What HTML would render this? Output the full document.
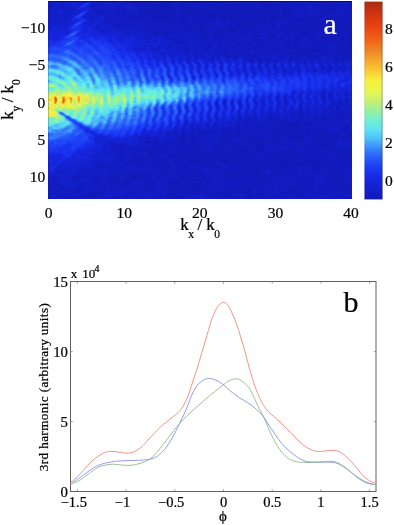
<!DOCTYPE html>
<html><head><meta charset="utf-8"><title>figure</title>
<style>
html,body{margin:0;padding:0;background:#fff}
body{width:394px;height:525px;position:relative;overflow:hidden;font-family:"Liberation Serif",serif}
#h{position:absolute;left:48px;top:1px;width:304px;height:198px;background:#1018c4}
#h i{display:block;height:1px;width:100%}
#hb{position:absolute;left:48px;top:1px;width:304px;height:198px;box-sizing:border-box;border-top:1px solid #0a0e50;border-left:1px solid rgba(8,10,90,.22)}
svg{position:absolute;left:0;top:0;will-change:transform}
text{font-family:"Liberation Serif",serif;stroke:#000;stroke-width:.22px}
text.w{stroke:#fff}
</style></head><body>
<div id="h">
<i style="background:linear-gradient(90deg,#111abc,#121ec8,#121cc0,#1320cf,#121dc6,#1322d3,#121dc5,#111bbf,#121ec7,#121fca,#121fcb,#121dc5,#121dc4,#1320cf,#1323d5,#121fcc,#121dc5,#121ec8,#1321d0,#111bc0,#121ec7,#1323d5,#1220cc,#121ec9,#121ec7,#121fca,#121dc3,#121cc0,#121fcb,#111bc0,#1119b9,#121fca,#121cc2,#121dc5,#121dc4,#121dc5,#1320cf,#121dc5,#121ec7,#1119b8,#121cc0,#1119b9,#1119b9,#1119b9,#1119b8,#121cc0,#1119b8,#111abd,#111bbf,#1119b8,#1119b8,#1119b8,#111aba,#121cc2,#111abc,#1119b8,#121cc3,#121ec8,#1119b8,#111aba,#111abc,#1119b8,#111aba,#111abd,#111bbf,#121dc6,#111bbd,#1119b9,#1119b8,#111bbd,#1119b8,#111bbf,#1119b9,#121cc1,#111aba,#111aba,#121cc2,#111aba,#1119b8,#1119b8,#111bbe,#111abc,#111abb,#1119b9,#111bbf,#111abc,#1119b8,#1119b8,#1119b9,#1119b8,#1119b8,#1119b8,#111bbe,#1119b8,#121dc4,#111abb,#111bbd,#1119b9,#111bbe,#111bbe,#121cc1,#111bbe,#111abb,#111bbe,#121cc2,#121ec7,#1119b8,#1119b8,#111bbd,#1119b8,#111aba,#111abb,#1119b8,#1119b8,#1119b8,#121cc3,#1119b8,#1119b9,#111abc,#1119b9,#121cc3,#121cc3,#121cc1,#111abd,#111aba,#111bbe,#111abb,#111bbf,#121cc1,#121dc5,#121dc5,#121dc4,#111bbf,#111bc0,#111bbf,#1119b8,#111abb,#111abc,#111abd,#1119b9,#111bbe,#111bbf,#111bc0,#111abd,#111bbe,#1119b8,#121cc1,#111bbf,#121cc1,#111bbf,#121ec9,#1119b8,#111abc)"></i>
<i style="background:linear-gradient(90deg,#111abc,#121ec8,#121cc0,#1321cf,#121ec6,#1322d4,#121dc5,#111bc0,#121ec7,#121fca,#121fcb,#121dc5,#121dc4,#1320cf,#1323d6,#121fcb,#121cc3,#121fca,#1322d2,#121cc2,#1527df,#1527df,#121ec7,#121ec8,#121ec7,#121ec9,#121dc3,#121cc0,#121fcb,#121cc0,#1119b9,#121fca,#121cc2,#121dc5,#121dc4,#121dc5,#1320cf,#121dc5,#121ec7,#1119b8,#121cc0,#1119b9,#1119b9,#1119b9,#1119b8,#121cc0,#1119b8,#111abd,#111bbf,#1119b8,#1119b8,#1119b8,#111aba,#121cc2,#111abc,#1119b8,#121cc3,#121ec8,#1119b8,#111aba,#111abc,#1119b8,#111aba,#111abd,#111bbf,#121dc6,#111bbd,#1119b9,#1119b8,#111bbd,#1119b8,#111bbf,#1119b9,#121cc1,#111aba,#111aba,#121cc2,#111aba,#1119b8,#1119b8,#111bbe,#111abc,#111abb,#1119b9,#111bbf,#111abc,#1119b8,#1119b8,#1119b9,#1119b8,#1119b8,#1119b8,#111bbe,#1119b8,#121dc4,#111abb,#111bbd,#1119b9,#111bbe,#111bbe,#121cc1,#111bbe,#111abb,#111bbe,#121cc2,#121ec7,#1119b8,#1119b8,#111bbd,#1119b8,#111aba,#111abb,#1119b8,#1119b8,#1119b8,#121cc3,#1119b8,#1119b9,#111abc,#1119b9,#121cc3,#121cc3,#121cc1,#111abd,#111aba,#111bbe,#111abb,#111bbf,#121cc1,#121dc5,#121dc5,#121dc4,#111bbf,#111bc0,#111bbf,#1119b8,#111abb,#111abc,#111abd,#1119b9,#111bbe,#111bbf,#111bc0,#111abd,#111bbe,#1119b8,#121cc1,#111bbf,#121cc1,#111bbf,#121ec9,#1119b8,#111abc)"></i>
<i style="background:linear-gradient(90deg,#121ec7,#111bbf,#111bc0,#121fcb,#121fcb,#1321d1,#121cc3,#121cc1,#121cc0,#1220cd,#121fca,#1320cd,#1220cd,#1220cd,#1323d5,#121fca,#121fcc,#121cc2,#1423d7,#182feb,#1b38f2,#1424d9,#111bbf,#111bbd,#121dc4,#121cc2,#111bbf,#121dc6,#121ec9,#1320cd,#1320ce,#121fcc,#121dc5,#121dc4,#1321d2,#121dc6,#111bbe,#1119b9,#121dc4,#121ec6,#121cc0,#121ec8,#121cc2,#111bbe,#1119b8,#1119b8,#111bc0,#111bc0,#121cc1,#1119b8,#1119b8,#1119b8,#1119b8,#111abd,#111abc,#121cc3,#111aba,#111bbd,#1119b8,#1119b8,#1119b8,#1119b8,#111bbd,#121ec9,#121cc1,#1119b8,#1119b8,#1119b8,#1119b8,#1119b8,#111bbf,#111bbf,#121dc3,#111bbf,#121cc0,#121dc4,#1119b8,#121dc6,#111abc,#1119b8,#121cc3,#1119b8,#111abb,#111bbd,#111abc,#111abc,#1119b8,#111bc0,#1119b8,#1119b8,#1119b8,#121cc3,#121dc3,#1119b8,#121cc2,#111bbd,#111abb,#1119b8,#1119b8,#1119b8,#121cc0,#1119ba,#1119b8,#1119b8,#121ec7,#111bc0,#1119b8,#1119b8,#1119b8,#111abb,#1119b8,#1119b8,#1119b8,#1119b8,#1119b8,#1119b8,#1119b8,#1119b8,#111bc0,#111abb,#1119b8,#111abb,#1119b8,#111abd,#111abc,#1119b9,#121cc1,#121cc2,#121cc0,#121cc3,#111bbe,#121cc1,#121ec6,#1119b8,#121cc0,#111bbd,#111bbd,#1119b8,#1119b8,#111bbe,#111abb,#111abb,#111bbf,#1119b8,#111bbe,#111aba,#121dc5,#121ec8,#121dc3,#111bbe,#1119b8,#1119b8,#1119b8)"></i>
<i style="background:linear-gradient(90deg,#121ec7,#111bbf,#111bc0,#121fcb,#121fcb,#1321d1,#121dc3,#121cc1,#121cc0,#1320cd,#121fca,#1320cd,#1320cd,#1320cd,#1323d5,#121fca,#1320cd,#121dc3,#1933f0,#1e41f5,#172ce7,#1220cd,#111bc0,#111bbd,#121dc4,#121cc3,#111bbf,#121dc5,#121ec9,#1320ce,#1320cf,#121fcc,#121dc5,#121dc4,#1321d2,#121ec6,#111bbe,#1119b9,#121dc4,#121ec6,#111bc0,#121ec8,#121cc2,#111bbe,#1119b8,#1119b8,#111bc0,#111bc0,#121cc1,#1119b8,#1119b8,#1119b8,#1119b8,#111abd,#111abc,#121cc3,#111aba,#111bbd,#1119b8,#1119b8,#1119b8,#1119b8,#111bbd,#121ec9,#121cc1,#1119b8,#1119b8,#1119b8,#1119b8,#1119b8,#111bbf,#111bbf,#121dc3,#111bbf,#121cc0,#121dc4,#1119b8,#121dc6,#111abc,#1119b8,#121cc3,#1119b8,#111abb,#111bbd,#111abc,#111abc,#1119b8,#111bc0,#1119b8,#1119b8,#1119b8,#121cc3,#121dc3,#1119b8,#121cc2,#111bbd,#111abb,#1119b8,#1119b8,#1119b8,#121cc0,#1119ba,#1119b8,#1119b8,#121ec7,#111bc0,#1119b8,#1119b8,#1119b8,#111abb,#1119b8,#1119b8,#1119b8,#1119b8,#1119b8,#1119b8,#1119b8,#1119b8,#111bc0,#111abb,#1119b8,#111abb,#1119b8,#111abd,#111abc,#1119b9,#121cc1,#121cc2,#121cc0,#121cc3,#111bbe,#121cc1,#121ec6,#1119b8,#121cc0,#111bbd,#111bbd,#1119b8,#1119b8,#111bbe,#111abb,#111abb,#111bbf,#1119b8,#111bbe,#111aba,#121dc5,#121ec8,#121dc3,#111bbe,#1119b8,#1119b8,#1119b8)"></i>
<i style="background:linear-gradient(90deg,#121ec9,#1119b8,#1119ba,#121cc1,#121fca,#1321d1,#121fcc,#111abb,#121ec7,#1321d0,#121ec8,#121fcb,#1320cf,#1321d0,#1321d1,#121cc3,#121dc4,#1424d8,#1e41f5,#172de8,#1321d1,#121dc5,#111bbf,#111bbe,#111aba,#121dc3,#111bbe,#121dc4,#121ec8,#1322d3,#1320ce,#121ec7,#121fcb,#121ec8,#121fca,#121cc0,#111bbd,#121cc3,#121ec8,#121ec7,#121fca,#121ec8,#121cc0,#121cc0,#111bbe,#111bbe,#111bc0,#121dc6,#121dc6,#111abb,#111bbd,#1119b8,#121cc0,#111bbe,#111bbf,#111bbe,#1119b8,#1119b8,#1119b8,#1119b8,#1119b9,#1119ba,#111bbd,#121dc4,#121dc3,#121dc4,#1119b8,#1119b8,#111abd,#121cc0,#1119b9,#111bbd,#121cc1,#121dc4,#121dc6,#121ec7,#1119b8,#111bbd,#121fca,#121dc4,#111aba,#1119b8,#1119b9,#111abd,#111abd,#111bbf,#111bc0,#111bbe,#1119b8,#111bbd,#1119b8,#111abb,#111abc,#1119b8,#111abb,#121dc3,#111bc0,#1119b8,#111abb,#111aba,#1119b8,#111abb,#1119b8,#121ec9,#111bbd,#1119b8,#111bbe,#1119b8,#111abc,#111abb,#121cc1,#111abb,#1119b8,#111bbd,#111bc0,#1119b8,#1119b8,#1119b8,#111abc,#111bbd,#121cc3,#1119b8,#111abb,#111bbe,#121dc4,#121cc0,#1119b9,#121cc1,#1119b8,#111bbf,#121ec7,#121ec7,#121dc5,#1119b8,#121ec7,#1119b8,#1119b9,#111bbe,#111bbd,#111bbf,#1119b8,#111bbf,#111bbf,#121cc1,#111abc,#111bbf,#111bc0,#121cc1,#111bbe,#111abc,#1119b9,#1119b8,#1119b8)"></i>
<i style="background:linear-gradient(90deg,#121ec9,#1119b8,#1119ba,#121cc0,#121fca,#1321d1,#121fcc,#111abb,#121ec7,#1321d0,#121ec8,#121fcb,#1320cf,#1321d1,#1321d1,#121dc4,#1321d0,#1a35f1,#1b37f2,#121ec9,#1321d0,#121dc4,#111bbf,#111bbe,#111aba,#121dc4,#111bbf,#121dc4,#121ec8,#1322d3,#1320ce,#121ec7,#121fcb,#121ec8,#121fca,#121cc0,#111bbd,#121cc3,#121ec9,#121ec7,#121fca,#121ec8,#121cc0,#121cc0,#111bbe,#111bbe,#111bc0,#121dc6,#121dc6,#111abb,#111bbd,#1119b8,#121cc0,#111bbe,#111bbf,#111bbe,#1119b8,#1119b8,#1119b8,#1119b8,#1119b9,#1119ba,#111bbd,#121dc4,#121dc3,#121dc4,#1119b8,#1119b8,#111abd,#121cc0,#1119b9,#111bbd,#121cc1,#121dc4,#121dc6,#121ec7,#1119b8,#111bbd,#121fca,#121dc4,#111aba,#1119b8,#1119b9,#111abd,#111abd,#111bbf,#111bc0,#111bbe,#1119b8,#111bbd,#1119b8,#111abb,#111abc,#1119b8,#111abb,#121dc3,#111bc0,#1119b8,#111abb,#111aba,#1119b8,#111abb,#1119b8,#121ec9,#111bbd,#1119b8,#111bbe,#1119b8,#111abc,#111abb,#121cc1,#111abb,#1119b8,#111bbd,#111bc0,#1119b8,#1119b8,#1119b8,#111abc,#111bbd,#121cc3,#1119b8,#111abb,#111bbe,#121dc4,#121cc0,#1119b9,#121cc1,#1119b8,#111bbf,#121ec7,#121ec7,#121dc5,#1119b8,#121ec7,#1119b8,#1119b9,#111bbe,#111bbd,#111bbf,#1119b8,#111bbf,#111bbf,#121cc1,#111abc,#111bbf,#111bc0,#121cc1,#111bbe,#111abc,#1119b9,#1119b8,#1119b8)"></i>
<i style="background:linear-gradient(90deg,#121ec7,#121cc0,#121fcc,#1321d0,#121ec9,#1320cd,#1320ce,#121cc2,#111bbf,#121ec8,#121cc2,#111bbf,#111bbf,#121dc5,#121fcb,#1424d9,#182eea,#1830ed,#1321d1,#1322d4,#1323d6,#121ec8,#111bbd,#121cc1,#121fca,#121fcb,#121fcb,#121cc3,#111bbe,#121fca,#121ec7,#121ec9,#121fcc,#1220cd,#121ec7,#1119b8,#111aba,#121dc5,#1119b9,#111bc0,#121ec6,#121fcc,#121fca,#1220cd,#121dc4,#121cc3,#111bbf,#111abc,#111bbf,#121dc5,#111bbf,#111aba,#111abc,#1119b8,#1119b8,#111bbd,#121cc0,#111abc,#111abb,#111aba,#1119b8,#1119b8,#111bbd,#111bc0,#121cc0,#121ec7,#111bbe,#1119b8,#111abb,#111bbe,#1119b9,#111aba,#111abb,#111bc0,#111bc0,#1119b8,#1119b8,#1119b8,#121dc5,#121dc4,#121fcc,#111bbd,#111abd,#1119b8,#1119b8,#111abc,#111abd,#1119b8,#1119b8,#121cc0,#111bbd,#111aba,#111abc,#1119b8,#1119b8,#121ec8,#121dc5,#111bbf,#111abc,#111bbd,#111bbe,#111abd,#1119b8,#111bbf,#1119b8,#111bbe,#1220cd,#111bbe,#111bbf,#111bc0,#111abb,#111bbf,#111abb,#1119b8,#121cc2,#111bbd,#111abb,#111aba,#1119b8,#1119b8,#111aba,#1119b8,#1119b8,#1119b8,#111bbe,#121dc6,#121dc3,#111abd,#111abc,#1119b8,#121dc5,#121cc1,#121cc2,#121dc4,#111abc,#111bc0,#1119b9,#111bbe,#1119b8,#111bc0,#121cc1,#111bbe,#1119b8,#1119b8,#1119b8,#121dc4,#121cc2,#111abb,#1119b8,#1119b8,#1119b8,#121cc0,#111bbf)"></i>
<i style="background:linear-gradient(90deg,#121ec7,#121cc0,#1220cc,#1321d1,#121ec9,#1320ce,#1320ce,#121cc2,#111bbf,#121ec8,#121cc2,#111bbf,#111bbf,#121dc5,#1320ce,#162be5,#172de8,#1320ce,#1322d2,#1322d4,#1323d5,#121fcb,#121cc0,#111bc0,#121fca,#121fcb,#121fcc,#121dc4,#111bbf,#121fca,#121ec7,#121ec9,#1220cc,#1220cd,#121ec7,#1119b8,#111aba,#121dc5,#1119b9,#111bc0,#121ec7,#121fcc,#121fca,#1220cd,#121dc4,#121cc3,#111bbf,#111abc,#111bbf,#121dc5,#111bbf,#111aba,#111abc,#1119b8,#1119b8,#111bbd,#121cc0,#111abc,#111abb,#111aba,#1119b8,#1119b8,#111bbd,#111bc0,#121cc0,#121ec7,#111bbe,#1119b8,#111abb,#111bbe,#1119b9,#111aba,#111abb,#111bc0,#111bc0,#1119b8,#1119b8,#1119b8,#121dc5,#121dc4,#121fcc,#111bbd,#111abd,#1119b8,#1119b8,#111abc,#111abd,#1119b8,#1119b8,#121cc0,#111bbd,#111aba,#111abc,#1119b8,#1119b8,#121ec8,#121dc5,#111bbf,#111abc,#111bbd,#111bbe,#111abd,#1119b8,#111bbf,#1119b8,#111bbe,#1220cd,#111bbe,#111bbf,#111bc0,#111abb,#111bbf,#111abb,#1119b8,#121cc2,#111bbd,#111abb,#111aba,#1119b8,#1119b8,#111aba,#1119b8,#1119b8,#1119b8,#111bbe,#121dc6,#121dc3,#111abd,#111abc,#1119b8,#121dc5,#121cc1,#121cc2,#121dc4,#111abc,#111bc0,#1119b9,#111bbe,#1119b8,#111bc0,#121cc1,#111bbe,#1119b8,#1119b8,#1119b8,#121dc4,#121cc2,#111abb,#1119b8,#1119b8,#1119b8,#121cc0,#111bbf)"></i>
<i style="background:linear-gradient(90deg,#121ec6,#121dc4,#121fcb,#121cc2,#121dc6,#1320cd,#1322d2,#121fca,#1320ce,#121cc3,#121dc5,#121fca,#121ec7,#121cc3,#1320ce,#1423d7,#1220cd,#1323d6,#1424da,#1423d8,#1321d2,#1424da,#121ec8,#121ec8,#111bbe,#1119b9,#111abb,#121cc1,#121dc3,#1321d1,#121ec8,#121dc6,#121ec7,#121cc2,#1119b8,#111bc0,#121cc1,#121ec8,#111aba,#111aba,#121dc6,#121dc4,#121dc6,#121ec9,#121dc4,#111abc,#1119b8,#111aba,#111abb,#1119b8,#1119b8,#1119b9,#111abb,#1119b8,#1119b9,#111abc,#121cc0,#111aba,#111bbd,#1119b9,#1119b8,#111bc0,#1119b8,#1119b8,#121cc0,#121dc3,#111abc,#111bbd,#111aba,#111bbe,#1119b8,#111bbf,#1119b8,#1119b9,#121cc3,#111bc0,#1119b9,#1119b8,#1119b8,#111bbf,#111aba,#121cc3,#121dc5,#111bbe,#121cc2,#121fcb,#111bbf,#1119b8,#111aba,#111bbe,#1119b8,#1119b8,#111bbe,#111abb,#1119b8,#1119b9,#121cc1,#111abb,#1119b8,#111abb,#111abb,#1119b8,#111aba,#111bbf,#1119b8,#111abb,#121cc1,#1119b8,#111abc,#111abc,#1119b8,#111bbe,#111aba,#111bc0,#111bbf,#121cc2,#111bbf,#111bbf,#111abb,#1119b8,#111bbf,#1119b8,#1119b8,#1119b8,#111aba,#111bbe,#111bbd,#111bbf,#111bbe,#111abc,#121cc0,#121cc0,#121fca,#1119b9,#1119b9,#121cc3,#1119b8,#111bbe,#1119b8,#1119b8,#1119b8,#1119b8,#1119b8,#1119b8,#111aba,#111abb,#111bbd,#121cc3,#111aba,#111bbf,#1119b8,#111abb,#1119b8)"></i>
<i style="background:linear-gradient(90deg,#121ec7,#121dc5,#121fcb,#121cc2,#121dc6,#1320ce,#1322d3,#121fca,#1320ce,#121dc4,#121dc5,#121fcb,#121ec8,#121dc5,#1320cf,#121fcb,#1320cd,#1423d7,#1424da,#1527e0,#162ae3,#1323d6,#121dc4,#121ec8,#111bbd,#1119b8,#111abb,#121cc1,#121dc4,#1322d2,#121ec9,#121dc6,#121ec7,#121cc2,#1119b8,#111bc0,#121cc1,#121ec8,#111aba,#111aba,#121ec6,#121dc4,#121dc6,#121ec9,#121dc4,#111abc,#1119b8,#111aba,#111abb,#1119b8,#1119b8,#1119b9,#111abb,#1119b8,#1119b9,#111abc,#121cc0,#111aba,#111bbd,#1119b9,#1119b8,#111bc0,#1119b8,#1119b8,#121cc0,#121dc3,#111abc,#111bbd,#111aba,#111bbe,#1119b8,#111bbf,#1119b8,#1119b9,#121cc3,#111bc0,#1119b9,#1119b8,#1119b8,#111bbf,#111aba,#121cc3,#121dc5,#111bbe,#121cc2,#121fcb,#111bbf,#1119b8,#111aba,#111bbe,#1119b8,#1119b8,#111bbe,#111abb,#1119b8,#1119b9,#121cc1,#111abb,#1119b8,#111abb,#111abb,#1119b8,#111aba,#111bbf,#1119b8,#111abb,#121cc1,#1119b8,#111abc,#111abc,#1119b8,#111bbe,#111aba,#111bc0,#111bbf,#121cc2,#111bbf,#111bbf,#111abb,#1119b8,#111bbf,#1119b8,#1119b8,#1119b8,#111aba,#111bbe,#111bbd,#111bbf,#111bbe,#111abc,#121cc0,#121cc0,#121fca,#1119b9,#1119b9,#121cc3,#1119b8,#111bbe,#1119b8,#1119b8,#1119b8,#1119b8,#1119b8,#1119b8,#111aba,#111abb,#111bbd,#121cc3,#111aba,#111bbf,#1119b8,#111abb,#1119b8)"></i>
<i style="background:linear-gradient(90deg,#121fca,#121dc6,#121ec8,#121fcb,#121ec7,#1321d1,#1425db,#121fca,#1321d1,#121fcc,#111bc0,#121dc5,#121ec6,#121ec9,#1320ce,#121ec7,#1322d3,#1424da,#1424d9,#1b37f2,#1321d2,#121ec6,#121cc0,#121dc4,#121dc4,#121cc3,#111abc,#111bbd,#121dc5,#121fca,#121dc4,#121ec7,#121ec9,#121fca,#121dc3,#111aba,#121cc1,#121ec9,#121cc2,#121dc5,#121dc5,#121fc9,#121ec7,#121dc5,#121dc5,#121fca,#111abc,#1119b9,#121cc1,#1119b8,#1119b8,#1119b8,#1119b8,#1119b8,#111abc,#121cc1,#121cc2,#111abb,#111bbd,#111abc,#111bbd,#111aba,#121ec7,#111abc,#121ec7,#121ec9,#111bbd,#111bbe,#111abc,#111abb,#111aba,#1119b8,#1119b8,#1119b8,#1119b8,#1119b8,#1119b9,#121cc1,#1119b8,#121cc2,#1119b8,#1119b9,#1119b8,#111abb,#121cc0,#111abb,#121dc4,#121cc2,#121cc1,#1119b8,#1119b8,#1119b8,#1119b8,#111abb,#111abc,#111bbd,#111bbf,#121cc0,#1119b8,#1119b8,#111bbd,#111abc,#111bbf,#111aba,#1119b8,#111abc,#1119b8,#111abb,#111abc,#1119b8,#1119b8,#1119b8,#1119b8,#1119b8,#111abc,#111abb,#121cc2,#111bbf,#1119b8,#1119b8,#1119b8,#1119b8,#1119b8,#111abc,#121cc2,#111bbf,#121dc4,#121cc0,#111abc,#111aba,#111bbe,#121cc2,#121dc5,#111bbd,#111abb,#121fca,#1119b9,#111bbd,#1119b8,#111bbf,#1119b8,#111aba,#121cc2,#1119b8,#111bc0,#111bbe,#121cc1,#111bc0,#111bc0,#111aba,#1119b8,#1119b8,#1119b8)"></i>
<i style="background:linear-gradient(90deg,#121fca,#121dc6,#121ec8,#121fcb,#121ec7,#1321d1,#1425db,#121fca,#1321d1,#1220cc,#121cc0,#121dc6,#121ec7,#121ec8,#1320cf,#121ec9,#1322d5,#1528e1,#1d3ef4,#1a34f1,#111bc0,#121dc5,#121cc1,#121dc5,#121dc5,#121dc3,#111abc,#111abd,#121dc5,#121fca,#121dc5,#121ec8,#121ec9,#121fca,#121dc4,#111abb,#121cc1,#121ec9,#121cc2,#121dc5,#121dc5,#121fca,#121ec7,#121dc5,#121dc5,#121fca,#111abc,#1119b9,#121cc1,#1119b8,#1119b8,#1119b8,#1119b8,#1119b8,#111abc,#121cc1,#121cc2,#111abb,#111bbd,#111abc,#111bbd,#111aba,#121ec7,#111abc,#121ec7,#121ec9,#111bbd,#111bbe,#111abc,#111abb,#111aba,#1119b8,#1119b8,#1119b8,#1119b8,#1119b8,#1119b9,#121cc1,#1119b8,#121cc2,#1119b8,#1119b9,#1119b8,#111abb,#121cc0,#111abb,#121dc4,#121cc2,#121cc1,#1119b8,#1119b8,#1119b8,#1119b8,#111abb,#111abc,#111bbd,#111bbf,#121cc0,#1119b8,#1119b8,#111bbd,#111abc,#111bbf,#111aba,#1119b8,#111abc,#1119b8,#111abb,#111abc,#1119b8,#1119b8,#1119b8,#1119b8,#1119b8,#111abc,#111abb,#121cc2,#111bbf,#1119b8,#1119b8,#1119b8,#1119b8,#1119b8,#111abc,#121cc2,#111bbf,#121dc4,#121cc0,#111abc,#111aba,#111bbe,#121cc2,#121dc5,#111bbd,#111abb,#121fca,#1119b9,#111bbd,#1119b8,#111bbf,#1119b8,#111aba,#121cc2,#1119b8,#111bc0,#111bbe,#121cc1,#111bc0,#111bc0,#111aba,#1119b8,#1119b8,#1119b8)"></i>
<i style="background:linear-gradient(90deg,#121cc2,#121fca,#121ec8,#1322d3,#121dc5,#1320ce,#1220cc,#121fca,#121dc6,#121ec9,#121dc6,#121fca,#121fcb,#121fcc,#121dc6,#1323d5,#1425db,#2047f7,#1f44f6,#1323d5,#121ec7,#121fcb,#121ec9,#121dc6,#121dc5,#111abc,#121cc3,#121ec8,#121cc1,#121fca,#121fca,#121cc2,#121dc4,#121ec8,#121cc1,#121cc3,#121fca,#121ec7,#1119b8,#121cc2,#121dc6,#111abc,#1119b8,#121cc2,#1321d2,#121cc3,#121cc0,#1119b9,#121cc1,#111bbf,#111bbe,#111abc,#121cc1,#121cc2,#111bbf,#111bbf,#111abb,#111abb,#111bc0,#111abc,#111abd,#111aba,#111abb,#121dc5,#111bbf,#111bbf,#1119b8,#111abd,#1119b8,#121cc0,#1119b8,#1119b8,#1119b9,#111aba,#1119b8,#1119b8,#1119b8,#1119b8,#1119b8,#121cc0,#1119b8,#111abd,#1119b8,#1119b8,#1119b8,#111aba,#1119b8,#1119b8,#1119b8,#1119b8,#111abc,#1119b8,#1119b8,#1119b8,#111abb,#111bbf,#121cc2,#111bbd,#111abb,#1119b8,#1119b8,#1119b8,#111aba,#1119b8,#111bbf,#1119b8,#111bbf,#111aba,#111abb,#111abb,#111bbe,#1119b8,#111bc0,#1119b9,#111aba,#111abb,#111abb,#111aba,#1119b8,#1119b8,#121cc2,#1119b8,#1119b8,#1119b8,#121dc4,#111abc,#121dc6,#121cc0,#1119ba,#1119b9,#111abc,#111bbf,#121dc4,#1119b9,#111abb,#111bc0,#111aba,#1119b8,#111bbf,#111bbf,#121cc1,#111bbf,#111bbe,#121cc3,#111bbd,#121cc2,#121dc5,#111bbf,#111abb,#1119b8,#1119b9,#1119b8,#1119b8)"></i>
<i style="background:linear-gradient(90deg,#121cc2,#121fca,#121ec8,#1322d3,#121dc5,#1320ce,#121fcc,#121fca,#121dc6,#121ec9,#121dc6,#121fca,#121fcb,#1320cd,#121ec8,#1424d9,#1e42f5,#224cf9,#1629e3,#121fcc,#121dc6,#121fcb,#121ec9,#121dc6,#121dc6,#111bbd,#121dc4,#121ec8,#121cc0,#121fca,#121fcb,#121cc2,#121dc4,#121ec8,#121cc2,#121cc3,#121fca,#121ec7,#1119b8,#121cc2,#121dc6,#111abc,#1119b8,#121cc2,#1321d2,#121cc3,#121cc0,#1119b9,#121cc1,#111bbf,#111bbe,#111abc,#121cc1,#121cc2,#111bc0,#111bbf,#111abb,#111abb,#111bc0,#111abc,#111abd,#111aba,#111abb,#121dc5,#111bbf,#111bbf,#1119b8,#111abd,#1119b8,#121cc0,#1119b8,#1119b8,#1119b9,#111aba,#1119b8,#1119b8,#1119b8,#1119b8,#1119b8,#121cc0,#1119b8,#111abd,#1119b8,#1119b8,#1119b8,#111aba,#1119b8,#1119b8,#1119b8,#1119b8,#111abc,#1119b8,#1119b8,#1119b8,#111abb,#111bbf,#121cc2,#111bbd,#111abb,#1119b8,#1119b8,#1119b8,#111aba,#1119b8,#111bbf,#1119b8,#111bbf,#111aba,#111abb,#111abb,#111bbe,#1119b8,#111bc0,#1119b9,#111aba,#111abb,#111abb,#111aba,#1119b8,#1119b8,#121cc2,#1119b8,#1119b8,#1119b8,#121dc4,#111abc,#121dc6,#121cc0,#1119ba,#1119b9,#111abc,#111bbf,#121dc4,#1119b9,#111abb,#111bc0,#111aba,#1119b8,#111bbf,#111bbf,#121cc1,#111bbf,#111bbe,#121cc3,#111bbd,#121cc2,#121dc5,#111bbf,#111abb,#1119b8,#1119b9,#1119b8,#1119b8)"></i>
<i style="background:linear-gradient(90deg,#121ec9,#121dc4,#111abb,#121fcb,#121dc6,#1321d2,#121cc3,#111bbf,#121fcb,#121fcc,#121dc5,#121cc3,#121ec7,#1322d4,#1424d8,#1c3cf3,#2350fa,#172de8,#1322d3,#121fcc,#121dc5,#121dc6,#121cc3,#121cc2,#121fcb,#1320cd,#1320ce,#1321cf,#111bbf,#121dc5,#121ec8,#1119b8,#111bc0,#121dc4,#121cc1,#121dc3,#121cc2,#121cc2,#121dc3,#121cc2,#111abb,#1119b8,#111abc,#121cc2,#121ec9,#111bbe,#121dc6,#1119b9,#111bc0,#111bbd,#111bc0,#121cc1,#111bbe,#1119b8,#1119b8,#1119b8,#111abc,#1119b8,#1119b8,#1119b8,#1119b8,#1119b9,#1119b8,#1119b8,#121ec9,#121ec7,#111abb,#1119b9,#1119b8,#121ec7,#111abb,#111bc0,#111abb,#1119b8,#121cc1,#111abd,#111bbe,#1119b8,#111abc,#1119b8,#1119b9,#1119b8,#1119b8,#1119b9,#1119b8,#111abc,#121cc1,#1119b8,#1119b8,#1119b8,#111abc,#1119b8,#1119b8,#1119b8,#121ec7,#111bbd,#111bbf,#1119b8,#121ec8,#121cc0,#111abb,#121dc5,#1119b8,#111abb,#1119b8,#1119b8,#121cc3,#1119b8,#111abc,#111abb,#1119b9,#1119b8,#1119b8,#1119b8,#1119b8,#1119b8,#121dc3,#111aba,#111abb,#1119b8,#1119b8,#1119b8,#111aba,#121cc3,#121cc1,#121dc4,#111abc,#111bbf,#111abd,#1119ba,#121dc4,#111aba,#121ec7,#1119b8,#1119b8,#111aba,#1119b8,#111bbf,#111abc,#121cc1,#111bbd,#121cc1,#111bc0,#111bbe,#1119b8,#1119ba,#111bbd,#1119b8,#121dc4,#121cc2,#111bbd,#111bbf,#111abc)"></i>
<i style="background:linear-gradient(90deg,#121fca,#121dc5,#111abc,#121fcb,#121dc6,#1322d2,#121dc3,#111bc0,#121fcc,#1220cc,#121dc5,#121cc2,#121ec7,#1322d4,#1830ee,#2047f7,#1b38f2,#1323d6,#1322d2,#121fcb,#121dc5,#121ec8,#121dc3,#121cc2,#121fcb,#1320ce,#1320cf,#1321d1,#111bc0,#121dc5,#121ec8,#1119b8,#121cc0,#121dc5,#121cc1,#121dc4,#121cc2,#121cc2,#121dc4,#121cc2,#111abb,#1119b8,#111abc,#121cc2,#121ec9,#111bbe,#121dc6,#1119b9,#111bc0,#111bbd,#111bc0,#121cc1,#111bbe,#1119b8,#1119b8,#1119b8,#111abc,#1119b8,#1119b9,#1119b8,#1119b8,#1119b9,#1119b8,#1119b8,#121ec9,#121ec7,#111abb,#1119b9,#1119b8,#121ec7,#111abc,#111bc0,#111abb,#1119b8,#121cc1,#111abd,#111bbe,#1119b8,#111abc,#1119b8,#1119b9,#1119b8,#1119b8,#1119b9,#1119b8,#111abc,#121cc1,#1119b8,#1119b8,#1119b8,#111abc,#1119b8,#1119b8,#1119b8,#121ec7,#111bbd,#111bbf,#1119b8,#121ec8,#121cc0,#111abb,#121dc5,#1119b8,#111abb,#1119b8,#1119b8,#121cc3,#1119b8,#111abc,#111abb,#1119b9,#1119b8,#1119b8,#1119b8,#1119b8,#1119b8,#121dc3,#111aba,#111abb,#1119b8,#1119b8,#1119b8,#111aba,#121cc3,#121cc1,#121dc4,#111abc,#111bbf,#111abd,#1119ba,#121dc4,#111aba,#121ec7,#1119b8,#1119b8,#111aba,#1119b8,#111bbf,#111abc,#121cc1,#111bbd,#121cc1,#111bc0,#111bbe,#1119b8,#1119ba,#111bbd,#1119b8,#121dc4,#121cc2,#111bbd,#111bbf,#111abc)"></i>
<i style="background:linear-gradient(90deg,#1220cc,#121ec7,#121cc3,#121fcb,#121ec8,#1220cd,#121fcb,#121dc4,#1320cf,#111bc0,#121ec6,#121cc1,#121dc5,#172ce6,#1c3bf3,#1b38f2,#162be6,#172ce6,#1321d0,#121ec7,#1321d0,#121fca,#111bbe,#1320ce,#1321d1,#121fcc,#1321d2,#1424d9,#121dc6,#121cc1,#111bbd,#111bbf,#121dc4,#111bbf,#111abb,#111bbf,#121cc1,#121ec8,#111bbe,#111bbf,#1119b9,#111abc,#111bbd,#1119b8,#111abc,#1119b8,#111bbf,#111abd,#111bbf,#121cc1,#121cc1,#121ec9,#111aba,#1119b8,#1119b8,#111abd,#1119b8,#111abb,#121cc1,#1119b8,#111bbd,#121ec7,#111bbd,#111abb,#121cc1,#111bbd,#1119b8,#1119b8,#111bbf,#1119b9,#111bbe,#111bbd,#121cc1,#1119b8,#111bbd,#111aba,#1119ba,#111bbe,#1119b8,#1119b8,#111bbf,#1119b8,#1119b8,#1119b8,#111bbf,#121dc5,#121cc2,#111bbf,#1119b8,#1119b8,#111bbf,#1119b8,#1119b8,#1119b8,#111aba,#1119b8,#111abb,#111bbe,#111abd,#111bbe,#111aba,#111abd,#1119b8,#1119b9,#111abb,#111abd,#111abb,#1119b8,#1119b8,#1119b8,#111bc0,#111aba,#1119b8,#1119b8,#1119b8,#1119b9,#111abc,#111bbd,#111abb,#1119b8,#111abb,#1119b8,#1119b8,#111abb,#111bbd,#111bbf,#121cc0,#111abc,#111abb,#1119b8,#1119b9,#111bbe,#121cc1,#1119b8,#1119b8,#111bbd,#111bbf,#111abb,#111bbe,#111bbd,#1119b9,#1119b8,#111abb,#111aba,#1119b8,#111abb,#111bbd,#121cc0,#111bc0,#121dc5,#111abc,#1119b8,#111bbf)"></i>
<i style="background:linear-gradient(90deg,#1220cd,#121ec8,#121dc4,#121fcb,#121ec9,#1320cd,#121fcc,#121dc5,#1321cf,#121cc1,#121ec7,#121cc2,#121fca,#1932f0,#1831ee,#162be5,#162be6,#162be5,#1320cf,#1321d0,#1321d2,#121ec9,#111bbe,#1320ce,#1321d1,#121fcc,#1322d2,#1424da,#121ec7,#121cc2,#111bbd,#111bbe,#121dc4,#111bbf,#111abc,#111bbf,#121cc1,#121ec8,#111bbe,#111bbf,#1119ba,#111abd,#111bbd,#1119b8,#111abc,#1119b8,#111bbf,#111abd,#111bbf,#121cc1,#121cc1,#121ec9,#111aba,#1119b9,#1119b8,#111abd,#1119b9,#111abb,#121cc1,#1119b8,#111bbe,#121ec7,#111bbe,#111abb,#121cc1,#111bbd,#1119b8,#1119b8,#111bbf,#1119b9,#111bbe,#111bbd,#121cc1,#1119b8,#111bbd,#111aba,#111aba,#111bbe,#1119b8,#1119b8,#111bbf,#1119b8,#1119b8,#1119b8,#111bbf,#121dc5,#121cc2,#111bbf,#1119b8,#1119b8,#111bc0,#1119b8,#1119b8,#1119b8,#111aba,#1119b8,#111abb,#111bbe,#111bbd,#111bbe,#111aba,#111abd,#1119b8,#1119b9,#111abb,#111abd,#111abb,#1119b8,#1119b8,#1119b8,#111bc0,#111aba,#1119b8,#1119b8,#1119b8,#1119b9,#111abc,#111bbd,#111abb,#1119b8,#111abb,#1119b8,#1119b8,#111abb,#111bbd,#111bbf,#121cc0,#111abc,#111abb,#1119b8,#1119b9,#111bbe,#121cc1,#1119b8,#1119b8,#111bbd,#111bbf,#111abb,#111bbe,#111bbd,#1119b9,#1119b8,#111abb,#111aba,#1119b8,#111abb,#111bbd,#121cc0,#111bc0,#121dc5,#111abc,#1119b8,#111bbf)"></i>
<i style="background:linear-gradient(90deg,#1321d2,#121dc5,#121fca,#121dc6,#1220cc,#1320cd,#111bbe,#121fca,#121dc6,#121cc1,#1321cf,#121fca,#1526de,#162ae4,#1323d5,#1425dd,#172de8,#162be5,#1830ed,#172ce7,#1320cd,#121ec7,#111bbf,#1320cf,#1322d4,#121fcc,#121dc5,#1321d0,#121ec8,#121cc3,#111bbf,#121cc3,#121ec7,#1321cf,#121fca,#121dc4,#111bbf,#121cc0,#121ec7,#111bbe,#111bc0,#121dc3,#111bbe,#121dc4,#121cc1,#121cc2,#121dc4,#111bbd,#121cc2,#121cc3,#1119b8,#1321d0,#121ec7,#111aba,#111bbd,#111aba,#111bbf,#121cc2,#1119b8,#111bbe,#121cc0,#111aba,#111abc,#111aba,#1119b8,#121cc2,#121dc4,#1119b8,#1119b8,#121cc0,#121dc4,#121ec8,#1220cc,#1119b8,#1119b8,#1119b9,#1119b8,#111abc,#1119b8,#1119b8,#111abc,#1119b8,#1119b8,#1119b9,#111bc0,#121ec7,#121cc3,#121dc3,#111aba,#121cc3,#121cc1,#111bbf,#111abc,#111aba,#121cc0,#111bc0,#111bbe,#1119b8,#121dc5,#1119b8,#111bbe,#111abc,#1119b8,#111abb,#121cc2,#111bbf,#111aba,#121ec7,#1119ba,#1119b8,#121dc6,#111bbe,#111aba,#1119b9,#1119b8,#1119b8,#111bbe,#111bbf,#121cc2,#121dc4,#121cc3,#1119b8,#111abb,#1119b8,#1119b9,#111aba,#111abc,#1119b8,#111abc,#1119b8,#111abd,#111bbf,#1119b8,#111abb,#111abb,#1119b8,#121cc0,#111bbd,#121cc1,#111bbf,#121dc6,#111bbe,#111abc,#111aba,#111bbd,#121cc1,#111abc,#121cc1,#111bc0,#121dc3,#111bc0,#111abd,#111aba)"></i>
<i style="background:linear-gradient(90deg,#1321d1,#121dc5,#121fca,#121dc6,#121fcc,#1320cd,#111bbf,#121fcb,#121dc6,#121cc2,#1321d1,#1320cd,#1426dd,#1425dc,#1424d8,#1526de,#172de8,#1b39f2,#1b37f2,#1527df,#121fcb,#121ec8,#111bc0,#1321d0,#1323d5,#1220cd,#121dc5,#1321d0,#121ec9,#121dc4,#121cc0,#121dc3,#121ec7,#1321cf,#121fcb,#121dc5,#111bbf,#121cc1,#121ec8,#111bbe,#121cc0,#121dc4,#111bbe,#121dc4,#121cc1,#121cc2,#121dc4,#111bbd,#121cc2,#121cc3,#1119b8,#1321d0,#121ec7,#111aba,#111bbd,#111aba,#111bbf,#121cc2,#1119b8,#111bbe,#121cc1,#111aba,#111abc,#111aba,#1119b8,#121cc2,#121dc4,#1119b8,#1119b8,#121cc1,#121dc5,#121ec8,#1220cd,#1119b8,#1119b8,#1119b9,#1119b8,#111abc,#1119b8,#1119b8,#111abc,#1119b8,#1119b8,#1119b9,#111bc0,#121ec7,#121cc3,#121dc3,#111aba,#121cc3,#121cc1,#111bbf,#111abc,#111aba,#121cc0,#111bc0,#111bbe,#1119b8,#121dc5,#1119b8,#111bbe,#111abc,#1119b8,#111abb,#121cc2,#111bbf,#111aba,#121ec7,#1119ba,#1119b8,#121dc6,#111bbe,#111aba,#1119b9,#1119b8,#1119b8,#111bbe,#111bbf,#121cc2,#121dc4,#121cc3,#1119b8,#111abb,#1119b8,#1119b9,#111aba,#111abc,#1119b8,#111abc,#1119b8,#111abd,#111bbf,#1119b8,#111abb,#111abb,#1119b8,#121cc0,#111bbd,#121cc1,#111bbf,#121dc6,#111bbe,#111abc,#111aba,#111bbd,#121cc1,#111abc,#121cc1,#111bc0,#121dc3,#111bc0,#111abd,#111aba)"></i>
<i style="background:linear-gradient(90deg,#121cc2,#121dc5,#1321d1,#121fcb,#121dc4,#121fcc,#121dc5,#1321d0,#1320cf,#121fca,#1423d7,#1321d0,#1424d9,#1322d5,#1527de,#1528e1,#1a34f1,#1c3bf3,#162be5,#1322d4,#1321d1,#121fcc,#121fcb,#1322d4,#1321d1,#1424d8,#1220cd,#121fca,#121ec9,#121cc2,#121dc5,#111bbf,#121cc3,#121cc2,#121fcb,#121ec8,#1321cf,#111bbf,#1220cd,#121dc4,#121fcb,#111bbd,#111aba,#121cc2,#121cc0,#111bbe,#121ec7,#121cc1,#121ec8,#111abc,#1119b8,#121dc6,#121ec7,#111bbf,#121cc1,#121cc0,#121dc4,#121ec7,#111bbd,#1119b8,#1119b8,#111aba,#1119b8,#1119b8,#111bbf,#121cc2,#1119b8,#111abc,#111bbf,#1119b9,#111aba,#121dc5,#121cc3,#111bc0,#1119b8,#111bbe,#1119b8,#1119b8,#111bbe,#1119b9,#111bbe,#121cc1,#1119b8,#111bbf,#121dc6,#1322d3,#121cc1,#121dc6,#111aba,#111abc,#121ec8,#111bbe,#111abd,#121cc0,#111bbf,#111bc0,#111bbe,#1119b9,#1119b9,#1119b8,#1119b8,#111aba,#1119b9,#1119b8,#111bbd,#121cc3,#111aba,#1119b8,#1119b8,#111abb,#111bc0,#111abb,#1119b8,#1119b8,#111bbf,#111bbf,#121dc5,#111bc0,#121cc3,#121cc2,#111bbd,#1119b8,#121cc3,#111bbf,#1119b8,#1119b8,#1119b8,#111bbd,#111bbd,#111bbd,#1119b9,#121cc1,#111bbd,#1119b8,#111aba,#1119b8,#1119b8,#1119b8,#111abc,#1119b8,#111abb,#111abb,#1119b8,#1119b8,#111bbf,#1119b9,#111bbf,#111bbe,#111bbe,#111abb,#111bbf,#1119b8,#111abc)"></i>
<i style="background:linear-gradient(90deg,#121cc2,#121dc5,#1321d2,#121fcb,#121dc4,#121fcc,#121dc5,#1321cf,#1320cf,#121fca,#1423d7,#1320ce,#1424da,#1423d7,#1528e1,#1c3af3,#2149f8,#1830ed,#1323d6,#1322d3,#1321d1,#121fcc,#121fcc,#1323d5,#1322d2,#1424d9,#1320cd,#121fcb,#121ec9,#121cc2,#121dc6,#121cc0,#121dc3,#121cc2,#121fcb,#121ec9,#1321d0,#111bbf,#1320cd,#121dc4,#121fcb,#111bbe,#111abb,#121cc2,#121cc0,#111bbe,#121ec8,#121cc1,#121ec8,#111abc,#1119b8,#121dc6,#121ec7,#111bbf,#121cc1,#121cc0,#121dc4,#121ec7,#111bbe,#1119b8,#1119b9,#111aba,#1119b8,#1119b8,#111bbf,#121cc2,#1119b8,#111abc,#111bbf,#1119b9,#111aba,#121dc5,#121cc3,#111bc0,#1119b8,#111bbe,#1119b8,#1119b8,#111bbe,#1119b9,#111bbf,#121cc1,#1119b8,#111bbf,#121dc6,#1322d3,#121cc1,#121dc6,#111aba,#111abc,#121ec8,#111bbe,#111abd,#121cc0,#111bbf,#111bc0,#111bbe,#1119b9,#1119ba,#1119b8,#1119b8,#111aba,#1119b9,#1119b8,#111bbd,#121cc3,#111aba,#1119b8,#1119b8,#111abb,#111bc0,#111abb,#1119b8,#1119b8,#111bc0,#111bbf,#121dc5,#111bc0,#121cc3,#121cc2,#111bbd,#1119b8,#121cc3,#111bbf,#1119b8,#1119b8,#1119b8,#111bbd,#111bbd,#111bbd,#1119b9,#121cc1,#111bbd,#1119b8,#111aba,#1119b8,#1119b8,#1119b8,#111abc,#1119b8,#111abb,#111abb,#1119b8,#1119b8,#111bbf,#1119b9,#111bbf,#111bbe,#111bbe,#111abb,#111bbf,#1119b8,#111abc)"></i>
<i style="background:linear-gradient(90deg,#1423d7,#1321d0,#1320cd,#121fcb,#121fc9,#1321d1,#121fcb,#121fcb,#121fca,#1320cd,#1220cd,#1322d3,#1424d8,#1425dc,#1c3af3,#2556fa,#214bf8,#1529e2,#1321d1,#1321d0,#1321d0,#1320cf,#1321d2,#1321d1,#1424d8,#121fcb,#1425db,#121ec7,#121ec7,#121dc6,#1320ce,#121fca,#121cc2,#121cc1,#121fca,#111bbf,#121cc0,#121dc4,#121cc1,#111bc0,#121ec7,#111bc0,#121ec8,#121ec7,#111abd,#121dc3,#121fca,#121ec7,#111abc,#1119b8,#111abb,#111bbe,#111abc,#1119b9,#111bbe,#111abc,#121dc3,#111bbf,#111bc0,#121dc5,#121dc4,#1119b8,#121cc2,#121cc2,#121cc0,#121dc4,#121cc1,#111bbe,#1119b8,#121cc0,#1119b9,#121dc5,#111bbf,#1119b8,#111bbe,#121cc2,#111aba,#121dc4,#111bc0,#121ec7,#111bbd,#121cc1,#121cc1,#121ec8,#1220cd,#121fca,#121cc1,#121dc6,#121dc5,#121cc1,#121cc3,#111bbe,#1119b8,#121dc3,#111abd,#111bbe,#111abb,#1119b9,#111abb,#1119b8,#1119b8,#1119b8,#1119b8,#111abc,#121cc2,#111abc,#1119b8,#1119b8,#111bbd,#111abb,#121dc4,#1119b8,#1119b8,#111aba,#121ec7,#1321d1,#121fca,#111bc0,#111aba,#121cc3,#111abb,#1119b8,#111abb,#1119b8,#111abc,#121dc6,#1119b8,#111aba,#111aba,#1119b9,#1119b8,#111bbd,#111abc,#111aba,#1119b8,#1119b8,#1119b8,#1119ba,#121cc1,#111bbf,#111abc,#1119b8,#1119b8,#121cc1,#121cc1,#1119b8,#1119b8,#1119b8,#111aba,#111bbe,#1119b8,#111bbf,#1119b8)"></i>
<i style="background:linear-gradient(90deg,#1424d9,#1322d2,#1320cf,#1220cc,#121fcb,#1322d3,#1220cd,#121fcc,#121fcb,#1320ce,#1320ce,#1322d4,#1424d9,#172ee9,#2657fa,#214af8,#1932f0,#1629e2,#1322d2,#1321d1,#1321d1,#1320cf,#1321d2,#1322d2,#1424d9,#1220cd,#1426dd,#121ec8,#121ec7,#121dc6,#1320ce,#121fcb,#121dc4,#121cc2,#121fca,#111bbf,#121cc1,#121dc5,#121cc2,#111bc0,#121ec7,#121cc0,#121ec8,#121ec8,#111bbd,#121dc4,#121fca,#121ec8,#111abc,#1119b8,#111abb,#111bbe,#111abc,#1119b9,#111bbe,#111abc,#121dc4,#111bc0,#111bc0,#121dc5,#121dc4,#1119b8,#121cc3,#121cc2,#121cc0,#121dc4,#121cc2,#111bbe,#1119b8,#121cc1,#1119b9,#121dc5,#111bbf,#1119b8,#111bbe,#121cc3,#111aba,#121dc4,#111bc0,#121ec7,#111bbd,#121cc1,#121cc1,#121ec8,#1320cd,#121fca,#121cc1,#121dc6,#121dc5,#121cc1,#121cc3,#111bbf,#1119b8,#121dc3,#111bbd,#111bbe,#111abb,#1119b9,#111abb,#1119b8,#1119b8,#1119b8,#1119b8,#111abc,#121cc2,#111abc,#1119b8,#1119b8,#111bbd,#111abb,#121dc4,#1119b8,#1119b9,#111aba,#121ec7,#1321d1,#121fca,#111bc0,#111aba,#121cc3,#111abb,#1119b8,#111abb,#1119b8,#111abc,#121dc6,#1119b8,#111aba,#111aba,#1119b9,#1119b8,#111bbd,#111abc,#111aba,#1119b8,#1119b8,#1119b8,#1119ba,#121cc1,#111bbf,#111abc,#1119b8,#1119b8,#121cc1,#121cc1,#1119b8,#1119b8,#1119b8,#111aba,#111bbe,#1119b8,#111bbf,#1119b8)"></i>
<i style="background:linear-gradient(90deg,#1323d6,#1220cd,#1320ce,#1323d6,#1321d2,#1320cd,#1320cd,#1321d2,#1321d0,#1321d0,#1322d3,#1323d6,#1425db,#2047f7,#224df9,#1933f0,#162be5,#1528e0,#1323d5,#1424d8,#1322d4,#1322d5,#1322d4,#1323d6,#1220cd,#121cc0,#121ec7,#1321d0,#1321d0,#121fcb,#1322d4,#1220cc,#121dc6,#121dc5,#111bbe,#111abb,#111abc,#121dc4,#111bbf,#111abc,#111bbd,#121cc2,#111bbd,#121dc6,#121cc0,#121ec7,#121fcc,#1220cc,#121ec9,#121dc4,#121dc5,#1119b9,#111bc0,#111bbd,#111bbd,#111bbe,#121cc2,#111bbe,#111abb,#121dc6,#111bc0,#111bbf,#121ec9,#111abb,#121dc6,#111bbe,#111abc,#121dc4,#1119b8,#1119b8,#1119ba,#111abb,#1119b8,#121dc4,#121cc2,#111bbe,#121cc1,#111bbf,#111bbf,#111bbd,#121cc1,#121cc3,#121cc3,#121dc6,#121cc0,#121cc2,#111bbf,#111abb,#121cc3,#111abc,#121cc3,#111aba,#111abc,#121cc1,#111aba,#111abb,#1119b9,#1119b8,#1119b8,#111abd,#111aba,#111bc0,#121cc2,#111abc,#1119b8,#1119b8,#111aba,#111bbf,#111bbf,#121dc6,#121cc1,#111abd,#111abd,#1119b8,#111abc,#121dc5,#121fca,#1119b8,#111abb,#111abb,#1119b8,#121cc2,#121dc3,#1119b8,#111bbf,#121dc6,#111abc,#111bbd,#121cc0,#1119b8,#1119b8,#111abb,#111aba,#1119b8,#121cc2,#111bbf,#1119b8,#111bbd,#111bbd,#111abd,#111abb,#1119b8,#111abb,#121cc1,#111bbf,#111abb,#111abc,#111abb,#111abb,#1119b8,#111bbe,#1119ba,#1119b9)"></i>
<i style="background:linear-gradient(90deg,#1323d6,#1320cd,#1320ce,#1323d7,#1322d3,#1320cf,#1320cf,#1322d4,#1321d2,#1321d2,#1323d5,#1425db,#1a36f1,#2047f7,#182feb,#1830ec,#162ae3,#1527df,#1323d7,#1425dc,#1323d6,#1323d7,#1323d5,#1323d6,#1320ce,#121cc1,#121ec8,#1321d2,#1321d2,#121fcc,#1322d4,#1220cc,#121ec8,#121ec7,#111bbf,#111abc,#111abd,#121dc5,#111bc0,#111abd,#111bbe,#121cc2,#111bbe,#121ec7,#121cc1,#121ec7,#121fcc,#1220cd,#121fca,#121dc4,#121dc5,#1119ba,#121cc0,#111bbd,#111bbd,#111bbf,#121cc3,#111bbe,#111abb,#121dc6,#111bc0,#111bbf,#121ec9,#111abb,#121dc6,#111bbe,#111abd,#121dc4,#1119b8,#1119b8,#111aba,#111abb,#1119b8,#121dc4,#121cc2,#111bbe,#121cc1,#111bbf,#111bbf,#111bbd,#121cc1,#121dc3,#121cc3,#121dc6,#121cc0,#121cc2,#111bc0,#111abb,#121dc3,#111abd,#121dc3,#111aba,#111abc,#121cc1,#111aba,#111abb,#1119b9,#1119b8,#1119b8,#111bbd,#111aba,#111bc0,#121cc2,#111abc,#1119b8,#1119b8,#111aba,#111bbf,#111bbf,#121dc6,#121cc1,#111abd,#111abd,#1119b8,#111abc,#121dc5,#121fca,#1119b8,#111abb,#111abb,#1119b8,#121cc2,#121dc3,#1119b8,#111bbf,#121dc6,#111abc,#111bbd,#121cc0,#1119b8,#1119b8,#111abb,#111aba,#1119b8,#121cc2,#111bbf,#1119b8,#111bbd,#111bbd,#111abd,#111abb,#1119b8,#111abb,#121cc1,#111bbf,#111abb,#111abc,#111abb,#111abb,#1119b8,#111bbe,#1119ba,#1119b9)"></i>
<i style="background:linear-gradient(90deg,#1321d1,#1320ce,#1320ce,#1425db,#1526de,#1423d7,#1322d3,#1423d8,#1321cf,#1321d1,#1323d6,#162be6,#1d3ef4,#1b39f2,#162be6,#1a34f1,#172de9,#1323d6,#1425dc,#1323d6,#1426de,#1323d6,#1321d1,#1320cd,#121ec7,#121ec8,#1321d0,#1321d1,#121fcc,#1320cf,#1321d0,#1220cc,#121fca,#121dc6,#121dc4,#111bbe,#121cc3,#121ec7,#1320cf,#121ec9,#121dc5,#121ec9,#121ec9,#111bbe,#121cc0,#121dc5,#1320ce,#121cc0,#121ec8,#121fca,#111bbd,#111bbf,#121dc6,#121dc5,#111bbe,#111aba,#1119b8,#1119b8,#111bbf,#121ec7,#1119b9,#1119b8,#111abb,#121cc0,#111abd,#121dc6,#1119b8,#111bbd,#121dc4,#121cc1,#111abb,#111abc,#111abb,#121dc5,#1119b8,#1119b9,#111aba,#1119b8,#1119b8,#111bc0,#121dc5,#121cc2,#121dc6,#121dc4,#121dc4,#1119b8,#111bbf,#111bbe,#121cc1,#121dc6,#1119b8,#111abb,#1119b8,#111abc,#1119b8,#1119b8,#111aba,#1119b8,#111abc,#111aba,#1119b8,#1119b8,#1119b8,#121cc2,#111bbf,#111bc0,#121ec8,#121dc6,#121cc2,#111bbf,#121cc0,#111bbe,#111aba,#121cc3,#121dc5,#121cc2,#111abb,#1119b8,#1119b8,#111abb,#1119b8,#1119b8,#1119b8,#1119b8,#121ec8,#121cc2,#111bbe,#111aba,#1119b8,#1119b8,#111abc,#111bbe,#1119b8,#1119b8,#111abb,#121cc0,#1119b8,#1119b8,#1119b8,#111bbf,#1119b8,#1119b8,#1119b8,#111bbe,#121cc1,#111aba,#121cc1,#1119b9,#1119b9,#1119b8,#1119b9,#121cc2,#1119b8)"></i>
<i style="background:linear-gradient(90deg,#1321d0,#1320cd,#1220cd,#1424da,#1426dd,#1323d6,#1322d3,#1423d7,#1321d0,#1322d2,#1526de,#182fec,#182feb,#1b37f2,#172de8,#1a34f1,#182eea,#1527df,#1424da,#1323d5,#1527df,#1424d9,#1322d4,#1321cf,#121ec8,#121ec9,#1321d1,#1322d2,#1320ce,#1321d1,#1321d2,#121fcc,#121fca,#121ec7,#121dc6,#111bbf,#121dc4,#121ec7,#1321cf,#121fca,#121dc6,#121fca,#121fc9,#111bbe,#121cc1,#121dc5,#1320ce,#121cc0,#121ec8,#121fca,#111bbe,#111bc0,#121ec7,#121dc5,#111bbf,#111aba,#1119b8,#1119b8,#111bc0,#121ec8,#1119b9,#1119b8,#111abc,#121cc1,#111abd,#121dc6,#1119b8,#111bbd,#121dc4,#121cc1,#111abc,#111abd,#111abb,#121dc5,#1119b8,#1119b9,#111aba,#1119b8,#1119b8,#111bc0,#121dc5,#121cc2,#121ec6,#121dc4,#121dc4,#1119b8,#111bbf,#111bbe,#121cc1,#121ec6,#1119b8,#111abb,#1119b8,#111abc,#1119b8,#1119b8,#111aba,#1119b8,#111abc,#111abb,#1119b8,#1119b8,#1119b8,#121cc3,#111bbf,#111bc0,#121ec8,#121dc6,#121cc2,#111bbf,#121cc1,#111bbe,#111aba,#121cc3,#121dc5,#121cc2,#111abb,#1119b8,#1119b8,#111abb,#1119b8,#1119b8,#1119b8,#1119b8,#121ec8,#121cc2,#111bbe,#111aba,#1119b8,#1119b8,#111abc,#111bbe,#1119b8,#1119b8,#111abb,#121cc0,#1119b8,#1119b8,#1119b8,#111bbf,#1119b8,#1119b8,#1119b8,#111bbe,#121cc1,#111aba,#121cc1,#1119b9,#1119b9,#1119b8,#1119b9,#121cc2,#1119b8)"></i>
<i style="background:linear-gradient(90deg,#1424d8,#1320ce,#1321d1,#1323d6,#1321d2,#1424da,#1424da,#1220cc,#1320ce,#1321d1,#1424da,#1527de,#162be5,#172de8,#1932f0,#1527de,#1a36f1,#162be5,#1424d9,#1322d4,#162ae4,#162ae3,#1424d9,#1424d8,#1321cf,#1220cd,#121dc6,#111bbf,#121cc2,#121fcc,#121cc0,#121fcc,#1220cd,#1321d2,#1320cd,#121ec7,#121ec8,#121dc6,#121dc6,#1220cc,#121dc4,#121ec9,#121dc5,#121dc4,#121fca,#121fcb,#121cc3,#111abb,#121ec8,#121dc4,#111bbf,#121ec8,#121ec9,#121dc6,#121ec7,#111bc0,#1119b8,#111bbf,#111bbf,#111bbe,#111bbf,#111bc0,#121dc5,#111bbf,#121dc6,#121dc4,#121dc5,#111bbd,#1119b8,#121ec7,#111aba,#1119b8,#1119b8,#1119b9,#121cc2,#121dc6,#1119b8,#1119b9,#1119b8,#111abc,#111abb,#121fca,#121dc4,#111bbf,#121cc2,#1119b8,#1119b8,#111bbe,#111abd,#1119b8,#1119b8,#1119b8,#1119b8,#1119b8,#111bbe,#121cc0,#111bbf,#1119b8,#1119b8,#111abc,#111abb,#121cc1,#111bbe,#121ec7,#1119b8,#1119b8,#121dc5,#121dc6,#111abc,#111bbd,#1119b8,#121dc5,#121dc4,#111abb,#111bbe,#111abc,#111bbe,#1119b8,#1119b8,#1119b8,#1119b8,#111bbd,#121cc1,#111bbe,#111abd,#1119b9,#111aba,#111bbe,#1119b8,#111aba,#1119b8,#1119b8,#111abc,#111bbe,#1119b8,#121cc0,#111bbd,#111abb,#1119b8,#1119b8,#1119b8,#1119b8,#111aba,#111abc,#111bc0,#121dc5,#111bbd,#111abb,#1119b8,#1119ba,#111aba,#1119b8,#111bbe)"></i>
<i style="background:linear-gradient(90deg,#1424da,#1321d0,#1322d3,#1423d8,#1322d3,#1425db,#1424da,#1220cc,#1320ce,#1322d3,#1322d5,#1425db,#172ce7,#182eea,#1a35f1,#1c3cf3,#1b38f2,#1527df,#1424d8,#1322d4,#162ae3,#162ae4,#1425db,#1425dc,#1321d2,#1320ce,#121ec7,#111bc0,#121dc4,#1320ce,#121cc3,#1320ce,#1220cd,#1321d2,#1320ce,#121ec8,#121fca,#121ec7,#121dc6,#1320cd,#121dc5,#121fca,#121dc6,#121dc4,#121fcb,#121fcc,#121dc3,#111abc,#121ec9,#121dc5,#111bbf,#121ec8,#121fca,#121dc6,#121ec8,#121cc0,#1119b8,#111bbf,#111bc0,#111bbf,#111bc0,#111bc0,#121dc5,#111bbf,#121ec7,#121dc5,#121dc5,#111bbe,#1119b8,#121ec7,#111aba,#1119b8,#1119b8,#111aba,#121cc3,#121dc6,#1119b8,#1119b9,#1119b8,#111abc,#111abb,#121fca,#121dc4,#111bbf,#121cc2,#1119b8,#1119b8,#111bbe,#111bbd,#1119b8,#1119b8,#1119b8,#1119b8,#1119b8,#111bbe,#121cc0,#111bc0,#1119b8,#1119b8,#111abc,#111abb,#121cc1,#111bbe,#121ec7,#1119b8,#1119b8,#121dc5,#121dc6,#111abc,#111bbd,#1119b8,#121dc5,#121dc4,#111abb,#111bbe,#111abc,#111bbe,#1119b8,#1119b8,#1119b8,#1119b8,#111bbd,#121cc1,#111bbe,#111abd,#1119ba,#111aba,#111bbe,#1119b8,#111aba,#1119b8,#1119b8,#111abc,#111bbe,#1119b8,#121cc1,#111bbd,#111abb,#1119b8,#1119b8,#1119b8,#1119b8,#111aba,#111abc,#111bc0,#121dc5,#111bbd,#111abb,#1119b8,#111aba,#111aba,#1119b8,#111bbe)"></i>
<i style="background:linear-gradient(90deg,#1424d8,#1426de,#1424d8,#1424d8,#1424d8,#1527df,#1423d7,#1323d6,#1322d3,#1424d9,#1220cd,#1629e3,#172de8,#1b38f2,#214af8,#2047f7,#1526de,#1425db,#1426de,#1424da,#1528e1,#1424d9,#1424d8,#1425dc,#1424d9,#1320ce,#1320ce,#121dc5,#121dc4,#1321d0,#121fcc,#121fca,#1323d6,#1323d6,#1323d6,#121fca,#1321d0,#1321d1,#121cc2,#121cc3,#121cc1,#121fca,#121fc9,#1321d0,#1320ce,#121dc6,#111bc0,#121ec9,#121ec9,#121dc4,#1119ba,#121dc4,#111bbf,#121dc4,#121dc5,#111aba,#111bbf,#121fcc,#1119b8,#1119b9,#1119b8,#111bbd,#121dc6,#111abc,#121dc5,#121dc4,#121dc3,#121dc6,#121cc1,#121cc2,#121ec9,#121cc1,#111bbf,#1119b8,#121ec8,#121ec8,#111bbe,#111aba,#111bbd,#121cc2,#1119b8,#121dc3,#111bbf,#111bbe,#1119b8,#111abb,#1119b8,#121cc1,#121cc1,#121ec7,#1119b9,#1119b8,#111bbd,#1119b8,#111abb,#1320cd,#121ec7,#1119b8,#111bbe,#121cc3,#111aba,#121cc3,#1119b9,#111bbf,#1119b8,#111aba,#121cc2,#111bbe,#121cc1,#121ec8,#1119b9,#111aba,#121dc4,#121dc4,#121ec8,#111bbe,#121cc2,#111bbe,#1119b8,#1119b8,#1119b8,#111bc0,#121fcb,#111aba,#1119b8,#121cc1,#1119b9,#111bbd,#1119b8,#1119b8,#121cc3,#111abc,#1119b9,#111bbe,#1119b8,#121fcb,#111bbf,#111aba,#1119b9,#1119b8,#111abc,#1119b8,#111abc,#111bc0,#111bbe,#1119b8,#1119b8,#1119b8,#121cc3,#121cc3,#111bbe,#111bbf,#1119b9)"></i>
<i style="background:linear-gradient(90deg,#1425dc,#1528e1,#1425dc,#1425dc,#1426dd,#162ae4,#1425db,#1424da,#1322d5,#1424d9,#1320cf,#162be5,#172eea,#2556fa,#2453fa,#1a36f1,#1424d9,#1527de,#1529e2,#1426dd,#1528e1,#1424d8,#1424d8,#1426de,#1425dc,#1321d1,#1321d0,#121ec7,#121dc5,#1321d1,#1320ce,#1320cd,#1424d8,#1323d6,#1323d6,#121fcc,#1322d2,#1322d2,#121cc3,#121dc3,#121cc2,#121fcb,#121fca,#1321d1,#1320cf,#121ec7,#121cc1,#121ec9,#121fca,#121dc4,#111aba,#121dc4,#111bc0,#121dc5,#121dc6,#111aba,#111bc0,#1220cc,#1119b8,#1119b9,#1119b8,#111bbe,#121dc6,#111abc,#121dc6,#121dc5,#121dc4,#121dc6,#121cc1,#121cc3,#121ec9,#121cc2,#111bbf,#1119b8,#121ec8,#121ec8,#111bbf,#111abb,#111bbd,#121cc2,#1119b8,#121dc4,#111bbf,#111bbe,#1119b8,#111abb,#1119b8,#121cc2,#121cc1,#121ec7,#1119b9,#1119b8,#111bbd,#1119b8,#111abb,#1320cd,#121ec7,#1119b8,#111bbe,#121dc3,#111aba,#121cc3,#111aba,#111bc0,#1119b8,#111aba,#121cc2,#111bbf,#121cc1,#121ec8,#1119b9,#111abb,#121dc4,#121dc4,#121ec8,#111bbe,#121cc2,#111bbe,#1119b8,#1119b8,#1119b8,#111bc0,#121fcb,#111aba,#1119b8,#121cc1,#1119b9,#111bbd,#1119b8,#1119b8,#121cc3,#111abc,#1119b9,#111bbe,#1119b8,#121fcb,#111bbf,#111aba,#1119b9,#1119b8,#111abc,#1119b8,#111abc,#111bc0,#111bbe,#1119b8,#1119b8,#1119b8,#121cc3,#121cc3,#111bbe,#111bbf,#1119b9)"></i>
<i style="background:linear-gradient(90deg,#1424d9,#1528e1,#1426de,#1424da,#1320ce,#1323d7,#1424da,#1323d7,#1424da,#1321cf,#1321d1,#1830ec,#234ffa,#3175fa,#1d3ef4,#162be6,#1527de,#172de9,#1424da,#1528e0,#1425dc,#1323d6,#1426dd,#1424d9,#1424d8,#1426dd,#1424da,#1322d3,#1220cc,#1322d3,#1320cd,#1321d2,#1322d3,#1220cc,#1323d6,#1424da,#1323d5,#121ec7,#121fcc,#121fcb,#121ec8,#121ec7,#121fca,#1320ce,#121ec8,#121ec7,#121dc5,#1423d7,#1220cc,#111abd,#1119b8,#111bbf,#121ec7,#111abb,#1119b8,#111abc,#111bbd,#111abc,#111abb,#111abc,#111bbe,#111bc0,#121ec8,#111bbe,#111bbd,#1320ce,#111abd,#121dc5,#121dc4,#111abd,#121dc6,#121ec7,#121ec9,#121fca,#121dc5,#111abc,#111abd,#1119b8,#1119b8,#1119b8,#121ec7,#121dc6,#111bbf,#1119b8,#1119b9,#111abc,#111bbf,#111abc,#1119b8,#121cc2,#121cc3,#121dc6,#111bbd,#111abc,#121cc2,#121fca,#121cc2,#111abb,#111bbd,#121cc2,#111bbf,#121ec7,#121cc1,#111bbe,#111bbf,#1119b8,#121cc0,#121cc1,#121ec6,#121cc1,#121ec6,#111abb,#1119b9,#111bbe,#111abb,#121dc5,#111bc0,#121fcb,#121cc2,#111bbe,#1119b8,#121dc6,#121cc2,#111bbe,#111bbf,#121dc6,#111bbe,#1119b8,#1119b8,#1119b9,#1119b9,#1119b8,#1119b8,#1119b8,#121cc0,#121dc5,#1119b8,#1119b8,#121dc6,#111bbe,#111bbe,#111aba,#1119b8,#1119b8,#1119b8,#1119b8,#111aba,#1119b8,#111abc,#121cc2,#1119b8,#1119b8,#111abb)"></i>
<i style="background:linear-gradient(90deg,#1424d9,#1528e1,#1426de,#1424da,#1320cf,#1424d8,#1425dc,#1424da,#1527de,#1322d5,#1323d6,#1f45f6,#2c69fa,#2658fa,#182feb,#162be5,#1426de,#172eea,#1426de,#162be5,#1529e2,#1424d9,#1426dd,#1424d9,#1424d9,#1527df,#1425dc,#1323d5,#1320ce,#1322d4,#1320ce,#1322d4,#1323d7,#1320ce,#1323d6,#1424da,#1323d7,#121ec9,#1320cd,#121fcc,#121ec9,#121ec8,#121fcb,#1320ce,#121ec8,#121ec8,#121ec7,#1424d8,#1220cd,#111bbd,#1119b9,#121cc0,#121ec7,#111abc,#1119b8,#111abd,#111bbe,#111abd,#111abb,#111bbd,#111bbe,#121cc0,#121ec9,#111bbe,#111bbd,#1320cf,#111bbd,#121dc6,#121dc5,#111bbd,#121ec7,#121ec7,#121ec9,#121fca,#121dc6,#111bbd,#111bbd,#1119b8,#1119b8,#1119b8,#121ec8,#121ec6,#111bbf,#1119b8,#1119ba,#111abc,#111bbf,#111abd,#1119b8,#121cc2,#121cc3,#121ec7,#111bbe,#111abc,#121cc2,#121fca,#121cc2,#111abb,#111bbd,#121cc2,#111bc0,#121ec7,#121cc1,#111bbe,#111bbf,#1119b8,#121cc0,#121cc1,#121ec7,#121cc1,#121ec7,#111abb,#1119b9,#111bbe,#111abb,#121dc5,#121cc0,#121fcb,#121cc2,#111bbe,#1119b8,#121ec6,#121cc2,#111bbe,#111bbf,#121dc6,#111bbe,#1119b8,#1119b8,#1119ba,#1119b9,#1119b8,#1119b8,#1119b8,#121cc0,#121dc5,#1119b8,#1119b8,#121dc6,#111bbe,#111bbe,#111aba,#1119b8,#1119b8,#1119b8,#1119b8,#111aba,#1119b8,#111abd,#121cc2,#1119b8,#1119b8,#111abb)"></i>
<i style="background:linear-gradient(90deg,#1425db,#1323d7,#1426dd,#1323d7,#1424da,#1423d7,#1426dd,#1425dd,#162ae4,#172ce6,#1b38f2,#2658fa,#2451fa,#1b37f2,#1831ee,#1830ed,#162be5,#1426de,#1426dd,#1629e3,#1424d9,#1527df,#1425dc,#1322d3,#1425dd,#162be6,#1424d8,#172de9,#1424d9,#1527df,#1425dc,#1321d0,#1323d6,#1320ce,#1423d7,#1322d5,#121fcc,#1320cd,#121fcb,#1322d3,#121ec7,#1321d0,#1320cf,#1321d1,#121ec8,#1322d3,#121dc5,#121ec9,#111bbd,#111bbe,#1320ce,#121ec8,#121fcb,#121cc3,#111bbe,#121ec7,#121fcb,#111bbf,#121fc9,#111abc,#111bbd,#121cc1,#121ec9,#121cc2,#121cc1,#111bbd,#121cc3,#121dc6,#121dc6,#121dc5,#121dc4,#1320cd,#121cc1,#121cc1,#121cc3,#1119b8,#1119b8,#111abb,#1119b9,#111abc,#121cc0,#121dc4,#121ec7,#1119b9,#111abb,#121cc1,#1119b9,#111abc,#121cc0,#1119b8,#111bbf,#121cc0,#111bbf,#121cc2,#111aba,#121cc2,#111bbf,#111bc0,#121cc2,#111bbf,#111bbf,#121ec7,#121dc6,#111bc0,#111bbf,#1119b9,#111abb,#121cc0,#121fcb,#121ec8,#121dc4,#111abc,#1119b8,#1119b8,#111bbd,#121ec8,#121ec9,#121dc4,#121dc5,#121dc4,#1119b8,#121ec7,#121cc1,#111abb,#111abb,#111abc,#111aba,#111abb,#111aba,#111aba,#1119b8,#111abc,#111bbf,#121cc3,#121dc4,#121cc3,#121cc1,#111abc,#1119b8,#111bbd,#111aba,#111bc0,#111abb,#1119b8,#1119b8,#121cc1,#111bbe,#121cc1,#111bbd,#1320ce,#111bbf,#1119b8,#1119b8)"></i>
<i style="background:linear-gradient(90deg,#1425db,#1323d7,#1426dd,#1323d6,#1424d9,#1323d6,#1425dc,#1425db,#162ae4,#1932f0,#2047f7,#224cf9,#1d3ef4,#1c3af3,#1932f0,#1931ef,#172de8,#1526de,#1425dd,#162ae4,#1426de,#162be5,#1528e1,#1323d5,#1425dc,#172ce6,#1424da,#182feb,#1425dc,#1528e1,#1425dd,#1321d1,#1424d8,#1322d2,#1424da,#1322d5,#121fcc,#1321cf,#1320cd,#1322d4,#121ec8,#1321d1,#1321d1,#1322d3,#121ec8,#1322d3,#121dc5,#121fca,#111bbe,#111bbe,#1320ce,#121ec8,#121fcc,#121dc4,#111bbf,#121ec8,#121fcc,#111bc0,#121fca,#111abc,#111bbe,#121cc1,#121fc9,#121cc2,#121cc1,#111bbe,#121dc3,#121dc6,#121ec6,#121dc5,#121dc4,#1320ce,#121cc2,#121cc2,#121cc3,#1119b8,#1119b8,#111abb,#111aba,#111abd,#121cc1,#121dc4,#121ec7,#1119b9,#111abb,#121cc1,#1119b9,#111abc,#121cc1,#1119b8,#111bc0,#121cc0,#111bbf,#121cc3,#111aba,#121cc2,#111bbf,#121cc0,#121cc2,#111bc0,#111bbf,#121ec7,#121dc6,#111bc0,#111bbf,#1119b9,#111abb,#121cc0,#121fcb,#121ec8,#121dc4,#111abd,#1119b8,#1119b8,#111bbd,#121ec8,#121ec9,#121dc4,#121dc5,#121dc4,#1119b8,#121ec7,#121cc1,#111abb,#111abb,#111abc,#111aba,#111abb,#111aba,#111aba,#1119b8,#111abc,#111bbf,#121cc3,#121dc4,#121cc3,#121cc1,#111abc,#1119b8,#111bbd,#111aba,#111bc0,#111abc,#1119b8,#1119b8,#121cc1,#111bbe,#121cc1,#111bbd,#1320ce,#111bbf,#1119b8,#1119b8)"></i>
<i style="background:linear-gradient(90deg,#1424d9,#1323d5,#1425dc,#1424d9,#1424d8,#1321d0,#1423d7,#1426de,#1528e1,#1e41f5,#1f45f6,#1b37f2,#1e40f5,#1d3df4,#1b37f2,#1c3af3,#172de9,#1527e0,#1425dc,#1424d9,#172de8,#1931ef,#1830ed,#162ae4,#1527df,#182feb,#1527e0,#1a34f1,#182fec,#1426de,#1426de,#1423d7,#172de8,#162ae3,#1424d9,#1323d6,#1322d3,#1320ce,#1320cf,#1424da,#1423d7,#1423d7,#1425db,#1320cf,#121fcb,#121fc9,#1220cc,#121ec9,#121dc5,#1119b9,#121dc4,#121dc4,#1320ce,#1321d0,#121fca,#1321d2,#1321d0,#121dc4,#121ec8,#121cc0,#121cc3,#121cc2,#121cc3,#1119b9,#121cc0,#121cc3,#121dc6,#1119b8,#111aba,#121cc0,#121dc6,#121dc6,#121cc1,#121dc4,#121dc4,#121cc1,#1119b9,#111bbd,#121ec7,#111abb,#111aba,#121cc2,#121fca,#121fcc,#111abb,#111aba,#111aba,#121fcb,#121dc6,#111bbf,#1119b8,#1119b8,#121cc2,#121dc5,#111bbe,#121cc1,#111abb,#121cc2,#121ec7,#121dc6,#121dc5,#111bbf,#121cc1,#111abc,#111abc,#111bbf,#111bbf,#121dc5,#121dc4,#121ec7,#121dc3,#121cc3,#111aba,#1119b8,#111abc,#121cc1,#121cc0,#1119b8,#121cc2,#121dc3,#121cc1,#121dc4,#121cc1,#121cc1,#111bc0,#111aba,#1119b8,#121dc3,#121cc3,#1320ce,#121cc0,#111abc,#1119b8,#1119b9,#121cc2,#111bc0,#111abb,#1119b8,#1119b8,#121cc1,#1119b8,#111bbf,#1119b9,#1119b8,#1119b8,#1119b9,#121cc0,#1119b8,#111abc,#121cc1,#1119b8,#111aba,#1119b8)"></i>
<i style="background:linear-gradient(90deg,#1426dd,#1424da,#1528e0,#1426dd,#1425dc,#1322d3,#1424da,#1527e0,#172ce7,#1d3ef4,#1a34f1,#1b37f2,#1e40f5,#1d3ef4,#1d3ef4,#1e40f5,#182eea,#1629e2,#1426dd,#1424d8,#172ce7,#1a34f1,#1a35f1,#182eea,#1529e2,#182fec,#1528e0,#1a35f1,#1931ef,#1528e1,#1527e0,#1423d8,#172de8,#162be6,#1426de,#1424d9,#1322d3,#1320ce,#1321d1,#1425dc,#1424d8,#1424d8,#1425dc,#1321d1,#1220cd,#121fca,#1220cd,#121fca,#121ec6,#111aba,#121dc4,#121dc5,#1320cf,#1321d0,#121fcb,#1322d2,#1321d1,#121dc5,#121ec8,#121cc1,#121dc3,#121cc2,#121cc3,#1119b9,#121cc1,#121dc3,#121ec7,#1119b8,#111aba,#121cc1,#121ec7,#121ec7,#121cc1,#121dc5,#121dc4,#121cc1,#111aba,#111bbe,#121ec7,#111abc,#111aba,#121cc2,#121fca,#121fcc,#111abb,#111aba,#111aba,#121fcb,#121dc6,#111bc0,#1119b8,#1119b8,#121cc2,#121dc6,#111bbe,#121cc1,#111abb,#121cc2,#121ec8,#121dc6,#121dc5,#111bc0,#121cc1,#111abc,#111abd,#111bbf,#111bbf,#121dc5,#121dc5,#121ec7,#121dc3,#121cc3,#111aba,#1119b9,#111abc,#121cc1,#121cc0,#1119b8,#121cc2,#121dc3,#121cc2,#121dc4,#121cc1,#121cc1,#111bc0,#111aba,#1119b8,#121dc3,#121cc3,#1320ce,#121cc0,#111abc,#1119b8,#1119b9,#121cc2,#111bc0,#111abb,#1119b8,#1119b8,#121cc1,#1119b8,#111bbf,#1119b9,#1119b8,#1119b8,#1119b9,#121cc0,#1119b8,#111abc,#121cc1,#1119b8,#111aba,#1119b8)"></i>
<i style="background:linear-gradient(90deg,#162ae4,#162be5,#1423d7,#1323d6,#1425dd,#1527df,#162be5,#162be5,#1931ef,#1a34f1,#1a34f1,#1b38f2,#1d3ef4,#1f45f6,#2046f7,#1a35f1,#1830ee,#1933f0,#172de8,#1426dd,#1931ef,#1931ef,#1c3af3,#182eea,#1528e1,#1425dc,#182eea,#1831ee,#162be5,#162ae4,#1426de,#1321d2,#1424d9,#162be4,#1526de,#1321d1,#1320ce,#1321d1,#1322d4,#1323d6,#1424d8,#1322d4,#1526de,#1323d7,#1322d5,#121ec7,#121ec9,#121fcb,#121fcb,#121dc6,#121ec7,#1320cd,#121fcb,#121dc4,#1320ce,#1322d2,#1323d6,#1322d2,#1220cc,#121ec7,#121cc2,#121dc5,#111bbf,#111aba,#121ec8,#111bbf,#121cc3,#121fcb,#111abd,#121cc2,#1321d0,#121fcc,#121dc3,#111abb,#121dc6,#121cc1,#1119b9,#1119b8,#111abd,#121cc1,#121cc1,#121fcb,#121dc5,#111bbe,#121dc4,#1119b9,#121cc3,#111bbd,#111bbe,#121dc4,#121cc1,#111bbe,#111abc,#121cc1,#121ec6,#121fcb,#121cc3,#121ec7,#121ec8,#121ec8,#121dc5,#121ec8,#121dc3,#1119b8,#111bbd,#111bbd,#111abb,#1119b8,#121dc4,#121ec8,#121cc0,#1119b8,#121cc2,#121ec8,#1321d1,#121dc5,#111bbf,#111bbd,#121cc0,#111bbe,#121cc2,#121dc4,#111bbe,#121cc2,#1119b8,#1119b8,#121cc0,#121fcb,#121dc6,#121dc4,#111abc,#111abd,#1119b9,#1119b8,#111bbd,#121cc0,#121cc2,#121cc2,#121cc0,#1119b8,#1119b8,#1119b8,#1119b8,#1119b8,#121cc1,#121dc6,#111bbf,#111bc0,#1119b8,#121cc2,#111aba,#1119b8,#1119b8)"></i>
<i style="background:linear-gradient(90deg,#172ce7,#172ee9,#1425dc,#1424da,#1529e2,#162be6,#1831ee,#1830ed,#1932f0,#1b38f2,#1b37f2,#1b39f2,#1f45f6,#2555fa,#1e41f5,#1931ef,#1a34f1,#1b37f2,#1830ed,#1528e0,#1931ee,#1830ec,#1c3af3,#1932ef,#172de8,#1527df,#182fec,#1931ef,#172ce7,#172ce6,#1528e1,#1322d4,#1424d9,#162be4,#1528e1,#1323d5,#1321d0,#1321d1,#1322d5,#1424d8,#1424da,#1323d5,#1527df,#1424d8,#1323d6,#121ec8,#121fca,#121fcc,#121fcc,#121ec7,#121ec7,#1320ce,#121fcc,#121dc4,#1320ce,#1322d3,#1423d7,#1322d3,#1220cd,#121ec7,#121cc2,#121dc5,#111bbf,#111abb,#121ec9,#111bbf,#121dc3,#121fcc,#111bbd,#121cc2,#1321d0,#121fcc,#121dc4,#111abc,#121dc6,#121cc1,#1119b9,#1119b8,#111bbd,#121cc2,#121cc2,#121fcb,#121dc6,#111bbf,#121dc4,#1119b9,#121dc3,#111bbe,#111bbe,#121dc5,#121cc1,#111bbe,#111abc,#121cc1,#121ec7,#121fcb,#121dc3,#121ec7,#121ec8,#121ec8,#121dc5,#121ec8,#121dc3,#1119b8,#111bbd,#111bbd,#111abb,#1119b9,#121dc5,#121ec8,#121cc0,#1119b8,#121cc2,#121ec8,#1321d2,#121dc5,#111bbf,#111bbe,#121cc0,#111bbe,#121cc2,#121dc4,#111bbf,#121cc2,#1119b8,#1119b8,#121cc0,#121fcb,#121ec6,#121dc4,#111abc,#111abd,#1119b9,#1119b8,#111bbd,#121cc0,#121cc2,#121cc2,#121cc0,#1119b8,#1119b8,#1119b8,#1119b8,#1119b8,#121cc1,#121dc6,#111bbf,#111bc0,#1119b8,#121cc2,#111aba,#1119b8,#1119b8)"></i>
<i style="background:linear-gradient(90deg,#1a36f1,#1932ef,#1932f0,#162be6,#172eea,#1933f0,#182eea,#1b38f2,#1c3cf3,#1b39f2,#1d3ff4,#1f45f6,#2a62fa,#214bf8,#1a36f1,#1933f0,#1a36f1,#1c3cf3,#1b38f2,#1933f0,#182fec,#162ae4,#1a35f1,#1d3df4,#1c3af3,#1a35f1,#1a34f1,#162be5,#172eea,#1a35f1,#1629e2,#1323d6,#1425dd,#1527df,#162be6,#1424da,#1425db,#1322d5,#1527df,#1424d9,#1424da,#162be5,#1424da,#1323d6,#1322d3,#1321d1,#1424d8,#1322d2,#121dc4,#1220cd,#121dc5,#1320cf,#121ec9,#121ec7,#1322d4,#1322d3,#1424da,#121fcc,#121ec8,#1320cd,#1321d2,#1322d3,#121fca,#121dc5,#111bbf,#1119b8,#111bc0,#121cc3,#111bbd,#111bbe,#121ec7,#111abc,#121fcc,#121cc0,#121dc3,#1119b9,#121ec7,#111abb,#121cc0,#111bc0,#121cc3,#121dc5,#121ec7,#121ec8,#121ec8,#121cc2,#111abc,#121cc2,#121dc5,#111bbd,#121cc1,#1119b8,#1119b8,#121cc1,#121dc3,#121cc1,#121dc5,#111bbe,#121dc4,#111bbf,#121cc2,#111bbd,#121cc1,#121dc3,#121cc2,#111bbf,#1119b8,#111aba,#121ec6,#121cc2,#1119b8,#111bbe,#121cc2,#111bc0,#121ec7,#111abc,#121cc0,#1119b9,#111bbf,#1119b8,#1119b8,#121cc0,#121cc0,#111bbe,#1119b8,#1119b9,#121dc4,#121cc2,#121cc3,#111abd,#121cc1,#121dc3,#111bbf,#111bc0,#1119b8,#1119b8,#111bbd,#111abb,#111abb,#1119b9,#111bbe,#111bbe,#111aba,#111aba,#111abb,#121dc5,#111bbe,#111bbd,#121ec8,#111abb,#111bbd,#1119b8,#1119b8)"></i>
<i style="background:linear-gradient(90deg,#1a35f1,#1931ef,#1932ef,#162be5,#172eea,#1a34f1,#182feb,#1c3bf3,#1e41f5,#1d3ff4,#224cf9,#2e6efa,#295ffa,#1c3bf3,#1a34f1,#1933f0,#1b37f2,#1d3ef4,#1c3bf3,#1b38f2,#1933f0,#162ae4,#1932f0,#1c3cf3,#1d3df4,#1b39f2,#1b37f2,#172ce7,#182feb,#1a36f1,#162be5,#1424d9,#1527df,#1527de,#172ce6,#1426de,#1526de,#1323d6,#1527df,#1424da,#1425db,#172ce7,#1425db,#1323d7,#1323d5,#1322d2,#1424d9,#1322d3,#121dc5,#1320ce,#121dc5,#1320cf,#121fca,#121ec8,#1322d4,#1322d3,#1424da,#1220cd,#121ec9,#1320cd,#1321d2,#1322d4,#121fcb,#121dc5,#111bc0,#1119b8,#121cc0,#121dc3,#111bbd,#111bbf,#121ec7,#111abc,#121fcc,#121cc1,#121dc4,#111aba,#121ec7,#111abb,#121cc1,#121cc0,#121cc3,#121dc5,#121ec7,#121ec8,#121ec8,#121cc2,#111abc,#121cc2,#121dc5,#111bbd,#121cc2,#1119b8,#1119b8,#121cc2,#121dc3,#121cc2,#121dc6,#111bbe,#121dc5,#111bbf,#121cc2,#111bbd,#121cc1,#121dc4,#121cc3,#111bbf,#1119b8,#111aba,#121ec7,#121cc2,#1119b8,#111bbe,#121cc2,#111bc0,#121ec7,#111abc,#121cc0,#1119b9,#111bbf,#1119b8,#1119b8,#121cc1,#121cc0,#111bbe,#1119b8,#1119b9,#121dc4,#121cc2,#121cc3,#111bbd,#121cc1,#121dc3,#111bbf,#111bc0,#1119b8,#1119b8,#111bbd,#111abb,#111abb,#1119b9,#111bbe,#111bbe,#111aba,#111aba,#111abb,#121dc5,#111bbe,#111bbd,#121ec8,#111abb,#111bbd,#1119b8,#1119b8)"></i>
<i style="background:linear-gradient(90deg,#1629e3,#1931ee,#1830ec,#1830ed,#182fec,#1b37f2,#1933f0,#1d3df4,#1c3af3,#1f44f6,#2f70fa,#2e6cfa,#2046f7,#1d3ef4,#1a36f1,#172eea,#182eea,#1a36f1,#1c3bf3,#1e41f5,#1c3af3,#182eea,#172eea,#1b39f2,#1b38f2,#1a36f1,#1c3bf3,#1932f0,#1a36f1,#1c3af3,#1a34f1,#172ee9,#1527e0,#1424d8,#162be5,#172eea,#172ce7,#1323d6,#172eea,#1426de,#1323d6,#1424d8,#1320cf,#1426dd,#1321d0,#1322d3,#1322d3,#1322d2,#1322d2,#1323d6,#1424d8,#1322d3,#1322d3,#1322d2,#1322d3,#1323d5,#1323d6,#121fca,#121dc5,#121ec9,#121fca,#121fcc,#121cc1,#121fcb,#121dc6,#121fcc,#121cc2,#121cc0,#1119b8,#121ec8,#121cc1,#121dc4,#121ec8,#121dc6,#121ec7,#121dc5,#121fcb,#1119b8,#121cc1,#1320ce,#111abc,#1119b8,#111bc0,#121cc1,#121ec8,#1119b8,#111abc,#111bbf,#121dc6,#111abc,#121cc1,#111bbe,#121cc1,#1321d2,#111aba,#111bbd,#121cc3,#121cc1,#1119b8,#1119b8,#111abc,#1119b8,#111abb,#121fcb,#121dc4,#111abc,#111bbe,#1119b8,#121cc3,#121fca,#111abb,#111bbd,#121cc2,#111bc0,#111abd,#121cc1,#121ec8,#121dc3,#1119ba,#1119b8,#1119b8,#111bbd,#121cc0,#1119b8,#1119b8,#111bbf,#121dc4,#121cc1,#111bbe,#1119b8,#121dc4,#121cc2,#121ec7,#1119b8,#1119b8,#111bbe,#121cc1,#1119ba,#121dc4,#1119b9,#121dc4,#121fca,#111bbe,#111bbd,#111abb,#1119b8,#111bbe,#111aba,#121dc5,#121cc1,#121cc3,#1119b8,#1119b8)"></i>
<i style="background:linear-gradient(90deg,#162ae3,#1931ef,#1830ed,#1831ee,#182feb,#1a36f1,#1931ef,#1c3bf3,#1c3af3,#2659fa,#3175fa,#234ffa,#2047f7,#1f44f6,#1c3af3,#1830ed,#182feb,#1b37f2,#1c3cf3,#1f44f6,#1d3ff4,#1a34f1,#1830ec,#1b37f2,#1a36f1,#1b38f2,#1d3ff4,#1a35f1,#1b37f2,#1c3bf3,#1a35f1,#1830ec,#162ae4,#1424da,#162ae4,#182feb,#182fec,#1424d9,#182eea,#1527de,#1424d8,#1424da,#1321d0,#1426de,#1321d2,#1323d5,#1322d4,#1322d2,#1322d3,#1423d7,#1424d9,#1322d4,#1322d4,#1322d3,#1322d4,#1323d6,#1323d6,#121fcb,#121ec6,#121fca,#121fc9,#1220cd,#121cc3,#121fcc,#121dc6,#121fcc,#121cc3,#121cc1,#1119b8,#121ec8,#121cc1,#121dc5,#121ec8,#121dc6,#121ec7,#121dc6,#121fcb,#1119b8,#121cc1,#1320cf,#111abd,#1119b8,#121cc0,#121cc1,#121ec8,#1119b8,#111abc,#111bbf,#121dc6,#111abc,#121cc1,#111bbe,#121cc1,#1322d2,#111aba,#111bbd,#121cc3,#121cc2,#1119b8,#1119b8,#111abc,#1119b8,#111abb,#121fcb,#121dc4,#111abc,#111bbe,#1119b8,#121cc3,#121fca,#111abb,#111bbd,#121cc2,#111bc0,#111abd,#121cc1,#121ec8,#121dc4,#111aba,#1119b8,#1119b8,#111bbd,#121cc1,#1119b8,#1119b8,#111bbf,#121dc4,#121cc1,#111bbe,#1119b8,#121dc4,#121cc2,#121ec7,#1119b8,#1119b8,#111bbe,#121cc1,#111aba,#121dc4,#1119b9,#121dc4,#121fca,#111bbe,#111bbd,#111abb,#1119b8,#111bbe,#111aba,#121dc5,#121cc1,#121cc3,#1119b8,#1119b8)"></i>
<i style="background:linear-gradient(90deg,#172ce7,#1830ed,#1933f0,#1a34f1,#1b38f2,#1b37f2,#1a36f1,#1a34f1,#1e42f5,#2657fa,#224cf9,#224cf9,#2047f7,#1d3df4,#1d3df4,#1b37f2,#1a34f1,#1d3ef4,#1e40f5,#2046f7,#224df9,#1f45f6,#1b37f2,#1b37f2,#1a34f1,#1b37f2,#1e41f5,#1d3df4,#1b38f2,#1932f0,#1c3af3,#1c3af3,#1831ee,#172ce6,#1831ee,#172de8,#182eea,#162ae4,#1528e0,#182eea,#1629e3,#1425dc,#1424d9,#1323d6,#1423d8,#1321d2,#1322d4,#1320cd,#1321d2,#121dc5,#1322d2,#121fcb,#1320ce,#1323d7,#1323d6,#1320cf,#121dc6,#1320ce,#121ec6,#121ec8,#121ec7,#121cc3,#111bbf,#121dc6,#121ec9,#1320cf,#121dc6,#121dc5,#121cc2,#121fca,#121dc5,#121ec9,#121cc3,#121fca,#121cc1,#121dc6,#121cc0,#121dc4,#111bbf,#121cc0,#111abb,#1119b8,#111aba,#121fcc,#121fcc,#111bc0,#1119b9,#121cc2,#121ec7,#121cc2,#121dc4,#111aba,#111abd,#121cc2,#121cc0,#121fcb,#121dc4,#121ec7,#111bbf,#111aba,#111aba,#1119b8,#121cc3,#121cc1,#111bbe,#121ec7,#111bbd,#1119b8,#111abb,#111bbe,#121cc2,#121dc4,#121cc0,#111bbd,#111bc0,#121fca,#121ec7,#121ec8,#111aba,#111bbd,#111aba,#111abb,#111abb,#1119b8,#1119b8,#1119b8,#111bbd,#121dc4,#111abc,#111bbd,#121ec8,#1119b9,#1119b9,#1119b8,#1119b8,#111abd,#111abb,#1119b8,#111bbe,#111bc0,#111abb,#121dc6,#121fcb,#121dc3,#1119b8,#121cc0,#111aba,#111abb,#111aba,#121cc1,#1119b8,#1119b8,#1119b8)"></i>
<i style="background:linear-gradient(90deg,#1a34f1,#1b38f2,#1c3af3,#1c3af3,#1d3df4,#1c3cf3,#1c3af3,#1c3bf3,#1f45f6,#1e42f5,#1e41f5,#2149f8,#2047f7,#1e40f5,#1f45f6,#1c3cf3,#1b37f2,#1e40f5,#1e40f5,#1f45f6,#224ef9,#214bf8,#1d3df4,#1c3af3,#1932f0,#1a36f1,#1e42f5,#1e40f5,#1c3af3,#1a34f1,#1c3bf3,#1c3bf3,#1a34f1,#182feb,#1931ee,#172ce7,#1830ed,#172de9,#1629e3,#182eea,#162ae4,#1526de,#1425dc,#1323d7,#1423d7,#1322d4,#1323d7,#1320ce,#1321d1,#121dc6,#1322d4,#121fcc,#1320ce,#1423d7,#1323d7,#1321d0,#121dc6,#1320cd,#121ec7,#121fca,#121ec8,#121cc3,#121cc0,#121ec7,#121ec9,#1320cf,#121dc6,#121dc6,#121cc3,#121fca,#121dc5,#121fca,#121cc3,#121fca,#121cc1,#121dc6,#121cc0,#121dc4,#111bbf,#121cc0,#111abb,#1119b8,#111aba,#1220cc,#121fcc,#121cc0,#111aba,#121cc3,#121ec7,#121cc2,#121dc5,#111aba,#111abd,#121cc2,#121cc1,#121fcb,#121dc4,#121ec7,#111bbf,#111abb,#111aba,#1119b8,#121cc3,#121cc1,#111bbe,#121ec7,#111bbe,#1119b8,#111abb,#111bbe,#121cc2,#121dc4,#121cc0,#111bbd,#111bc0,#121fca,#121ec7,#121ec8,#111abb,#111bbd,#111aba,#111abb,#111abb,#1119b8,#1119b8,#1119b8,#111bbd,#121dc4,#111abc,#111bbd,#121ec9,#1119b9,#1119b9,#1119b8,#1119b8,#111abd,#111abb,#1119b8,#111bbe,#111bc0,#111abb,#121dc6,#121fcb,#121dc3,#1119b8,#121cc0,#111aba,#111abb,#111aba,#121cc1,#1119b8,#1119b8,#1119b8)"></i>
<i style="background:linear-gradient(90deg,#1c3af3,#1c3af3,#1d3ff4,#2046f7,#1d3ef4,#1e42f5,#1e42f5,#1f44f6,#1e42f5,#1c3cf3,#1e40f5,#1e40f5,#1e40f5,#1f43f6,#214af8,#1d3ff4,#1e41f5,#1f44f6,#1e41f5,#1e40f5,#1f45f6,#224cf9,#2047f7,#1d3df4,#1b38f2,#1b39f2,#1e42f5,#2047f7,#1e41f5,#1c3bf3,#1a35f1,#1932f0,#1a34f1,#182fec,#1426dd,#162be5,#1931ef,#1629e3,#1830ed,#1527e0,#1423d7,#1527de,#1322d3,#1424d8,#121fca,#121fcb,#1323d6,#121fca,#121ec8,#1321d2,#1528e0,#1321d1,#111bbd,#121cc1,#1220cd,#121ec8,#111bbd,#1320cd,#1322d2,#1321d2,#121cc2,#121dc5,#121dc6,#1321d1,#121dc4,#121ec8,#121ec7,#121cc3,#121ec9,#111aba,#111bbf,#121ec9,#121ec9,#121fcb,#121ec8,#121dc6,#111bbe,#121cc2,#111aba,#1119b8,#1119b8,#111bbf,#121fcc,#121dc3,#121ec7,#121dc4,#121fca,#111bbf,#111bbf,#111bbe,#121dc5,#121fca,#111abb,#121cc2,#111bbf,#121dc3,#111bc0,#121dc4,#111bc0,#111bbe,#111bbe,#1119b8,#1119b8,#1119b8,#111bbd,#121dc5,#111bbd,#1119b9,#1119b8,#111aba,#121dc5,#121cc1,#111abc,#121cc0,#1119b8,#121cc1,#111abd,#121cc2,#121fca,#111abc,#1119b8,#1119b9,#121cc2,#111bbe,#111abc,#1119b8,#121cc1,#111abd,#111bbe,#121dc4,#111abb,#111abb,#111bc0,#1119b8,#111bbe,#111bbd,#111aba,#111abb,#1119b8,#111abc,#121cc3,#121cc2,#111bbe,#111abc,#111bbd,#1119b8,#1119b8,#111bbd,#1119ba,#1119b8,#1119b9,#111abd,#1119b8)"></i>
<i style="background:linear-gradient(90deg,#1d3ef4,#1d3ef4,#1f44f6,#224cf9,#1f43f6,#2048f7,#2149f8,#2046f7,#1f43f6,#1e40f5,#1e42f5,#1d3ef4,#1f43f6,#1e40f5,#2149f8,#1e42f5,#2046f7,#2149f8,#1f45f6,#1e41f5,#1f43f6,#214bf8,#224cf9,#1f43f6,#1c3bf3,#1b38f2,#1e41f5,#2048f7,#1f43f6,#1d3df4,#1b37f2,#1932f0,#1a35f1,#1a34f1,#1529e2,#162be4,#1830ed,#162be6,#1933f0,#1528e1,#1423d7,#1527df,#1323d6,#1424da,#121fca,#121fca,#1424d8,#1320cd,#121ec8,#1321d1,#1528e1,#1322d3,#111bbe,#121cc1,#1320ce,#121fca,#111bbe,#1320cd,#1322d3,#1322d3,#121cc2,#121dc5,#121ec7,#1321d2,#121dc5,#121ec8,#121ec8,#121dc4,#121fc9,#111aba,#111bbf,#121ec9,#121ec9,#121fcc,#121ec9,#121dc6,#111bbe,#121cc2,#111abb,#1119b9,#1119b8,#111bc0,#1220cc,#121dc4,#121ec7,#121dc4,#121fca,#111bc0,#111bbf,#111bbe,#121dc5,#121fcb,#111abb,#121cc2,#111bbf,#121dc4,#111bc0,#121dc4,#121cc0,#111bbf,#111bbe,#1119b8,#1119b8,#1119b8,#111bbd,#121dc5,#111bbd,#1119ba,#1119b8,#1119ba,#121dc6,#121cc1,#111abc,#111bc0,#1119b8,#121cc2,#111bbd,#121cc2,#121fca,#111abd,#1119b8,#1119b9,#121cc2,#111bbe,#111abc,#1119b8,#121cc1,#111abd,#111bbe,#121dc4,#111abb,#111abb,#111bc0,#1119b8,#111bbe,#111bbd,#111aba,#111abb,#1119b8,#111abc,#121cc3,#121cc2,#111bbf,#111abc,#111bbd,#1119b8,#1119b8,#111bbd,#111aba,#1119b8,#1119b9,#111abd,#1119b8)"></i>
<i style="background:linear-gradient(90deg,#1e41f5,#1d3df4,#2149f8,#2048f7,#2149f8,#1f45f6,#224df9,#2048f7,#2149f8,#234ffa,#2451fa,#2351fa,#1e41f5,#1e41f5,#1f45f6,#2149f8,#224df9,#234ffa,#1d3df4,#1d3ff4,#1c3af3,#1c3cf3,#2048f7,#2046f7,#1c3bf3,#1a35f1,#1b38f2,#1f44f6,#2046f7,#1f45f6,#1d3ef4,#1c3bf3,#1b39f2,#1c3af3,#1a36f1,#1423d7,#162ae4,#162ae4,#182fec,#1528e1,#1425dc,#1527df,#1423d8,#1321cf,#121fca,#1320cf,#121ec8,#1220cd,#121fcc,#121fcb,#1322d3,#1320cd,#111bbe,#121dc6,#121fcc,#121fcb,#1320cf,#1424d8,#1321d2,#121dc6,#121dc3,#121dc5,#1322d3,#121ec7,#121fcc,#121ec9,#121dc5,#121cc1,#121dc6,#111bc0,#121dc3,#121dc6,#121fca,#121fca,#111bc0,#121cc1,#121ec7,#121ec8,#121cc2,#111bc0,#1119b8,#111abd,#121fc9,#121cc2,#121dc6,#121ec8,#121ec9,#111bbd,#1119b8,#111aba,#121cc2,#111bbe,#121ec7,#121ec8,#111bbe,#1320cd,#121cc2,#121dc3,#121dc6,#111bc0,#111bbe,#111abb,#121dc4,#121ec7,#111bbe,#1119b8,#1119b9,#121cc3,#1119b8,#1119b8,#1119b9,#111bbf,#111bbf,#111bbd,#111bbe,#111bbd,#111bbd,#111bbd,#111bbe,#1119b8,#1119b8,#111bbe,#121cc2,#111bc0,#1119b8,#1119b8,#111bbf,#1119b8,#111bbf,#121dc3,#121cc2,#1119b8,#1119b9,#1119b8,#111bbe,#1119b8,#1119b8,#111abc,#1119b8,#1119b8,#111bc0,#121dc4,#111bbe,#121dc6,#1119b9,#111bc0,#1119b8,#111abb,#111aba,#1119b8,#1119b8,#1119b8,#111aba)"></i>
<i style="background:linear-gradient(90deg,#1c3cf3,#1b38f2,#1f45f6,#1f45f6,#2047f7,#1f44f6,#224df9,#214af8,#224ef9,#2658fa,#2c69fa,#2960fa,#1e40f5,#1d3ff4,#1e42f5,#2047f7,#224ef9,#2454fa,#1e42f5,#1f43f6,#1c3cf3,#1c3af3,#2046f7,#2149f8,#1f43f6,#1b39f2,#1b38f2,#1f43f6,#2048f7,#2047f7,#1e41f5,#1c3cf3,#1b38f2,#1c3cf3,#1c3af3,#1425db,#1529e2,#162ae4,#1932ef,#162ae4,#1426dd,#1527e0,#1424d9,#1321d2,#121fcb,#1320cf,#121ec9,#1321cf,#1320cd,#121fcb,#1322d4,#1320cf,#111bbf,#121dc6,#1220cd,#121fcc,#1321d0,#1424d8,#1322d3,#121ec7,#121dc4,#121dc6,#1322d4,#121ec8,#121fcc,#121ec9,#121dc6,#121cc2,#121dc6,#111bc0,#121dc4,#121ec7,#121fca,#121fca,#121cc0,#121cc2,#121ec7,#121ec8,#121cc2,#121cc1,#1119b8,#111abd,#121fca,#121cc3,#121dc6,#121ec7,#121ec9,#111bbe,#1119b8,#111aba,#121cc2,#111bbf,#121ec7,#121ec8,#111bbe,#1320ce,#121cc2,#121dc3,#121dc6,#121cc0,#111bbe,#111abb,#121dc4,#121ec8,#111bbe,#1119b8,#111aba,#121dc3,#1119b8,#1119b8,#111aba,#111bc0,#111bbf,#111bbd,#111bbe,#111bbd,#111bbd,#111bbd,#111bbe,#1119b8,#1119b8,#111bbe,#121cc2,#121cc0,#1119b8,#1119b8,#111bbf,#1119b8,#111bbf,#121dc4,#121cc2,#1119b8,#1119ba,#1119b8,#111bbe,#1119b8,#1119b8,#111abc,#1119b8,#1119b8,#121cc0,#121dc4,#111bbe,#121dc6,#1119ba,#111bc0,#1119b8,#111abb,#111aba,#1119b8,#1119b8,#1119b8,#111aba)"></i>
<i style="background:linear-gradient(90deg,#1f43f6,#1f45f6,#1f45f6,#1d3ff4,#2046f7,#1f43f6,#214af8,#224cf9,#295ffa,#2d6bfa,#3277fa,#2b66fa,#2658fa,#1f45f6,#1c3cf3,#2048f7,#234ffa,#2555fa,#1e40f5,#2048f7,#1f43f6,#1d3df4,#1f43f6,#2658fa,#2555fa,#1f43f6,#1b37f2,#1d3ff4,#1e40f5,#2048f7,#2046f7,#1c3cf3,#1a35f1,#1a35f1,#1b37f2,#1932f0,#162be5,#162be5,#172ce7,#1528e1,#162be6,#1527e0,#172ce6,#1629e2,#1321d1,#1322d5,#1425dd,#1426dd,#1424d9,#1321d1,#1425db,#1424d8,#1323d6,#121ec9,#1322d5,#121fcb,#1321d0,#121dc6,#1323d6,#1322d4,#1321d1,#121fca,#121fca,#1320cf,#121cc2,#121cc2,#121dc4,#1321cf,#121dc4,#121dc5,#121ec7,#121ec7,#1321d0,#121ec7,#121ec7,#1321d0,#121fcc,#121cc3,#121fcb,#121cc1,#1119b8,#121cc3,#121ec8,#121dc4,#111aba,#121dc4,#121ec7,#111abd,#1119b8,#1119b8,#121ec8,#121fca,#111bbe,#121cc2,#121dc3,#121cc2,#121ec8,#111abc,#121cc0,#111bbe,#1119b8,#121cc1,#121fca,#121ec8,#111bbf,#111aba,#121cc0,#1119b8,#121ec9,#111bbd,#1119b8,#111bbe,#111abc,#121fcb,#111bbe,#111abc,#1119b8,#111bc0,#111bbf,#121cc1,#111bbd,#121ec8,#111bbe,#111abb,#111abb,#111aba,#1119b8,#1119b8,#111aba,#111abb,#111aba,#1119b8,#1119b8,#121cc1,#111bbd,#111abc,#121ec9,#111bc0,#1119ba,#1119b8,#111bbd,#121dc4,#121fcb,#1119b8,#111bbe,#1119b8,#111bbf,#1119b8,#121cc3,#1119b9,#1119b8,#1119b8,#1119b8)"></i>
<i style="background:linear-gradient(90deg,#2048f7,#2149f8,#2048f7,#1e41f5,#2047f7,#1e42f5,#2048f7,#2149f8,#295ffa,#2e6dfa,#2f70fa,#2c69fa,#2c67fa,#234ffa,#1e41f5,#2048f7,#224df9,#2555fa,#1f43f6,#224df9,#2149f8,#1e40f5,#1e40f5,#2453fa,#275afa,#214af8,#1c3bf3,#1d3ff4,#1e41f5,#2149f8,#2149f8,#1d3ff4,#1a35f1,#1a34f1,#1b39f2,#1b37f2,#172ce6,#162ae3,#172de8,#162ae4,#172de8,#1528e0,#172ce7,#162be5,#1322d3,#1323d5,#1426de,#1527e0,#1424da,#1321d1,#1425dc,#1424da,#1423d7,#121ec9,#1323d6,#1220cd,#1321d2,#121dc6,#1323d7,#1323d6,#1322d3,#121fca,#121fca,#1321d1,#121dc4,#121cc2,#121dc4,#1321d1,#121dc6,#121dc5,#121dc6,#121ec8,#1322d3,#121ec7,#121dc5,#1321d1,#1320ce,#121dc4,#121fca,#121cc1,#1119b8,#121dc4,#121ec7,#121dc4,#111abc,#121dc5,#121ec6,#111bbd,#1119b8,#1119b9,#121ec7,#121fca,#111bbf,#121cc2,#121dc3,#121cc2,#121ec9,#111abc,#121cc1,#111bbf,#1119b8,#121cc1,#121fca,#121ec8,#111bbf,#111aba,#121cc1,#1119b8,#121ec9,#111bbd,#1119b8,#111bbe,#111abc,#121fcb,#111bbe,#111abc,#1119b8,#121cc0,#111bbf,#121cc1,#111bbd,#121ec8,#111bbe,#111abb,#111abb,#111aba,#1119b8,#1119b8,#111abb,#111abb,#111aba,#1119b8,#1119b8,#121cc1,#111bbd,#111abc,#121ec9,#121cc0,#111aba,#1119b8,#111bbd,#121dc4,#121fcb,#1119b8,#111bbe,#1119b8,#111bbf,#1119b8,#121dc3,#1119b9,#1119b8,#1119b8,#1119b8)"></i>
<i style="background:linear-gradient(90deg,#2453fa,#214af8,#2453fa,#224df9,#2047f7,#224df9,#2149f8,#224ef9,#2657fa,#2960fa,#2c67fa,#2e6dfa,#2b66fa,#295ffa,#2350fa,#2047f7,#224df9,#2452fa,#214af8,#2048f7,#214af8,#1f43f6,#1f43f6,#224ef9,#275afa,#2556fa,#2048f7,#1e40f5,#1e42f5,#1f43f6,#1e41f5,#1f44f6,#1c3af3,#1b38f2,#1d3ef4,#1830ed,#162ae4,#182eea,#1932f0,#1932f0,#1830ed,#162ae4,#1a36f1,#1932ef,#1527df,#1425dc,#162ae3,#172ce7,#162be5,#1320ce,#1426de,#1424d9,#1527df,#1320cf,#1220cd,#1322d3,#1321d0,#121dc6,#121fcb,#1320ce,#121fcc,#1321d2,#121fcc,#1321d2,#121ec8,#1321d0,#121dc4,#1320ce,#1321cf,#111bbe,#121dc6,#1220cc,#1320ce,#121dc4,#111abc,#1220cd,#121ec8,#121ec8,#121ec7,#121ec7,#121cc1,#121dc4,#121cc1,#121fcb,#121dc5,#121cc3,#111bbd,#121ec8,#121cc3,#121cc3,#111abc,#121ec7,#121cc3,#111bbe,#111bbf,#121dc5,#121fca,#111abc,#121cc1,#121cc1,#1119b8,#121dc6,#121cc3,#111aba,#1119b9,#111abb,#121cc1,#121cc2,#121cc3,#111bbe,#121cc1,#111bbf,#121dc5,#121dc4,#121ec7,#121cc3,#121cc1,#121dc4,#121fca,#121cc0,#121cc1,#1119b8,#111abb,#121dc4,#111bbf,#111aba,#121cc1,#111abd,#1119b8,#1119b8,#1119b8,#111bbd,#111bbe,#121dc3,#111abb,#121cc3,#121cc1,#111abd,#1119b8,#1119b8,#111bbe,#111abb,#1119b8,#1119b8,#111bbd,#111abd,#111abb,#1119b9,#111bc0,#1119b8,#121cc2,#111bbd,#1119b8)"></i>
<i style="background:linear-gradient(90deg,#2b66fa,#275afa,#2c67fa,#295ffa,#2555fa,#275cfa,#2452fa,#2555fa,#2555fa,#2556fa,#2960fa,#2c67fa,#2c67fa,#2d6afa,#295ffa,#2350fa,#2350fa,#2351fa,#214af8,#214af8,#234ffa,#214bf8,#2046f7,#2149f8,#2554fa,#275bfa,#224ef9,#1f43f6,#1e42f5,#1f44f6,#1f43f6,#2048f7,#1c3cf3,#1b37f2,#1d3ef4,#1a34f1,#172de8,#172eea,#1932f0,#1a35f1,#1932f0,#162be5,#1a36f1,#1a34f1,#1629e3,#1425dc,#1629e3,#182eea,#172de9,#1320ce,#1426dd,#1425db,#1529e2,#1320cf,#1220cd,#1323d5,#1322d4,#121ec7,#121ec9,#1321cf,#1321d1,#1322d4,#121fca,#1321d2,#1220cc,#1322d3,#121cc2,#1320ce,#1322d3,#121cc1,#121dc5,#121fcc,#1321d1,#121ec7,#111abb,#121fcc,#121fca,#121ec9,#121ec7,#121ec7,#121cc3,#121dc6,#121cc1,#121fcb,#121ec7,#121dc4,#111bbd,#121ec9,#121dc4,#121dc3,#111abc,#121ec9,#121dc4,#111bbe,#121cc0,#121dc6,#121fca,#111abc,#121cc1,#121cc2,#1119b8,#121dc6,#121dc4,#111abb,#1119b9,#111abb,#121cc2,#121cc3,#121dc3,#111bbf,#121cc2,#111bbf,#121dc5,#121dc5,#121ec8,#121dc4,#121cc1,#121dc4,#121fcb,#121cc1,#121cc1,#1119b8,#111abc,#121dc5,#111bbf,#111aba,#121cc2,#111bbd,#1119b8,#1119b8,#1119b8,#111bbe,#111bbe,#121dc3,#111abb,#121dc4,#121cc1,#111bbd,#1119b8,#1119b8,#111bbe,#111abb,#1119b9,#1119b8,#111bbd,#111bbd,#111abc,#1119b9,#111bc0,#1119b8,#121cc3,#111bbe,#1119b8)"></i>
<i style="background:linear-gradient(90deg,#2b66fa,#2d6cfa,#3072fa,#2a62fa,#2a63fa,#285dfa,#275cfa,#285efa,#285cfa,#275bfa,#2b64fa,#2350fa,#2555fa,#2e6dfa,#2c68fa,#285cfa,#214af8,#224cf9,#2048f7,#2149f8,#2555fa,#2556fa,#224cf9,#1d3ef4,#1e41f5,#2657fa,#214bf8,#2046f7,#1f43f6,#1e41f5,#2048f7,#1c3cf3,#1a36f1,#1933f0,#1e41f5,#1e41f5,#1a34f1,#1529e2,#162ae4,#1c3af3,#1933f0,#162ae3,#172ce7,#1a34f1,#172de8,#1527df,#1426de,#182feb,#162be6,#1426dd,#1528e1,#1629e2,#1527df,#1321d0,#1320cd,#1424d8,#1322d4,#1320ce,#121dc5,#1425db,#1526de,#121fca,#111bbe,#1321d1,#1323d6,#1322d4,#121ec9,#1323d7,#1424d9,#121dc6,#111bbf,#1320ce,#1321cf,#121fcb,#1119ba,#121ec7,#121cc1,#1119b9,#111abc,#121fcb,#1323d7,#121fcc,#121fcc,#121fca,#121dc6,#121dc4,#121cc1,#1322d2,#121cc0,#111abb,#1119b8,#111abc,#1119b8,#121cc1,#111aba,#121ec8,#111bbd,#121dc4,#121dc6,#121dc3,#111bbf,#111aba,#1119b8,#1119b8,#111abb,#111bbd,#121cc3,#121fcc,#121ec6,#111bbd,#121dc5,#1119b8,#1119b9,#1220cc,#121fcb,#121cc3,#1119b8,#111bbf,#111aba,#121cc1,#111bbf,#121ec8,#121cc3,#121fca,#121dc5,#121cc1,#121dc4,#111bbf,#111bc0,#121ec9,#121dc5,#1119b9,#1119b8,#1119b8,#111aba,#1119b8,#111bbd,#121dc5,#121cc0,#121cc1,#121dc4,#111abb,#121dc5,#111abc,#111abc,#121dc5,#121ec9,#121cc3,#121cc0,#121dc6,#1119b9,#111abc,#1119b8)"></i>
<i style="background:linear-gradient(90deg,#2b66fa,#2e6cfa,#3174fa,#2c67fa,#2d6cfa,#2d69fa,#2c69fa,#2d6afa,#2d6bfa,#2b66fa,#2d6afa,#234ffa,#224ef9,#2b66fa,#2d6bfa,#2c68fa,#2453fa,#2351fa,#2149f8,#2149f8,#2556fa,#285dfa,#2658fa,#1e42f5,#1d3df4,#2452fa,#234ffa,#214bf8,#2046f7,#1e42f5,#2048f7,#1d3ff4,#1c3af3,#1a34f1,#1d3ff4,#1f43f6,#1b39f2,#162ae4,#1529e2,#1c3bf3,#1a36f1,#162be6,#172ce6,#1a35f1,#1831ee,#1629e2,#1425dc,#182eea,#1830ed,#1529e2,#1527df,#1529e1,#162ae3,#1322d4,#1220cc,#1423d7,#1424d8,#1322d4,#121dc4,#1423d7,#1529e2,#1321d1,#111bbe,#1320ce,#1424d8,#1424d9,#121fca,#1323d6,#1425db,#121fc9,#121cc0,#1320ce,#1321d1,#1320cd,#111aba,#121ec8,#121dc4,#111aba,#111abc,#121fcc,#1424d8,#1220cc,#1220cc,#121fcc,#121ec7,#121dc4,#121cc1,#1323d5,#121cc2,#111abb,#1119b8,#111bbd,#1119b9,#121cc1,#111abb,#121fca,#111bbe,#121dc5,#121ec7,#121dc5,#111bbf,#111aba,#1119b8,#1119b8,#111abc,#111bbd,#121dc4,#1320cd,#121ec7,#111bbd,#121dc5,#1119b8,#111aba,#121fcc,#121fcb,#121dc5,#1119b8,#111bbf,#111abb,#121cc3,#111bc0,#121ec8,#121dc3,#121fcc,#121dc6,#121cc0,#121dc5,#121cc1,#121cc0,#121ec8,#121dc5,#111abb,#1119b8,#1119b8,#111aba,#1119b9,#111bbe,#121dc5,#121cc1,#121cc2,#121dc4,#111abb,#121dc6,#111abd,#111abc,#121dc5,#121fca,#121dc3,#121cc0,#121dc6,#1119b9,#111abc,#1119b8)"></i>
<i style="background:linear-gradient(90deg,#2a64fa,#2a62fa,#2b65fa,#2960fa,#2d6cfa,#2d69fa,#2c68fa,#3278fa,#357ffa,#337afa,#3072fa,#2555fa,#2657fa,#2453fa,#2a62fa,#3176fa,#2f71fa,#275bfa,#224df9,#214af8,#2659fa,#275bfa,#285ffa,#214bf8,#1f44f6,#214af8,#2351fa,#224cf9,#2046f7,#2149f8,#224df9,#1f44f6,#1d3ff4,#172de8,#1b37f2,#1f45f6,#1c3af3,#172ce8,#1831ee,#1d3ef4,#1d3ff4,#1931ee,#172de8,#1931ee,#1933f0,#172de9,#1424da,#1527df,#162be5,#1527df,#1322d4,#1424da,#1424d8,#1424db,#1322d3,#1322d4,#1424da,#1321d1,#121fcc,#1323d6,#172ee9,#1425dc,#121fca,#1321d0,#1322d2,#1424d9,#121fcb,#121fcc,#1323d6,#1320cf,#121dc3,#121cc1,#1424d8,#1321d0,#121cc0,#121dc6,#121fcb,#121ec7,#121dc6,#1320ce,#121ec9,#121fca,#111bbf,#121cc2,#1321d2,#111bc0,#121ec7,#1323d5,#1321cf,#121dc5,#121ec7,#121fcb,#121ec9,#111bbd,#121dc6,#121fcb,#121fca,#1320cf,#121ec8,#121dc5,#111bbd,#111abc,#121cc1,#121cc1,#121dc3,#121dc5,#111abb,#121ec8,#121dc6,#1119b8,#121dc6,#111bc0,#121dc6,#1320cd,#121ec8,#121ec7,#121cc2,#111aba,#111abc,#121dc4,#121ec9,#111aba,#111abb,#121cc1,#1119b9,#121cc1,#121dc5,#121fca,#121dc4,#121dc4,#121dc6,#121cc2,#1119b8,#1119b8,#111abd,#111bc0,#121ec8,#121fcb,#121ec7,#121dc6,#111bc0,#121cc1,#121dc4,#111bbe,#1119b8,#1119b8,#111bbe,#111bc0,#111abb,#121cc2,#111abc,#111bbe,#111bbe)"></i>
<i style="background:linear-gradient(90deg,#275cfa,#275afa,#275afa,#2555fa,#2a62fa,#2a62fa,#2b65fa,#347cfa,#3a8bfa,#3b8efa,#3887fa,#2a64fa,#285efa,#234ffa,#2658fa,#3073fa,#3279fa,#2b66fa,#2453fa,#214bf8,#2657fa,#275afa,#2c67fa,#2556fa,#2047f7,#1f45f6,#224ef9,#2350fa,#214bf8,#214bf8,#224ef9,#1f45f6,#1f43f6,#1831ee,#1a35f1,#1f43f6,#1d3ef4,#1931ef,#1831ee,#1d3df4,#1e42f5,#1a35f1,#172eea,#1830ed,#1a35f1,#1a34f1,#1426dd,#1424da,#172ce7,#172de8,#1424d8,#1423d8,#1424d9,#1528e1,#1323d6,#1322d3,#1425db,#1323d6,#1321cf,#1322d5,#182feb,#1529e2,#1220cd,#1321d0,#1323d5,#1425dd,#121fcc,#1320cd,#1424da,#1321d1,#121dc4,#121dc3,#1425dc,#1321d1,#121cc0,#121ec8,#1320ce,#121ec8,#121ec7,#1321d0,#121fcb,#121fcb,#111bc0,#121dc5,#1322d4,#121cc1,#121ec7,#1423d7,#1322d2,#121dc6,#121ec7,#1220cc,#121fcc,#111bbe,#121dc6,#121fcc,#1220cd,#1321d0,#121ec7,#121ec7,#121cc0,#111abc,#111bc0,#121cc3,#121ec6,#121dc5,#111aba,#121fca,#121ec9,#1119b9,#121dc5,#121cc1,#121ec9,#1320cd,#121ec7,#121ec9,#121dc5,#111aba,#111abb,#121dc5,#121fcb,#111aba,#111abb,#121cc3,#111abb,#121cc1,#121dc5,#121fcb,#121dc5,#121dc4,#121dc6,#121dc3,#1119b8,#1119b8,#111bbe,#121cc1,#121ec8,#121fcc,#121ec8,#121ec7,#111bc0,#121cc2,#121dc5,#111bbf,#1119b8,#1119b8,#111bbf,#121cc0,#111abb,#121cc3,#111abc,#111bbf,#111bbf)"></i>
<i style="background:linear-gradient(90deg,#2960fa,#2a63fa,#285dfa,#275afa,#2658fa,#295ffa,#2a64fa,#3072fa,#3176fa,#3c90fa,#3e95fa,#357efa,#2e6efa,#2554fa,#275bfa,#295ffa,#3176fa,#2f71fa,#2a62fa,#234ffa,#2659fa,#275afa,#2e6cfa,#285efa,#2047f7,#1f45f6,#2047f7,#2453fa,#2453fa,#2048f7,#224ef9,#1f43f6,#1f44f6,#1d3ff4,#1b39f2,#1f45f6,#2149f8,#1e40f5,#1a35f1,#1a36f1,#1d3df4,#1b38f2,#1932ef,#182fec,#182fec,#1c3bf3,#1629e2,#1424d8,#1932f0,#1a35f1,#1425dc,#1320cd,#1830ed,#172de8,#1424db,#1322d2,#1323d7,#1527df,#1321d0,#1321d2,#172de8,#162ae4,#1220cc,#121cc3,#172ce6,#1423d7,#121ec8,#1321d0,#1424d8,#1320cd,#121cc2,#121ec7,#1424d9,#1322d3,#121fcb,#1321d1,#1629e2,#121ec9,#121ec9,#121ec9,#121dc4,#121fca,#111bbd,#121fca,#1424d9,#121ec8,#121dc4,#1425db,#1528e0,#111bbd,#121dc4,#1424da,#1323d6,#1321d0,#121ec6,#1320cf,#1425dc,#1424d9,#111abd,#121dc6,#121dc3,#111aba,#121cc1,#1320cf,#121dc3,#121dc3,#1119b8,#111bbe,#121fcb,#1119b8,#111bbe,#1119b8,#121ec7,#121dc5,#1119b9,#121cc3,#121cc3,#121ec8,#111bc0,#121dc6,#121cc2,#111abb,#111abc,#121ec7,#121cc1,#111bbe,#1119b8,#121ec6,#121cc1,#111bbf,#121dc5,#121fca,#111bbf,#121cc1,#121dc4,#121cc2,#121dc5,#121cc3,#1323d5,#121fcb,#111abb,#111bbf,#121ec7,#111bbf,#1119b8,#111bbf,#111abc,#1119b9,#111abd,#121cc0,#121dc6,#121dc4,#121dc6)"></i>
<i style="background:linear-gradient(90deg,#2f6ffa,#3072fa,#2d6afa,#2b64fa,#285dfa,#285efa,#285ffa,#2d6bfa,#2f71fa,#3b8dfa,#419cfa,#3d93fa,#3886fa,#2b65fa,#285efa,#2657fa,#2f71fa,#3176fa,#2d6bfa,#2556fa,#275cfa,#2556fa,#2d6afa,#2c67fa,#2452fa,#2048f7,#1f44f6,#2453fa,#2658fa,#214bf8,#2350fa,#1f43f6,#2046f7,#1f45f6,#1d3df4,#1e42f5,#2048f7,#2046f7,#1b39f2,#1a35f1,#1d3df4,#1c3bf3,#1a36f1,#182fec,#182feb,#1d3ff4,#172eea,#1423d8,#1931ef,#1b39f2,#1528e1,#1320ce,#1931ef,#1830ed,#1426de,#1322d4,#1424da,#162ae3,#1321d1,#1322d4,#1830ed,#172de8,#1220cd,#121dc5,#182feb,#1424da,#121ec9,#1322d3,#1426dd,#1321d0,#121cc3,#121ec9,#1426de,#1323d6,#121fcb,#1321d2,#172de8,#1320ce,#121fc9,#121ec9,#121ec8,#1320ce,#111bbd,#121fca,#1526de,#1320cd,#121dc3,#1424d9,#162be5,#121cc2,#121cc3,#1424d9,#1424da,#1322d4,#121dc6,#1320ce,#1528e1,#1426de,#111abc,#121dc5,#121ec7,#111bbe,#121cc0,#1320ce,#121ec7,#121dc6,#1119b8,#111bbe,#1320cf,#1119b8,#111bbd,#1119b9,#121fca,#121ec7,#1119b9,#121dc4,#121dc6,#121ec9,#111bc0,#121ec8,#121dc4,#111abb,#111bbd,#121ec9,#121cc2,#111bbe,#111aba,#121ec9,#121cc2,#111bc0,#121ec7,#121fcc,#111bbf,#121cc2,#121ec7,#121cc3,#121dc6,#121dc5,#1423d8,#121fcb,#111abb,#121cc1,#121ec9,#111bbf,#1119b8,#121cc1,#111bbd,#1119ba,#111bbe,#121cc2,#121ec6,#121dc4,#121ec7)"></i>
<i style="background:linear-gradient(90deg,#429dfa,#3e96fa,#3887fa,#2d69fa,#2d6bfa,#3074fa,#275cfa,#2b66fa,#2a64fa,#2a61fa,#3c90fa,#4cb7fa,#44a3fa,#3e95fa,#3175fa,#2657fa,#275afa,#3989fa,#347cfa,#2961fa,#2555fa,#2658fa,#275afa,#3074fa,#2d6cfa,#2048f7,#2048f7,#234ffa,#285cfa,#214af8,#224cf9,#2149f8,#2555fa,#2350fa,#1e42f5,#1b39f2,#1d3ff4,#224cf9,#1d3ff4,#1932f0,#1f43f6,#1f43f6,#1b39f2,#172de9,#1b37f2,#1d3ff4,#1c3af3,#1528e1,#1931ef,#1b37f2,#172de8,#1528e1,#172de8,#1a34f1,#162be5,#1322d5,#1830ec,#1830ed,#1424d8,#1323d6,#182feb,#182fec,#121fcb,#1322d4,#182eea,#1528e0,#121dc6,#1527de,#172ee9,#1424da,#111bbe,#121fca,#1629e2,#1423d7,#121cc1,#1322d5,#1931ee,#1527df,#121fcb,#121fcc,#1527df,#1424da,#121fca,#1321cf,#172ee9,#1322d4,#121ec8,#121ec8,#162ae4,#1423d7,#121dc4,#121fcb,#1424d9,#1323d6,#121fca,#1322d4,#1527e0,#1321d0,#121cc0,#121ec7,#1424d9,#121dc6,#111abb,#121dc3,#1424da,#111bbe,#1119b8,#121cc1,#121ec8,#111bbe,#111aba,#1320ce,#1321d0,#121cc3,#1119b8,#121fca,#121fcb,#121dc6,#1322d4,#1322d3,#1321d1,#111bbf,#121ec9,#1322d3,#1119ba,#121cc3,#121ec8,#1321d1,#111bc0,#111abc,#1320ce,#121ec8,#111aba,#121dc6,#1321d1,#121ec8,#111bbe,#121dc5,#1220cd,#121fcb,#121dc4,#121cc0,#121dc6,#1119b8,#1119b8,#121fcc,#1220cd,#121dc4,#121dc5,#1321d2,#111abb,#111abc,#121dc4)"></i>
<i style="background:linear-gradient(90deg,#4cb6fa,#4ab2fa,#45a6fa,#3785fa,#3a8afa,#3e96fa,#2e6efa,#2f70fa,#2b65fa,#285efa,#3885fa,#4ab0fa,#48adfa,#4ab1fa,#3e95fa,#285ffa,#2556fa,#3783fa,#3681fa,#2c69fa,#285ffa,#275afa,#2453fa,#2f71fa,#3279fa,#2453fa,#2048f7,#224cf9,#285efa,#224df9,#2350fa,#2149f8,#2555fa,#2657fa,#2149f8,#1b39f2,#1d3df4,#234ffa,#1f44f6,#1a34f1,#1f43f6,#1f45f6,#1c3cf3,#182feb,#1b37f2,#1e42f5,#1d3ef4,#1629e3,#1933f0,#1c3bf3,#182fec,#162ae3,#1830ed,#1b38f2,#172ce7,#1323d7,#1a34f1,#1a35f1,#1424da,#1423d7,#1a34f1,#1a35f1,#1320ce,#1322d4,#1933f0,#172eea,#121ec9,#1426de,#1933f0,#172ce7,#121cc3,#121dc6,#172de8,#162be5,#121dc6,#1321cf,#1a35f1,#1932f0,#1321d1,#121ec9,#162ae4,#172ce7,#1321d0,#121fcb,#1831ee,#1629e3,#1320ce,#121cc3,#172de9,#172ce6,#121fc9,#121ec8,#1527df,#1629e2,#1320cd,#1322d3,#172ce6,#1424da,#121cc3,#121dc6,#1629e3,#1321cf,#111abc,#121dc5,#162ae4,#121cc3,#1119b8,#121dc6,#1321d2,#121cc1,#111aba,#1322d5,#1424d8,#121dc4,#111aba,#1322d3,#1321d1,#121dc6,#1424d8,#1425dc,#1323d5,#111bbf,#1321d0,#1425dc,#111abb,#121dc3,#1321d1,#1424d8,#111bc0,#111bbe,#1423d7,#1320ce,#1119b9,#121ec9,#1424da,#121fcc,#111bbe,#121ec9,#1323d5,#1320cf,#121dc4,#121dc6,#1320ce,#111aba,#1119b8,#1321d1,#1322d5,#121dc6,#121dc5,#1424d8,#121cc2,#111bbe,#121dc5)"></i>
<i style="background:linear-gradient(90deg,#50c2f8,#4fbff9,#4bb5fa,#47aafa,#429efa,#46a8fa,#44a4fa,#3176fa,#2d6afa,#2e6efa,#3175fa,#3886fa,#47aafa,#4ebdf9,#4db9f9,#3175fa,#285dfa,#3073fa,#337afa,#3176fa,#2e6cfa,#285efa,#2658fa,#2e6efa,#3278fa,#295ffa,#1f43f6,#234ffa,#2c68fa,#2658fa,#2452fa,#224df9,#234ffa,#275bfa,#2554fa,#1c3af3,#1d3df4,#2555fa,#214af8,#1b38f2,#1f45f6,#214bf8,#1e42f5,#1d3ff4,#1c3af3,#1e40f5,#1b38f2,#1424da,#1932f0,#1c3cf3,#172ce7,#1425dc,#172ee9,#1b38f2,#182eea,#1426dd,#1a34f1,#1c3cf3,#1323d6,#121fca,#1931ef,#1b39f2,#1425dc,#1320ce,#1a34f1,#1a34f1,#1424d9,#1321d1,#1a36f1,#1b37f2,#1425db,#121ec8,#1931ef,#1c3af3,#1323d7,#111aba,#1426dd,#1a34f1,#162ae4,#121dc5,#1426dd,#182feb,#1424da,#121ec8,#162be6,#1a34f1,#1323d7,#111abb,#162be5,#1c3cf3,#1424d9,#1320ce,#172de8,#1932f0,#1424d8,#121fcc,#1528e0,#172de8,#121fcc,#121fcb,#1a34f1,#1528e0,#121dc4,#1323d6,#1931ef,#121fcc,#111abc,#1322d3,#1527e0,#121fcb,#111bbe,#1425db,#1423d7,#121dc4,#121dc5,#172ce7,#1528e0,#111bc0,#1322d3,#172ce7,#1323d5,#111bbd,#182fec,#1932ef,#121dc4,#1119b8,#1323d5,#1425db,#121ec7,#1119b9,#1526de,#1321d2,#121ec8,#1220cd,#182eea,#1424d9,#111bbf,#121dc6,#1322d3,#1321d0,#111abc,#1323d7,#1424da,#121ec7,#111bbd,#1322d5,#1323d5,#121dc5,#121cc3,#1527df,#1425db,#1321d0,#111bbe)"></i>
<i style="background:linear-gradient(90deg,#4dbbf9,#4cb7fa,#48adfa,#44a4fa,#43a1fa,#4cb7fa,#4ebdf9,#3d92fa,#357ffa,#347cfa,#337afa,#347dfa,#4099fa,#4dbaf9,#53ccf7,#3d92fa,#2c68fa,#3072fa,#3277fa,#3379fa,#3175fa,#2c68fa,#2659fa,#2a63fa,#3278fa,#2e6cfa,#214af8,#234ffa,#2c67fa,#275cfa,#2657fa,#234ffa,#224ef9,#285dfa,#285efa,#1d3df4,#1c3cf3,#2657fa,#224ef9,#1c3bf3,#2046f7,#224df9,#1f45f6,#1e41f5,#1c3bf3,#1e42f5,#1c3cf3,#1425dc,#1933f0,#1d3ff4,#1830ed,#1526de,#182feb,#1c3cf3,#1933f0,#1426de,#1a34f1,#1e42f5,#1528e1,#121ec8,#172ee9,#1e41f5,#1830ed,#121fcb,#182eeb,#1c3bf3,#1830ec,#1321d0,#182feb,#1d3ef4,#1a34f1,#121ec8,#1629e2,#1e40f5,#1830ed,#111abc,#1322d3,#1b39f2,#1a36f1,#121ec7,#1323d7,#1a35f1,#172de8,#121ec9,#1629e2,#1c3bf3,#162ae3,#111aba,#162be5,#1f43f6,#1527e0,#1320ce,#1830ed,#1b39f2,#1425db,#1220cd,#172ce7,#1831ee,#121fcc,#1321d0,#1c3bf3,#162ae4,#121cc3,#1527df,#1b39f2,#121fcc,#111abd,#1425dc,#172ce6,#121fca,#121cc1,#162be5,#1425db,#121cc2,#121fcb,#1933f0,#1629e3,#111bbf,#1424d8,#1931ef,#1423d7,#111bbe,#1a34f1,#1b38f2,#121ec7,#1119b8,#1424da,#162ae3,#121fca,#1119b8,#1629e3,#1424da,#121fca,#121fcb,#1932ef,#162ae3,#121cc1,#121dc4,#1424d9,#1425db,#111bbd,#1322d3,#1528e1,#1322d2,#111abd,#1321d1,#1426dd,#1321d0,#121cc2,#1425dc,#1629e3,#1424d9,#111abc)"></i>
<i style="background:linear-gradient(90deg,#4cb6fa,#419cfa,#337afa,#347dfa,#3a8bfa,#45a5fa,#52c8f8,#4cb6fa,#46a9fa,#48acfa,#3e95fa,#347cfa,#3d92fa,#4ab1fa,#4dbbf9,#45a6fa,#3b8ffa,#2f70fa,#2e6efa,#3278fa,#3277fa,#2d6afa,#295ffa,#275bfa,#3174fa,#3278fa,#2960fa,#2658fa,#2e6dfa,#275bfa,#2960fa,#2351fa,#2048f7,#275bfa,#2452fa,#1f44f6,#1b39f2,#214bf8,#2351fa,#1b38f2,#1b38f2,#2149f8,#224cf9,#1f45f6,#1b39f2,#2046f7,#1d3df4,#182eea,#1a36f1,#2046f7,#1b37f2,#1528e1,#162be5,#1b39f2,#182eeb,#1323d6,#1c3af3,#234ffa,#1c3af3,#1321d0,#1528e0,#2149f8,#1d3ef4,#1423d7,#1528e0,#1d3ef4,#1c3bf3,#1322d4,#1321d1,#1c3af3,#1a36f1,#1321d2,#121dc4,#1b39f2,#1b39f2,#121ec9,#111bbe,#1b38f2,#172ee9,#1220cc,#1322d4,#1b37f2,#1a34f1,#121ec9,#1423d7,#1d3df4,#1527de,#111abb,#1b39f2,#214bf8,#1424d8,#121fcc,#1932f0,#182fec,#1322d3,#1323d6,#1c3af3,#1629e2,#121ec8,#1323d5,#1c3bf3,#1528e0,#111bbd,#1426dd,#172ce7,#1220cd,#111abb,#1529e2,#172de8,#111abd,#121ec7,#172de9,#172de8,#111abb,#121ec7,#1a34f1,#1529e2,#111bbd,#1321d2,#1931ef,#1323d6,#121dc4,#1425dc,#182eeb,#121ec7,#121cc1,#1323d5,#162be6,#1323d5,#121cc2,#1424d9,#1426de,#1321d0,#121cc2,#1830ed,#172eea,#121ec7,#111bbd,#1321d1,#1528e1,#121cc1,#121cc0,#1629e3,#1425dc,#111abb,#121dc6,#1425dd,#1322d4,#121dc6,#121fcb,#162ae3,#1322d2,#121ec8)"></i>
<i style="background:linear-gradient(90deg,#49affa,#3e96fa,#3073fa,#2f70fa,#3175fa,#3a8cfa,#4db9f9,#4bb5fa,#4cb6fa,#50c2f8,#4ab2fa,#3c90fa,#3c90fa,#419bfa,#49affa,#4bb4fa,#47a9fa,#347cfa,#2f6ffa,#3277fa,#337bfa,#3175fa,#2d6bfa,#2657fa,#2d6bfa,#347dfa,#2e6efa,#285efa,#2e6dfa,#285dfa,#2b65fa,#2657fa,#2048f7,#2659fa,#275afa,#214bf8,#1b38f2,#214af8,#2657fa,#1d3df4,#1b39f2,#2149f8,#2350fa,#2149f8,#1b39f2,#2046f7,#1f44f6,#1a35f1,#1933f0,#2046f7,#1d3ff4,#172de8,#1527df,#1b39f2,#1a36f1,#1426de,#1932f0,#214af8,#1f44f6,#1425dd,#1322d3,#1e41f5,#2046f7,#172ce7,#1323d7,#1a35f1,#1d3ff4,#1528e0,#121fcc,#1931ee,#1b38f2,#1425db,#111bbf,#1931ef,#1b39f2,#1220cd,#111abb,#1a34f1,#172ce7,#1320ce,#1322d4,#1933f0,#1830ee,#121fca,#1424d8,#1b39f2,#1424d8,#111abd,#1c3af3,#1f45f6,#1322d3,#1321cf,#1931ef,#162ae4,#1321d1,#1424da,#1b38f2,#1424da,#121ec7,#1424d8,#1b37f2,#1424d9,#111bbf,#1425dc,#1527e0,#121fca,#111bbd,#1426dd,#1528e0,#111bbd,#121ec7,#1529e1,#162ae4,#111bbd,#121cc3,#172ee9,#1528e1,#111bc0,#121fcb,#162be6,#1423d7,#121ec7,#1322d3,#1629e2,#121fca,#121cc2,#121fcb,#1527df,#1424da,#121cc2,#1320cd,#1424d8,#1323d6,#121cc1,#1629e2,#162be5,#121fcb,#111abb,#121dc6,#1426dd,#121dc6,#111abd,#1323d7,#1424d9,#111bc0,#121cc2,#1322d2,#1321d1,#121fca,#121ec7,#1424d9,#1321d0,#121fcb)"></i>
<i style="background:linear-gradient(90deg,#45a5fa,#3d94fa,#3b8efa,#347cfa,#3580fa,#3886fa,#4dbbf9,#51c5f8,#52c9f8,#52c8f8,#54cef7,#4dbaf9,#48adfa,#3785fa,#3f98fa,#49b0fa,#44a4fa,#3785fa,#2c68fa,#2c68fa,#337afa,#3a8cfa,#398afa,#275cfa,#2a62fa,#3988fa,#3681fa,#2f71fa,#2a63fa,#2657fa,#2d6afa,#234ffa,#224cf9,#2960fa,#2c69fa,#275afa,#1e41f5,#2350fa,#2453fa,#1e42f5,#1b39f2,#2452fa,#2453fa,#1e40f5,#1a36f1,#2047f7,#224df9,#1c3bf3,#172ce6,#1e40f5,#1f45f6,#1e40f5,#1528e1,#1a36f1,#1e41f5,#1b37f2,#182eeb,#1e42f5,#224df9,#1b38f2,#1424d9,#1c3cf3,#214bf8,#1933f0,#1322d3,#1931ef,#1e42f5,#1a35f1,#1323d5,#1931ee,#1d3ef4,#1424d9,#121ec9,#172ce6,#1931ef,#1320cd,#1321d1,#1931ee,#172ee9,#121cc3,#1528e1,#1c3bf3,#162be5,#1321d1,#1629e2,#1c3bf3,#1323d7,#111abc,#172de9,#1b39f2,#1423d8,#1423d8,#182feb,#1529e2,#1320cf,#1323d5,#172ce7,#1426de,#121cc0,#1424da,#182feb,#1424d9,#121dc4,#1424d9,#1426de,#1320ce,#111abc,#1321d0,#172ee9,#1322d3,#111bbe,#1423d7,#1527de,#111bbe,#111bbe,#1426dd,#162ae3,#121ec9,#121dc6,#1527df,#1423d8,#1321cf,#121fca,#1322d4,#1424d9,#121cc2,#121dc6,#1426de,#1425db,#121fcb,#121ec9,#1322d4,#1320cf,#121cc1,#1528e1,#162be5,#1323d6,#111bbf,#111bbe,#1321d0,#1320cd,#1119b8,#121dc4,#1323d6,#1321cf,#111aba,#121ec9,#121cc3,#121ec9,#121fc9,#121dc4,#121dc4,#111bbd)"></i>
<i style="background:linear-gradient(90deg,#50c2f8,#49b0fa,#46a8fa,#3e96fa,#3e94fa,#3a8bfa,#48adfa,#4ab1fa,#4ebcf9,#51c6f8,#58daf6,#55d3f7,#52caf8,#3b8dfa,#3784fa,#43a0fa,#48adfa,#4099fa,#2f71fa,#2c69fa,#3277fa,#3d91fa,#43a1fa,#2c68fa,#275afa,#357ffa,#3b8cfa,#347dfa,#2b66fa,#2658fa,#2e6dfa,#2555fa,#234ffa,#275cfa,#2d6bfa,#2c67fa,#1f45f6,#224df9,#2555fa,#2048f7,#1c3cf3,#2351fa,#2657fa,#2048f7,#1b38f2,#1e41f5,#2350fa,#2149f8,#172de9,#1b39f2,#2149f8,#224df9,#162ae4,#1830ed,#1f44f6,#1e41f5,#1931ee,#1c3af3,#234ffa,#1f43f6,#1425dd,#1a36f1,#224df9,#1c3af3,#1322d5,#1830ed,#1f44f6,#1b38f2,#1323d7,#1932f0,#1d3ff4,#1424d9,#121fcb,#182feb,#1931ef,#121fcb,#1323d6,#1a34f1,#172ce7,#121cc2,#162be6,#1d3df4,#1629e3,#1321d2,#172de8,#1c3bf3,#1322d4,#111bbf,#1830ee,#1b39f2,#1323d7,#1424da,#182fec,#1629e2,#1321d0,#1323d5,#172ce7,#1527e0,#121cc1,#1424d8,#182feb,#1526de,#121dc4,#1322d5,#1527df,#1322d3,#111abc,#121fcc,#182feb,#1424d8,#111abd,#1322d2,#1529e2,#121dc6,#111abc,#1423d7,#172ce7,#1321cf,#121dc3,#1424d9,#1424da,#1322d4,#121ec8,#1321d1,#1425dc,#121ec7,#121cc3,#1425db,#1527df,#1320ce,#121dc6,#1321d1,#1322d2,#121dc3,#1527df,#162ae4,#1424d8,#121cc0,#111abd,#1321cf,#1321d0,#1119b8,#121dc4,#1323d6,#1321d0,#111abb,#121fca,#121cc3,#121fca,#121fcc,#121dc5,#121dc4,#111bbf)"></i>
<i style="background:linear-gradient(90deg,#59dff5,#54d0f7,#56d4f6,#52c9f8,#4bb3fa,#4bb5fa,#47a9fa,#47abfa,#4bb3fa,#4fc1f9,#5de3f0,#58dcf6,#55d1f7,#45a6fa,#2e6dfa,#2f71fa,#44a3fa,#49aefa,#3c8ffa,#3784fa,#3a8cfa,#3f98fa,#4db9f9,#3277fa,#2555fa,#2f71fa,#3d93fa,#357efa,#2b64fa,#2a63fa,#2c67fa,#285efa,#2453fa,#2452fa,#2f70fa,#337afa,#2658fa,#224ef9,#2b66fa,#2658fa,#1c3cf3,#2149f8,#285dfa,#2555fa,#1d3ff4,#1933f0,#2657fa,#275bfa,#1933f0,#1b37f2,#2658fa,#2556fa,#1d3df4,#162ae4,#2453fa,#214bf8,#182feb,#182feb,#2658fa,#2048f7,#1423d7,#162ae4,#224cf9,#1c3cf3,#1322d4,#1931ee,#2047f7,#1a36f1,#1424da,#1a36f1,#1e41f5,#1424d8,#1323d6,#1c3af3,#1c3af3,#121ec8,#1424d9,#1d3ff4,#172de9,#1323d6,#172ee9,#1e40f5,#1a34f1,#1321d0,#1931ee,#1b39f2,#1424d9,#121ec7,#1c3cf3,#1b37f2,#1323d6,#1321d1,#1a35f1,#172de9,#1323d6,#1320ce,#162ae4,#1528e1,#121dc5,#1323d7,#1931ef,#1425db,#121cc3,#1320cf,#162ae4,#1528e0,#121cc2,#1320cd,#1830ed,#1424da,#1323d5,#1323d6,#182eea,#1323d5,#121cc2,#1220cc,#1426de,#1320cf,#121dc6,#121fca,#1424d8,#1322d5,#121cc2,#1322d3,#1323d6,#121ec6,#121cc3,#1425db,#1425db,#1320ce,#121ec7,#1322d3,#1320cf,#121cc1,#111bbd,#1322d4,#1424da,#121dc5,#121ec9,#1323d7,#121ec8,#111abb,#121fcb,#1423d7,#121ec9,#121ec9,#121fca,#1320ce,#121ec7,#121ec8,#1322d3,#121dc6,#121cc3)"></i>
<i style="background:linear-gradient(90deg,#61e6e9,#5ae1f5,#5de3f0,#5ae1f4,#55d3f7,#58dcf6,#53ccf7,#4ebdf9,#49affa,#4cb6fa,#58dcf6,#59dff5,#5de3f0,#51c7f8,#3278fa,#2c67fa,#3f97fa,#4cb6fa,#43a0fa,#3b8efa,#398afa,#3d92fa,#50c3f8,#3e94fa,#2759fa,#2c68fa,#3d92fa,#3a8bfa,#2d6afa,#2b64fa,#2c69fa,#2a63fa,#275bfa,#2350fa,#2d6bfa,#3989fa,#2b66fa,#224df9,#2a63fa,#295ffa,#1e42f5,#214af8,#275cfa,#285dfa,#2046f7,#1831ee,#2350fa,#2c68fa,#1d3df4,#1a34f1,#2454fa,#2961fa,#1f43f6,#1629e3,#2453fa,#2351fa,#1932f0,#182feb,#275cfa,#214bf8,#1424d8,#172de8,#2350fa,#1c3cf3,#1322d4,#1a36f1,#214af8,#1a35f1,#1425dc,#1c3bf3,#1e41f5,#1323d5,#1424da,#1d3ef4,#1c3af3,#121ec8,#1425dc,#1e41f5,#182eea,#1323d6,#182eea,#1e42f5,#1a36f1,#1321d0,#1830ed,#1c3bf3,#1527e0,#121dc6,#1b39f2,#1c3af3,#1425dc,#1320ce,#1932f0,#1931ee,#1425dc,#121fcb,#1528e0,#172de8,#121fcc,#1321d0,#172eea,#162ae4,#121fcb,#121ec7,#1528e1,#172de8,#121ec7,#121ec9,#182feb,#1528e1,#1424d9,#1321d1,#172de9,#1426de,#121dc6,#121ec7,#1426de,#1322d4,#121ec8,#121ec8,#1424d9,#1424d8,#121dc4,#1322d3,#1424d8,#121ec9,#121dc4,#1425dd,#1426de,#1321cf,#121ec9,#1323d5,#1321d0,#121cc2,#121cc1,#1323d7,#1425db,#121ec7,#1220cc,#1424d9,#121ec8,#111bbe,#1321d0,#1424d9,#121ec9,#1320cd,#1320ce,#1321cf,#121ec9,#1220cd,#1323d6,#121ec7,#121dc6)"></i>
<i style="background:linear-gradient(90deg,#5de3ef,#57d9f6,#58dbf6,#59dff5,#5ee4ee,#63e8e5,#56d5f6,#54cff7,#45a7fa,#45a5fa,#51c7f8,#53cdf7,#54cef7,#52caf8,#3c8ffa,#2a62fa,#3e95fa,#4cb6fa,#4ab1fa,#47abfa,#4099fa,#3d93fa,#47abfa,#409afa,#2c67fa,#2a63fa,#429dfa,#357efa,#2d6bfa,#2c67fa,#2d6afa,#2d6afa,#2d6cfa,#2048f7,#2c68fa,#3e96fa,#2b65fa,#224cf9,#2a62fa,#2b66fa,#2960fa,#2452fa,#2b66fa,#2961fa,#2047f7,#1a36f1,#234ffa,#2b66fa,#1d3ff4,#1528e0,#234ffa,#2b65fa,#1b39f2,#1c3af3,#234ffa,#2454fa,#1933f0,#172ce6,#275bfa,#2149f8,#1323d6,#1a36f1,#2453fa,#1a34f1,#1323d7,#1b37f2,#2149f8,#1931ef,#1529e2,#1f44f6,#2149f8,#1323d6,#1321d1,#1e41f5,#1d3ef4,#121fca,#1527df,#1e40f5,#1a35f1,#1322d3,#1527df,#1e40f5,#1a35f1,#1320ce,#162ae3,#1d3ef4,#1931ee,#121ec9,#172ce7,#1f45f6,#172ce7,#1220cd,#1425dc,#1830ed,#1425dc,#121ec7,#1425dc,#162be6,#1323d6,#121ec7,#1629e3,#1830ed,#1322d4,#111abc,#1322d5,#162be5,#1323d6,#1322d2,#1528e0,#1629e3,#1423d7,#121dc5,#162be6,#162be6,#121cc3,#121ec9,#162be5,#1528e0,#121ec9,#121fca,#1424d8,#121ec7,#121ec8,#1321d1,#172de8,#1321d0,#1119b8,#172de8,#172de8,#1323d5,#121ec8,#1527df,#1322d5,#121ec9,#1322d3,#1423d8,#1323d5,#1323d6,#1423d8,#1322d5,#111abc,#121cc3,#1425db,#1425dc,#1323d5,#1424d9,#1528e1,#1323d7,#1321d0,#1426de,#1426dd,#1320ce,#1321d0)"></i>
<i style="background:linear-gradient(90deg,#55d2f7,#52c8f8,#53cdf7,#55d3f7,#5be1f4,#66eae0,#5fe4ed,#61e6e9,#50c3f8,#4ab2fa,#50c2f8,#4ebef9,#52c9f8,#59ddf5,#4bb4fa,#2e6cfa,#3a8bfa,#49b0fa,#4db9f9,#4dbaf9,#43a1fa,#398afa,#45a6fa,#49aefa,#3177fa,#2a62fa,#3e95fa,#3785fa,#3072fa,#2d6bfa,#2d6bfa,#2e6efa,#3176fa,#214bf8,#2a62fa,#4099fa,#3072fa,#234ffa,#2960fa,#2d69fa,#2c68fa,#2556fa,#2b66fa,#2b65fa,#224cf9,#1b37f2,#224ef9,#2d6bfa,#1f43f6,#1529e2,#2351fa,#2c69fa,#1c3af3,#1c3cf3,#2554fa,#2555fa,#1932f0,#182fec,#2961fa,#2047f7,#1323d5,#1c3bf3,#2657fa,#1932f0,#1424d8,#1b39f2,#214bf8,#1933f0,#1629e2,#1f44f6,#224df9,#1424da,#1320ce,#1d3ff4,#1f44f6,#1321d2,#1424d8,#1d3df4,#1c3bf3,#1424d9,#1424d9,#1d3ef4,#1d3df4,#1322d3,#1424d8,#1c3cf3,#1c3cf3,#1321d0,#1424da,#1f43f6,#1a35f1,#1321d1,#1322d4,#182fec,#162be5,#121ec9,#1322d5,#172ce6,#1528e0,#121ec8,#1425db,#1931ef,#1425dd,#111abc,#1321d1,#172ce7,#1425db,#1322d3,#1527df,#162be6,#1424da,#121dc6,#172ce7,#172de8,#121dc5,#121fcc,#172de8,#1529e2,#121fcb,#1320ce,#1425db,#121ec8,#121fcb,#1323d6,#172eea,#1321d0,#111bbd,#1931ef,#172de9,#1323d6,#1321cf,#162ae3,#1323d5,#1220cc,#1424d9,#1425db,#1423d7,#1424d9,#1425dc,#1423d7,#111bbe,#121ec7,#1527df,#1527df,#1424d9,#1425dd,#162ae4,#1424da,#1322d4,#1528e0,#1527df,#1322d2,#1322d4)"></i>
<i style="background:linear-gradient(90deg,#50c2f8,#4ebcf9,#4cb7fa,#4fc1f9,#54cff7,#61e6e8,#55d3f7,#66eae0,#62e7e8,#4cb8fa,#4bb3fa,#51c5f8,#5de3ef,#60e5eb,#52caf8,#3177fa,#347dfa,#3f98fa,#4bb5fa,#51c5f8,#3f97fa,#3176fa,#419cfa,#4ebcf9,#409afa,#2e6ffa,#3b8ffa,#419bfa,#357ffa,#2d6cfa,#2c68fa,#3783fa,#3a8bfa,#234ffa,#285cfa,#419bfa,#3683fa,#2658fa,#2659fa,#2c68fa,#2c67fa,#2048f7,#2351fa,#2961fa,#214bf8,#1c3cf3,#224df9,#3988fa,#1f45f6,#162be6,#275afa,#2b64fa,#1c3cf3,#1c3cf3,#2454fa,#2350fa,#1c3bf3,#1c3af3,#2b66fa,#214af8,#1425dc,#1c3af3,#295ffa,#1c3af3,#121fcb,#1c3af3,#224df9,#1a36f1,#1527df,#1b37f2,#2759fa,#1b37f2,#1321d0,#1e40f5,#234ffa,#1830ed,#1424d9,#1b37f2,#1d3ef4,#162be5,#1322d4,#1a36f1,#1e40f5,#172de9,#1321cf,#1932ef,#2048f7,#1629e3,#1322d4,#1a36f1,#1e41f5,#1321d0,#1220cd,#1527df,#172eea,#1220cd,#1321d1,#1a36f1,#1830ed,#121ec7,#1322d5,#1b37f2,#1932f0,#121cc2,#121fcb,#162be6,#162ae3,#1323d6,#1526de,#1931ee,#1322d2,#121ec7,#1424da,#1425dc,#1220cc,#1323d6,#1931ef,#1527df,#1322d4,#1424d9,#1425db,#121fca,#121fcb,#1424da,#1629e3,#1321d2,#121ec7,#1931ef,#1830ed,#1527e0,#162ae4,#162be6,#1528e1,#1321d2,#1323d6,#1527df,#1425dd,#1423d7,#1423d7,#1527df,#1426dd,#121fcc,#172eea,#162be5,#1322d5,#1425dc,#162ae3,#1527e0,#1322d4,#1425dc,#1528e1,#1425dc,#1322d2)"></i>
<i style="background:linear-gradient(90deg,#4fbff9,#4dbaf9,#4bb3fa,#4cb8fa,#4dbbf9,#56d6f6,#4fbff9,#65e9e2,#6aedd9,#54cef7,#51c6f8,#51c6f8,#56d4f6,#5be2f4,#58daf6,#3d92fa,#3887fa,#3d92fa,#4bb5fa,#54cff7,#46a9fa,#3277fa,#3b8dfa,#4fbff9,#4bb4fa,#3278fa,#3989fa,#419bfa,#3887fa,#2f71fa,#2c69fa,#3784fa,#4099fa,#2556fa,#275afa,#4099fa,#3b8ffa,#295ffa,#275afa,#2d6bfa,#2e6dfa,#214bf8,#2453fa,#2b65fa,#224ef9,#1d3df4,#2350fa,#3c8ffa,#2046f7,#172de8,#295ffa,#2b66fa,#1d3df4,#1d3ff4,#2658fa,#2452fa,#1c3cf3,#1c3bf3,#2c68fa,#234ffa,#1527de,#1a36f1,#2960fa,#1e41f5,#1220cc,#1a35f1,#224ef9,#1d3ff4,#1527df,#172ee9,#285dfa,#1f45f6,#1320cf,#1932ef,#2452fa,#1d3ef4,#1424d8,#172de9,#1e40f5,#1a34f1,#1322d3,#182eea,#1e42f5,#1a36f1,#1320cd,#162ae4,#224cf9,#1932ef,#1321d1,#1831ee,#1f45f6,#1323d7,#121fcc,#1526de,#1830ee,#1321d1,#1321d1,#1b37f2,#1933f0,#121fca,#1423d7,#1b39f2,#1933f0,#121dc5,#1321d0,#172de8,#162ae4,#1425dc,#162be5,#1932f0,#1322d3,#1320cd,#1528e0,#1425dc,#1320cf,#1527df,#1a35f1,#1527e0,#1424da,#1528e0,#1426de,#1220cc,#1321d0,#1527df,#162be6,#1323d6,#121fcc,#1a35f1,#1a34f1,#162be5,#172de8,#172de9,#162be6,#1323d6,#1424d9,#1529e2,#1529e2,#1425db,#1424d8,#162ae3,#162ae3,#1320ce,#172ee9,#172eea,#1425db,#1426de,#162ae3,#162ae4,#1424d9,#1426dd,#1529e2,#1527e0,#1323d7)"></i>
<i style="background:linear-gradient(90deg,#57d9f6,#53cdf7,#53cdf7,#55d1f7,#4bb4fa,#49aefa,#43a0fa,#59def5,#60e6ea,#59ddf5,#5ae1f4,#56d4f6,#55d3f7,#59ddf5,#59dff5,#53cdf7,#3e94fa,#3c90fa,#4db9f9,#4fbff9,#4dbaf9,#3785fa,#3177fa,#4fc0f9,#58dcf6,#3d92fa,#347dfa,#45a6fa,#3d92fa,#3176fa,#2e6cfa,#3175fa,#3c8ffa,#2d6bfa,#2657fa,#3072fa,#3988fa,#285efa,#2453fa,#3073fa,#3277fa,#275bfa,#285efa,#285cfa,#224ef9,#1b37f2,#224df9,#3887fa,#275afa,#1932f0,#2350fa,#285efa,#1a35f1,#1b39f2,#2c69fa,#2960fa,#1e40f5,#182feb,#2454fa,#2657fa,#1321d2,#1529e1,#2351fa,#224df9,#1424d8,#1830ed,#2454fa,#224ef9,#172ce7,#172ce7,#2960fa,#224ef9,#1322d3,#1424d9,#214bf8,#1d3ff4,#121fcc,#1425db,#1e41f5,#1c3bf3,#1424d9,#1931ee,#1f43f6,#1933f0,#1220cd,#1425dc,#224cf9,#1a36f1,#1425dc,#182fec,#1c3cf3,#1426dd,#1322d3,#182feb,#1a35f1,#1426dd,#1424da,#1c3bf3,#1b37f2,#121cc3,#1322d3,#1d3ef4,#162ae4,#1321cf,#1831ee,#1b38f2,#1933f0,#1527df,#162be5,#172de9,#1425dc,#1322d5,#1a34f1,#172ce7,#1424d8,#162be6,#1b38f2,#1527df,#1322d5,#1629e2,#182eea,#1527df,#1321d0,#182feb,#1830ee,#1426de,#1425dc,#1933f0,#1b38f2,#1629e3,#172de9,#1a36f1,#172de8,#1423d7,#1426dd,#172de9,#182feb,#1a35f1,#162be6,#1a36f1,#1426de,#1425dc,#162be5,#1830ed,#1528e1,#1528e0,#172ce6,#172de9,#1526de,#1321cf,#1424d8,#1323d7,#1323d6)"></i>
<i style="background:linear-gradient(90deg,#69ecdb,#61e7e8,#5fe4ed,#5ee4ee,#52c8f8,#4bb5fa,#3b8efa,#50c4f8,#5ae0f5,#5ae1f4,#64e8e4,#5fe5eb,#56d6f6,#51c6f8,#56d4f6,#58dcf6,#48adfa,#3e96fa,#4cb6fa,#4fc1f9,#52c9f8,#3e95fa,#2f6ffa,#4cb6fa,#5ee4ee,#47aafa,#3580fa,#44a4fa,#3f98fa,#347efa,#2f6ffa,#3074fa,#3f97fa,#3277fa,#2658fa,#2f6ffa,#3c90fa,#2b66fa,#2555fa,#3175fa,#357efa,#2960fa,#295ffa,#295ffa,#2453fa,#1b39f2,#214bf8,#3a8cfa,#2a64fa,#1933f0,#224df9,#2a63fa,#1c3bf3,#1b37f2,#2b64fa,#2c69fa,#2047f7,#1629e3,#224cf9,#2c67fa,#162be5,#1322d4,#2047f7,#2658fa,#172de8,#162ae4,#214bf8,#2759fa,#1a36f1,#1426de,#2555fa,#275afa,#1528e1,#1321cf,#1f45f6,#1f45f6,#1322d4,#1423d7,#1e40f5,#1d3ff4,#1526de,#1831ee,#1f45f6,#1b37f2,#1321d0,#1527df,#224ef9,#1b37f2,#1528e0,#1a34f1,#1d3ef4,#1527df,#1425db,#1a34f1,#1a36f1,#1528e0,#162ae4,#1e40f5,#1b38f2,#121ec7,#1526de,#1e41f5,#162ae3,#1323d7,#1b37f2,#1c3af3,#1a36f1,#172ce7,#182eeb,#182fec,#1529e2,#1425db,#1b37f2,#1830ed,#1527df,#182eea,#1c3cf3,#172ce6,#1424da,#162be5,#1931ee,#162be5,#1322d5,#1830ed,#1a34f1,#162be5,#1426dd,#1932f0,#1d3df4,#182fec,#172de9,#1a36f1,#1931ee,#1425dc,#1527de,#172eea,#1932f0,#1b38f2,#162be5,#1a36f1,#162ae4,#1528e1,#1528e1,#1830ed,#172de8,#162ae4,#162be5,#172ee9,#1529e2,#1321d2,#1423d8,#1423d8,#1424da)"></i>
<i style="background:linear-gradient(90deg,#67ebde,#65eae1,#6ef0d2,#5ee4ef,#58dbf6,#53cdf7,#3f97fa,#46a8fa,#50c4f8,#60e5eb,#61e6e8,#65e9e3,#5ae1f5,#4ab1fa,#4ebdf9,#5fe5ec,#53cdf7,#46a7fa,#44a2fa,#55d3f7,#5de3f0,#4ebdf9,#3074fa,#47abfa,#59dff5,#53cbf7,#3e95fa,#419dfa,#3e94fa,#3886fa,#3175fa,#398afa,#43a2fa,#3a8cfa,#2658fa,#2d6afa,#3e95fa,#3176fa,#285cfa,#2e6dfa,#3785fa,#2a62fa,#2350fa,#2a63fa,#2b66fa,#2046f7,#2048f7,#3682fa,#3885fa,#1c3af3,#1f44f6,#2c69fa,#2047f7,#1b37f2,#2350fa,#285dfa,#1f45f6,#1425dc,#2048f7,#3174fa,#1f45f6,#1322d5,#1c3bf3,#224cf9,#2046f7,#162ae3,#1e42f5,#2d6cfa,#1d3ef4,#1423d7,#1e42f5,#285efa,#1527df,#121dc4,#1d3ff4,#214af8,#1424da,#172ce7,#224ef9,#1e40f5,#1426dd,#1a35f1,#2149f8,#1c3cf3,#1424d9,#1b37f2,#2454fa,#1932f0,#1424da,#1f44f6,#1f43f6,#182feb,#172de8,#1e42f5,#1d3df4,#1528e1,#182feb,#1f44f6,#1c3af3,#1321d2,#1831ee,#1f45f6,#162be5,#1528e1,#1e41f5,#1f44f6,#1931ef,#182fec,#1a34f1,#1931ee,#1527de,#1528e0,#1a36f1,#172de8,#1323d5,#1a35f1,#1a36f1,#1a35f1,#172de8,#162be6,#1830ed,#1c3bf3,#172ce7,#182eea,#1d3df4,#1830ee,#1527de,#182feb,#1c3af3,#182eea,#1527df,#162be6,#1a36f1,#162be6,#1529e2,#1a34f1,#172ce7,#1932f0,#172ce7,#1a35f1,#1933f0,#162ae4,#162ae4,#162be5,#182feb,#1931ef,#1424d9,#1830ed,#1528e1,#1424d9,#1527df,#1423d7,#172ce7)"></i>
<i style="background:linear-gradient(90deg,#69ecdb,#68ebdd,#78f0c6,#64e9e3,#63e8e6,#60e6ea,#4cb8fa,#49b0fa,#4cb6fa,#59def5,#61e6e9,#6ef0d1,#67ebde,#4ab3fa,#45a7fa,#5de3f0,#58dcf6,#4cb6fa,#44a3fa,#54cff7,#61e6e9,#55d2f7,#3278fa,#4099fa,#59dff5,#59ddf5,#43a1fa,#429dfa,#3f98fa,#3c8ffa,#337bfa,#3887fa,#45a5fa,#429ffa,#285ffa,#2b66fa,#409afa,#3783fa,#2960fa,#2e6dfa,#3a8cfa,#2d6bfa,#2350fa,#2961fa,#2f6ffa,#234ffa,#1e42f5,#3379fa,#43a2fa,#1e42f5,#1c3cf3,#2c67fa,#2554fa,#1c3bf3,#2046f7,#275cfa,#2453fa,#1629e2,#1c3bf3,#3072fa,#2659fa,#1426dd,#1932f0,#224cf9,#2351fa,#172de9,#1d3ff4,#2f6ffa,#1f45f6,#1425dc,#1e42f5,#2a63fa,#162be5,#121fca,#1f44f6,#224cf9,#1426de,#1a34f1,#2556fa,#1e42f5,#162be5,#1d3ef4,#224ef9,#1d3df4,#1529e2,#1e41f5,#275afa,#1a34f1,#162be5,#224df9,#2046f7,#1a34f1,#1a36f1,#2047f7,#1e40f5,#182eea,#1a36f1,#2149f8,#1d3ff4,#1424d9,#1a35f1,#2149f8,#1830ed,#172de8,#1f44f6,#2048f7,#1b38f2,#1933f0,#1a35f1,#1a35f1,#162be6,#1529e2,#1a36f1,#1933f0,#1526de,#1a34f1,#1a36f1,#1c3bf3,#1932ef,#172ce6,#1931ef,#1d3ef4,#1830ec,#172eea,#1d3df4,#1a36f1,#162ae3,#172ce7,#1c3af3,#1a35f1,#162ae3,#1629e3,#1b37f2,#182eea,#162ae4,#1933f0,#172de8,#1a35f1,#172de8,#1a34f1,#1a34f1,#172eea,#162be5,#1629e3,#1830ed,#1a34f1,#1424d9,#1830ed,#1629e2,#1424da,#1527df,#1423d7,#172de8)"></i>
<i style="background:linear-gradient(90deg,#59def5,#5ae0f5,#6cefd5,#75f0c9,#8af0af,#82f0b9,#61e6e9,#50c4f8,#54cef7,#59def5,#65e9e1,#84f0b7,#72f0cd,#4fc0f9,#4cb7fa,#58daf6,#5ae1f4,#56d6f6,#4ebef9,#51c6f8,#5ae1f5,#58dbf6,#337cfa,#3177fa,#58daf6,#5ee4ee,#50c4f8,#429efa,#44a4fa,#4ab2fa,#3885fa,#3379fa,#4bb5fa,#46a7fa,#2b66fa,#275cfa,#43a2fa,#3783fa,#2960fa,#2e6cfa,#3175fa,#3073fa,#214bf8,#2555fa,#347dfa,#2c68fa,#1e41f5,#337bfa,#46a9fa,#1f44f6,#1d3ef4,#285efa,#2d6afa,#224df9,#1e42f5,#275afa,#285dfa,#1b38f2,#1b37f2,#3278fa,#2d6bfa,#1830ec,#162ae3,#2555fa,#2350fa,#1b37f2,#1e40f5,#2c68fa,#224cf9,#1423d7,#2149f8,#2c68fa,#1b39f2,#1425dc,#224df9,#275bfa,#172de8,#1d3ff4,#285dfa,#234ffa,#1b38f2,#1e40f5,#224ef9,#1e40f5,#1b37f2,#224df9,#2453fa,#1830ed,#1425db,#224ef9,#2350fa,#1c3af3,#1e41f5,#224ef9,#214bf8,#1830ed,#1c3cf3,#1f45f6,#1c3af3,#1527df,#1d3df4,#214bf8,#1e40f5,#1931ef,#1c3cf3,#1f43f6,#1b37f2,#1830ed,#1d3ff4,#1e40f5,#1830ec,#172ce7,#1932ef,#1b38f2,#1831ee,#1528e1,#172ce7,#1c3bf3,#1a35f1,#182fec,#1830ed,#1b38f2,#1b38f2,#1a35f1,#1c3bf3,#1b38f2,#1a36f1,#162be5,#1b37f2,#1d3df4,#1426dd,#1426de,#1a35f1,#1933f0,#162be5,#1a34f1,#182feb,#1933f0,#1529e2,#1528e1,#1b37f2,#172ce7,#162ae4,#162ae3,#1a34f1,#172ce7,#162ae3,#1424da,#1425db,#1423d8,#1425db,#172ce7,#1830ed)"></i>
<i style="background:linear-gradient(90deg,#4ebdf9,#4fc1f9,#61e6e9,#69ecdb,#7ef0be,#87f0b3,#6defd4,#5ce3f1,#5ae0f5,#57d8f6,#5ee4ee,#81f0ba,#8af0af,#58daf6,#4bb5fa,#53ccf7,#5be2f3,#5be2f3,#51c6f8,#4fc1f9,#5ae0f5,#60e6ea,#3c90fa,#2f71fa,#55d2f7,#63e8e6,#55d1f7,#44a3fa,#45a7fa,#4dbaf9,#3c91fa,#3279fa,#4bb3fa,#4cb8fa,#3073fa,#2659fa,#43a1fa,#3d92fa,#2c68fa,#2e6dfa,#3279fa,#3580fa,#2350fa,#2350fa,#3783fa,#3784fa,#1f44f6,#2e6cfa,#4bb4fa,#2453fa,#1d3ff4,#2658fa,#3072fa,#285cfa,#1f43f6,#2658fa,#2c67fa,#1e42f5,#1b38f2,#337bfa,#3176fa,#1b37f2,#182eeb,#275cfa,#2556fa,#1d3ef4,#214af8,#2f70fa,#234ffa,#162ae4,#2556fa,#2f6ffa,#1c3bf3,#1931ef,#275cfa,#295ffa,#1a34f1,#224cf9,#2c68fa,#2658fa,#1e42f5,#2149f8,#2657fa,#2047f7,#1e40f5,#2555fa,#285dfa,#1b38f2,#162ae4,#2452fa,#2659fa,#1f43f6,#2047f7,#2452fa,#2453fa,#1b38f2,#1d3ef4,#2047f7,#1e42f5,#172ce7,#1c3bf3,#224cf9,#2149f8,#1b37f2,#1c3bf3,#1f44f6,#1d3df4,#1a34f1,#1d3ff4,#1e42f5,#1a36f1,#182fec,#182eeb,#1b39f2,#1b39f2,#162be4,#1629e2,#1c3cf3,#1c3af3,#1931ee,#1830ed,#1b39f2,#1c3af3,#1a35f1,#1c3af3,#1c3af3,#1c3af3,#162be5,#1a35f1,#1d3ff4,#1529e1,#1426de,#1a35f1,#1a34f1,#172ce6,#1a34f1,#182fec,#1a34f1,#1629e3,#1529e2,#1b38f2,#172de8,#162ae4,#162be5,#1a34f1,#172ce7,#162ae4,#1425db,#1425db,#1423d8,#1425dc,#172de8,#1830ec)"></i>
<i style="background:linear-gradient(90deg,#4dbaf9,#50c4f8,#56d5f6,#64e9e3,#6aedd8,#88f0b1,#96f0a0,#89f0b0,#6cefd5,#5ee4ee,#5ee4ee,#81f0ba,#94f0a3,#6ef0d2,#59dff5,#56d6f6,#55d2f7,#57d9f6,#55d1f7,#55d3f7,#5ee4ed,#63e8e5,#4bb5fa,#2d6bfa,#53cdf7,#61e6e9,#50c4f8,#4bb4fa,#4ebdf9,#51c5f8,#43a1fa,#2f6ffa,#48acfa,#53cbf7,#337bfa,#2659fa,#347efa,#3e94fa,#2a64fa,#2e6efa,#44a3fa,#4bb3fa,#2c67fa,#2453fa,#3e96fa,#429dfa,#214bf8,#275afa,#3f97fa,#2d6afa,#1d3df4,#275afa,#3682fa,#2c67fa,#224df9,#2d69fa,#3a8afa,#2149f8,#1b39f2,#398afa,#347dfa,#1a35f1,#1c3bf3,#2a64fa,#2452fa,#2046f7,#275afa,#337afa,#2554fa,#1a35f1,#2555fa,#2e6ffa,#1c3bf3,#1d3ef4,#3279fa,#2d6afa,#1c3bf3,#2048f7,#2b64fa,#285dfa,#1f45f6,#2452fa,#2a62fa,#234ffa,#1e41f5,#224df9,#2659fa,#1d3ff4,#1830ec,#224df9,#285efa,#214bf8,#224cf9,#234ffa,#2658fa,#1e42f5,#1c3cf3,#2046f7,#224df9,#1a34f1,#1831ee,#1f45f6,#224cf9,#1d3df4,#182fec,#1c3bf3,#1c3bf3,#1c3cf3,#1d3df4,#1d3ff4,#1d3ef4,#1a34f1,#1932f0,#1f45f6,#1e42f5,#172de9,#1b39f2,#1e41f5,#1d3ef4,#182feb,#172de9,#1a36f1,#1c3cf3,#1b37f2,#1c3bf3,#1d3ef4,#1a36f1,#1933f0,#1c3bf3,#1c3cf3,#172ce7,#172de8,#1931ef,#1932f0,#172eea,#172de8,#1b37f2,#1a34f1,#1426de,#1527df,#1a34f1,#172de8,#1528e1,#182eeb,#1b39f2,#1528e1,#1528e0,#1527df,#1426dd,#1425db,#1830ed,#172de8,#1424d9)"></i>
<i style="background:linear-gradient(90deg,#52caf8,#54d0f7,#57d8f6,#61e6e8,#61e6e8,#6ceed6,#83f0b7,#94f0a2,#86f0b4,#66eae0,#5be2f3,#6ef0d2,#94f0a3,#8af0af,#63e8e5,#55d1f7,#53cdf7,#5ae1f5,#59dff5,#55d3f7,#5ae1f4,#67ebde,#53ccf7,#2f70fa,#51c5f8,#62e7e7,#54d0f7,#4dbaf9,#4fc0f9,#53cdf7,#49b0fa,#3072fa,#45a7fa,#56d5f6,#3d91fa,#285dfa,#347cfa,#429ffa,#2f6ffa,#3074fa,#47a9fa,#4fc1f9,#3073fa,#2555fa,#409afa,#4bb5fa,#2658fa,#285dfa,#43a0fa,#3277fa,#2047f7,#2a64fa,#3b8efa,#3072fa,#275afa,#3278fa,#3f97fa,#234ffa,#2046f7,#45a7fa,#3784fa,#1c3bf3,#2149f8,#2f6ffa,#2658fa,#2554fa,#2e6dfa,#3988fa,#2960fa,#1e40f5,#2961fa,#347cfa,#2046f7,#2046f7,#3887fa,#3279fa,#2046f7,#234ffa,#2d6cfa,#2d6afa,#224ef9,#2657fa,#2c69fa,#285ffa,#214af8,#224cf9,#2960fa,#214bf8,#1a35f1,#214bf8,#2a64fa,#2657fa,#2452fa,#2350fa,#285dfa,#214af8,#1d3ff4,#1f43f6,#2452fa,#1d3ef4,#1932ef,#1e41f5,#2350fa,#1f44f6,#1830ee,#1c3af3,#1d3df4,#1d3ff4,#1d3ff4,#1d3ff4,#1e41f5,#1b38f2,#1931ef,#1f43f6,#1f45f6,#1830ed,#1b38f2,#1e41f5,#1e40f5,#1830ed,#172ee9,#1b37f2,#1d3df4,#1b37f2,#1c3bf3,#1d3ff4,#1a36f1,#1a34f1,#1c3cf3,#1c3cf3,#172ce6,#172de9,#1932f0,#1932f0,#172eea,#172ee9,#1b37f2,#1a34f1,#1426dd,#1629e2,#1a35f1,#162be5,#1529e1,#1931ef,#1b37f2,#1526de,#1529e2,#1527e0,#1425dc,#1425db,#1831ee,#172de8,#1423d7)"></i>
<i style="background:linear-gradient(90deg,#6beed7,#64e9e3,#7df0bf,#72f0cd,#5ee4ed,#5be2f3,#65e9e2,#8af0af,#8bf0ae,#75f0ca,#60e5eb,#60e6ea,#a5f091,#bff077,#79f0c4,#59dff5,#59def5,#5fe5ec,#66eae0,#57d8f6,#4dbaf9,#63e8e5,#5de3ef,#398afa,#52c9f8,#5be2f3,#50c4f8,#4ab2fa,#4fc1f9,#55d2f7,#50c2f8,#3175fa,#3e95fa,#53cdf7,#429ffa,#285efa,#3a8afa,#49b0fa,#3682fa,#3278fa,#4dbaf9,#4fbff9,#2f71fa,#285efa,#419dfa,#4ebcf9,#2b65fa,#2d6bfa,#4cb8fa,#3886fa,#285dfa,#347dfa,#429ffa,#2f71fa,#275bfa,#4099fa,#4bb3fa,#2556fa,#2351fa,#409afa,#3277fa,#1f45f6,#2d6afa,#3b8dfa,#2b64fa,#275afa,#2f71fa,#3e94fa,#3277fa,#2658fa,#3072fa,#3783fa,#285cfa,#224cf9,#3d93fa,#3a8bfa,#295ffa,#2350fa,#2f6ffa,#2e6efa,#2350fa,#275afa,#2d6afa,#2c67fa,#2658fa,#224ef9,#285efa,#2960fa,#1f43f6,#2350fa,#2d6bfa,#2659fa,#224ef9,#2555fa,#2b66fa,#2350fa,#1e42f5,#1d3df4,#2555fa,#2451fa,#1b39f2,#1c3af3,#214bf8,#214af8,#1932f0,#1b38f2,#1f43f6,#1e42f5,#1d3ef4,#214bf8,#2556fa,#1b37f2,#1b39f2,#1d3ef4,#214af8,#1c3bf3,#1932f0,#1c3bf3,#1e41f5,#1933f0,#182feb,#1a36f1,#1d3ef4,#1a35f1,#1b37f2,#1e42f5,#1b38f2,#1931ee,#1b37f2,#1d3ef4,#172de8,#162be6,#1b37f2,#182feb,#172ee9,#172eea,#1a36f1,#182feb,#1528e1,#172de9,#1c3af3,#1629e3,#1425db,#172de9,#182fec,#1323d7,#1425dc,#1830ec,#1b37f2,#1629e3,#162ae4,#1528e1,#1424da)"></i>
<i style="background:linear-gradient(90deg,#8ff0a9,#84f0b7,#abf08b,#92f0a5,#68ebdd,#5ae0f5,#59def5,#75f0ca,#8ff0a9,#8bf0ae,#68ebdd,#5be2f3,#8ff0a9,#c8f06e,#94f0a2,#5de4ef,#58dbf6,#61e6e9,#6df0d3,#5ae1f4,#4ab1fa,#63e8e5,#66eae0,#419cfa,#52c8f8,#5ce2f2,#53cdf7,#4dbaf9,#51c5f8,#57d8f6,#54cff7,#3580fa,#3e95fa,#55d1f7,#4ab1fa,#2c69fa,#3c90fa,#4db9f9,#3c91fa,#3886fa,#51c6f8,#54cef7,#347efa,#2c68fa,#48aefa,#52c9f8,#2f70fa,#357efa,#52c9f8,#3d93fa,#2f6ffa,#409afa,#49b0fa,#357ffa,#2e6efa,#4bb4fa,#4fc0f9,#2a63fa,#2a63fa,#48aefa,#3988fa,#2350fa,#3278fa,#419bfa,#3174fa,#2d6afa,#337bfa,#45a5fa,#3d93fa,#2b64fa,#3073fa,#3f96fa,#3277fa,#2452fa,#3b8dfa,#419dfa,#3073fa,#2557fa,#2f71fa,#3176fa,#275cfa,#285ffa,#2c69fa,#3072fa,#2d6bfa,#224df9,#2556fa,#2d6cfa,#224df9,#2350fa,#2c69fa,#295ffa,#2555fa,#2658fa,#2c67fa,#2555fa,#2046f7,#1c3cf3,#2554fa,#2659fa,#1d3df4,#1b39f2,#214bf8,#224df9,#1a34f1,#1b38f2,#1f44f6,#1f43f6,#1d3ff4,#214bf8,#2658fa,#1b37f2,#1b39f2,#1d3ff4,#214af8,#1c3bf3,#1a34f1,#1c3cf3,#1e41f5,#1933f0,#1830ed,#1b37f2,#1d3df4,#1a35f1,#1c3af3,#1e41f5,#1a35f1,#1933f0,#1c3af3,#1c3bf3,#162be5,#172de8,#1b38f2,#172de9,#172de9,#182feb,#1a36f1,#172de9,#1528e1,#182eea,#1b39f2,#1528e1,#1425dc,#172ee9,#182eea,#1323d6,#1425dc,#182fec,#1b37f2,#1529e2,#162ae3,#1528e0,#1424da)"></i>
<i style="background:linear-gradient(90deg,#9ef098,#aef088,#cef169,#9bf09b,#72f0cd,#63e8e5,#55d2f7,#58dcf6,#73f0cb,#92f0a5,#72f0cd,#5ae0f5,#68ebdd,#b8f07e,#89f0b0,#5fe5ec,#5ae0f5,#63e8e5,#74f0ca,#5be2f4,#49affa,#62e7e6,#82f0b9,#52c8f8,#4dbbf9,#52c9f8,#58dcf6,#49b0fa,#4cb7fa,#56d5f6,#55d3f7,#3d93fa,#3e95fa,#5be2f4,#55d1f7,#3a8bfa,#43a0fa,#4db9f9,#49affa,#48adfa,#4ebdf9,#4ebdf9,#3681fa,#337bfa,#4fbff9,#56d4f6,#3072fa,#3c91fa,#5ce2f2,#49b0fa,#3a8cfa,#46a8fa,#4bb5fa,#3a8cfa,#347cfa,#46a8fa,#4ebdf9,#2f70fa,#2e6cfa,#4db9f9,#4ab2fa,#2d6afa,#3a8afa,#49aefa,#45a5fa,#2e6dfa,#3989fa,#429ffa,#3a8cfa,#2f6ffa,#3277fa,#4cb6fa,#48acfa,#2b66fa,#337bfa,#47abfa,#3d92fa,#2b66fa,#2d6cfa,#3071fa,#337bfa,#2e6cfa,#2961fa,#3a8cfa,#2d6afa,#224cf9,#2657fa,#3d92fa,#2a61fa,#2453fa,#2b65fa,#2e6dfa,#275bfa,#285efa,#295ffa,#2c67fa,#1e42f5,#1d3ff4,#2657fa,#2a61fa,#1e41f5,#1d3ff4,#2046f7,#1f43f6,#1b38f2,#1d3ef4,#1e42f5,#214af8,#214af8,#2046f7,#2555fa,#1e40f5,#172de8,#2046f7,#2046f7,#1d3ef4,#1c3bf3,#1d3ff4,#1d3df4,#1a34f1,#1a34f1,#1c3af3,#1a34f1,#1932f0,#1c3cf3,#1e40f5,#1a34f1,#1830ec,#1d3ff4,#1d3df4,#162ae4,#182fec,#1a35f1,#172de8,#1629e3,#1831ee,#1830ee,#1629e2,#182feb,#1932f0,#1a36f1,#1527e0,#1423d7,#172eea,#182fec,#1323d6,#1426dd,#1c3af3,#172de8,#1424da,#1527df,#1527df,#1322d5)"></i>
<i style="background:linear-gradient(90deg,#8ef0aa,#9df099,#ccf16a,#a9f08d,#8df0ab,#7cf0c1,#5be2f3,#56d4f6,#6beed7,#97f09f,#8cf0ac,#62e7e8,#63e8e5,#a9f08d,#94f0a2,#68ebdd,#5de3f0,#63e8e6,#7ff0bd,#64e8e4,#4bb4fa,#5fe5ec,#8af0af,#59ddf5,#51c7f8,#53cbf7,#5ae0f5,#4dbbf9,#4fbff9,#58daf6,#59def5,#45a5fa,#419bfa,#5ee4ef,#5ae0f5,#419cfa,#48adfa,#50c2f8,#4ebdf9,#4ebcf9,#53cbf7,#53cbf7,#3c91fa,#3a8cfa,#54cff7,#5be2f3,#3784fa,#45a7fa,#63e8e6,#51c5f8,#46a8fa,#4dbaf9,#50c4f8,#44a4fa,#3c8ffa,#4bb5fa,#54d0f7,#3a8afa,#2f71fa,#4ebcf9,#53cbf7,#3785fa,#3c90fa,#4ab3fa,#4cb8fa,#347cfa,#3d92fa,#44a4fa,#44a3fa,#3784fa,#3073fa,#49b0fa,#51c7f8,#347cfa,#3175fa,#45a7fa,#44a4fa,#2f71fa,#2e6efa,#3074fa,#3887fa,#3074fa,#2960fa,#3b8dfa,#3176fa,#2351fa,#2453fa,#3e94fa,#2d69fa,#2657fa,#2b66fa,#2f6ffa,#285efa,#2961fa,#2a62fa,#2d69fa,#1f43f6,#1e40f5,#275afa,#2a62fa,#1e41f5,#1e41f5,#2047f7,#1e42f5,#1b39f2,#1d3ff4,#1f43f6,#2149f8,#214af8,#2149f8,#2453fa,#1d3df4,#1830ec,#2149f8,#1e42f5,#1c3cf3,#1d3ef4,#1d3ff4,#1c3af3,#1a34f1,#1a34f1,#1b39f2,#1932f0,#1932f0,#1c3cf3,#1d3ff4,#1933f0,#1830ed,#1d3ef4,#1c3cf3,#1629e3,#182feb,#1a34f1,#172ce7,#1529e2,#1830ec,#1830ed,#1529e2,#172de9,#1830ed,#1a36f1,#1528e0,#1322d4,#172ce7,#1830ec,#1323d5,#1424da,#1b38f2,#172de8,#1424d9,#1425dc,#1426de,#1323d5)"></i>
<i style="background:linear-gradient(90deg,#6aedd8,#6beed7,#6ceed6,#6ef0d2,#94f0a3,#81f0bb,#66eae1,#5ee4ef,#68ebdd,#86f0b4,#90f0a7,#84f0b6,#63e8e5,#8ff0a9,#9bf09b,#6cefd5,#65eae1,#6aedd9,#82f0b9,#5fe4ed,#51c5f8,#5ce3f1,#66eae1,#54d0f7,#48acfa,#52c9f8,#56d4f6,#59def5,#54cef7,#52c9f8,#5ce2f2,#4bb4fa,#3e94fa,#62e7e7,#6cefd5,#48aefa,#4ab3fa,#56d5f6,#5ae0f5,#51c7f8,#57d9f6,#54cef7,#4fbff9,#419cfa,#5ee4ef,#67eadf,#4ab3fa,#4ab3fa,#5fe5ed,#55d3f7,#4ebef9,#51c7f8,#50c2f8,#49affa,#4dbaf9,#56d4f6,#5be2f3,#46a8fa,#3989fa,#51c7f8,#65e9e2,#4ebcf9,#3f97fa,#52c9f8,#56d6f6,#4cb6fa,#47abfa,#48acfa,#50c2f8,#48aefa,#3783fa,#47a9fa,#4ebef9,#3886fa,#2d6afa,#43a0fa,#48adfa,#2e6efa,#2b66fa,#347cfa,#3e94fa,#3681fa,#2960fa,#3580fa,#3074fa,#224ef9,#295ffa,#3b8dfa,#3277fa,#2657fa,#2d6bfa,#3277fa,#2b64fa,#285cfa,#2960fa,#285dfa,#1f45f6,#1f43f6,#2e6efa,#2a62fa,#2048f7,#2555fa,#2658fa,#1f44f6,#1a35f1,#1e42f5,#1d3df4,#1c3bf3,#214af8,#234ffa,#2351fa,#1d3df4,#1d3df4,#2556fa,#1e42f5,#1d3ef4,#1e42f5,#2046f7,#1c3cf3,#1c3af3,#1932f0,#1b38f2,#1931ee,#1931ee,#1b37f2,#182fec,#182eea,#1830ed,#1c3cf3,#1b38f2,#1323d5,#1629e3,#1b37f2,#1b38f2,#162ae3,#1931ef,#1a35f1,#1527df,#1424d8,#172ce7,#172ce6,#162ae4,#1321d0,#1629e3,#162ae4,#1423d7,#1320cf,#1425dc,#1528e1,#1424da,#1425db,#1526de,#1424da)"></i>
<i style="background:linear-gradient(90deg,#66eae0,#62e7e6,#63e8e6,#69edda,#90f0a8,#91f0a7,#78f0c6,#66eae0,#69ecdb,#82f0b9,#9ef098,#a3f093,#69ecda,#8bf0ad,#9df099,#78f0c6,#6ceed6,#6cefd5,#8af0af,#67ebde,#55d3f7,#5ce2f2,#67eadf,#59def5,#4ebdf9,#55d1f7,#57d8f6,#5de3f0,#57d8f6,#54d0f7,#62e7e6,#50c2f8,#419cfa,#65e9e2,#79f0c4,#4fc0f9,#4fbff9,#5ae0f5,#60e6ea,#57d7f6,#5ce3f1,#59ddf5,#55d3f7,#47a9fa,#61e6e9,#72f0cc,#53cbf7,#4dbbf9,#62e7e7,#5de3f0,#55d2f7,#55d3f7,#53cdf7,#50c2f8,#52c8f8,#55d3f7,#5fe5eb,#52c9f8,#409afa,#4cb7fa,#68ebdd,#57d9f6,#46a7fa,#52c8f8,#58dcf6,#50c2f8,#4cb6fa,#48acfa,#52c8f8,#50c2f8,#3a8bfa,#429ffa,#50c3f8,#3f97fa,#2e6efa,#429ffa,#4ab2fa,#3073fa,#2c69fa,#3580fa,#4099fa,#3784fa,#2a62fa,#3785fa,#3175fa,#224ef9,#2a64fa,#3d91fa,#3176fa,#2658fa,#2e6ffa,#3278fa,#2a63fa,#285dfa,#2a63fa,#285cfa,#1e42f5,#2046f7,#3073fa,#275afa,#2046f7,#285cfa,#2658fa,#1e41f5,#1a35f1,#1f43f6,#1c3cf3,#1c3af3,#214af8,#234ffa,#234ffa,#1c3cf3,#1d3ef4,#2554fa,#1e40f5,#1d3df4,#1e41f5,#1f45f6,#1c3cf3,#1b39f2,#1831ee,#1b37f2,#1830ed,#182feb,#1a35f1,#182fec,#182eea,#172de8,#1c3af3,#1b39f2,#1322d4,#1527df,#1a36f1,#1b37f2,#1528e1,#182feb,#1a34f1,#1527df,#1323d5,#1629e3,#162be5,#162ae4,#1220cd,#1527de,#162ae3,#1323d6,#121fcb,#1424d9,#1527e0,#1423d7,#1424d8,#1425dc,#1424d8)"></i>
<i style="background:linear-gradient(90deg,#6beed7,#63e7e6,#67ebde,#6df0d3,#9cf09a,#b8f07e,#97f09f,#75f0ca,#91f0a7,#7af0c3,#98f09e,#b5f081,#7bf0c2,#6ceed6,#81f0ba,#84f0b6,#71f0ce,#7ef0be,#7df0bf,#65e9e1,#5de3ef,#67ebde,#68ecdc,#5de3f0,#55d3f7,#5de4ef,#59dff5,#66eae0,#5de3f0,#57d9f6,#6beed8,#59def5,#4099fa,#5be2f4,#67ebde,#54d0f7,#56d4f6,#5ee4ee,#65e9e2,#5ee4ee,#5ce2f2,#5fe5ec,#5de3f0,#4cb8fa,#62e7e7,#9ff097,#5de4ef,#46a8fa,#59dff5,#5de3f0,#62e7e8,#61e6e9,#58daf6,#61e6e8,#5ce3f1,#55d1f7,#5de3f0,#68ebdd,#4cb6fa,#43a0fa,#60e5eb,#60e6ea,#48aefa,#51c6f8,#53cdf7,#56d4f6,#4fc0f9,#46a8fa,#54d0f7,#52caf8,#3174fa,#3c8ffa,#55d2f7,#429ffa,#2c67fa,#3a8afa,#429efa,#3886fa,#3175fa,#3a8bfa,#419cfa,#3277fa,#285ffa,#3278fa,#357ffa,#2452fa,#2f70fa,#3f98fa,#2b64fa,#2554fa,#3072fa,#2e6dfa,#2960fa,#2d6bfa,#285dfa,#2960fa,#2350fa,#275afa,#2c68fa,#2657fa,#2046f7,#234ffa,#2557fa,#1d3ff4,#1b37f2,#1d3ff4,#1c3bf3,#1c3bf3,#1e40f5,#2048f7,#2149f8,#1a36f1,#1d3ef4,#224cf9,#1f43f6,#1a36f1,#1f43f6,#1f45f6,#1b39f2,#1a36f1,#1b38f2,#1a35f1,#1931ef,#1424d8,#172de8,#1932f0,#172ce7,#1528e1,#1a35f1,#1a36f1,#1527df,#1424d9,#162ae4,#1830ec,#172ce7,#1528e1,#172eea,#1426de,#1322d2,#1424da,#172ce6,#1425dc,#121cc3,#1323d6,#1527df,#1423d7,#1323d5,#1322d4,#121ec9,#1320ce,#1321d1,#1425db,#1528e1)"></i>
<i style="background:linear-gradient(90deg,#80f0bb,#73f0cc,#74f0cb,#78f0c6,#96f0a0,#b0f086,#a1f095,#86f0b4,#a2f094,#7cf0c0,#9bf09b,#cbf06c,#94f0a3,#75f0c9,#86f0b4,#8ef0aa,#7ff0bd,#88f0b2,#85f0b5,#6ceed6,#66eadf,#6beed6,#69ecdb,#61e6e9,#5be1f4,#62e7e6,#5ee4ee,#6beed7,#60e6ea,#5ae0f5,#75f0ca,#60e6ea,#45a5fa,#5de3ef,#6defd4,#5ae1f5,#5ae0f5,#62e7e7,#6beed8,#64e9e3,#60e5eb,#64e9e3,#67ebde,#51c5f8,#60e5eb,#adf089,#6beed7,#4bb5fa,#59def5,#61e6e9,#68ecdc,#66eae0,#5ae1f5,#66eae0,#64e8e4,#55d3f7,#59dff5,#6ff0d1,#54cef7,#43a0fa,#5de3f0,#65e9e3,#4dbaf9,#52caf8,#54d0f7,#57d9f6,#51c5f8,#47aafa,#56d5f6,#54cff7,#3176fa,#3e95fa,#56d6f6,#419dfa,#2c69fa,#3c91fa,#429efa,#3784fa,#3277fa,#3c8ffa,#409afa,#3074fa,#2b64fa,#347efa,#3073fa,#2350fa,#347dfa,#3e95fa,#275cfa,#2556fa,#3174fa,#2d69fa,#285efa,#2d6bfa,#285cfa,#275cfa,#224ef9,#275bfa,#2b66fa,#2453fa,#1f45f6,#224df9,#2454fa,#1d3ef4,#1a35f1,#1d3df4,#1c3af3,#1c3af3,#1d3ef4,#2046f7,#2048f7,#1a35f1,#1c3af3,#2149f8,#1f44f6,#1a35f1,#1d3ef4,#1f43f6,#1b38f2,#1a34f1,#1a35f1,#1933f0,#1831ee,#1322d5,#1629e3,#1931ee,#172ce7,#1425dd,#1931ee,#1a34f1,#1426dd,#1323d5,#1528e1,#182eea,#162ae4,#1426de,#172ce7,#1425db,#1320cf,#1423d7,#162ae4,#1423d8,#111bbf,#1323d5,#1425dc,#1322d3,#1322d2,#1322d3,#121dc6,#121fca,#1321cf,#1424da,#1425dc)"></i>
<i style="background:linear-gradient(90deg,#90f0a7,#acf08a,#9ff097,#a2f094,#aff087,#b5f081,#9cf09a,#7ff0bd,#bdf079,#a6f090,#d9f260,#c6f070,#adf089,#89f0b0,#73f0cb,#a0f096,#9af09c,#92f0a5,#7df0c0,#6beed7,#6ff0d1,#81f0bb,#8df0ac,#6beed7,#63e8e5,#6defd4,#62e7e7,#63e8e5,#5fe5ec,#63e8e5,#7ef0be,#6aedd9,#4cb6fa,#57d8f6,#62e7e7,#65e9e2,#60e6ea,#68ebdd,#6aedd9,#61e6e8,#5be1f4,#6aedda,#7ff0bd,#55d3f7,#61e6e9,#a8f08e,#79f0c4,#4bb5fa,#5ee4ef,#63e7e6,#5fe5ec,#6aedd9,#68ebdd,#67ebdd,#68ebdd,#5fe5eb,#5be2f3,#8ff0a8,#5be2f3,#429efa,#5ce3f1,#6aedd9,#4cb8fa,#48acfa,#54cef7,#5ae1f4,#51c7f8,#47aafa,#54d0f7,#51c5f8,#3279fa,#44a3fa,#53cbf7,#3e96fa,#3071fa,#337cfa,#409afa,#3886fa,#3988fa,#4ab1fa,#45a5fa,#2f71fa,#3072fa,#3b8dfa,#2d6bfa,#2351fa,#3b8dfa,#46a8fa,#2e6dfa,#2961fa,#2c69fa,#2e6efa,#275cfa,#2350fa,#285dfa,#2a63fa,#234ffa,#2452fa,#2960fa,#224cf9,#1c3cf3,#234ffa,#2454fa,#1b38f2,#1932f0,#1c3cf3,#1d3ff4,#1c3cf3,#1831ee,#1b39f2,#1d3df4,#172ee9,#1b38f2,#1f45f6,#1d3df4,#182feb,#1a35f1,#1b39f2,#1c3bf3,#1830ed,#1b37f2,#182fec,#1426dd,#1320cf,#1425db,#1830ed,#162be5,#1320ce,#1527df,#1830ed,#1426dd,#1323d7,#1528e0,#1528e0,#1527e0,#1323d6,#1426dd,#121fcb,#121dc4,#1323d5,#1424da,#1320cf,#121dc5,#1323d7,#1323d6,#121cc3,#1322d4,#1323d6,#1323d6,#121ec8,#1321d0,#1528e0,#121dc6)"></i>
<i style="background:linear-gradient(90deg,#a0f096,#abf08b,#caf06d,#c8f06e,#baf07c,#adf089,#baf07c,#c9f06d,#c5f071,#b8f07e,#c1f075,#c4f072,#a8f08e,#83f0b8,#8ff0a9,#bff077,#d0f167,#c0f076,#b3f083,#caf06c,#e0f35a,#e0f35a,#d3f265,#cef169,#c4f072,#aef088,#9af09c,#90f0a8,#81f0bb,#90f0a7,#b5f081,#bbf07b,#abf08b,#9ef098,#9bf09b,#93f0a3,#86f0b4,#75f0c9,#75f0c9,#7ff0bd,#80f0bb,#81f0bb,#8ff0a9,#96f0a1,#95f0a2,#8bf0ae,#70f0d0,#67ebde,#68ecdc,#6ef0d2,#76f0c8,#6cefd5,#67ebde,#69ecdb,#69ecdb,#68ebdd,#63e8e6,#60e6ea,#66eae0,#72f0cd,#8af0af,#90f0a7,#76f0c9,#5ce3f1,#4fc1f9,#52caf8,#58dcf6,#61e7e8,#66eae0,#67eadf,#6ceed6,#6bedd8,#66eae0,#64e9e3,#6cefd5,#75f0c9,#71f0ce,#6aedd9,#67eadf,#61e7e8,#5de3ef,#60e5eb,#6ceed6,#87f0b3,#91f0a7,#71f0ce,#5ce2f2,#56d4f6,#60e5eb,#7cf0c1,#a6f090,#b2f084,#89f0b1,#5be2f3,#50c2f8,#55d1f7,#5fe5ec,#66eae0,#64e8e4,#60e6ea,#62e7e8,#67ebde,#6defd3,#6cefd5,#6aedda,#68ecdc,#6aedd9,#6ff0d0,#6ceed6,#68ebdd,#61e7e8,#5be2f3,#5be2f3,#6defd3,#94f0a2,#7bf0c2,#5de3f0,#4cb7fa,#44a3fa,#4ebcf9,#5ee4ed,#6beed7,#6bedd8,#5de3f0,#4db9f9,#44a3fa,#49b0fa,#51c5f8,#55d1f7,#5ae0f5,#5be2f4,#56d4f6,#51c6f8,#4ab3fa,#49b0fa,#51c5f8,#56d6f6,#57d7f6,#4dbbf9,#3b8efa,#3277fa,#3a8bfa,#4cb7fa,#55d1f7,#51c7f8,#46a7fa,#3785fa,#2f6ffa,#3176fa,#3279fa,#3580fa,#3a8afa,#3d92fa,#3b8efa,#3682fa,#3681fa,#3989fa,#419bfa,#49affa,#44a4fa,#429efa,#3988fa,#2e6efa,#2c69fa,#3073fa,#3989fa,#3989fa,#337bfa,#2b65fa,#2659fa,#234ffa,#2b65fa,#3a8afa,#43a1fa,#43a2fa,#3887fa,#2d6afa,#275cfa,#285efa,#2b65fa,#2b65fa,#2c68fa,#2d6bfa,#2a63fa,#2659fa,#2350fa,#224df9,#234ffa,#2659fa,#2a61fa,#2a62fa,#2659fa,#224df9,#214af8,#224cf9,#2554fa,#275bfa,#285dfa,#224cf9,#1e41f5,#1b39f2,#1d3ef4,#2149f8,#2657fa,#2350fa,#2046f7,#1b38f2,#172ee9,#182fec,#1b37f2,#1b38f2,#1c3bf3,#1d3df4,#1c3cf3,#1c3af3,#1b37f2,#172de9,#172ce7,#1a35f1,#1b39f2,#1c3cf3,#1b38f2,#172de8,#162ae3,#1933f0,#1b39f2,#1e40f5,#1e41f5,#1c3cf3,#1932f0,#172de8,#1629e2,#1830ed,#1b38f2,#1a36f1,#1a35f1,#1b38f2,#1931ee,#172de8,#182fec,#1933f0,#1830ec,#172de8,#162ae3,#1424d9,#1321d0,#121fca,#121ec9,#1424d9,#1529e1,#172ee9,#162be5,#1527de,#121ec7,#121fcb,#1322d5,#1426de,#162ae4,#172de8,#1425dc,#1323d7,#1424d8,#1322d4,#1322d3,#1527df,#162ae3,#1425db,#1424d8,#1424da,#1424d9,#1323d5,#1423d8,#1425db,#1323d6,#121dc5,#121cc1,#121cc0,#121dc6,#1323d6,#1425dc,#1323d6,#1321d2,#121ec8,#111bc0,#121dc4,#1323d7,#1423d7,#1323d6,#1321d1,#121ec9,#111bbe,#121cc1,#1322d4,#1424d8,#1323d6,#1322d2,#1321d2,#1321cf,#121dc5,#121ec7,#1321d1,#1425db,#1526de,#1320cf,#121cc1)"></i>
<i style="background:linear-gradient(90deg,#baf07c,#a5f091,#aaf08c,#b3f083,#bff077,#d1f166,#d6f262,#bff077,#9ff097,#a3f093,#aff087,#b5f081,#a8f08e,#abf08b,#c7f06f,#dcf35d,#e4f456,#d9f25f,#cbf06c,#d1f166,#daf35f,#ddf35c,#d9f260,#d7f261,#d0f167,#bcf07a,#aef088,#a2f094,#9bf09b,#aff087,#d8f260,#edf44d,#e6f454,#cdf16a,#b1f085,#b6f080,#c6f070,#cdf16a,#ccf16b,#c0f076,#b4f082,#a9f08d,#a4f092,#96f0a0,#93f0a4,#92f0a5,#81f0ba,#6ef0d2,#74f0ca,#8bf0ae,#99f09d,#92f0a5,#90f0a7,#8af0af,#75f0c9,#65e9e2,#5ee4ee,#5fe5ec,#65e9e1,#75f0c9,#8ff0a8,#92f0a5,#6beed7,#55d2f7,#4dbaf9,#50c2f8,#5ae0f5,#69ecdb,#76f0c8,#79f0c5,#76f0c7,#6ff0d1,#6cefd5,#6defd4,#7af0c3,#86f0b4,#85f0b6,#7af0c3,#6aedd9,#5de3f0,#59dff5,#61e6e8,#76f0c8,#95f0a1,#a8f08e,#8ef0aa,#6beed7,#5fe5ec,#64e8e4,#6ff0d1,#90f0a7,#9cf09a,#7ef0be,#65eae1,#60e6ea,#62e7e8,#64e8e4,#67ebde,#6beed7,#6defd4,#6cefd5,#74f0ca,#70f0cf,#69ecdb,#65e9e2,#66eae1,#6ef0d3,#7ff0bd,#76f0c8,#64e9e3,#5be2f4,#5ee4ee,#66eae0,#72f0cd,#83f0b8,#6aedd8,#59dff5,#50c2f8,#50c2f8,#5ae1f5,#6beed7,#77f0c6,#69ecdb,#59def5,#52caf8,#4fc1f9,#55d2f7,#5ce2f2,#62e7e7,#65e9e2,#5be2f3,#51c5f8,#46a9fa,#3f97fa,#43a2fa,#4dbbf9,#51c6f8,#4dbbf9,#3f98fa,#3176fa,#3072fa,#3d91fa,#4dbbf9,#55d3f7,#53ccf7,#4db9f9,#43a2fa,#3886fa,#3682fa,#3988fa,#3f97fa,#429ffa,#3d92fa,#3886fa,#337bfa,#3279fa,#337bfa,#347dfa,#3989fa,#3e94fa,#3f97fa,#357ffa,#2b65fa,#285cfa,#2a62fa,#3073fa,#347efa,#3175fa,#2961fa,#2452fa,#234ffa,#275cfa,#2c68fa,#347dfa,#3b8dfa,#357ffa,#2a62fa,#224df9,#214bf8,#2556fa,#2a63fa,#2b64fa,#2960fa,#285dfa,#2657fa,#224ef9,#2149f8,#214bf8,#2659fa,#285ffa,#2454fa,#2047f7,#1e40f5,#1d3ef4,#1e42f5,#2149f8,#2453fa,#275bfa,#2350fa,#1f43f6,#1a35f1,#1b38f2,#1f43f6,#224ef9,#2452fa,#224cf9,#1e40f5,#1a34f1,#172de9,#172eea,#1b37f2,#1e41f5,#2046f7,#1d3ef4,#1a35f1,#182eea,#182eea,#182fec,#1a35f1,#1b38f2,#1c3af3,#1830ed,#1529e2,#1527e0,#1426dd,#1932f0,#1b39f2,#1c3bf3,#1c3af3,#182fec,#1424d9,#1322d5,#1527de,#162ae3,#1931ee,#1932f0,#182eea,#162be5,#1424d8,#1527de,#182fec,#1a34f1,#1a35f1,#172de8,#1323d6,#1320cf,#1220cd,#1323d7,#1528e1,#182eeb,#182fec,#1425db,#121dc6,#121dc5,#1321cf,#1426dd,#182eea,#1931ee,#162be6,#1323d5,#121dc6,#121ec8,#1321d1,#1425dc,#1629e3,#1528e0,#1425db,#1423d8,#1425dc,#1323d7,#1424da,#1527df,#1423d7,#1321d1,#111abc,#111abb,#111abb,#121fcc,#162be5,#172ce7,#1323d5,#121cc2,#1119b9,#1119b8,#111bbf,#1320ce,#1323d5,#1424d8,#1322d3,#121dc4,#121ec8,#121ec9,#1322d2,#1322d4,#1323d6,#1322d4,#1320cd,#121dc4,#111abd,#121cc2,#121fca,#1321d0,#1320cf,#1220cd,#121ec8)"></i>
<i style="background:linear-gradient(90deg,#cdf16a,#b5f081,#b2f084,#bef078,#cff168,#e8f553,#edf44b,#dbf35d,#c0f076,#c0f076,#c7f06f,#c7f06f,#b9f07d,#c0f076,#dcf35d,#edf44b,#eff348,#ecf54f,#dcf35d,#dff35a,#e5f455,#e7f453,#e5f455,#e4f456,#def35b,#cdf16a,#bff077,#b0f086,#aaf08c,#c3f073,#ebf550,#f2f142,#eef34a,#d9f25f,#bdf079,#c1f075,#cef169,#d6f262,#d7f261,#cff168,#c9f06d,#bff077,#b8f07e,#a5f091,#9df099,#9bf09b,#8af0af,#76f0c7,#7df0bf,#94f0a3,#a4f092,#9df099,#9ff097,#99f09d,#83f0b8,#6aedd9,#61e7e8,#62e7e8,#67ebdd,#7bf0c1,#99f09d,#9ff097,#74f0ca,#59def5,#50c4f8,#52caf8,#5ce3f1,#6beed7,#7bf0c2,#80f0bc,#80f0bc,#7af0c3,#75f0ca,#74f0cb,#81f0ba,#8ef0aa,#8ef0aa,#83f0b7,#6ef0d3,#60e5eb,#5ae1f4,#62e7e7,#79f0c4,#9cf09a,#b3f083,#99f09d,#71f0ce,#62e7e7,#65e9e1,#71f0ce,#92f0a4,#9ff097,#81f0bb,#67ebde,#63e8e6,#64e9e3,#66eae0,#69ecdb,#6cefd5,#6ef0d2,#6df0d3,#77f0c7,#73f0cc,#6aedd9,#66eae0,#67ebde,#72f0cd,#82f0b9,#75f0ca,#62e7e6,#5ae1f5,#61e6e9,#6beed7,#7cf0c1,#83f0b7,#66eae1,#55d1f7,#4ebcf9,#53cbf7,#62e7e8,#74f0cb,#78f0c6,#65e9e2,#56d4f6,#51c6f8,#50c3f8,#56d5f6,#5de3f1,#62e7e7,#64e8e4,#5ae0f5,#4fc0f9,#45a5fa,#3f98fa,#45a5fa,#4ebdf9,#50c3f8,#4bb4fa,#3b8dfa,#2f71fa,#3072fa,#3e94fa,#4ebcf9,#54cff7,#50c4f8,#4ab1fa,#419bfa,#3682fa,#357efa,#3682fa,#3c90fa,#3f98fa,#3a8bfa,#3680fa,#3176fa,#3074fa,#3174fa,#3177fa,#3683fa,#3c8ffa,#3d92fa,#3279fa,#295ffa,#2555fa,#275afa,#2d6cfa,#3278fa,#3174fa,#2a62fa,#2351fa,#214bf8,#2351fa,#285cfa,#3072fa,#3886fa,#347efa,#2961fa,#214bf8,#2046f7,#224ef9,#275bfa,#285efa,#275cfa,#2659fa,#2453fa,#214af8,#1f44f6,#2046f7,#2452fa,#2759fa,#2351fa,#1f45f6,#1d3df4,#1b39f2,#1c3cf3,#1f43f6,#224df9,#2556fa,#224ef9,#1e41f5,#1931ee,#1933f0,#1d3df4,#2048f7,#224df9,#2149f8,#1d3ef4,#1830ed,#1629e2,#162ae3,#1933f0,#1d3df4,#1e42f5,#1c3bf3,#1831ee,#162ae3,#162ae3,#162be6,#1932f0,#1a36f1,#1b37f2,#172ce6,#1424da,#1424da,#1424d9,#1831ee,#1b38f2,#1b38f2,#1a35f1,#162ae3,#1321d0,#1321d0,#1425dc,#1629e2,#1830ec,#182feb,#1629e3,#1426dd,#1321d2,#1425db,#182eea,#1933f0,#1931ef,#1528e1,#1320cd,#121ec7,#121ec9,#1323d7,#1529e2,#172de8,#162be5,#1321d2,#111bbf,#121cc1,#1321d0,#1527df,#172eea,#172eea,#1527de,#1320ce,#121cc1,#121ec7,#1322d2,#1426dd,#1528e0,#1425db,#1322d5,#1322d2,#1424da,#1323d7,#1425db,#1527de,#1322d4,#121fcb,#1119b8,#1119b8,#111abb,#1320ce,#172ce6,#162be5,#1321d0,#111bbd,#1119b8,#1119b8,#121cc1,#1320cf,#1322d4,#1323d6,#1321cf,#121cc1,#121ec7,#121ec8,#1322d3,#1322d4,#1322d5,#1322d2,#121fcb,#121cc2,#111abc,#121cc2,#121fca,#1321cf,#1320ce,#121fcb,#121ec7)"></i>
<i style="background:linear-gradient(90deg,#e6f454,#dcf35d,#d4f263,#dcf35d,#e8f553,#f4f13f,#f8d635,#eff347,#cdf16a,#d3f264,#e0f359,#dbf35e,#c9f06d,#c9f06d,#ebf550,#f6e73a,#f7de38,#f6ea3a,#eff349,#ebf550,#f2f142,#f5ec3b,#f2f243,#ebf54f,#d8f260,#cdf16a,#cff168,#ddf35c,#ecf44d,#f1f244,#f7e239,#f8d636,#f8d635,#f3f13f,#e1f459,#cbf06b,#cdf16a,#e2f458,#f1f245,#edf44c,#d0f167,#b0f086,#acf08a,#aff087,#b1f085,#adf089,#99f09d,#85f0b6,#90f0a8,#a2f094,#a6f090,#97f09f,#92f0a5,#92f0a5,#84f0b7,#75f0ca,#69ecdb,#6aedda,#78f0c6,#8ff0a9,#a6f090,#b2f084,#8df0ab,#66eae0,#5ee4ed,#67ebde,#78f0c6,#89f0b0,#86f0b4,#81f0bb,#87f0b3,#87f0b3,#80f0bc,#7ef0bf,#92f0a5,#aef088,#b1f085,#92f0a6,#6ff0d0,#64e8e4,#62e7e7,#65e9e2,#73f0cc,#97f09f,#adf089,#a0f096,#75f0ca,#61e6e9,#65eae1,#86f0b4,#acf08a,#acf08a,#88f0b1,#76f0c8,#6ff0d0,#74f0cb,#80f0bc,#8ef0aa,#89f0b0,#7df0bf,#75f0c9,#7cf0c0,#71f0ce,#6aedd9,#6df0d3,#7df0bf,#95f0a1,#9ff097,#7ef0be,#63e8e5,#5fe5eb,#63e8e6,#68ecdc,#6cefd5,#6ceed6,#58dcf6,#49aefa,#48aefa,#54cff7,#62e7e7,#64e8e4,#5fe5ec,#57d7f6,#55d2f7,#59def5,#5de3ef,#61e6e9,#60e6ea,#59def5,#57d8f6,#54cef7,#4ebcf9,#429dfa,#3f98fa,#47aafa,#4cb8fa,#4fc1f9,#4ab2fa,#3a8cfa,#3072fa,#3278fa,#419bfa,#4cb8fa,#52c9f8,#53cdf7,#4dbbf9,#429ffa,#3783fa,#3072fa,#3279fa,#3f97fa,#45a5fa,#4099fa,#337bfa,#2c68fa,#2960fa,#285efa,#2961fa,#3073fa,#3988fa,#3783fa,#2d69fa,#224cf9,#1f44f6,#214af8,#285efa,#3176fa,#3277fa,#2c67fa,#2452fa,#234ffa,#2554fa,#275bfa,#2d6bfa,#2f71fa,#2c68fa,#2554fa,#1f45f6,#1f43f6,#1f45f6,#214bf8,#2554fa,#2453fa,#2351fa,#1f45f6,#1d3ef4,#1e42f5,#1e42f5,#2048f7,#2453fa,#214bf8,#1f43f6,#1c3cf3,#1a35f1,#1b37f2,#1d3ef4,#224cf9,#2556fa,#2048f7,#1a36f1,#172de8,#1323d6,#1426dd,#1c3af3,#214af8,#2048f7,#1c3cf3,#162ae4,#1426dd,#1527e0,#1830ed,#1c3af3,#1c3af3,#1931ee,#172eea,#1528e1,#1425dc,#1528e1,#1932ef,#1a35f1,#182eea,#1323d7,#1321d0,#1322d2,#1425dc,#172ee9,#1b37f2,#1c3bf3,#172de9,#1321cf,#121ec7,#1320cd,#1425dc,#182fec,#1931ee,#162ae3,#1424da,#1321cf,#121ec8,#1322d2,#1527df,#1529e1,#1424da,#1320cf,#121fca,#1321cf,#1323d5,#172ce7,#172ee9,#162ae4,#1425db,#121fca,#121cc1,#121dc4,#1321d0,#1527e0,#1933f0,#172de9,#1424da,#1320cf,#121ec8,#1322d5,#1629e2,#1830ed,#1830ed,#162ae3,#1423d7,#1322d3,#1322d2,#1425db,#1529e2,#162ae3,#1424d9,#1321d0,#111bbe,#111bbe,#111aba,#121dc4,#1323d7,#1426de,#1320cd,#111aba,#1119b8,#121cc2,#121dc5,#1322d2,#1528e0,#1425db,#1323d6,#1322d2,#1320cd,#1321d2,#1321d2,#1322d3,#1423d7,#1321d2,#121ec8,#121dc6,#121cc2,#121dc3,#121dc6,#1323d7,#1425dc,#1321d1,#121dc5)"></i>
<i style="background:linear-gradient(90deg,#eef44b,#e9f552,#dbf35e,#eaf551,#edf44c,#f6ec3b,#fac732,#f7b12f,#edf44c,#e3f457,#ebf550,#e2f458,#cff168,#d1f166,#f0f346,#f6ac2e,#f8b930,#f9d335,#f4f03e,#f0f246,#f6ea3b,#f7df38,#f6e539,#f6e73a,#eaf551,#d7f261,#d6f262,#e3f457,#eef349,#f5f03c,#f9be31,#f7b02f,#f9c231,#f6e83a,#ebf550,#d3f264,#d3f265,#ebf550,#f6e539,#f2f243,#daf35e,#c1f075,#bcf07a,#bdf079,#bbf07b,#c0f076,#b5f081,#8ff0a9,#96f0a0,#a8f08e,#acf08a,#9ef098,#9ef098,#adf089,#98f09e,#7ef0be,#6ceed6,#6beed7,#7bf0c2,#92f0a5,#b0f086,#c6f070,#97f09f,#69edda,#62e7e7,#6bedd8,#7df0bf,#8cf0ac,#8ef0aa,#8bf0ae,#8bf0ae,#8cf0ac,#85f0b5,#82f0b9,#96f0a0,#b6f080,#c2f074,#9bf09b,#72f0cd,#64e8e4,#62e7e8,#65e9e1,#77f0c6,#a3f093,#b9f07d,#a1f095,#71f0ce,#60e6ea,#68ebdd,#8ff0a9,#b5f081,#b3f083,#87f0b3,#70f0cf,#6ef0d2,#77f0c7,#85f0b6,#90f0a7,#8bf0ae,#82f0b9,#76f0c8,#7bf0c1,#70f0d0,#6aedda,#6ff0d1,#81f0ba,#9af09c,#9af09c,#71f0ce,#60e5eb,#61e6e9,#67ebde,#6cefd5,#6defd4,#6aedda,#55d1f7,#45a4fa,#48adfa,#55d3f7,#63e8e6,#63e7e6,#5ee4ef,#56d5f6,#54cef7,#58daf6,#5be2f2,#5fe5ed,#5ee4ee,#58daf6,#57d8f6,#53cbf7,#4cb7fa,#3e95fa,#3b8ffa,#43a1fa,#4ab2fa,#4fc0f9,#4bb5fa,#3a8cfa,#2e6efa,#2f6ffa,#398afa,#46a8fa,#4fbff9,#52c9f8,#4dbbf9,#429dfa,#337afa,#2c67fa,#2e6cfa,#3887fa,#4099fa,#3c91fa,#3175fa,#2961fa,#2658fa,#2554fa,#2657fa,#2d6afa,#357ffa,#347cfa,#2b64fa,#2047f7,#1d3df4,#1e42f5,#2453fa,#2e6cfa,#2f71fa,#2a64fa,#224ef9,#2149f8,#214bf8,#234ffa,#295ffa,#2c68fa,#2a62fa,#234ffa,#1e40f5,#1d3df4,#1d3ff4,#1f45f6,#224ef9,#224ef9,#214bf8,#1d3ff4,#1b38f2,#1c3cf3,#1d3df4,#1f44f6,#224ef9,#2046f7,#1c3cf3,#1a35f1,#172eea,#1933f0,#1c3cf3,#2149f8,#234ffa,#1e41f5,#172de8,#1426dd,#1321d1,#1425db,#1b38f2,#2047f7,#1f43f6,#1a35f1,#1424da,#1323d5,#1425dc,#182feb,#1b39f2,#1a36f1,#162be5,#1527df,#1424d8,#1423d7,#1528e1,#1931ef,#1932ef,#1529e1,#121fcb,#121ec7,#1320cf,#1425dd,#182feb,#1a36f1,#1a36f1,#1426de,#121dc6,#121cc2,#1320cd,#1426de,#182fec,#182eeb,#1425dc,#1322d2,#121fca,#121ec7,#1322d3,#1528e0,#1527e0,#1323d5,#121ec8,#121dc5,#1220cd,#1323d6,#172de9,#172ee9,#1528e0,#1323d5,#121dc5,#111bbe,#121dc4,#1321d1,#1528e1,#1931ef,#162be5,#1323d6,#121fcc,#121ec7,#1322d5,#1629e3,#182fec,#182feb,#1528e1,#1323d5,#1321d1,#1321d2,#1424da,#1528e1,#1629e2,#1424d8,#1320cf,#111bbd,#111bbd,#1119b8,#121cc2,#1323d6,#1426dd,#1320ce,#111abb,#1119b8,#121cc1,#121cc3,#1321d0,#1527df,#1425db,#1423d7,#1322d4,#1320cd,#1321d0,#1320cf,#1321d1,#1323d7,#1322d3,#121fca,#121ec7,#121cc1,#121cc1,#121dc3,#1322d5,#1426dd,#1322d4,#121ec8)"></i>
<i style="background:linear-gradient(90deg,#f3f13f,#f5f03d,#f6e73a,#f5ee3c,#f0f246,#f6eb3b,#faca32,#ef5c15,#ef741f,#f5ed3b,#edf44b,#dbf35d,#d8f260,#ebf54f,#f6e539,#ef751f,#f08e28,#f9d235,#f6e539,#f5ed3b,#f7e138,#f9cf34,#f9c031,#f19029,#f7e038,#ecf44e,#dff35b,#e2f458,#eef349,#f5f03c,#f8b730,#f5a72d,#f6e639,#eff349,#daf35f,#c9f06d,#c7f06f,#dff35b,#f6e439,#edf44d,#bff077,#b1f085,#b5f081,#b6f080,#b2f084,#c8f06e,#d4f264,#a8f08e,#b1f085,#c1f075,#baf07c,#a0f096,#8cf0ac,#b6f080,#c2f074,#99f09d,#78f0c6,#67ebdf,#65e9e1,#77f0c7,#b0f086,#e0f35a,#b8f07e,#7bf0c2,#69ecdb,#76f0c8,#90f0a8,#99f09d,#a3f093,#a4f092,#99f09d,#a2f094,#99f09d,#96f0a0,#9df099,#aaf08c,#cbf06b,#b9f07d,#8df0ab,#6ceed6,#62e7e8,#6aedd8,#81f0ba,#a3f093,#a3f093,#76f0c8,#60e5eb,#53ccf7,#5ae1f4,#81f0bb,#b5f081,#c0f076,#93f0a4,#6ef0d2,#67ebdf,#67eadf,#6beed7,#77f0c7,#82f0ba,#7ef0be,#6beed7,#69ecdb,#6ceed6,#6ef0d3,#73f0cb,#78f0c6,#85f0b5,#80f0bc,#65e9e2,#5be2f3,#5ce2f2,#60e5eb,#65e9e2,#6defd5,#75f0c9,#63e8e5,#4fbff9,#45a5fa,#4ebcf9,#59dff5,#62e7e8,#66eae1,#5fe5ec,#56d4f6,#54cff7,#55d1f7,#56d4f6,#56d5f6,#54d0f7,#52caf8,#4db9f9,#3c90fa,#3682fa,#3d93fa,#4cb6fa,#51c7f8,#55d3f7,#54cef7,#419cfa,#3073fa,#2d6bfa,#3174fa,#347dfa,#419bfa,#49b0fa,#44a4fa,#3785fa,#2a62fa,#2452fa,#295ffa,#3580fa,#3c91fa,#3682fa,#2c68fa,#285dfa,#285cfa,#285cfa,#275afa,#2b65fa,#2d6bfa,#295ffa,#2350fa,#2149f8,#2046f7,#2048f7,#2351fa,#2b66fa,#2e6dfa,#275cfa,#214bf8,#1c3bf3,#1b39f2,#2047f7,#2452fa,#2554fa,#214af8,#1d3df4,#1a34f1,#1830ec,#1a35f1,#1f43f6,#2149f8,#214bf8,#2046f7,#1d3ff4,#1b37f2,#1a34f1,#1c3cf3,#1f45f6,#2048f7,#1e41f5,#1b37f2,#172ce7,#1629e3,#1a35f1,#1f45f6,#234ffa,#1f45f6,#172ce7,#1321d1,#1424db,#162ae4,#1931ef,#1c3cf3,#1d3ef4,#182fec,#1426de,#1323d6,#1321d0,#1322d5,#1528e1,#182fec,#182feb,#1426de,#1322d4,#1321d1,#1322d5,#1527df,#172de9,#172de8,#1424da,#1220cd,#1220cc,#1323d7,#1830ec,#1b38f2,#1933f0,#172ce7,#1322d4,#121ec7,#121cc1,#121fcb,#1323d6,#172ce6,#162be5,#1322d3,#121cc1,#121cc1,#121dc5,#1323d5,#1426de,#1528e1,#1425dc,#1322d5,#1320cf,#1320ce,#1322d2,#1425db,#1527df,#1527de,#1321d2,#121ec8,#121ec7,#1322d3,#1426dd,#172ee9,#1831ee,#172ce7,#1423d7,#121ec9,#121ec7,#1321cf,#162ae4,#172de8,#1527df,#1423d8,#121ec9,#111bbe,#121cc1,#121fca,#1425dc,#172de9,#1424da,#121fcc,#111abc,#1119b8,#111bbe,#121fcb,#1424da,#1426de,#1424d8,#121fca,#111bbd,#111aba,#121cc3,#121fcb,#1323d7,#1425dc,#1426de,#1423d7,#121ec9,#121ec8,#121fcb,#1321cf,#1424d8,#1425db,#1321d1,#121dc6,#121dc5,#121ec8,#1321d0,#1424d8,#1425db,#1425db,#1321d2)"></i>
<i style="background:linear-gradient(90deg,#f7e439,#f7dc37,#f9d134,#f5ed3b,#f5ee3b,#f7de37,#fac832,#ee5914,#c0310f,#f8bb30,#f1f245,#e5f455,#e2f458,#edf44b,#f7e339,#ef5e15,#ef5d15,#f9c231,#f8d936,#f7e239,#f8d836,#fac832,#f7b42f,#f06717,#f9bf31,#eef34a,#e1f458,#e3f457,#eff348,#f6eb3b,#f5a32d,#ee8226,#f8d736,#f1f245,#e2f458,#cff168,#cbf06b,#e2f458,#f9cd33,#f1f243,#c5f071,#b9f07d,#bef078,#bdf079,#b8f07e,#d1f166,#ebf550,#b4f082,#b4f082,#c1f075,#b9f07d,#a0f096,#91f0a6,#cbf06b,#d5f263,#a0f096,#7af0c3,#67ebde,#66eae1,#78f0c6,#b4f082,#ebf550,#bff077,#7ef0be,#6beed7,#7bf0c1,#93f0a3,#9af09c,#a9f08d,#aef088,#9af09c,#a2f094,#9af09c,#95f0a1,#9df099,#aff087,#d5f263,#bff077,#89f0b0,#69ecdb,#60e6ea,#6ceed6,#87f0b3,#abf08b,#a9f08d,#6ff0d1,#5ce3f1,#53cbf7,#5ce3f1,#85f0b5,#b5f081,#c0f076,#90f0a7,#6ceed6,#66eae0,#66eadf,#6aedd9,#73f0cc,#7ff0bc,#82f0b9,#6bedd8,#67ebdf,#69ecda,#6beed7,#70f0cf,#76f0c9,#87f0b3,#80f0bb,#62e7e7,#58dcf6,#58dcf6,#5ce2f2,#61e7e8,#6bedd8,#79f0c5,#64e8e4,#4ebdf9,#419cfa,#49aefa,#55d1f7,#5de3f0,#64e8e4,#60e5eb,#54d0f7,#51c7f8,#51c5f8,#51c7f8,#52caf8,#52c8f8,#52c9f8,#4cb6fa,#3888fa,#3176fa,#3681fa,#43a2fa,#4cb8fa,#53ccf7,#54cff7,#409bfa,#2e6efa,#2960fa,#2b65fa,#2e6cfa,#3989fa,#44a2fa,#4099fa,#337afa,#2658fa,#2149f8,#2452fa,#2f71fa,#3680fa,#3175fa,#285dfa,#2351fa,#234ffa,#234ffa,#224ef9,#275bfa,#2a62fa,#2554fa,#2047f7,#1d3ff4,#1d3df4,#1e42f5,#214bf8,#285efa,#2960fa,#224df9,#1d3ef4,#1931ee,#1a34f1,#1f44f6,#224ef9,#224cf9,#1e41f5,#1933f0,#162be6,#162ae4,#1931ef,#1e41f5,#1f45f6,#1f44f6,#1d3df4,#1a35f1,#182eea,#182fec,#1c3bf3,#1f44f6,#1f43f6,#1b38f2,#172ce7,#1425db,#1426de,#1a35f1,#2046f7,#214bf8,#1c3cf3,#1424d8,#121dc6,#1323d6,#162be5,#1933f0,#1c3bf3,#1c3af3,#1629e2,#1322d4,#1321d0,#1320ce,#1323d6,#1528e1,#172de8,#162ae4,#1322d5,#1320cd,#1320cf,#1323d6,#1528e1,#172de8,#1629e3,#1321d1,#121dc6,#121ec9,#1423d8,#1931ef,#1b38f2,#1830ee,#1528e1,#1320ce,#121dc3,#121cc0,#121fcc,#1323d7,#162be5,#1629e2,#1321d0,#111bc0,#121cc0,#121dc4,#1322d4,#1425dd,#1528e1,#1425db,#1322d4,#1320ce,#121fcc,#1321d0,#1424d9,#1426de,#1527df,#1322d3,#121ec9,#121ec7,#1321d1,#1424da,#172ce6,#1830ed,#172de9,#1425db,#121fcb,#121dc6,#121fcc,#1528e0,#162be6,#1527e0,#1424da,#121fcc,#111bbf,#111bc0,#121dc6,#1423d8,#172ce7,#1425db,#1321d0,#111bbf,#1119b8,#111abb,#121dc5,#1323d6,#1426dd,#1425db,#1320ce,#121cc0,#111aba,#111bc0,#121ec7,#1322d3,#1425dc,#1528e1,#1425db,#121fcc,#121ec7,#121ec7,#121fcb,#1323d5,#1425db,#1322d3,#121ec8,#121dc6,#121dc6,#121fcc,#1322d4,#1424da,#1425dc,#1323d5)"></i>
<i style="background:linear-gradient(90deg,#f4f03d,#f8da36,#f9cf34,#f9d335,#f6ec3b,#f4f03e,#f7dd37,#ef7921,#a82d0f,#f6af2e,#edf44b,#eaf551,#ecf44d,#f0f246,#f7df38,#ee5914,#ea4812,#f7b62f,#f9d235,#f6e93a,#f1f243,#f0f347,#f7e238,#ef6f1c,#fac632,#d7f261,#aef088,#c2f074,#e5f455,#f1f245,#f7b22f,#ee7e24,#f6e539,#e3f457,#c4f072,#c4f072,#d3f265,#eff348,#f6af2e,#f7e239,#d6f262,#c5f071,#b2f084,#a9f08d,#bbf07b,#e0f35a,#f1f244,#bcf07a,#a5f091,#a8f08e,#adf089,#a6f090,#a9f08d,#e4f456,#dff35a,#93f0a3,#6df0d3,#63e8e5,#61e6e9,#6ef0d3,#abf08b,#dff35a,#aff087,#7df0bf,#76f0c8,#81f0ba,#8bf0ad,#94f0a3,#b9f07d,#c9f06d,#a1f095,#90f0a8,#85f0b5,#85f0b5,#8ef0aa,#a4f092,#daf35e,#d4f264,#a1f095,#6aedd9,#5ee4ef,#6cefd5,#98f09e,#aef088,#abf08b,#6cefd5,#5be2f4,#56d4f6,#5ee4ee,#7af0c3,#91f0a6,#98f09e,#7df0c0,#60e6ea,#5ee4ef,#5ee4ed,#5de3ef,#5ee4ed,#63e8e5,#67eadf,#5ce3f1,#59dff5,#61e6e9,#65eae1,#67eadf,#6aedd9,#79f0c4,#6beed7,#54cff7,#4cb7fa,#4bb5fa,#4fbff9,#54cef7,#5ce2f2,#71f0ce,#69ecdb,#57d8f6,#4ebdf9,#4fbff9,#52c8f8,#54cef7,#56d6f6,#56d6f6,#51c5f8,#51c5f8,#4bb5fa,#46a8fa,#4ab1fa,#51c6f8,#56d4f6,#4db9f9,#3b8dfa,#2d6bfa,#2a64fa,#3175fa,#45a5fa,#54d0f7,#53cbf7,#3886fa,#2a61fa,#214bf8,#2149f8,#2960fa,#337bfa,#3784fa,#3175fa,#285dfa,#2149f8,#1e41f5,#214af8,#2a62fa,#2d6afa,#285efa,#2555fa,#1f45f6,#1d3df4,#1d3ff4,#1e42f5,#2047f7,#224ef9,#2350fa,#2048f7,#1d3df4,#1c3bf3,#1f44f6,#2351fa,#2b64fa,#2557fa,#1c3bf3,#162be5,#1424d9,#172de8,#1f43f6,#214bf8,#1f43f6,#1a34f1,#1526de,#1321d1,#1323d7,#162be6,#1c3cf3,#2047f7,#1e41f5,#1932f0,#1425dd,#1424d9,#162ae4,#1a35f1,#1e40f5,#1b38f2,#182fec,#1424d8,#1322d4,#1426dd,#1931ee,#1c3cf3,#1e40f5,#1a36f1,#1425dc,#1320cf,#1424d9,#1830ec,#1d3df4,#1e41f5,#1b38f2,#1527df,#1323d5,#1321d2,#1322d3,#162ae4,#182feb,#182feb,#162ae4,#1320cf,#121fcb,#1321d1,#1425db,#1528e1,#172ee9,#182fec,#1527df,#1322d3,#1321d0,#1321cf,#1527e0,#162be5,#172eea,#1526de,#1321d0,#121dc5,#121cc3,#1321d1,#1425dc,#172de8,#1a34f1,#1425dd,#121ec9,#121dc5,#121cc1,#1220cc,#1424d8,#1527df,#162ae4,#1424da,#121fcb,#121dc3,#121fca,#1423d7,#1528e1,#1528e1,#1425dc,#1323d7,#1320ce,#121fcb,#1220cd,#1322d3,#162ae3,#172eea,#1629e3,#1322d4,#121fcb,#121fcb,#1323d7,#1323d7,#1424d8,#1528e1,#1528e1,#1320cd,#121fca,#121fca,#1320cd,#1527de,#162be5,#1527de,#1320ce,#121dc5,#111abb,#111bbe,#121fca,#1426de,#162be5,#1424d8,#121fcc,#121dc6,#121fca,#121fcb,#121fcc,#1323d7,#1527df,#1321d0,#111bbe,#111aba,#121cc1,#121cc3,#121cc0,#1321d2,#1320ce,#111bbe,#111bbf,#111abb,#121cc3,#1320cd,#121fca,#121dc6,#121ec7)"></i>
<i style="background:linear-gradient(90deg,#f5ed3b,#f8d736,#facb33,#f8d736,#f5ec3b,#f5ee3b,#f7dc37,#ef8627,#a82d0f,#f6ac2e,#eef34a,#edf44d,#eef44a,#f1f244,#f7e138,#ef5b15,#e84511,#f7b42f,#f8d435,#f5ee3b,#f0f246,#eff348,#f7e038,#f06b1a,#f9c131,#d7f261,#abf08b,#bff077,#e4f456,#f0f246,#f7b42f,#ee8025,#f6e73a,#e3f457,#c8f06e,#c9f06e,#d4f264,#eef44a,#f7b42f,#f6e639,#d5f263,#c5f071,#b2f084,#a7f08f,#baf07c,#e0f359,#f2f242,#bef078,#a3f093,#a1f095,#a4f092,#a1f095,#a9f08d,#e6f454,#e1f459,#92f0a4,#6cefd5,#62e7e7,#60e6ea,#6defd5,#a6f090,#daf35e,#a9f08d,#7bf0c2,#76f0c8,#82f0b9,#8af0af,#8ff0a8,#b3f083,#c4f072,#9cf09a,#8bf0ae,#7ff0bc,#7ff0bd,#8af0af,#a2f094,#d9f25f,#d1f166,#98f09e,#66eae0,#5ae1f5,#69ecda,#93f0a4,#a9f08d,#a6f090,#6aedd9,#59def5,#54cff7,#5be2f3,#71f0cf,#87f0b3,#8ff0a8,#77f0c7,#5ee4ee,#5be2f3,#5be2f3,#5ae1f5,#5be2f3,#60e5eb,#64e8e4,#59dff5,#56d6f6,#5ce2f2,#60e5eb,#61e6e9,#66eae0,#75f0ca,#6aedd9,#53ccf7,#48acfa,#43a1fa,#47a9fa,#4ebdf9,#57d8f6,#6defd4,#68ebdd,#55d3f7,#4ab1fa,#48acfa,#4cb6fa,#4ebdf9,#52caf8,#53ccf7,#4dbbf9,#4cb7fa,#43a0fa,#3d93fa,#429ffa,#4dbaf9,#52caf8,#48acfa,#347cfa,#285dfa,#2555fa,#2c69fa,#3f97fa,#50c4f8,#4ebcf9,#2f70fa,#234ffa,#1e40f5,#1e42f5,#275afa,#3072fa,#3073fa,#2961fa,#2149f8,#1c3cf3,#1c3af3,#2046f7,#285cfa,#2960fa,#234ffa,#2047f7,#1b39f2,#1a35f1,#1c3af3,#1d3ff4,#1f43f6,#2046f7,#1e42f5,#1b39f2,#1931ef,#1b37f2,#1f44f6,#234ffa,#2759fa,#2047f7,#172ce7,#1323d6,#1322d4,#172eea,#1f44f6,#2047f7,#1c3bf3,#1629e3,#1322d2,#121fcb,#1323d5,#172ce6,#1c3bf3,#1e42f5,#1b39f2,#162ae4,#1322d4,#1323d6,#162be5,#1a35f1,#1d3df4,#1931ef,#1528e1,#1321d0,#1321d1,#1527df,#1933f0,#1c3cf3,#1c3cf3,#1830ec,#1322d4,#121fcb,#1424d9,#1830ee,#1d3df4,#1d3ff4,#1a35f1,#1425db,#1322d2,#1321d0,#1321d2,#162ae4,#172eea,#172ee9,#1629e3,#1320ce,#121ec9,#1320cf,#1424d8,#1527df,#172de8,#182fec,#1528e1,#1322d3,#1320cf,#121fcc,#1425dc,#1529e2,#172eea,#1528e1,#1322d4,#121dc6,#121cc1,#1220cd,#1424d8,#172ce7,#1a35f1,#1528e0,#121fcc,#121dc6,#111bbe,#121ec8,#1322d4,#1426de,#172ce7,#1527df,#1320cf,#121cc3,#121dc6,#1321d1,#1425dc,#1528e1,#1528e0,#1426dd,#1322d2,#121fca,#121ec8,#1220cd,#1527df,#182eeb,#172ce7,#1424d9,#1320cd,#121ec9,#1322d3,#1322d2,#1323d6,#1529e2,#162ae4,#1321d0,#121fca,#121ec8,#121ec9,#1425db,#162ae4,#1528e0,#1321d1,#121ec7,#111abb,#111abb,#121dc6,#1425db,#162be5,#1424d9,#1320ce,#121ec7,#121fca,#121ec9,#121fca,#1323d5,#1527df,#1321d0,#111bbf,#111aba,#121cc0,#121cc2,#111bbf,#1321d1,#1320ce,#111bbe,#111bbf,#111aba,#121cc3,#1320cd,#121ec9,#121dc5,#121dc5)"></i>
<i style="background:linear-gradient(90deg,#ecf54e,#f0f245,#f0f246,#eff348,#f1f245,#f4f03e,#f6e73a,#f08d28,#d1360f,#f7de38,#e9f552,#f1f243,#f7e138,#f8d636,#f9c031,#ec4d12,#ec4a12,#f9bf31,#f8d936,#f5ed3b,#f2f243,#f0f347,#f6e439,#ee7e24,#f6e539,#ccf16b,#acf08a,#b4f082,#d3f265,#ecf54f,#f9be31,#f19229,#eff348,#cbf06b,#c7f06f,#cbf06b,#d9f25f,#ecf54f,#facb33,#f1f244,#c1f075,#acf08a,#96f0a0,#99f09d,#adf089,#d5f263,#edf44c,#b3f083,#9bf09b,#8cf0ac,#90f0a7,#9af09c,#b1f085,#edf44d,#eef34a,#bdf079,#82f0b9,#68ecdc,#68ebdd,#77f0c7,#98f09e,#d3f264,#adf089,#92f0a5,#95f0a2,#a4f092,#a7f08f,#96f0a0,#a1f095,#aef088,#8cf0ac,#81f0ba,#7af0c3,#7ef0be,#75f0c9,#82f0b9,#c5f071,#bff077,#86f0b4,#60e5eb,#55d1f7,#60e5eb,#79f0c5,#9df099,#9ef098,#66eae0,#55d2f7,#51c7f8,#5ae1f5,#6bedd8,#76f0c8,#7ef0be,#67eadf,#5be1f4,#5ae1f4,#58dcf6,#55d2f7,#57d7f6,#5fe5ec,#69ecdb,#5fe5eb,#59def5,#53cbf7,#52c8f8,#56d5f6,#63e7e6,#79f0c5,#67ebde,#4dbbf9,#3d93fa,#3a8cfa,#44a3fa,#50c2f8,#58dcf6,#64e9e3,#5ce2f2,#4fbff9,#3b8dfa,#3887fa,#43a1fa,#4cb8fa,#50c2f8,#52caf8,#4bb4fa,#419bfa,#337afa,#3175fa,#3887fa,#429efa,#4cb6fa,#4099fa,#2c68fa,#2556fa,#2554fa,#2960fa,#347dfa,#45a6fa,#43a1fa,#2b64fa,#2048f7,#1e41f5,#224df9,#275cfa,#2a62fa,#2961fa,#234ffa,#1d3df4,#1a36f1,#1c3af3,#224df9,#275afa,#2657fa,#2048f7,#1b39f2,#172ce6,#182feb,#1c3bf3,#1e42f5,#2048f7,#1f43f6,#1b37f2,#1629e2,#1528e0,#1b38f2,#2046f7,#224df9,#1f45f6,#1931ee,#1322d4,#121ec7,#1322d2,#1931ee,#2046f7,#2046f7,#1931ef,#1323d6,#121ec9,#121dc5,#1322d4,#1931ef,#1d3ef4,#1c3bf3,#172eea,#1423d8,#121fcb,#1321d1,#172de8,#1d3df4,#1c3af3,#182feb,#1424da,#121dc6,#121ec8,#1321d0,#162be6,#1b39f2,#1c3bf3,#182fec,#1322d3,#121fcc,#1323d6,#182eeb,#1c3bf3,#1d3df4,#1a35f1,#172ce6,#1322d3,#1320ce,#121ec9,#1323d6,#172ce6,#1528e1,#1527df,#1320cf,#121ec9,#121fcc,#1321d0,#1529e2,#172de8,#172ee9,#162be5,#1321d2,#1321d1,#1320ce,#1323d5,#172ce6,#1a35f1,#1a34f1,#182fec,#1321d1,#121cc2,#121cc2,#121ec7,#1323d5,#1629e3,#1527df,#1321d0,#121cc3,#111abb,#121dc6,#1321d0,#1425db,#172ce7,#172de8,#162be5,#1423d7,#121ec8,#121ec9,#1424da,#172ce6,#162be5,#1425db,#121fcb,#111bbf,#121cc2,#1320cf,#1529e1,#172ce7,#162be5,#1424d9,#121ec8,#121dc4,#121fcc,#1425dd,#162be6,#1529e2,#1528e0,#1322d3,#1220cd,#121fcc,#1322d3,#1527df,#172de8,#162be5,#1629e3,#1322d5,#121dc4,#121dc3,#121fca,#1424d8,#1629e2,#1322d4,#121ec8,#121dc6,#121dc6,#121dc4,#121ec6,#1320ce,#1321cf,#1320ce,#111bbf,#1119b8,#1119b8,#1119b8,#121cc3,#1424d9,#1424d8,#121fcc,#111abb,#1119b8,#111aba,#121dc5,#121ec7,#121fca,#121dc5)"></i>
<i style="background:linear-gradient(90deg,#dbf35d,#ebf54f,#ecf44e,#eff348,#ecf44d,#f1f245,#f6e439,#ef721d,#ee5714,#eef349,#dff35b,#edf44b,#f4f03d,#f7e238,#f9c231,#ee5414,#f06b1a,#f9cd33,#f6e73a,#f2f142,#eff349,#eef44a,#f6e93a,#f2982a,#f1f243,#c3f073,#a4f092,#aff087,#d0f168,#e8f553,#f9cf34,#f7b22f,#ebf550,#c7f06f,#c6f070,#caf06c,#d5f263,#e5f455,#f7e339,#ecf44e,#b9f07d,#a5f091,#8ff0a9,#91f0a6,#a6f090,#d1f167,#e5f455,#aaf08c,#93f0a3,#82f0b9,#86f0b4,#93f0a4,#adf089,#e8f553,#e9f552,#b3f083,#7bf0c1,#66eadf,#66eae0,#72f0cd,#8ef0aa,#c0f076,#9cf09a,#8bf0ae,#91f0a7,#9ff097,#9ff097,#8df0ab,#93f0a4,#9cf09a,#84f0b7,#78f0c5,#6ef0d2,#72f0cd,#6defd4,#7bf0c2,#b8f07e,#b4f082,#7df0bf,#5be2f4,#50c4f8,#5ae1f5,#6defd4,#8ff0a9,#8ff0a9,#63e8e5,#53cdf7,#4fbff9,#56d4f6,#64e8e4,#6beed7,#6ef0d1,#60e6ea,#57d8f6,#56d6f6,#54cff7,#51c6f8,#53ccf7,#5ae1f5,#62e7e7,#5ae0f5,#54cff7,#4dbaf9,#4bb5fa,#50c4f8,#5ce3f1,#6defd5,#60e6ea,#48acfa,#3580fa,#3277fa,#3c8ffa,#4bb5fa,#54cff7,#5be2f3,#53cdf7,#44a4fa,#3176fa,#3175fa,#3d93fa,#47aafa,#4ab0fa,#4bb4fa,#3f96fa,#347dfa,#2c67fa,#2c69fa,#347dfa,#3d92fa,#429efa,#3277fa,#2350fa,#2047f7,#224df9,#295ffa,#3279fa,#3c90fa,#3277fa,#2149f8,#1c3af3,#1c3cf3,#224ef9,#275bfa,#2658fa,#224ef9,#1d3ef4,#182feb,#182feb,#1c3af3,#224df9,#2554fa,#224cf9,#1c3cf3,#172eea,#1425dc,#172de8,#1c3bf3,#1e41f5,#1e42f5,#1b39f2,#172ce7,#1323d6,#1425dd,#1c3af3,#2047f7,#214af8,#1d3df4,#1528e1,#121fca,#121cc3,#1322d3,#1932f0,#1f45f6,#1e42f5,#172de8,#1321d0,#121dc5,#121dc4,#1322d4,#1831ee,#1d3df4,#1b39f2,#172ce6,#1322d5,#121ec9,#1320ce,#162be6,#1c3cf3,#1b39f2,#182feb,#1424da,#121dc6,#121dc6,#121fcc,#1529e2,#1b38f2,#1c3cf3,#1932f0,#1323d7,#121fcc,#1322d2,#162ae4,#1b37f2,#1c3cf3,#1b37f2,#182feb,#1323d6,#1220cd,#121dc5,#1321d1,#162ae3,#1528e1,#162ae4,#1322d5,#121fcb,#121fca,#121fca,#1425db,#162be5,#182feb,#182feb,#1424d9,#1322d4,#121fca,#1320cd,#1527df,#1932f0,#1a36f1,#1a34f1,#1323d6,#121dc3,#111bbf,#121cc2,#1321d0,#1529e1,#1528e1,#1322d4,#121dc6,#111abb,#121cc3,#121fcc,#1424d8,#172ce7,#182eea,#172de9,#1424d9,#121ec7,#121dc6,#1323d6,#162ae4,#162be5,#1426dd,#1220cd,#111bbf,#121cc2,#1320cd,#1527e0,#162be6,#162ae4,#1424d9,#121ec9,#121dc4,#121fcc,#1425dc,#162be5,#1528e1,#1527df,#1322d3,#121fcc,#121fcc,#1322d3,#1527df,#172ce7,#162ae4,#1528e1,#1322d3,#121dc4,#121dc4,#121fcc,#1424d9,#1528e1,#1321d1,#121dc5,#121dc4,#121dc6,#121dc6,#121ec8,#1320ce,#1320cd,#121fcb,#111bbd,#1119b8,#1119b9,#1119b9,#121dc4,#1423d7,#1323d5,#121ec9,#1119ba,#1119b8,#111abc,#121ec7,#121ec7,#121ec7,#121cc1)"></i>
<i style="background:linear-gradient(90deg,#adf089,#c8f06e,#c2f074,#ebf54f,#f1f244,#f3f140,#f7e339,#ee8025,#f9be31,#dff35a,#d0f167,#ddf35c,#eff348,#f6e93a,#f9cd33,#f18f29,#f9d235,#edf44d,#edf44d,#f1f244,#f5f03d,#f5f03d,#f6e539,#fac732,#edf44c,#d3f265,#d0f167,#c4f072,#cdf16a,#dff35b,#f5f03c,#f8d635,#f0f346,#e7f454,#dcf35d,#d4f264,#cdf16a,#cbf06c,#e6f454,#c6f070,#a6f090,#a8f08e,#aaf08c,#a1f095,#a2f094,#c4f072,#d6f262,#a5f091,#8bf0ae,#7bf0c1,#73f0cc,#87f0b2,#a7f08f,#d7f261,#d4f264,#a0f096,#71f0ce,#64e8e4,#69ecdb,#7df0bf,#95f0a1,#b3f083,#9cf09a,#8cf0ac,#86f0b4,#8ef0aa,#8ef0aa,#84f0b6,#81f0ba,#89f0b0,#7cf0c1,#6defd4,#69ecdb,#6aedd9,#6aedd8,#7cf0c1,#aef088,#a4f092,#6ff0d1,#55d2f7,#4cb8fa,#53cbf7,#62e7e8,#7bf0c2,#87f0b3,#69ecdb,#5ae0f5,#56d4f6,#57d9f6,#5ae1f5,#5de3f0,#5fe5ec,#59def5,#55d3f7,#55d2f7,#52c9f8,#50c2f8,#52c9f8,#58dcf6,#60e6ea,#59def5,#4cb8fa,#3f96fa,#409afa,#47abfa,#55d1f7,#65e9e2,#5ae0f5,#3f97fa,#2b66fa,#2a61fa,#3277fa,#43a1fa,#4fc1f9,#4ebef9,#3e94fa,#3072fa,#2a64fa,#2e6efa,#419cfa,#4bb5fa,#49affa,#3c91fa,#2d6cfa,#2a62fa,#2a62fa,#2c68fa,#337bfa,#3783fa,#347cfa,#275cfa,#1e41f5,#1c3bf3,#224ef9,#2d6bfa,#3379fa,#2e6efa,#2452fa,#1b39f2,#182eea,#1d3df4,#2556fa,#2a64fa,#275afa,#1f43f6,#172de8,#1426dd,#182feb,#1d3ff4,#224df9,#2452fa,#1e42f5,#1931ef,#172ce7,#172ce7,#1931ef,#1f43f6,#2149f8,#1f44f6,#1b38f2,#1527df,#1423d7,#1424da,#1932ef,#1f43f6,#2149f8,#1c3af3,#1322d4,#121cc0,#121dc6,#1423d8,#1a36f1,#1e40f5,#1c3cf3,#1830ed,#1323d5,#121ec9,#121dc4,#1424d9,#1a36f1,#1f44f6,#1e41f5,#1a34f1,#1424d9,#121fcb,#1321cf,#172ce7,#1e41f5,#2048f7,#1c3af3,#1426dd,#121fcb,#121cc3,#121ec9,#1529e2,#1b39f2,#1c3cf3,#1a34f1,#1424da,#1321d2,#1322d3,#1426dd,#1933f0,#1c3cf3,#1c3bf3,#1830ec,#1322d3,#121ec7,#121dc5,#1321d0,#1425dc,#1629e2,#1528e1,#1527e0,#1322d3,#121fcc,#121fcc,#1323d6,#1426dd,#172ee9,#172de8,#172de8,#1322d4,#121dc4,#121ec9,#1425dc,#172de9,#1932f0,#172ce7,#1322d4,#121ec7,#121cc3,#121ec9,#1424d8,#1424da,#1424d8,#1424d9,#121fca,#111bbe,#121cc1,#121dc6,#1323d6,#1528e0,#182eea,#182feb,#1527df,#1220cd,#1321d1,#1426dd,#1830ed,#182feb,#1424d9,#121ec7,#111bc0,#121cc1,#1321cf,#1424d8,#1424d9,#1322d2,#1322d2,#121fcc,#121fcb,#1320ce,#1322d2,#1425db,#1528e1,#1424da,#1321d0,#1321d1,#1321d2,#1322d3,#1322d3,#1424da,#1425dc,#1321d1,#121cc0,#111bc0,#121fcb,#1424d8,#1425dc,#1425dc,#1323d5,#1321cf,#121dc3,#121cc1,#121dc6,#121dc6,#121cc1,#111bbe,#111bc0,#111bbf,#111bbd,#121cc0,#121ec7,#121ec7,#121dc4,#121ec7,#121ec6,#111abb,#1119b8,#121ec7,#1320cd,#121ec7,#121fcb,#121fca)"></i>
<i style="background:linear-gradient(90deg,#9ef098,#b9f07d,#caf06c,#e0f359,#eff349,#f1f245,#f5f03c,#f7df38,#e6f454,#caf06c,#bff077,#d1f166,#ecf44d,#f4f03d,#f8db37,#f9cf34,#eff349,#dff35a,#e2f457,#eef44b,#f2f142,#f2f142,#f1f243,#eff347,#d7f261,#c7f06f,#c9f06d,#bef078,#c7f06f,#d4f264,#ebf550,#eff348,#ebf54f,#dff35a,#d6f262,#cdf169,#c3f073,#b9f07d,#c4f072,#aaf08c,#9bf09b,#9af09c,#9af09c,#93f0a4,#98f09e,#b3f083,#bcf07a,#98f09e,#7ff0bd,#6ef0d1,#6ceed6,#81f0bb,#9ef098,#c1f075,#bcf07a,#92f0a5,#6ceed6,#62e7e8,#67ebde,#76f0c8,#84f0b6,#91f0a7,#89f0b0,#83f0b8,#7ff0bd,#86f0b4,#84f0b6,#79f0c4,#6ef0d2,#75f0c9,#71f0ce,#67ebdd,#62e7e7,#63e8e5,#65eae1,#72f0cd,#97f09f,#93f0a4,#68ecdc,#50c4f8,#47a9fa,#4fc0f9,#5de3f0,#6ceed6,#6ff0d1,#61e6e8,#55d1f7,#51c6f8,#53ccf7,#56d4f6,#57d9f6,#56d6f6,#52c9f8,#50c2f8,#4fc1f9,#4cb7fa,#4ab1fa,#4dbbf9,#53cdf7,#57d7f6,#51c7f8,#4099fa,#337afa,#3887fa,#43a2fa,#52c8f8,#5ae1f5,#4dbaf9,#2f70fa,#2350fa,#275afa,#3279fa,#429ffa,#49affa,#3d92fa,#2c69fa,#2658fa,#2556fa,#2d6afa,#3f96fa,#45a6fa,#3c8ffa,#2d6bfa,#2453fa,#2350fa,#275afa,#2b65fa,#3175fa,#3072fa,#295ffa,#1f44f6,#1a34f1,#1b37f2,#2350fa,#2e6dfa,#2f70fa,#2657fa,#1d3df4,#172ce7,#162be5,#1e40f5,#2759fa,#295ffa,#234ffa,#1b39f2,#1425dc,#1323d7,#172eea,#1d3ff4,#224cf9,#224ef9,#1d3ef4,#172ee9,#1529e2,#162ae3,#182fec,#1e42f5,#2048f7,#1f43f6,#1b37f2,#1426de,#1322d5,#1323d6,#182eea,#1e40f5,#2048f7,#1c3bf3,#1423d7,#121cc2,#121dc4,#1321d2,#1931ef,#1c3cf3,#1c3cf3,#1a34f1,#1424da,#121fcb,#121cc1,#1322d3,#1932ef,#1e42f5,#1f43f6,#1b38f2,#1426de,#121fcb,#121fcb,#1527de,#1c3cf3,#2047f7,#1d3df4,#162ae4,#1321d0,#121cc3,#121cc3,#1424d8,#1a34f1,#1c3cf3,#1b38f2,#1529e2,#1323d7,#1322d3,#1323d7,#172de9,#1b38f2,#1c3cf3,#1933f0,#1424d8,#121fc9,#121dc4,#121fcb,#1423d7,#1527e0,#1529e2,#162ae3,#1423d7,#1220cd,#121ec9,#1321d2,#1424d9,#172de8,#172eea,#182feb,#1323d6,#121dc4,#121ec7,#1424d9,#172ce6,#1932ef,#172ce7,#1322d5,#121ec8,#121cc3,#121ec8,#1423d7,#1424d9,#1323d7,#1423d7,#121ec9,#111bbd,#121cc2,#121dc6,#1323d6,#1527e0,#172de8,#172de8,#1426dd,#1220cd,#1322d3,#1528e0,#1830ee,#172de9,#1322d5,#121dc4,#111bbf,#121cc3,#1322d3,#1424da,#1424d8,#1320ce,#1320ce,#121ec9,#121fcb,#1321d1,#1322d5,#1425dc,#1527de,#1323d7,#1320cd,#1321d0,#1322d4,#1323d6,#1322d5,#1424d8,#1424d8,#121fcb,#111bbe,#121cc1,#1320ce,#1425db,#1425db,#1424d9,#1321d0,#121fcc,#121dc3,#121dc4,#121ec9,#121ec7,#111bbf,#111aba,#111abd,#111bbe,#111bbe,#121cc2,#121ec8,#121dc6,#121cc2,#121dc5,#121dc5,#111abb,#111aba,#121ec9,#1320cd,#121dc5,#121ec8,#121ec7)"></i>
<i style="background:linear-gradient(90deg,#eef34a,#edf44d,#eef44a,#f0f347,#eef349,#def35b,#d3f264,#daf35f,#e8f553,#def35b,#cdf16a,#caf06d,#daf35f,#ecf54f,#f2f243,#f3f140,#edf44d,#d9f25f,#d1f166,#e1f459,#eef44b,#eff348,#f0f346,#eef349,#ecf54e,#e8f553,#e4f456,#e0f359,#d5f263,#cdf16a,#daf35f,#dff35a,#d6f262,#d8f261,#cbf06b,#b6f080,#aaf08c,#a8f08e,#9bf09b,#7cf0c1,#77f0c7,#8df0ab,#9ff097,#94f0a3,#8af0af,#8ef0aa,#8ef0aa,#89f0b0,#77f0c6,#69edda,#6cefd5,#8af0ae,#a6f090,#a4f092,#95f0a1,#83f0b8,#6defd4,#68ecdc,#69ecdc,#6beed6,#74f0ca,#80f0bb,#87f0b3,#81f0bb,#7df0bf,#7af0c3,#6ff0d0,#6bedd8,#6aedd9,#6beed7,#68ebdd,#5ee4ee,#55d3f7,#58dbf6,#67ebde,#89f0b0,#9af09c,#8af0af,#62e7e7,#4ebcf9,#47aafa,#4fc0f9,#5ce2f2,#6aedda,#69ecda,#5be2f3,#4fc1f9,#44a3fa,#44a3fa,#49b0fa,#4fbff9,#51c7f8,#4ebcf9,#49aefa,#4ab1fa,#4bb5fa,#4dbaf9,#4ebdf9,#50c4f8,#4fc1f9,#45a5fa,#3379fa,#2e6efa,#3580fa,#429ffa,#4bb5fa,#4dbaf9,#3c91fa,#285dfa,#2149f8,#2554fa,#3176fa,#3c90fa,#347dfa,#2555fa,#1f43f6,#1f45f6,#2454fa,#2f70fa,#3a8cfa,#347cfa,#2a62fa,#2048f7,#1d3ef4,#1e40f5,#234ffa,#2c68fa,#357ffa,#2f6ffa,#224ef9,#1b38f2,#182fec,#1b37f2,#214af8,#2a63fa,#2961fa,#214bf8,#1a36f1,#1527df,#1426de,#1c3cf3,#2554fa,#2659fa,#214bf8,#1933f0,#1322d2,#1321d1,#172ce7,#1d3ef4,#224cf9,#214af8,#1e41f5,#1a34f1,#1425dc,#1527df,#1830ed,#1c3bf3,#1f44f6,#2048f7,#1e42f5,#172de8,#1321d2,#1220cd,#1528e1,#1c3cf3,#1f45f6,#1d3df4,#162be5,#121fca,#111bc0,#121dc5,#1423d7,#1a35f1,#1c3af3,#1c3bf3,#162be5,#1320cf,#1322d2,#1423d7,#172de9,#1a36f1,#1c3af3,#1a34f1,#1426dd,#1320cf,#121ec7,#1322d4,#182feb,#1e42f5,#2048f7,#1a36f1,#1321d1,#121dc6,#121fca,#1321d2,#1629e3,#1931ee,#1a35f1,#172ce7,#1320ce,#121dc5,#121fcb,#1423d8,#1933f0,#1c3bf3,#1a35f1,#1528e0,#1321cf,#121ec9,#1322d3,#1426de,#1528e1,#1528e0,#1425dc,#1424d8,#121dc4,#121cc2,#121fcb,#1426de,#182feb,#172de9,#1527df,#1321cf,#121fcb,#1322d3,#1426dd,#1830ec,#1932f0,#162be5,#1322d4,#121ec8,#121fca,#1322d4,#1425dc,#1425dc,#1528e0,#1322d4,#121ec7,#121cc1,#121dc5,#1321d1,#1527de,#1528e1,#1426dd,#1321d0,#121fcb,#1320cf,#1424da,#172ee9,#1a34f1,#1629e2,#1321cf,#111bbf,#111abc,#121ec7,#1424da,#1528e1,#1424da,#1322d4,#1320cf,#1220cd,#1321d2,#1323d7,#1424d9,#1323d6,#1322d5,#1321d0,#1320ce,#121ec7,#121fca,#1323d5,#1322d3,#1322d2,#1220cd,#121dc5,#121cc1,#121ec6,#1321d0,#1424da,#1424da,#1322d4,#121fcc,#121ec9,#121cc1,#111bc0,#121fca,#1321d1,#121fcc,#121dc5,#121cc1,#111abc,#121cc2,#1320cd,#1322d2,#1322d3,#121ec8,#121dc4,#121cc2,#121dc5,#121fcb,#121fca,#1321d0,#121fca,#121ec7,#111abb)"></i>
<i style="background:linear-gradient(90deg,#f8d535,#f5ef3c,#f0f246,#f3f140,#f3f140,#eaf551,#ccf16b,#cdf16a,#dbf35e,#d5f263,#c8f06e,#c4f072,#d3f265,#e0f359,#eaf551,#eaf551,#dcf35c,#ccf16b,#c9f06d,#dbf35e,#ebf54f,#ebf550,#e7f453,#e0f359,#dff35b,#def35b,#ddf35c,#daf35f,#ccf16b,#bdf079,#c8f06e,#d0f167,#ccf16b,#cef169,#bef078,#a7f08f,#9df099,#9cf09a,#90f0a8,#74f0cb,#6defd3,#7df0bf,#8df0ab,#88f0b1,#84f0b6,#89f0b1,#85f0b5,#7ef0be,#6ceed6,#64e8e4,#68ecdc,#85f0b5,#9df099,#94f0a3,#85f0b5,#76f0c8,#69ecdb,#66eadf,#66eadf,#67ebdd,#6aedd8,#70f0d0,#7af0c4,#76f0c7,#74f0cb,#70f0d0,#6aedd9,#66eae0,#65eae1,#67eadf,#62e7e6,#58dbf6,#50c3f8,#54cff7,#64e8e4,#83f0b8,#8df0ac,#77f0c7,#58dcf6,#46a8fa,#43a0fa,#4ebef9,#5ae0f5,#63e8e4,#5fe4ed,#52c8f8,#47a9fa,#3e95fa,#419cfa,#46a7fa,#4bb3fa,#4cb6fa,#45a5fa,#3e95fa,#4099fa,#43a1fa,#48adfa,#4ab2fa,#4bb5fa,#45a5fa,#3682fa,#2a63fa,#2a62fa,#347cfa,#409bfa,#44a3fa,#3d93fa,#2b66fa,#2048f7,#1f44f6,#2658fa,#3278fa,#3683fa,#2b66fa,#1e41f5,#1a34f1,#1d3ef4,#2453fa,#2f70fa,#3785fa,#2f6ffa,#2452fa,#1d3df4,#1a36f1,#1c3cf3,#224df9,#2b66fa,#3278fa,#2b65fa,#1f45f6,#1830ed,#162be5,#1a35f1,#2048f7,#2960fa,#285dfa,#2149f8,#1a34f1,#1425dd,#1424d9,#1b37f2,#224ef9,#2556fa,#214bf8,#1a36f1,#1323d6,#1321d0,#1528e1,#1b38f2,#2048f7,#2149f8,#1f44f6,#1b38f2,#1527e0,#1426dd,#162be5,#1a35f1,#1e41f5,#2149f8,#2047f7,#1a34f1,#1323d7,#121ec8,#1323d5,#1a34f1,#1e41f5,#1d3ff4,#1830ee,#1322d3,#121cc3,#121cc1,#1320cd,#182eea,#1b38f2,#1d3df4,#182fec,#1322d5,#1322d3,#1322d3,#1629e2,#1932f0,#1b39f2,#1a36f1,#1629e2,#1322d2,#121dc6,#1321d0,#162be5,#1d3ff4,#2048f7,#1b38f2,#1322d4,#121ec8,#121ec9,#1320ce,#1527df,#182fec,#1a35f1,#172de8,#1321cf,#121dc6,#121fca,#1323d7,#1932f0,#1c3af3,#1a34f1,#1527df,#1320ce,#121ec9,#1322d4,#1527de,#1528e1,#1527df,#1424d9,#1323d5,#121cc3,#121cc3,#1320ce,#1528e0,#182feb,#162be5,#1424da,#121fcc,#121fca,#1323d6,#1529e2,#1931ee,#1830ed,#1527df,#1320ce,#121dc6,#1220cd,#1424d9,#1527de,#1425db,#1425dc,#1321cf,#121dc5,#121cc2,#121ec8,#1322d4,#1527df,#1426de,#1423d8,#121fcb,#121fca,#1322d2,#1527df,#182fec,#1932f0,#1425dd,#121fca,#111abd,#111bbe,#121fcb,#1425dd,#1528e0,#1323d6,#1320cf,#121fcc,#1220cd,#1322d4,#1424d9,#1424d9,#1322d4,#1321d1,#1320cd,#1220cd,#121ec7,#121fcc,#1323d6,#1321d2,#1321cf,#121ec9,#121dc3,#121cc1,#121ec8,#1321d1,#1424d9,#1424d8,#1321d2,#121fca,#121ec8,#121cc1,#111bc0,#121fc9,#1321d0,#121fca,#121dc3,#121cc1,#111abc,#121cc1,#1220cc,#1321d1,#1322d2,#121ec7,#121cc3,#121cc2,#121dc5,#121fca,#121ec8,#1320cf,#121ec9,#121ec7,#111abc)"></i>
<i style="background:linear-gradient(90deg,#fac732,#f9cd33,#f6e83a,#f4f13e,#f3f13f,#f0f347,#e8f553,#e5f455,#e8f553,#dcf35d,#cbf06b,#c7f06f,#c1f075,#baf07c,#c1f075,#cdf169,#ccf16a,#c9f06d,#d0f167,#d2f166,#d4f263,#d5f263,#d4f263,#dbf35e,#d9f260,#d8f260,#d5f263,#d4f263,#d3f265,#cbf06b,#b0f086,#adf089,#b7f07f,#bbf07b,#b8f07e,#a7f08f,#9af09c,#9af09c,#8ef0aa,#74f0ca,#68ecdc,#66eae0,#67ebdf,#67ebde,#6df0d3,#7ef0bf,#85f0b5,#76f0c8,#67ebdf,#65e9e3,#66eae0,#68ebdd,#76f0c8,#8bf0ad,#85f0b5,#6ef0d2,#66eae0,#67ebdf,#69edda,#66eadf,#66eadf,#6aedda,#6beed8,#6aedd9,#65e9e2,#63e8e5,#60e6ea,#5de3f0,#67ebde,#6ceed6,#65e9e2,#5ae0f5,#4fc1f9,#4cb8fa,#5ce2f2,#6ef0d3,#6cefd5,#5ae0f5,#49aefa,#3b8cfa,#429efa,#51c6f8,#5ae0f5,#57d8f6,#4fbff9,#43a1fa,#3783fa,#3988fa,#3c91fa,#419dfa,#46a7fa,#44a3fa,#3f97fa,#3988fa,#3c90fa,#48adfa,#50c3f8,#51c5f8,#48adfa,#3886fa,#2961fa,#234ffa,#295ffa,#3886fa,#46a9fa,#3c90fa,#2c69fa,#2047f7,#1c3af3,#1e42f5,#2556fa,#3277fa,#3072fa,#224ef9,#1b39f2,#182fec,#1b39f2,#224ef9,#2b66fa,#2d6bfa,#2b65fa,#2451fa,#1b39f2,#182eeb,#1d3ff4,#2351fa,#2e6efa,#347cfa,#2c68fa,#1f45f6,#1629e2,#1424d8,#182eeb,#1e42f5,#285dfa,#2c69fa,#224df9,#1831ee,#1321d2,#1320cf,#182fec,#1e42f5,#2351fa,#2555fa,#2047f7,#182fec,#1323d6,#1424d8,#172ce6,#1d3df4,#2047f7,#2047f7,#1d3df4,#1a34f1,#162ae4,#172ce7,#1933f0,#1c3af3,#224ef9,#2452fa,#1d3ef4,#1424d9,#121ec7,#121fca,#182eea,#1e41f5,#1f44f6,#1c3cf3,#1528e0,#1320ce,#121fcb,#1323d6,#172ce7,#1a35f1,#1c3bf3,#1933f0,#1425dc,#1320cf,#1322d3,#1426dd,#182fec,#1c3cf3,#1b38f2,#172ce6,#1321d0,#121dc4,#121fcb,#172de8,#1e41f5,#214af8,#1e42f5,#1629e2,#121dc4,#121dc6,#1322d4,#172ce7,#1b39f2,#1d3ef4,#1831ee,#1323d7,#121fca,#121fca,#1423d7,#1a34f1,#1b37f2,#172de8,#1323d6,#1321d0,#121ec9,#1321d1,#1528e0,#162be5,#172ce7,#1527df,#121fcc,#121ec9,#1322d2,#1425db,#182eea,#182eea,#162ae4,#1320ce,#121cc2,#121ec9,#1322d3,#1528e0,#172de9,#162ae4,#1424d8,#121ec6,#121dc3,#121ec7,#1220cc,#1322d2,#1323d6,#1424d9,#1322d3,#1320cf,#1321d2,#1425db,#1528e0,#1629e3,#1424d9,#121fcb,#121cc2,#121ec6,#1321d0,#1424d9,#162ae4,#172ce6,#1424d8,#1320cf,#121cc2,#121cc3,#1320cd,#1424d9,#1528e1,#1425db,#121fc9,#121ec8,#121ec9,#1323d5,#1527df,#1527df,#1426de,#1323d6,#1321d0,#121ec7,#121dc4,#1321cf,#1424da,#1425dc,#1323d5,#121ec9,#121cc2,#121cc2,#121fca,#121fcb,#1320ce,#121ec8,#121ec7,#111bbd,#111abc,#111bbf,#121fca,#1320ce,#1320cf,#121fcc,#111bc0,#111abd,#1119b8,#1119b8,#111bbe,#1321d0,#1323d6,#1321d0,#121ec7,#111bbe,#121cc2,#121fca,#1321d0,#1320ce,#121ec7,#121dc6,#111abd)"></i>
<i style="background:linear-gradient(90deg,#f9cf34,#f9cd33,#f8dc37,#f5f03c,#f0f245,#e5f455,#c5f071,#b5f081,#bff077,#c1f075,#bcf07a,#bff077,#bbf07b,#b2f084,#b5f081,#c0f076,#bdf079,#baf07c,#c5f071,#c9f06d,#ccf16a,#cdf16a,#ccf16b,#d1f167,#cdf169,#ccf16b,#c9f06d,#c9f06d,#caf06c,#c5f071,#acf08a,#a5f091,#a9f08d,#a5f091,#a1f095,#98f09e,#95f0a1,#9cf09a,#8ef0aa,#6ef0d3,#61e6e9,#5de3f0,#60e5eb,#64e9e3,#6ef0d3,#7df0bf,#7ef0be,#6beed7,#5fe5eb,#60e5eb,#64e8e4,#66eae0,#6ef0d2,#7ef0be,#77f0c7,#69ecdb,#63e8e5,#65eae1,#67ebde,#62e7e7,#61e6e9,#64e9e3,#66eae0,#65e9e1,#60e6ea,#5ee4ed,#5ce3f1,#5ae1f5,#64e9e3,#67ebde,#5ee4ee,#54cff7,#4bb5fa,#4ab2fa,#5be2f3,#6beed7,#66eae1,#53cbf7,#3e95fa,#357ffa,#419dfa,#51c7f8,#58daf6,#52c8f8,#45a6fa,#3887fa,#3174fa,#3681fa,#3a8cfa,#3e94fa,#3f98fa,#3c8ffa,#3681fa,#3174fa,#357ffa,#43a1fa,#4ebcf9,#4dbbf9,#3f98fa,#2f6ffa,#2350fa,#2047f7,#275cfa,#3783fa,#43a0fa,#347dfa,#2658fa,#1d3df4,#1a34f1,#1e40f5,#2453fa,#3072fa,#2d6bfa,#2149f8,#1a34f1,#162be6,#1a35f1,#2149f8,#295ffa,#2b65fa,#2a63fa,#2351fa,#1b38f2,#172ce6,#1b39f2,#214af8,#2c67fa,#337afa,#2e6cfa,#214af8,#172ce7,#1323d5,#1527e0,#1b38f2,#2554fa,#2d69fa,#2555fa,#1b39f2,#1424d9,#121fcc,#1527df,#1b39f2,#214bf8,#2555fa,#224df9,#1b37f2,#1425db,#1323d5,#1426dd,#1b37f2,#1f44f6,#2047f7,#1e40f5,#1b37f2,#162be6,#162ae4,#182feb,#1a36f1,#224cf9,#2554fa,#1e42f5,#1426de,#121ec8,#121ec7,#162be5,#1d3ef4,#1f43f6,#1d3df4,#1629e3,#1321d0,#121fcb,#1322d4,#162be5,#1933f0,#1c3af3,#1932f0,#1425db,#1320ce,#1322d3,#1526de,#182fec,#1c3bf3,#1a36f1,#1629e3,#1220cd,#121dc3,#1220cc,#182fec,#1e42f5,#2048f7,#1d3ef4,#1425dc,#121cc1,#121ec7,#1424d9,#182fec,#1c3af3,#1c3bf3,#162be5,#1321d0,#121fca,#1320cf,#1426dd,#1a36f1,#1a35f1,#1529e2,#1321d0,#1320ce,#121fcb,#1323d5,#162ae3,#162ae4,#1629e2,#1424d9,#121ec8,#121fca,#1423d7,#1528e0,#182fec,#162be6,#1425dc,#121ec8,#121cc1,#1320cd,#1424d9,#162ae3,#172ce6,#1526de,#1321d2,#121dc4,#121dc5,#121fca,#1320cf,#1321d2,#1322d3,#1323d5,#1321d0,#1320ce,#1322d3,#1426dd,#1528e1,#1528e1,#1323d6,#121ec8,#121cc1,#121ec7,#1321d1,#1424d9,#1629e3,#162ae4,#1323d6,#1320cd,#121cc1,#121cc3,#1220cd,#1423d8,#1527df,#1424d9,#121ec8,#121ec8,#121ec8,#1322d4,#1426dd,#1426dd,#1425dd,#1323d6,#1321cf,#121ec6,#121dc3,#1320cd,#1423d8,#1424da,#1322d5,#121fca,#121cc2,#121cc2,#121ec8,#121ec9,#121fcc,#121ec7,#121ec7,#111bbf,#111abd,#111bbe,#121ec7,#121fcb,#1220cc,#121fcb,#121cc1,#111bbd,#1119b8,#1119b8,#111abc,#1320cd,#1322d4,#1321d0,#121ec8,#111bbf,#121cc2,#121ec8,#1320cd,#121fcb,#121dc6,#121ec7,#111bbe)"></i>
<i style="background:linear-gradient(90deg,#f6e83a,#f6e73a,#f7e339,#d8f260,#7bf0c2,#bcf07a,#cdf169,#9ff097,#8ff0a8,#94f0a3,#8af0af,#92f0a4,#9ff097,#95f0a1,#b0f086,#aaf08c,#84f0b6,#78f0c5,#91f0a6,#8df0ab,#5de3ef,#5ae1f5,#71f0ce,#76f0c8,#51c7f8,#54cef7,#6ceed6,#80f0bc,#61e6e9,#5fe5ec,#5ce2f2,#59dff5,#58dbf6,#57d9f6,#59def5,#56d6f6,#4cb7fa,#59def5,#57d7f6,#347cfa,#3c91fa,#53cdf7,#4cb8fa,#3885fa,#45a5fa,#4dbaf9,#3071fa,#3074fa,#45a5fa,#347dfa,#1e40f5,#2555fa,#429efa,#2658fa,#172ee9,#2555fa,#3279fa,#1e42f5,#1830ec,#2657fa,#2d69fa,#1d3df4,#182eea,#285dfa,#2e6dfa,#1a35f1,#1323d5,#224cf9,#2e6cfa,#182fec,#1425db,#224ef9,#224ef9,#1526de,#1425dc,#1d3ef4,#1f44f6,#1424da,#162be6,#234ffa,#1c3bf3,#1321d0,#1629e3,#214bf8,#172ce7,#121cc3,#1527df,#1b37f2,#1423d7,#1322d3,#1931ee,#1a34f1,#121fcb,#1424d9,#1c3cf3,#172ce6,#121cc0,#162ae4,#1a34f1,#1323d7,#121cc3,#172ce6,#162ae3,#1320cd,#1323d5,#172de8,#1527df,#121dc6,#1423d8,#1528e1,#1323d7,#111abd,#1322d4,#162be5,#1320ce,#121dc5,#162ae3,#1322d3,#121dc4,#1320ce,#1323d7,#121fcc,#1119b9,#121ec7,#1322d3,#1320ce,#111aba,#111bc0,#1526de,#111bc0,#121dc5,#121fcc,#1323d6,#1320cd,#121cc3,#1322d5,#1321d1,#1320ce,#111abb,#121fc9,#121ec9,#121cc1,#1119b8,#121dc4,#121ec7,#111abb,#111abb,#121cc3,#121cc2,#111aba,#1119b9,#1320ce,#121cc1)"></i>
<i style="background:linear-gradient(90deg,#e7f454,#ecf54e,#f6e93a,#eef349,#8df0ac,#6cefd5,#a2f094,#89f0b1,#7bf0c1,#8ef0aa,#8df0ac,#8df0ab,#8bf0ad,#8af0af,#b3f083,#a8f08e,#71f0ce,#6df0d3,#97f09f,#88f0b2,#56d5f6,#58dcf6,#73f0cc,#6cefd5,#4dbbf9,#53cdf7,#69ecdb,#74f0cb,#5de3f0,#5ce2f2,#59dff5,#57d7f6,#53cdf7,#56d4f6,#58daf6,#51c7f8,#49aefa,#58dcf6,#52c8f8,#2f70fa,#3c8ffa,#50c3f8,#45a6fa,#347dfa,#419cfa,#49affa,#2c69fa,#2d6bfa,#429dfa,#3278fa,#1c3bf3,#224df9,#3f98fa,#285dfa,#162be5,#214af8,#3176fa,#2048f7,#172ee9,#224cf9,#2c69fa,#1f43f6,#172ce6,#2452fa,#2f6ffa,#1c3bf3,#1321d1,#1f45f6,#2e6efa,#1933f0,#1424d9,#214bf8,#224df9,#1526de,#1425dc,#1d3ef4,#1e42f5,#1423d7,#172de9,#2350fa,#1a36f1,#1320ce,#182eea,#2149f8,#1425dc,#121dc6,#172ce6,#1933f0,#1321d1,#1424d8,#1933f0,#172ee9,#121ec7,#1528e0,#1c3cf3,#1425db,#121cc1,#182feb,#1830ed,#1320cf,#121ec7,#172de9,#1426dd,#121fcb,#1423d8,#172ce7,#1424da,#121dc5,#1424da,#1527df,#1322d3,#111bbd,#1322d4,#1629e2,#1320cd,#121dc4,#1528e1,#1322d2,#121dc3,#121fcc,#1322d4,#121fcc,#1119ba,#121dc4,#1321d0,#1321d0,#111abb,#111abb,#1425db,#121cc1,#121dc5,#121ec8,#1322d4,#1320cf,#121cc2,#1321d1,#1321d0,#1321d0,#1119b9,#121dc6,#121ec8,#121cc2,#1119b8,#121cc2,#121ec7,#111abc,#111aba,#121cc1,#121cc1,#111aba,#1119b8,#121fcc,#121cc1)"></i>
<i style="background:linear-gradient(90deg,#edf44b,#d8f260,#e5f455,#eff348,#d8f260,#59def5,#50c3f8,#64e9e3,#70f0cf,#86f0b4,#89f0b1,#74f0cb,#6cefd5,#77f0c7,#84f0b6,#9af09c,#6ff0d0,#6cefd5,#9bf09b,#8bf0ad,#53ccf7,#62e7e6,#99f09d,#6cefd5,#4ebdf9,#56d4f6,#64e9e3,#65e9e2,#5ce3f1,#5ee4ed,#5ee4ed,#55d2f7,#4099fa,#4fc0f9,#51c6f8,#47aafa,#43a0fa,#54cef7,#50c4f8,#2a62fa,#3b8efa,#57d7f6,#43a0fa,#2e6cfa,#3a8bfa,#43a1fa,#3175fa,#285efa,#3682fa,#3174fa,#1d3ff4,#2046f7,#3785fa,#2d6afa,#182eea,#2046f7,#337bfa,#2149f8,#162be5,#1f44f6,#2658fa,#1e41f5,#1425dc,#2048f7,#2f70fa,#1c3af3,#1321cf,#2046f7,#2a63fa,#1932f0,#1424d8,#1f45f6,#1e42f5,#1426dd,#172ce7,#1c3bf3,#1b39f2,#121fcb,#182fec,#1f45f6,#1425dc,#121cc2,#1b38f2,#2047f7,#1322d4,#121fcb,#1933f0,#1931ee,#1321d2,#172ce7,#1b38f2,#172de9,#1322d3,#1629e3,#1931ef,#121fca,#121dc5,#172de8,#162ae4,#121ec9,#1321d0,#1527df,#1320cd,#121cc1,#1320ce,#162be5,#1527df,#121cc3,#1322d3,#1426dd,#1322d4,#111bbd,#1322d3,#1424da,#1322d4,#121dc3,#1528e1,#1528e1,#121dc6,#121dc5,#1220cd,#121dc6,#1119b8,#121cc3,#121cc2,#1320cf,#111aba,#1119b8,#1321d2,#121dc5,#121dc3,#121ec8,#1323d7,#121ec9,#121fca,#121dc4,#121ec7,#121ec7,#111abb,#121dc4,#1320ce,#121dc4,#111bbd,#121fca,#121ec7,#121cc3,#111bbd,#111bbf,#121fca,#111bbe,#121fcc,#1220cd,#111abc)"></i>
<i style="background:linear-gradient(90deg,#f1f243,#e6f454,#e5f455,#f0f347,#f1f244,#8cf0ad,#2d6afa,#398afa,#5fe4ed,#8cf0ad,#8bf0ae,#68ecdc,#65e9e3,#7ef0be,#8df0ab,#8bf0ae,#65e9e2,#6ff0d1,#a3f093,#7bf0c2,#4ebef9,#65eae1,#97f09f,#65e9e3,#4cb8fa,#56d5f6,#61e6e9,#60e5eb,#59def5,#5ce3f1,#5de3f0,#52c8f8,#3b8dfa,#4ebef9,#4fc0f9,#409afa,#409afa,#52caf8,#4dbaf9,#285dfa,#3988fa,#53cdf7,#409bfa,#2c69fa,#3682fa,#419cfa,#3073fa,#2657fa,#337afa,#3277fa,#1e40f5,#1d3ff4,#337cfa,#3072fa,#1831ee,#1d3ff4,#3175fa,#224cf9,#172ce6,#1e41f5,#2556fa,#1e41f5,#1425db,#2048f7,#2f6ffa,#1a36f1,#1321d0,#214af8,#285dfa,#162be5,#1527df,#2149f8,#1c3bf3,#1323d7,#1932f0,#1c3bf3,#1830ed,#121fca,#1b37f2,#1e41f5,#1321cf,#121ec9,#1d3ef4,#1d3ff4,#121fcc,#1322d3,#1a34f1,#162be5,#1321d0,#182fec,#1a36f1,#1529e2,#1322d4,#162be5,#182feb,#121dc6,#121ec7,#172ce7,#1528e0,#121ec8,#1321cf,#1426dd,#121fcc,#121cc1,#121fcc,#162ae3,#1527e0,#121cc2,#1320cf,#1425db,#1323d6,#111abc,#1320cd,#1424d9,#1323d7,#121cc2,#1425dc,#1528e1,#121ec7,#121cc3,#121ec9,#121dc6,#1119b8,#121cc0,#111bbe,#1320cf,#111abb,#1119b8,#1320cf,#121dc5,#121dc4,#121dc6,#1322d5,#121ec8,#121ec9,#121cc2,#121dc5,#121ec7,#111abb,#121cc2,#1220cc,#121cc3,#111bbd,#121ec9,#121dc5,#121cc2,#111bbd,#111bbe,#121ec9,#111abd,#1220cc,#121fcc,#111aba)"></i>
<i style="background:linear-gradient(90deg,#f3f141,#f4f13e,#edf44b,#edf44c,#daf35f,#a0f096,#3681fa,#224ef9,#44a3fa,#88f0b1,#b4f082,#64e9e3,#62e7e7,#86f0b4,#9df099,#6beed6,#62e7e6,#89f0b1,#a0f096,#73f0cc,#51c5f8,#67ebde,#8cf0ac,#60e5eb,#4ab2fa,#53ccf7,#58dcf6,#59ddf5,#5be2f3,#58daf6,#55d2f7,#49affa,#3f96fa,#52c9f8,#58dbf6,#3e95fa,#3887fa,#44a3fa,#45a6fa,#2659fa,#3885fa,#56d4f6,#3c91fa,#2d6afa,#3680fa,#398afa,#2c67fa,#234ffa,#3785fa,#2e6cfa,#1e42f5,#1e40f5,#357ffa,#2e6dfa,#1933f0,#1f44f6,#337bfa,#2149f8,#162be6,#1e40f5,#2658fa,#1e40f5,#162be5,#214af8,#2d6afa,#1b38f2,#1424d8,#224cf9,#234ffa,#1526de,#1a35f1,#285cfa,#1d3ff4,#1321cf,#1933f0,#1c3af3,#1424da,#1320cf,#1a34f1,#1c3cf3,#1320cf,#1424da,#1d3ef4,#182feb,#111bbf,#1425dc,#1d3df4,#1424d8,#1321d1,#172ce6,#1a34f1,#1425dc,#1424d8,#172ee9,#1830ed,#111abc,#121cc1,#182feb,#1426de,#121cc3,#121fcb,#1526de,#1424da,#121cc2,#121fcc,#172de8,#1425db,#1119b8,#1323d7,#1322d5,#121fcb,#1119b8,#1320cd,#1320cd,#121dc4,#121dc4,#121fca,#1220cd,#1320ce,#111bbf,#1322d3,#1320ce,#121ec7,#121dc5,#121dc6,#121dc4,#1119b8,#1119b8,#121dc4,#121fcb,#121cc1,#121ec9,#1322d3,#121dc6,#121dc5,#121fca,#1220cc,#121cc2,#121cc2,#121ec8,#121fca,#121dc6,#111abb,#121ec9,#111abc,#1119b9,#111bbd,#1119b8,#121cc3,#111aba,#121ec8,#121dc6,#111abb)"></i>
<i style="background:linear-gradient(90deg,#f5f03c,#f8da36,#f1f243,#ecf44e,#ccf16b,#a9f08d,#56d6f6,#2b65fa,#2960fa,#59ddf5,#76f0c8,#58dbf6,#66eae0,#96f0a0,#92f0a5,#61e6e9,#64e8e4,#9af09c,#95f0a1,#66eae0,#52c9f8,#6beed6,#7ef0be,#5ae0f5,#4cb6fa,#53cbf7,#55d1f7,#56d5f6,#59dff5,#56d6f6,#53cdf7,#44a2fa,#3b8ffa,#52caf8,#56d4f6,#3988fa,#3784fa,#429efa,#419dfa,#2657fa,#3681fa,#53ccf7,#3a8cfa,#2c68fa,#347cfa,#3887fa,#2b65fa,#224cf9,#3783fa,#2d6cfa,#1e40f5,#1e40f5,#3580fa,#2c68fa,#1830ee,#2149f8,#337bfa,#1e42f5,#162be5,#1f45f6,#2556fa,#1b38f2,#172de8,#2453fa,#285efa,#172de8,#162be5,#2451fa,#1e40f5,#1424d8,#1e40f5,#2659fa,#1a36f1,#1322d2,#1b38f2,#1a36f1,#1321d2,#1322d3,#1a36f1,#1b37f2,#121fcb,#1526de,#1d3df4,#162be5,#111bbf,#1425dc,#1c3bf3,#1323d6,#1321d0,#162ae3,#1932ef,#1425dc,#1323d6,#162ae4,#182fec,#111bbe,#111bbe,#162be5,#1527de,#121dc5,#121ec6,#1424d8,#1424da,#121dc4,#121ec7,#162ae4,#1425dc,#1119b8,#1322d2,#1321d1,#121fcc,#1119b8,#121ec9,#121fca,#121dc5,#121dc4,#121ec7,#121fca,#1320cd,#111bbf,#1321d1,#1220cd,#121dc6,#121dc5,#121dc5,#121cc1,#1119b8,#1119b8,#121cc3,#121ec9,#111bc0,#121fc9,#1322d2,#121dc4,#121dc5,#121fcb,#121fcb,#111bc0,#121cc2,#121ec8,#121ec8,#121dc4,#111abc,#121ec9,#111aba,#1119b9,#111bbe,#1119b8,#121cc1,#111aba,#121ec8,#121dc5,#111aba)"></i>
<i style="background:linear-gradient(90deg,#d9f25f,#f1f243,#f6e539,#eff347,#ddf35c,#bef078,#76f0c8,#55d1f7,#2e6dfa,#2f70fa,#4cb8fa,#55d2f7,#6ff0d1,#9af09c,#aef088,#61e7e8,#60e6ea,#96f0a0,#88f0b1,#5ee4ed,#60e5eb,#7bf0c2,#68ebdd,#55d3f7,#4fbff9,#5de3f0,#55d3f7,#49affa,#50c3f8,#57d7f6,#50c2f8,#3e94fa,#44a3fa,#54d0f7,#4fc0f9,#347cfa,#3682fa,#4ebdf9,#46a9fa,#285dfa,#3989fa,#43a1fa,#3175fa,#2a62fa,#3072fa,#3b8efa,#2658fa,#2047f7,#347cfa,#2e6efa,#1d3ef4,#2046f7,#3379fa,#234ffa,#1831ee,#214bf8,#3278fa,#1d3ff4,#172ce6,#2046f7,#214bf8,#1629e2,#1a34f1,#2658fa,#1f43f6,#1322d4,#1d3ef4,#275afa,#1b38f2,#121fcc,#1c3cf3,#2047f7,#1830ed,#1322d4,#1c3bf3,#1d3df4,#1425db,#1425dc,#1c3bf3,#1932f0,#121fcc,#1424db,#1e41f5,#172ce6,#121dc5,#1527df,#1a35f1,#1529e1,#121fca,#1424db,#1a36f1,#1424d8,#1320cd,#1424d9,#162be5,#121dc4,#121fcb,#1425db,#1323d5,#121ec8,#121cc2,#1320cf,#1424da,#121fca,#111aba,#1424d9,#1320ce,#121dc6,#121cc1,#121fcc,#1320ce,#1119b9,#111abc,#121ec8,#121fca,#121ec8,#121dc5,#1323d5,#121fca,#121dc4,#1321d1,#1322d5,#121cc1,#121ec7,#121dc4,#1322d3,#1119b8,#111abc,#121cc1,#121fcb,#121cc1,#121dc3,#1323d7,#121ec7,#121dc4,#121cc3,#121ec9,#1119b8,#1119b8,#121fcc,#121cc3,#121dc3,#121dc5,#121dc6,#121cc2,#111abb,#111abb,#111aba,#121dc5,#111bbe,#121ec8,#121ec9,#111bbf)"></i>
<i style="background:linear-gradient(90deg,#bef078,#daf35f,#e7f453,#d5f263,#c6f070,#b1f085,#8bf0ae,#82f0b9,#4ebef9,#2350fa,#2961fa,#45a6fa,#6beed7,#8bf0ae,#8bf0ae,#5de3f1,#69ecda,#9bf09b,#74f0cb,#5ae1f5,#66eadf,#7af0c3,#61e6e9,#54cef7,#50c2f8,#5be2f4,#52caf8,#45a6fa,#4ebef9,#56d6f6,#4ebcf9,#3887fa,#43a1fa,#54d0f7,#4cb6fa,#3074fa,#3784fa,#4cb8fa,#409afa,#285cfa,#3a8bfa,#3f98fa,#2e6efa,#2a62fa,#3073fa,#3888fa,#2350fa,#214af8,#3785fa,#2a63fa,#1b37f2,#2453fa,#337bfa,#1e40f5,#1932f0,#275afa,#2e6dfa,#1a36f1,#1830ed,#214af8,#1f44f6,#1424db,#1c3bf3,#2659fa,#1b37f2,#1322d2,#2046f7,#2454fa,#1830ed,#1320cf,#1d3ef4,#1e42f5,#182eea,#1322d3,#1b39f2,#1c3cf3,#1424db,#1424d9,#1b38f2,#1932f0,#1220cd,#1322d5,#1d3df4,#172de9,#121dc6,#1424d8,#1931ee,#162ae4,#121fca,#1322d4,#1933f0,#1424da,#121fcc,#1321d2,#1529e2,#121ec7,#121fca,#1323d5,#1322d3,#121ec9,#121cc1,#121fcb,#1424d8,#121ec9,#1119b9,#1323d6,#121fcc,#121dc5,#121cc0,#121fca,#121fcb,#1119b8,#111abc,#121ec6,#121ec7,#121ec7,#121dc5,#1322d3,#121ec7,#121dc4,#1321d2,#1321d2,#111bbf,#121ec8,#121dc4,#1320cf,#1119b8,#111bbd,#111bc0,#121ec8,#121cc1,#121dc4,#1322d5,#121dc5,#121dc5,#121cc3,#121ec7,#1119b8,#1119b9,#121fcb,#121cc1,#121cc3,#121dc5,#121dc4,#121cc1,#111abb,#111abb,#1119b9,#121dc4,#111bbe,#121ec7,#121ec8,#111bbf)"></i>
<i style="background:linear-gradient(90deg,#9ef098,#8bf0ae,#87f0b2,#89f0b0,#aef088,#bcf07a,#8df0ab,#91f0a6,#5be2f2,#2960fa,#1d3df4,#2d6bfa,#59dff5,#78f0c5,#6ceed6,#5be2f4,#6ff0d0,#98f09e,#7ff0bd,#59dff5,#6defd4,#77f0c7,#53cdf7,#4bb5fa,#52caf8,#55d1f7,#4cb6fa,#3b8dfa,#4ab1fa,#4fc0f9,#49affa,#3072fa,#3886fa,#52c8f8,#4bb3fa,#2f6ffa,#357ffa,#4dbbf9,#3886fa,#295ffa,#3a8bfa,#419bfa,#2e6cfa,#2d6bfa,#3278fa,#347cfa,#224df9,#275afa,#3e94fa,#2556fa,#1b38f2,#2453fa,#2b64fa,#1831ee,#1c3af3,#2d69fa,#2453fa,#162be6,#1b39f2,#275bfa,#1d3ef4,#1425db,#1d3df4,#275afa,#1932f0,#1321d1,#234ffa,#2454fa,#1629e3,#1322d3,#1933f0,#1e40f5,#1426de,#1323d6,#1a36f1,#1c3cf3,#1424d9,#1321d1,#1a35f1,#1c3bf3,#121dc4,#1321cf,#172de9,#162be6,#121ec8,#121dc6,#1528e1,#1323d6,#1322d2,#1423d7,#1931ef,#1629e2,#121fcb,#1320cf,#1529e2,#1321d2,#1119b8,#121dc4,#1320cf,#121dc4,#111abb,#121cc0,#121dc5,#111bbf,#111bbf,#1322d3,#1321d2,#121fca,#121cc0,#121fca,#121dc5,#111abb,#111bbd,#1220cd,#121cc2,#1119b8,#121ec7,#1320ce,#121cc2,#121cc3,#121ec9,#121fcb,#111bbe,#121cc1,#1320ce,#121ec8,#111aba,#111bc0,#121dc6,#121ec9,#1119b9,#1220cc,#121fcc,#111bbf,#1119b8,#121ec7,#121dc5,#1119b8,#1119b8,#111abc,#111bbd,#111aba,#111abb,#121cc2,#121cc0,#1119b8,#1119b8,#121cc0,#111abc,#121dc5,#111bbe,#121cc1,#111bbf)"></i>
<i style="background:linear-gradient(90deg,#89f0b0,#70f0cf,#6ceed6,#73f0cc,#9ef098,#b1f085,#84f0b7,#8bf0ae,#66eae0,#3e95fa,#2048f7,#224df9,#3c91fa,#54d0f7,#5ae0f5,#5ce2f2,#78f0c5,#88f0b1,#6defd5,#5be1f4,#74f0ca,#6ef0d3,#50c2f8,#4bb3fa,#52c9f8,#53ccf7,#48adfa,#3783fa,#49affa,#4fbff9,#43a1fa,#2d6afa,#3a8afa,#51c5f8,#429ffa,#2e6dfa,#3885fa,#4ab1fa,#3176fa,#2a62fa,#3b8efa,#3b8dfa,#2b65fa,#2e6efa,#337afa,#2f70fa,#2048f7,#2b64fa,#3c91fa,#2046f7,#1c3bf3,#2960fa,#2556fa,#1529e2,#1f43f6,#2d6bfa,#2048f7,#1629e3,#1c3cf3,#2658fa,#1b39f2,#1424d9,#1d3ef4,#2556fa,#1830ed,#1321cf,#214bf8,#2350fa,#162be5,#1321d0,#172de9,#1d3ff4,#1528e1,#1321d2,#1830ed,#1c3cf3,#1425dc,#121fcc,#182eea,#1c3bf3,#121ec7,#121fcb,#1529e2,#162be5,#121fc9,#121cc2,#1425dc,#1323d5,#1321d2,#1322d4,#182feb,#1528e1,#121fca,#1220cd,#1527df,#1320cf,#1119b8,#121dc4,#121fcc,#121cc1,#111abb,#111bc0,#121cc2,#111abc,#111bc0,#1322d2,#1320cd,#121ec8,#121cc2,#121ec8,#121cc0,#111abb,#111bbf,#121fca,#111bbe,#1119b9,#121ec7,#121fcb,#111bbf,#121dc4,#121ec8,#121ec7,#111bbe,#121cc2,#121fcc,#121dc6,#111aba,#111bbf,#121dc4,#121ec7,#1119b9,#121fcc,#121fcb,#111bbf,#1119b8,#121dc6,#121dc4,#1119b8,#1119b8,#111abb,#111abc,#111aba,#111aba,#121cc1,#111bc0,#1119b8,#1119b8,#111bc0,#111abc,#121dc5,#111bbd,#121cc0,#111bbf)"></i>
<i style="background:linear-gradient(90deg,#6ef0d2,#85f0b5,#6aedda,#66eae0,#a5f091,#94f0a2,#74f0cb,#77f0c7,#60e6ea,#51c6f8,#3277fa,#214af8,#2351fa,#2f70fa,#49b0fa,#59dff5,#77f0c7,#7ef0be,#65e9e1,#5ce3f1,#6aedd8,#69ecdb,#54cef7,#4fc0f9,#4ebef9,#4cb8fa,#4cb6fa,#48adfa,#4db9f9,#47aafa,#3a8bfa,#3073fa,#429ffa,#52c9f8,#3d93fa,#2d6afa,#3785fa,#3e95fa,#2a62fa,#285dfa,#3989fa,#357ffa,#2556fa,#285dfa,#3277fa,#2a62fa,#1f45f6,#2e6cfa,#398afa,#1d3df4,#1a34f1,#285efa,#234ffa,#1528e1,#2048f7,#275bfa,#1f45f6,#1a34f1,#1f45f6,#275bfa,#2046f7,#1426de,#1c3cf3,#234ffa,#172eea,#1321d0,#1a36f1,#1f45f6,#172ce6,#121dc6,#182feb,#1b38f2,#162ae4,#1322d4,#1830ec,#1b38f2,#1423d7,#121ec9,#1831ee,#1932f0,#1322d2,#111bbf,#1426dd,#1932f0,#121fca,#121dc3,#1424da,#1424d9,#121fca,#121fcc,#1425dc,#1322d3,#121fcb,#1321d0,#1426dd,#121dc5,#111abb,#1320cf,#1423d7,#111bbe,#1119b8,#121cc2,#121dc6,#111bc0,#111abc,#1320cf,#121ec7,#121dc4,#121dc6,#121cc2,#111bbf,#1119b8,#121cc2,#121dc4,#1119b9,#121cc3,#121fc9,#111bbf,#111abc,#111bbd,#121ec9,#121ec9,#121dc4,#121dc6,#111bc0,#121cc1,#1119b8,#121ec9,#121ec7,#121cc3,#121ec7,#111abc,#1119b8,#121cc1,#1119ba,#121cc2,#121cc3,#1119b9,#1119b8,#1119b8,#111bbe,#1119b8,#121dc4,#121cc3,#111aba,#1119b9,#1119b8,#121dc4,#121ec7,#111bbf,#121ec7,#121dc6,#111abb)"></i>
<i style="background:linear-gradient(90deg,#69ecdb,#84f0b6,#73f0cb,#71f0ce,#b7f07f,#94f0a2,#6ceed6,#6aedd8,#5ce2f2,#57d7f6,#49affa,#2c67fa,#1f45f6,#1f45f6,#3277fa,#50c2f8,#65e9e2,#67ebde,#60e5eb,#5ee4ee,#69edda,#64e8e4,#51c5f8,#4ebcf9,#4ebcf9,#4bb3fa,#46a8fa,#44a2fa,#4dbbf9,#44a4fa,#3279fa,#2f6ffa,#45a5fa,#4ebef9,#357efa,#2e6efa,#3785fa,#3683fa,#275bfa,#2960fa,#3683fa,#3072fa,#2453fa,#285efa,#3073fa,#2556fa,#1f45f6,#2f70fa,#337bfa,#1b37f2,#1b37f2,#285cfa,#2149f8,#1528e0,#2046f7,#2556fa,#1f43f6,#1933f0,#1e40f5,#2556fa,#2047f7,#1425db,#1a35f1,#224cf9,#1931ee,#1320cf,#172de9,#1e41f5,#172eea,#121dc5,#1629e3,#1a35f1,#162be4,#1322d3,#172ce7,#1a36f1,#1323d5,#121ec7,#182eea,#182feb,#1321cf,#111bbf,#1425db,#172eea,#121ec7,#121dc4,#1424d8,#1322d3,#121ec8,#1320cd,#1424da,#1320cd,#121fca,#1322d3,#1424d9,#111bbf,#111abd,#1321d0,#1321d2,#111abb,#1119b9,#121cc1,#121cc2,#111bbe,#111bbd,#121fcc,#121cc3,#121dc4,#121ec7,#111bbf,#111abc,#1119b8,#121cc2,#121cc1,#1119b8,#121cc3,#121ec8,#111bbd,#111abb,#111abc,#121ec7,#121ec8,#121dc3,#121dc5,#111bbe,#121cc1,#1119b8,#121ec7,#121dc6,#121cc3,#121ec7,#111abb,#1119b8,#121cc1,#1119b9,#121cc1,#121cc2,#1119b9,#1119b8,#1119b8,#111bbe,#1119b8,#121dc3,#121cc2,#111aba,#1119b9,#1119b8,#121dc3,#121ec6,#111bbf,#121dc6,#121dc5,#111abb)"></i>
<i style="background:linear-gradient(90deg,#68ebdd,#8ef0aa,#7df0bf,#82f0ba,#adf089,#87f0b3,#6aedd9,#65eae1,#5ce2f2,#5ae1f5,#57d9f6,#46a8fa,#285efa,#1f43f6,#214bf8,#3989fa,#50c4f8,#53cdf7,#5fe5ed,#5fe5eb,#6ff0d0,#5ee4ee,#4cb6fa,#4ebcf9,#4dbbf9,#4cb7fa,#3d92fa,#3e96fa,#4fc1f9,#4ebdf9,#2d6afa,#2c67fa,#45a5fa,#48adfa,#2a64fa,#2d6afa,#3580fa,#3279fa,#2a64fa,#2f71fa,#3886fa,#2b66fa,#2452fa,#3073fa,#347dfa,#2452fa,#2046f7,#2c67fa,#2960fa,#172ee9,#1d3ff4,#2c68fa,#1f45f6,#172de8,#1d3ef4,#2452fa,#1d3ef4,#172eea,#1a35f1,#224ef9,#2046f7,#1425db,#1830ec,#1e41f5,#182fec,#121ec9,#1426de,#1a36f1,#172ce6,#111bbe,#1323d5,#1932ef,#1424d9,#1320cd,#1323d6,#1a35f1,#1321d1,#121cc2,#1528e1,#1528e1,#121ec7,#121fcb,#162ae4,#1629e2,#121fcc,#1322d3,#1424d9,#1322d3,#121cc2,#121fca,#1323d5,#121cc1,#121dc4,#1321d2,#1321d0,#1119b8,#121cc3,#1322d4,#121fcb,#111abb,#121dc6,#121ec8,#121ec7,#121ec8,#111aba,#121ec8,#121fca,#1321cf,#121dc5,#121dc5,#111bbf,#1119b8,#111bbf,#121cc1,#111abd,#111bbf,#111bbe,#1119b8,#111bbd,#111aba,#111abd,#111abd,#121cc1,#111bc0,#1119b9,#111abd,#111bbe,#111bbd,#121cc0,#111abc,#111bbd,#121cc2,#111bbf,#121cc1,#121cc1,#121cc0,#121cc2,#121dc4,#121dc4,#1119b8,#111bbe,#111bbf,#121cc2,#121cc0,#111bc0,#121cc2,#111abb,#121cc0,#121ec7,#121fcb,#121dc5,#111abc,#1119b8)"></i>
<i style="background:linear-gradient(90deg,#63e7e6,#7ff0bd,#6ef0d2,#6ef0d2,#88f0b2,#68ebdd,#5ae1f5,#5ae1f5,#56d6f6,#58dbf6,#5ae0f5,#50c4f8,#347dfa,#2149f8,#1d3df4,#2657fa,#3784fa,#429ffa,#56d6f6,#5be2f3,#69ecda,#58dcf6,#46a9fa,#4cb8fa,#4dbaf9,#47aafa,#3580fa,#3d93fa,#50c3f8,#48adfa,#285dfa,#2d69fa,#44a4fa,#3f97fa,#285dfa,#2e6cfa,#3277fa,#2e6dfa,#2961fa,#2e6ffa,#337bfa,#285ffa,#234ffa,#2f70fa,#3176fa,#224df9,#1f43f6,#2a62fa,#285cfa,#172de8,#1c3bf3,#295ffa,#1f45f6,#172de9,#1b38f2,#214bf8,#1d3ef4,#172de9,#182eea,#2149f8,#1f45f6,#1424d9,#162be5,#1c3cf3,#172de9,#121ec7,#1425db,#1932f0,#1528e0,#111bbd,#1323d5,#182eea,#1322d2,#1220cd,#1423d7,#1831ee,#121fca,#121dc4,#1529e2,#1424d8,#121cc3,#1321d0,#1529e2,#1424d8,#121fca,#1323d6,#1322d5,#1220cc,#121cc3,#121fcb,#1321d1,#111bbd,#121dc6,#1321d1,#121fcb,#1119b8,#121dc4,#1322d2,#121ec6,#111abb,#121dc5,#121dc5,#121dc5,#121ec8,#1119b9,#121dc6,#121ec9,#1320cf,#121cc3,#121dc3,#111bbe,#1119b8,#111bbe,#111bc0,#111abd,#111bbe,#111abc,#1119b8,#111abd,#1119b8,#111abb,#111abd,#121cc1,#111bbe,#1119b8,#111bbd,#111bbd,#111abc,#111bbf,#111abc,#111bbd,#121cc2,#111bbe,#121cc1,#121cc1,#111bbf,#121cc1,#121dc4,#121dc3,#1119b8,#111bbe,#111bbf,#121cc1,#111bc0,#111bbf,#121cc2,#111abb,#111bc0,#121dc6,#121fcb,#121dc5,#111abc,#1119b8)"></i>
<i style="background:linear-gradient(90deg,#6defd3,#6aedd9,#6aedda,#64e9e3,#5ee4ed,#58dbf6,#58dbf6,#53cbf7,#5ae1f5,#5fe5ed,#59def5,#4fc0f9,#3a8bfa,#2556fa,#1f44f6,#1e41f5,#2149f8,#3073fa,#50c2f8,#57d9f6,#5ce2f2,#50c3f8,#44a3fa,#4fc1f9,#53cdf7,#429efa,#2d6bfa,#337bfa,#49affa,#3887fa,#285dfa,#3176fa,#3681fa,#337bfa,#2350fa,#2c69fa,#3278fa,#2961fa,#2556fa,#3074fa,#3176fa,#285efa,#2350fa,#3072fa,#337bfa,#2149f8,#1d3ff4,#2453fa,#224df9,#1a35f1,#1a35f1,#285efa,#1e42f5,#182fec,#1a34f1,#2046f7,#1b37f2,#1425dc,#1830ed,#2149f8,#1c3af3,#1323d6,#1424da,#1e41f5,#1527df,#121dc5,#1629e2,#1a36f1,#1322d2,#111abb,#1426dd,#162ae4,#121ec9,#1320ce,#1425db,#1322d3,#121fcb,#1424d9,#1527df,#1320ce,#1119b8,#1528e1,#162be6,#121ec9,#111bc0,#1320cf,#1322d2,#121fca,#1320ce,#1321d0,#121fcb,#1119b8,#121fcc,#1322d4,#121dc5,#1119b8,#121dc4,#121fca,#121cc2,#1119b9,#111abd,#121dc4,#121cc0,#121fca,#121fca,#121ec9,#121cc0,#111abc,#121dc5,#111bbe,#111abb,#111bbe,#111aba,#121dc4,#111bbf,#111bbf,#111bbf,#1119b8,#1119b8,#1119b9,#111bbf,#121cc1,#1119b8,#111abb,#1119b8,#111bbd,#111abc,#111bbf,#121cc0,#1119b8,#1119b8,#111abc,#111aba,#111bbe,#111bbe,#111abb,#111bbf,#111bc0,#111abb,#1119b8,#111bbf,#121cc1,#111aba,#1119b8,#111abc,#111abd,#121cc2,#111abc,#111abd,#111bc0,#121fca,#121dc4,#121cc1)"></i>
<i style="background:linear-gradient(90deg,#64e8e4,#61e7e8,#5fe5ec,#57d9f6,#51c7f8,#4fc1f9,#54d0f7,#53cdf7,#5be2f2,#5de3ef,#55d2f7,#4cb8fa,#3f96fa,#2e6dfa,#2350fa,#1d3df4,#1a36f1,#234ffa,#3d92fa,#4ebcf9,#52c8f8,#45a7fa,#3e94fa,#4fc0f9,#51c5f8,#3887fa,#2a62fa,#357ffa,#46a8fa,#2f71fa,#2556fa,#337afa,#3176fa,#2e6cfa,#224ef9,#2c67fa,#2e6efa,#2659fa,#2453fa,#2e6efa,#2e6efa,#2658fa,#224cf9,#2e6cfa,#3074fa,#1f45f6,#1c3cf3,#224df9,#2149f8,#1933f0,#1932f0,#2556fa,#1d3ef4,#172eea,#1831ee,#1e41f5,#1931ee,#1423d8,#182fec,#2046f7,#1932f0,#1321d2,#1426de,#1c3cf3,#1322d3,#121dc5,#172ce7,#1830ec,#121ec8,#111bbe,#1526de,#1425db,#121dc4,#1321d1,#1424d9,#121fca,#121ec9,#1425dc,#1424da,#121ec7,#1119b9,#1629e2,#1528e0,#121dc5,#121cc1,#1320ce,#1320ce,#121ec8,#1320ce,#1320cf,#121ec8,#1119b8,#121fcb,#1321d2,#121dc4,#1119b8,#121cc2,#121ec8,#121cc1,#1119b9,#111abb,#121cc3,#111bc0,#121fca,#121ec8,#121ec8,#121cc0,#111abb,#121cc2,#111bbd,#111abc,#111bbd,#1119b8,#121dc4,#111bbf,#111bbe,#111bbe,#1119b8,#1119b8,#1119b8,#111bbe,#121cc0,#1119b8,#111aba,#1119b8,#111abd,#111abc,#111bbf,#111bc0,#1119b8,#1119b8,#111abc,#111aba,#111bbe,#111bbe,#111aba,#111bbe,#111bbf,#111abb,#1119b8,#111bbf,#121cc1,#111aba,#1119b8,#111abb,#111abd,#121cc2,#111abc,#111abc,#111bc0,#121fca,#121dc4,#121cc1)"></i>
<i style="background:linear-gradient(90deg,#5de3f0,#59dff5,#58dcf6,#53ccf7,#4cb6fa,#4fbff9,#54cff7,#58dbf6,#57d7f6,#51c7f8,#43a1fa,#45a7fa,#3b8efa,#347dfa,#2453fa,#1e41f5,#1830ec,#1b37f2,#275bfa,#357ffa,#398afa,#3886fa,#3e94fa,#4dbaf9,#4099fa,#2e6efa,#2961fa,#3279fa,#3b8ffa,#275cfa,#224ef9,#2c69fa,#3174fa,#285cfa,#275afa,#2c68fa,#2e6efa,#2658fa,#2047f7,#285dfa,#285efa,#224cf9,#2149f8,#2658fa,#2555fa,#1b38f2,#1b38f2,#2048f7,#1f44f6,#1529e2,#182feb,#224ef9,#1b39f2,#1424da,#172ce7,#1c3af3,#1931ef,#1425dc,#1831ee,#1c3af3,#1a34f1,#1321d0,#182feb,#1d3df4,#1424d8,#1320cf,#1528e0,#1529e2,#121ec9,#121fcb,#1528e0,#1321d2,#121cc2,#1320ce,#1321d1,#121fca,#121dc4,#1321cf,#1321d1,#121dc5,#111abc,#1321d2,#1322d4,#111bbe,#1320cd,#121ec8,#1220cc,#121ec7,#121fcb,#121fca,#121dc5,#121dc3,#121dc6,#121dc3,#111bbd,#1119b8,#121dc5,#121dc4,#121dc3,#1119b8,#121cc3,#121ec7,#121cc2,#111bbf,#121cc2,#121dc4,#111abb,#1119b8,#121cc0,#121dc6,#121dc6,#111bbe,#121cc2,#121ec7,#111bc0,#1119b8,#111abd,#111bbe,#111bbd,#111aba,#121cc2,#1119b8,#1119b8,#1119b8,#1119b8,#1119b8,#111abb,#121ec7,#111bbd,#1119b8,#111abb,#1119b8,#121cc0,#121cc2,#111aba,#111bbe,#111abd,#1119b8,#111bbd,#121cc1,#121ec7,#111bbf,#1119b8,#111abb,#111bc0,#111bbd,#1119b9,#121dc4,#1119b9,#111abb,#1119b9,#111bbf,#121dc4)"></i>
<i style="background:linear-gradient(90deg,#55d3f7,#54cff7,#54d0f7,#51c6f8,#4cb8fa,#52caf8,#59ddf5,#59dff5,#53cdf7,#49affa,#3784fa,#3d93fa,#3b8dfa,#3b8dfa,#2a64fa,#214af8,#1931ef,#182fec,#1f45f6,#2658fa,#2961fa,#2c68fa,#3886fa,#49b0fa,#357ffa,#285dfa,#2961fa,#3379fa,#337afa,#224ef9,#224ef9,#2c68fa,#2c68fa,#2453fa,#2658fa,#2a62fa,#2a64fa,#2351fa,#1f44f6,#2658fa,#2557fa,#1f45f6,#2046f7,#2554fa,#224df9,#1932f0,#1b38f2,#2046f7,#1c3cf3,#1424da,#1831ee,#214af8,#1830ed,#1323d6,#172eea,#1a35f1,#1529e2,#1424d9,#1a34f1,#1933f0,#162ae3,#1322d3,#1931ee,#1a34f1,#1321d0,#1323d5,#1526de,#1323d6,#121ec6,#1320ce,#1425dc,#121fcb,#121cc1,#1320cd,#121fcc,#121dc6,#121dc4,#1320ce,#1320cd,#121dc3,#111abc,#1320cf,#1321d2,#111bbd,#121fcc,#121dc6,#121fcb,#121ec7,#121ec9,#121ec8,#121dc4,#121cc3,#121dc4,#121cc1,#111abd,#1119b8,#121cc3,#121cc2,#121cc3,#1119b8,#121cc1,#121dc6,#121cc2,#111bbe,#121cc0,#121cc3,#111abb,#1119b8,#111bbf,#121dc5,#121dc6,#111bbe,#121cc1,#121dc6,#111bbf,#1119b8,#111abc,#111bbd,#111bbd,#111aba,#121cc1,#1119b8,#1119b8,#1119b8,#1119b8,#1119b8,#111abb,#121ec7,#111abd,#1119b8,#111abb,#1119b8,#111bc0,#121cc2,#111aba,#111bbe,#111abc,#1119b8,#111bbd,#121cc1,#121ec7,#111bbf,#1119b8,#111abb,#111bc0,#111bbd,#1119b9,#121dc4,#1119b9,#111abb,#1119b9,#111bbf,#121dc4)"></i>
<i style="background:linear-gradient(90deg,#43a2fa,#4bb4fa,#4fc0f9,#56d5f6,#57d9f6,#4fc0f9,#52caf8,#51c5f8,#48adfa,#3a8cfa,#3682fa,#3886fa,#4099fa,#3b8dfa,#2b66fa,#2350fa,#1a36f1,#182fec,#1830ee,#1c3af3,#1e41f5,#224ef9,#357efa,#3784fa,#2c68fa,#2658fa,#2a63fa,#3887fa,#337bfa,#234ffa,#275afa,#2f6ffa,#2f70fa,#2454fa,#2557fa,#2b64fa,#2556fa,#214bf8,#2047f7,#234ffa,#2350fa,#1d3ef4,#1f43f6,#2657fa,#2046f7,#172de9,#1933f0,#2149f8,#1a35f1,#1426dd,#1d3ff4,#2046f7,#172ce7,#1528e1,#1a36f1,#1a36f1,#1424da,#1424d8,#1932f0,#1931ef,#1425dc,#1426dd,#172ce7,#1425dc,#111bbe,#1323d6,#1529e2,#1321d1,#121ec7,#1322d5,#1322d3,#121ec8,#121cc1,#1321d1,#1321d1,#1320cf,#121dc4,#1220cd,#1320cf,#121dc4,#121ec8,#121fcb,#121ec7,#111abc,#121dc6,#121fcc,#121ec9,#121ec8,#1119b8,#121ec7,#121dc5,#111bbf,#121dc6,#121ec8,#111bc0,#1119b8,#111bbd,#121dc5,#121ec8,#111bbf,#121ec8,#121cc0,#111bbd,#111bbf,#121cc2,#111bbf,#111aba,#1119b8,#121dc5,#111abb,#121dc3,#111abc,#111aba,#121cc1,#1119b8,#121cc1,#111bbe,#111abd,#111bbf,#111bbf,#111bbd,#1119b8,#1119b9,#1119b8,#111abb,#1119b8,#111bbe,#121dc5,#121cc2,#1119b8,#1119b8,#111bbe,#111bbd,#121cc3,#111abd,#1119ba,#121cc0,#121cc1,#111bc0,#111bbd,#121ec7,#121fca,#121ec9,#1321cf,#121dc5,#121cc3,#121cc0,#121dc4,#111aba,#1119b8,#1119b8,#111aba,#121fcb)"></i>
<i style="background:linear-gradient(90deg,#45a5fa,#49b0fa,#4cb8fa,#53cdf7,#55d3f7,#4cb8fa,#4db9f9,#47aafa,#3a8afa,#3072fa,#3279fa,#3a8bfa,#429efa,#3989fa,#2961fa,#2452fa,#1d3df4,#1b37f2,#182feb,#172de8,#1931ef,#1e41f5,#2d6afa,#2c69fa,#2452fa,#2350fa,#2b64fa,#3279fa,#2b65fa,#214af8,#275bfa,#2c67fa,#2961fa,#224ef9,#2554fa,#285cfa,#224ef9,#2047f7,#1f45f6,#214bf8,#2149f8,#1b38f2,#1e42f5,#2452fa,#1c3cf3,#1629e3,#1a36f1,#1e42f5,#1629e2,#1426de,#1e41f5,#1d3df4,#1425dc,#162ae4,#1a35f1,#172de9,#1322d3,#1425db,#182fec,#162ae4,#1424d9,#1528e0,#1529e1,#1322d3,#111bbe,#1323d6,#1425db,#1320cd,#121ec6,#1322d2,#1321cf,#121dc6,#111bbf,#1320ce,#1320cf,#1320ce,#121cc3,#121fca,#1320cd,#121dc4,#121ec7,#121ec8,#121dc5,#111abc,#121dc5,#121fca,#121ec8,#121ec8,#1119b8,#121dc5,#121dc4,#111bbf,#121dc5,#121ec7,#111bbf,#1119b8,#111abd,#121dc4,#121ec7,#111bbe,#121ec8,#111bbf,#111abc,#111bbf,#121cc2,#111bbe,#1119b9,#1119b8,#121dc5,#111aba,#121cc3,#111abc,#111aba,#121cc0,#1119b8,#121cc1,#111bbd,#111abc,#111bbf,#111bbf,#111abc,#1119b8,#1119b9,#1119b8,#111abb,#1119b8,#111bbe,#121dc4,#121cc1,#1119b8,#1119b8,#111bbd,#111bbd,#121cc3,#111abd,#1119b9,#111bc0,#121cc1,#111bc0,#111bbd,#121ec7,#121fca,#121ec9,#1320cf,#121dc5,#121cc3,#121cc0,#121dc4,#111aba,#1119b8,#1119b8,#111aba,#121fcb)"></i>
<i style="background:linear-gradient(90deg,#53cdf7,#4dbaf9,#429efa,#44a3fa,#419dfa,#419cfa,#46a8fa,#3784fa,#337afa,#357efa,#3887fa,#47a9fa,#398afa,#3072fa,#285ffa,#234ffa,#234ffa,#2047f7,#1b38f2,#1426de,#1629e2,#1a34f1,#224df9,#2350fa,#1e42f5,#1f44f6,#275afa,#2b65fa,#214bf8,#214af8,#214bf8,#2658fa,#224ef9,#1f45f6,#224ef9,#234ffa,#2046f7,#1c3cf3,#1f45f6,#1f43f6,#1c3af3,#1830ed,#1d3df4,#214bf8,#1b37f2,#1830ee,#1d3ef4,#1a35f1,#1322d2,#1322d3,#1b37f2,#1a34f1,#1424d9,#162be6,#1a34f1,#1529e2,#1322d4,#1321d2,#162be5,#1425dc,#1322d4,#1322d3,#1322d5,#121dc5,#111aba,#1322d5,#1425db,#121dc5,#1119b8,#121ec7,#1320ce,#1320cd,#111bbe,#121dc5,#121cc0,#121cc2,#1119b9,#121fca,#121dc6,#121fca,#111bbf,#121cc2,#111bbe,#121dc5,#111bbd,#1321d0,#121dc6,#111bc0,#111abb,#111bbe,#111bbe,#111abb,#111bbf,#121cc2,#111bbf,#1119b8,#1119b8,#121dc3,#121fca,#121cc1,#111bbf,#121cc1,#111bbf,#111abd,#121cc2,#121cc2,#121ec7,#1119b9,#111abc,#1119b8,#111bbf,#121cc3,#121cc1,#1119b8,#111aba,#1119b8,#1119b8,#121cc2,#1320cd,#111bc0,#111abb,#111abc,#121dc4,#111bbf,#1119b8,#1119b8,#1119b9,#111bbf,#111bbf,#111bbe,#1119b8,#111abb,#1119b8,#121cc3,#121fca,#111bbd,#111bbf,#1119b8,#111aba,#121cc1,#121dc4,#121dc4,#111bbf,#121cc1,#121dc4,#121dc5,#121cc2,#1119b8,#1119b9,#1119b8,#121dc5,#121cc1,#121cc0)"></i>
<i style="background:linear-gradient(90deg,#51c6f8,#4bb3fa,#3e95fa,#3f97fa,#3b8dfa,#3988fa,#3c90fa,#3073fa,#3073fa,#3784fa,#3d92fa,#47aafa,#337bfa,#2a62fa,#2555fa,#2351fa,#275bfa,#234ffa,#1c3cf3,#1426dd,#1527df,#172de8,#1c3cf3,#1c3cf3,#1b37f2,#1e41f5,#2451fa,#2453fa,#1e41f5,#2149f8,#2149f8,#224df9,#2046f7,#1f43f6,#214bf8,#2149f8,#1e41f5,#1b39f2,#1f43f6,#1d3ef4,#1933f0,#182eea,#1d3df4,#1f43f6,#182eea,#1932f0,#1d3df4,#162ae4,#121fcc,#1323d6,#1932f0,#172ce7,#1323d6,#162be4,#182feb,#1425dc,#1322d2,#1321cf,#1527e0,#1424d8,#1322d2,#1320cf,#1321d0,#121cc3,#1119b9,#1321d0,#1423d7,#121dc4,#1119b8,#121dc3,#121fcc,#1220cc,#111abd,#121cc3,#111bbe,#121cc2,#1119b8,#121ec8,#121dc4,#121fca,#111bbf,#121cc1,#111abd,#121dc5,#111bbd,#1320cf,#121dc5,#111bbf,#111aba,#111bbd,#111abd,#111aba,#111bc0,#121cc1,#111bbd,#1119b8,#1119b8,#121cc2,#121ec9,#121cc1,#111bbf,#121cc0,#111bbe,#111abd,#121cc2,#121cc1,#121dc6,#1119b9,#111abc,#1119b8,#111bbf,#121cc3,#121cc0,#1119b8,#111aba,#1119b8,#1119b8,#121cc2,#1320cd,#111bc0,#111abb,#111abc,#121dc4,#111bbf,#1119b8,#1119b8,#1119b9,#111bbf,#111bbf,#111bbe,#1119b8,#111abb,#1119b8,#121cc3,#121ec9,#111bbd,#111bbf,#1119b8,#111aba,#121cc1,#121dc4,#121dc4,#111bbf,#121cc1,#121dc4,#121dc5,#121cc2,#1119b8,#1119b9,#1119b8,#121dc5,#121cc1,#121cc0)"></i>
<i style="background:linear-gradient(90deg,#4dbbf9,#4bb3fa,#3f97fa,#3f97fa,#3b8dfa,#337bfa,#3b8dfa,#337bfa,#3887fa,#357ffa,#3e94fa,#46a7fa,#3683fa,#275afa,#2658fa,#2657fa,#275afa,#2555fa,#1e42f5,#172de8,#1426dd,#182eeb,#1629e2,#1932f0,#1a36f1,#1f43f6,#2350fa,#224ef9,#1e41f5,#2047f7,#214bf8,#1f43f6,#1d3df4,#1c3cf3,#1f43f6,#1e41f5,#1c3af3,#1c3bf3,#2046f7,#1d3df4,#172de9,#182feb,#1e42f5,#1c3cf3,#182fec,#172ee9,#1b38f2,#1528e0,#1323d6,#1425db,#1528e1,#1323d6,#1322d2,#1425dc,#1424da,#1321d1,#121ec8,#1321cf,#1321d2,#121fcb,#121cc3,#121ec8,#1323d5,#121cc0,#121cc3,#121ec7,#1320cf,#111bbd,#111bbd,#121fcc,#121ec8,#121dc5,#121ec7,#121cc3,#1320ce,#111bbf,#111bbe,#111abd,#111bbe,#1119b9,#111bbe,#111abb,#111abd,#111abb,#111abc,#121fcb,#121dc5,#111abc,#1119b8,#111abc,#121cc3,#121cc0,#121ec7,#121ec7,#121cc2,#1119b8,#111bbd,#121cc3,#121cc2,#121dc3,#111abc,#121cc2,#111aba,#121dc5,#121fcc,#121dc6,#111bbf,#111abd,#111bc0,#111bc0,#121ec8,#1119b8,#121cc3,#111abb,#111bbf,#111bbe,#1119b9,#111abc,#111aba,#1119b8,#111bbe,#121dc5,#111abc,#111abc,#1119b8,#1119b8,#111abc,#111bbf,#111bc0,#111abc,#111bbd,#121dc6,#121ec7,#121cc1,#111bbe,#1119b8,#1119b8,#1119b8,#121cc2,#121cc2,#121cc2,#111aba,#121cc0,#111bbe,#1119b8,#121dc4,#121dc4,#121dc5,#1119b8,#1119b8,#111bbf,#121cc1,#1119b8)"></i>
<i style="background:linear-gradient(90deg,#3f96fa,#3d92fa,#3682fa,#3988fa,#3681fa,#3073fa,#3887fa,#337bfa,#3a8afa,#357ffa,#3989fa,#3b8efa,#2e6efa,#2351fa,#275afa,#285cfa,#275afa,#2452fa,#1e42f5,#1931ee,#162be5,#172eea,#1323d7,#162ae3,#182fec,#1c3cf3,#1f43f6,#1e42f5,#1c3cf3,#1f45f6,#1f45f6,#1c3cf3,#1b38f2,#1c3af3,#1d3ff4,#1c3cf3,#1a36f1,#1b38f2,#1f43f6,#1b38f2,#1629e2,#172eea,#1d3ef4,#1a35f1,#172de8,#172de8,#1932f0,#1424d8,#1322d4,#1423d7,#1424da,#1321d2,#1321d0,#1423d8,#1323d6,#1320cf,#121dc5,#121fca,#1320ce,#121fca,#121cc2,#121dc4,#1321d1,#111bbf,#121cc2,#121dc4,#121fcc,#111abc,#111abc,#121fca,#121dc5,#121dc3,#121ec7,#121cc2,#121fcc,#111bbd,#111bbe,#111abc,#111abc,#1119b8,#111bbe,#111abb,#111abb,#111aba,#111abc,#121fca,#121cc3,#111abb,#1119b8,#111abb,#121cc1,#121cc0,#121ec7,#121dc6,#121cc1,#1119b8,#111bbd,#121cc2,#121cc1,#121dc4,#111abc,#121cc1,#111aba,#121dc5,#121fcb,#121dc5,#111bbf,#111abd,#111bbf,#111bbf,#121ec8,#1119b8,#121cc3,#111abb,#111bbf,#111bbe,#1119b9,#111abc,#111aba,#1119b8,#111bbe,#121dc5,#111abc,#111abc,#1119b8,#1119b8,#111abc,#111bbf,#111bc0,#111abc,#111abd,#121dc5,#121ec7,#121cc1,#111bbe,#1119b8,#1119b8,#1119b8,#121cc2,#121cc2,#121cc2,#111aba,#121cc0,#111bbe,#1119b8,#121dc4,#121dc4,#121dc5,#1119b8,#1119b8,#111bbf,#121cc1,#1119b8)"></i>
<i style="background:linear-gradient(90deg,#2e6cfa,#2e6ffa,#2f71fa,#347dfa,#357ffa,#3176fa,#3073fa,#3279fa,#3989fa,#3278fa,#2d6afa,#2c69fa,#2658fa,#234ffa,#2b67fa,#2a64fa,#214af8,#2047f7,#1f43f6,#1c3cf3,#1933f0,#1b38f2,#1425dc,#1527e0,#172ce7,#1a35f1,#1a36f1,#1933f0,#1c3cf3,#1f43f6,#1d3ff4,#1a36f1,#1c3cf3,#1c3cf3,#1e41f5,#1a34f1,#1a36f1,#1e41f5,#1c3cf3,#1932f0,#162ae4,#1a35f1,#1d3ff4,#1426dd,#1323d6,#162be5,#1932ef,#1423d8,#1424d8,#1423d8,#1321d2,#1321d0,#1423d8,#1322d4,#1424d9,#1320cd,#121fca,#1321d2,#1424d8,#121cc0,#121dc3,#121cc2,#121ec7,#121dc5,#1119b8,#121ec8,#1321d0,#121cc1,#111abc,#121ec8,#121dc3,#111abb,#121dc4,#121ec8,#121dc4,#1119b8,#111abc,#111abc,#121ec8,#111abd,#121cc2,#121dc6,#121cc0,#121cc2,#121cc2,#1220cd,#121fca,#111bbf,#111bc0,#111abc,#111abb,#111abc,#111bbe,#1119b8,#111bbe,#111abc,#1119b8,#111bbf,#111bbe,#121cc0,#121cc2,#111abc,#121cc2,#121cc0,#121ec8,#121cc1,#121dc5,#121cc1,#111bbe,#121cc3,#111bbf,#121dc4,#1119b8,#1119b8,#1119b9,#111abd,#1119b8,#111abc,#1119b8,#111abc,#121ec8,#111bbd,#1119b8,#1119b8,#1119b8,#1119b8,#1119b8,#1119b8,#111bbe,#121cc0,#1119ba,#121cc1,#121cc2,#1119b8,#111bbd,#1119b8,#1119b8,#1119b8,#1119b8,#111aba,#1119b8,#1119b8,#111abb,#111bbf,#1119b8,#1119b9,#111abb,#121fcc,#111bc0,#111bbf,#111bbf,#1119b8,#1119b8)"></i>
<i style="background:linear-gradient(90deg,#2c68fa,#2c69fa,#2d6cfa,#3177fa,#3278fa,#2f71fa,#2e6efa,#3073fa,#357efa,#2e6dfa,#285dfa,#285efa,#2554fa,#2351fa,#2c68fa,#285efa,#1f43f6,#1e42f5,#1f44f6,#1e42f5,#1c3bf3,#1d3df4,#1425dc,#1426de,#1529e2,#172ce7,#162be6,#172ce7,#1b38f2,#1c3cf3,#1b37f2,#1830ed,#1b38f2,#1b39f2,#1c3cf3,#182fec,#1931ef,#1d3ef4,#1b37f2,#172de8,#1527e0,#1932f0,#1c3af3,#1423d7,#1322d4,#1528e1,#172de9,#1322d4,#1323d6,#1322d3,#1320cd,#1320cd,#1323d5,#1321d0,#1323d6,#121fcb,#121ec9,#1320cf,#1323d5,#111bbf,#121cc3,#121cc0,#121dc4,#121cc3,#1119b8,#121ec8,#1320cd,#111bbf,#111abc,#121ec8,#121cc1,#111aba,#121dc4,#121ec7,#121cc1,#1119b8,#111abd,#111abc,#121dc5,#111abc,#121cc3,#121dc5,#111bbf,#121cc2,#121cc2,#121fcc,#121ec9,#111bbf,#111bbf,#111abb,#111aba,#111abd,#111bbe,#1119b8,#111bbe,#111abc,#1119b8,#111bbf,#111bbe,#121cc0,#121cc2,#111abc,#121cc2,#111bc0,#121ec8,#121cc1,#121dc5,#121cc1,#111bbe,#121cc3,#111bbf,#121dc4,#1119b8,#1119b8,#1119b9,#111abd,#1119b8,#111abc,#1119b8,#111abc,#121ec8,#111bbd,#1119b8,#1119b8,#1119b8,#1119b8,#1119b8,#1119b8,#111bbe,#121cc0,#1119ba,#121cc1,#121cc2,#1119b8,#111bbd,#1119b8,#1119b8,#1119b8,#1119b8,#111aba,#1119b8,#1119b8,#111abb,#111bbf,#1119b8,#1119b9,#111abb,#121fcc,#111bc0,#111bbf,#111bbf,#1119b8,#1119b8)"></i>
<i style="background:linear-gradient(90deg,#2d6afa,#2c68fa,#2f6ffa,#3073fa,#337bfa,#3277fa,#3279fa,#2f70fa,#2c69fa,#2556fa,#275bfa,#2350fa,#234ffa,#2452fa,#2555fa,#2149f8,#1e42f5,#1d3ff4,#1f43f6,#2047f7,#1b39f2,#1931ef,#1b37f2,#162be5,#1424d9,#1424d8,#1322d2,#1424d9,#1629e2,#1830ed,#182feb,#172de8,#1830ec,#1830ed,#1a35f1,#182feb,#1a34f1,#1c3bf3,#1b38f2,#162ae3,#1425dc,#182eeb,#162be5,#1323d6,#1321d1,#1322d2,#1424d8,#121dc6,#1321d0,#121dc6,#121fcc,#1321d0,#121ec8,#1220cd,#1320ce,#1322d4,#1320ce,#1323d7,#1321cf,#1320cd,#121dc4,#121ec8,#121cc2,#121dc5,#121cc2,#121ec9,#1220cd,#1119b8,#1119b8,#121ec8,#111bbf,#111aba,#111abc,#111bbf,#121cc1,#1119b8,#1119b8,#121dc6,#121cc0,#111abd,#121fcb,#121dc6,#111bbe,#121cc1,#121cc1,#121cc1,#111bc0,#111bbe,#1119b8,#111bbe,#1119b9,#1119b8,#111abc,#111abc,#111bbe,#1119b8,#111abc,#121cc2,#111aba,#111bbe,#1119b9,#1119b8,#111bbf,#111abc,#1119b8,#111aba,#121cc1,#121dc4,#111bc0,#121cc1,#1119b8,#121cc3,#111abb,#1119b8,#1119b9,#121cc2,#121ec8,#111abc,#121dc4,#111abd,#111bbf,#121cc2,#111bbe,#111abc,#1119b8,#1119b8,#1119b8,#1119b8,#111abc,#111bbf,#1119b9,#121cc0,#121dc6,#1119b9,#1119b8,#1119b8,#1119b9,#1119b8,#1119b8,#1119b8,#121cc3,#1119b8,#111abb,#121cc2,#1119ba,#1119b8,#121cc3,#121dc5,#111aba,#111abc,#1119b8,#1119b8,#1119b8)"></i>
<i style="background:linear-gradient(90deg,#2f71fa,#2e6efa,#3174fa,#3175fa,#3379fa,#3073fa,#3073fa,#2c69fa,#2961fa,#2350fa,#2557fa,#234ffa,#234ffa,#234ffa,#224ef9,#1f43f6,#1d3ef4,#1d3ef4,#2046f7,#214bf8,#1c3bf3,#182fec,#1a35f1,#172ce7,#1424d8,#1322d3,#121fcb,#1322d3,#1425db,#1629e2,#1528e1,#1528e1,#172ce7,#172ce7,#1830ed,#162be5,#1830ed,#1b38f2,#1933f0,#1426dd,#1424da,#172ce7,#1527e0,#1322d2,#1321d0,#1321cf,#1322d3,#121cc3,#1320ce,#121dc4,#121ec8,#1320ce,#121ec7,#121fcb,#121fcc,#1321d2,#1320ce,#1323d6,#121fcc,#121fcb,#121dc5,#121ec8,#111bbf,#121dc3,#121dc3,#121ec8,#121fca,#1119b8,#1119b8,#121ec7,#111abd,#1119ba,#111abc,#111bbd,#111bc0,#1119b8,#1119b8,#121dc5,#111bbf,#111bbd,#121fca,#121dc6,#111bbe,#121cc1,#121cc1,#121cc0,#111bc0,#111bbe,#1119b8,#111bbe,#1119b9,#1119b8,#111abb,#111abc,#111bbe,#1119b8,#111abc,#121cc2,#111aba,#111bbe,#1119b9,#1119b8,#111bbf,#111abc,#1119b8,#111aba,#121cc1,#121dc3,#111bbf,#121cc1,#1119b8,#121cc3,#111abb,#1119b8,#1119b9,#121cc2,#121ec8,#111abc,#121dc4,#111abd,#111bbf,#121cc1,#111bbe,#111abc,#1119b8,#1119b8,#1119b8,#1119b8,#111abc,#111bbf,#1119b9,#121cc0,#121dc6,#1119b9,#1119b8,#1119b8,#1119b8,#1119b8,#1119b8,#1119b8,#121cc3,#1119b8,#111abb,#121cc2,#1119b9,#1119b8,#121cc3,#121dc5,#111aba,#111abc,#1119b8,#1119b8,#1119b8)"></i>
<i style="background:linear-gradient(90deg,#3074fa,#3783fa,#3a8afa,#347cfa,#3278fa,#2e6efa,#275cfa,#275bfa,#275bfa,#2554fa,#2555fa,#224df9,#2048f7,#234ffa,#2046f7,#1f43f6,#2046f7,#1d3ef4,#1f45f6,#224ef9,#1d3df4,#1931ee,#162ae4,#172ee9,#121fcc,#1320ce,#1320ce,#1323d7,#1323d7,#1424da,#1425dc,#1527de,#162ae4,#172de8,#162be5,#1425dc,#1423d8,#172ce7,#162be5,#1321d0,#1424da,#1527df,#1320ce,#121fcb,#1220cd,#1321d0,#121fca,#121dc6,#121fc9,#121dc5,#111bbf,#121ec9,#1220cd,#121fcb,#121dc4,#121cc2,#121fca,#1320cd,#121fca,#121dc6,#121ec9,#1320cd,#121ec9,#121cc3,#121cc1,#121cc2,#1119b8,#1119b8,#1119b8,#1119b8,#111abc,#111bbf,#1119b8,#1119b8,#111aba,#111aba,#111bbf,#121ec7,#121cc3,#111bc0,#121cc3,#121dc5,#121cc2,#111bc0,#121dc6,#111bbe,#121dc4,#111bbf,#1119b8,#111abb,#1119b8,#1119b8,#1119b8,#1119b8,#121cc2,#111bbe,#121ec7,#1119b8,#111bbe,#121ec8,#1119b8,#1119b9,#121cc1,#111aba,#1119b8,#111abc,#111abb,#111bbd,#111bbe,#121cc2,#111aba,#111bbe,#121dc6,#111bbe,#1119b8,#1119b8,#111bc0,#1119b9,#111abb,#111abc,#111abc,#1119b8,#1119b8,#1119b8,#111bbd,#1119b8,#111aba,#1119b8,#111abb,#121cc3,#1119b8,#111abd,#111bbe,#1119b8,#1119b8,#1119b8,#1119b8,#111bbe,#111bc0,#121dc5,#111abb,#111bbf,#1119b8,#111bbd,#111bbd,#111aba,#121cc0,#111abc,#1119b8,#121cc3,#111abc,#1119b8,#1119b8)"></i>
<i style="background:linear-gradient(90deg,#2c69fa,#3174fa,#3278fa,#2e6efa,#2e6dfa,#2a64fa,#2453fa,#2453fa,#2555fa,#2350fa,#2351fa,#214bf8,#1f45f6,#214af8,#1e42f5,#1e40f5,#1f45f6,#1d3ff4,#2047f7,#224df9,#1b38f2,#182eea,#162be5,#182fec,#1320ce,#1320ce,#1220cd,#1322d4,#1322d3,#1322d3,#1323d6,#1424d9,#1527e0,#1629e2,#1527df,#1423d7,#1323d5,#162ae3,#1526de,#1220cd,#1424da,#1425dc,#121ec8,#121ec8,#1220cd,#1320cd,#121dc6,#121dc4,#121ec9,#121cc3,#111abc,#121ec8,#1220cd,#121ec9,#121cc1,#121cc1,#121fcb,#121fcc,#121ec7,#121dc6,#121fca,#121fcb,#121ec7,#121cc3,#121cc1,#121cc1,#1119b8,#1119b8,#1119b8,#1119b8,#111abc,#111bbf,#1119b8,#1119b8,#111aba,#111aba,#111bbe,#121ec6,#121cc3,#111bc0,#121cc2,#121dc5,#121cc2,#111bbf,#121dc5,#111bbd,#121dc4,#111bbf,#1119b8,#111abb,#1119b8,#1119b8,#1119b8,#1119b8,#121cc2,#111bbe,#121ec7,#1119b8,#111bbe,#121ec8,#1119b8,#1119b8,#121cc1,#111aba,#1119b8,#111abc,#111abb,#111bbd,#111bbe,#121cc2,#111aba,#111bbe,#121dc5,#111bbe,#1119b8,#1119b8,#111bc0,#1119b9,#111abb,#111abc,#111abc,#1119b8,#1119b8,#1119b8,#111bbd,#1119b8,#111aba,#1119b8,#111abb,#121cc3,#1119b8,#111abd,#111bbe,#1119b8,#1119b8,#1119b8,#1119b8,#111bbe,#111bc0,#121dc5,#111abb,#111bbf,#1119b8,#111bbd,#111bbd,#111aba,#121cc0,#111abc,#1119b8,#121cc3,#111abc,#1119b8,#1119b8)"></i>
<i style="background:linear-gradient(90deg,#285dfa,#2b66fa,#2e6dfa,#285efa,#2555fa,#2149f8,#224df9,#224cf9,#214bf8,#214af8,#2047f7,#224cf9,#214af8,#1f45f6,#1f43f6,#1c3af3,#1e41f5,#1d3ff4,#1f43f6,#2047f7,#1c3af3,#1933f0,#172de8,#1426de,#1220cd,#1220cd,#121fcb,#1323d5,#1322d2,#1424da,#1321d1,#1321d1,#1321d1,#1322d2,#1322d4,#1321d0,#1425dc,#1425dc,#1322d3,#121fca,#1424d9,#1323d5,#1220cd,#1323d5,#1322d3,#1320cd,#111abd,#121dc4,#1220cc,#121dc6,#121cc2,#121fcb,#121fcb,#111aba,#1119b8,#111abc,#1320cd,#121ec7,#121dc4,#111bc0,#121dc6,#121fcb,#111bbf,#121ec8,#111bbe,#1119b8,#1119b8,#111aba,#1119b8,#111abd,#111bbe,#121fcb,#111aba,#111abd,#121cc1,#121fcc,#111abc,#1119b9,#121dc4,#1119b8,#121ec6,#111bbf,#111abc,#111bbd,#121dc6,#1119b9,#111abc,#1119b8,#1119b8,#1119b8,#1119b8,#111bbd,#111bc0,#121cc1,#121fcb,#121fcc,#121fc9,#111bbe,#121cc2,#121cc2,#111bbe,#121ec8,#111bbf,#111aba,#121ec8,#1119b9,#1119b8,#111bbd,#111bbd,#121dc3,#111abb,#111bbd,#1119b8,#1119b8,#1119b8,#1119b8,#1119b8,#111abc,#121cc0,#121ec7,#121cc2,#1119b8,#1119b8,#1119b8,#111bbe,#1119b9,#1119b8,#1119b8,#1119ba,#121ec9,#111aba,#121cc2,#111abd,#1119b8,#1119b8,#111bbf,#111bbd,#111bc0,#111bc0,#111bbe,#111bc0,#111bbf,#1119b8,#1119b8,#1119b9,#121cc1,#121cc3,#111abc,#1119b9,#111bbe,#1119b8,#1119b8,#1119b9)"></i>
<i style="background:linear-gradient(90deg,#2351fa,#2657fa,#285dfa,#2452fa,#224df9,#1f44f6,#214af8,#2149f8,#2149f8,#2048f7,#1f45f6,#2149f8,#2046f7,#1e41f5,#1e40f5,#1b38f2,#1e41f5,#1e40f5,#1e41f5,#1e41f5,#1a35f1,#1932ef,#172de8,#1527df,#1320ce,#1320ce,#121fcc,#1323d5,#1321d1,#1323d7,#1220cd,#1320ce,#1220cc,#1320cd,#1321d0,#1320ce,#1424d9,#1323d7,#1320ce,#121fca,#1424d8,#1321d0,#121ec9,#1323d5,#1322d3,#121fca,#111aba,#121dc4,#121fcc,#121dc3,#121cc0,#121fcb,#121fca,#1119b8,#1119b8,#111abd,#1220cc,#121dc5,#121dc4,#111bc0,#121dc5,#121ec9,#111bbf,#121ec8,#111bbd,#1119b8,#1119b8,#111aba,#1119b8,#111abc,#111bbe,#121fcb,#1119b9,#111abc,#121cc1,#121fcc,#111abc,#1119b9,#121dc4,#1119b8,#121dc6,#111bbf,#111abc,#111bbd,#121dc6,#1119b9,#111abc,#1119b8,#1119b8,#1119b8,#1119b8,#111bbd,#111bbf,#121cc0,#121fcb,#121fcc,#121ec9,#111bbd,#121cc2,#121cc2,#111bbe,#121ec8,#111bbf,#111abb,#121ec8,#1119b9,#1119b8,#111bbd,#111bbd,#121dc3,#111abb,#111bbd,#1119b8,#1119b8,#1119b8,#1119b8,#1119b8,#111abc,#121cc0,#121ec7,#121cc2,#1119b8,#1119b8,#1119b8,#111bbe,#1119b9,#1119b8,#1119b8,#1119ba,#121ec9,#111aba,#121cc2,#111abd,#1119b8,#1119b8,#111bbf,#111bbd,#111bc0,#111bc0,#111bbe,#111bc0,#111bbf,#1119b8,#1119b8,#1119b9,#121cc1,#121cc3,#111abc,#1119b9,#111bbe,#1119b8,#1119b8,#1119b9)"></i>
<i style="background:linear-gradient(90deg,#2351fa,#2047f7,#1f43f6,#214bf8,#224ef9,#1f43f6,#1f45f6,#2048f7,#224df9,#2048f7,#1d3ff4,#1d3df4,#1e40f5,#1f43f6,#1d3ef4,#1c3cf3,#1f45f6,#1f43f6,#1f45f6,#1931ef,#1b38f2,#1932f0,#1b37f2,#182eea,#1320cf,#1322d4,#1321d2,#1321d2,#1220cc,#1322d3,#121fcb,#1220cc,#121ec7,#1321d2,#1424d9,#1424d8,#1322d5,#1323d7,#1321d0,#1424d8,#1424d9,#1323d6,#1320cf,#1321d0,#1320cd,#1320ce,#121fcb,#1321d2,#121dc4,#111abd,#1119b9,#1119b8,#1119b9,#111abb,#1119b9,#121cc1,#121cc1,#121dc4,#121cc0,#1119b8,#1119b8,#111bbf,#121dc4,#111bbd,#111abb,#111abc,#1119b8,#111abc,#1119b9,#1119b8,#121ec9,#121dc6,#111bc0,#1119b8,#111bbe,#111bbf,#111abc,#121dc4,#111bbe,#1119b8,#111bbe,#111bbe,#121cc3,#111abd,#121ec7,#121cc2,#1119b9,#111abb,#1119b8,#111bbd,#111bbf,#1119b8,#1119b8,#121dc6,#121dc6,#121dc4,#111bc0,#111bbf,#1119b8,#111bbe,#111abb,#111abc,#1119b8,#1119b8,#1119b8,#1119b9,#111abb,#1119b8,#111aba,#1119b9,#111aba,#111abb,#1119b8,#1119b9,#1119b9,#111bbf,#121cc1,#121dc4,#121cc3,#121dc5,#121cc2,#121fcb,#111aba,#1119b9,#121cc2,#1119b8,#111bbf,#121dc6,#121ec7,#121dc6,#111bc0,#111abb,#111bbf,#111bbd,#111aba,#111abc,#111aba,#111abd,#1119b8,#1119b8,#1119b8,#1119b8,#1119b8,#1119b8,#121dc5,#111bbe,#121fca,#121ec7,#121ec8,#121ec7,#111bbf,#121cc2,#111abc)"></i>
<i style="background:linear-gradient(90deg,#2350fa,#2047f7,#1f44f6,#224df9,#2350fa,#1f45f6,#2046f7,#2048f7,#214bf8,#1f45f6,#1c3cf3,#1b39f2,#1d3df4,#1e40f5,#1c3cf3,#1c3cf3,#2047f7,#1e42f5,#1d3ff4,#172de8,#1a36f1,#1831ee,#1a36f1,#172eea,#1320cf,#1322d5,#1322d3,#1322d2,#1220cc,#1322d2,#121fca,#121fca,#121dc4,#1320ce,#1323d6,#1323d6,#1321d1,#1322d2,#1320cf,#1423d8,#1323d6,#1321d2,#1320ce,#1321cf,#121fcb,#121fcc,#121fca,#1321d1,#121cc3,#111abb,#1119b8,#1119b8,#1119b8,#111aba,#1119b9,#121cc0,#121cc0,#121dc4,#111bc0,#1119b8,#1119b8,#111bbf,#121dc4,#111bbd,#111aba,#111abc,#1119b8,#111abb,#1119b9,#1119b8,#121ec9,#121dc6,#111bc0,#1119b8,#111bbe,#111bbf,#111abb,#121dc4,#111bbe,#1119b8,#111bbe,#111bbe,#121cc2,#111abd,#121ec7,#121cc2,#1119b9,#111abb,#1119b8,#111abd,#111bbf,#1119b8,#1119b8,#121dc5,#121dc6,#121dc4,#111bc0,#111bbf,#1119b8,#111bbe,#111abb,#111abc,#1119b8,#1119b8,#1119b8,#1119b9,#111abb,#1119b8,#111aba,#1119b9,#111aba,#111abb,#1119b8,#1119b9,#1119b9,#111bbf,#121cc1,#121dc4,#121cc3,#121dc5,#121cc2,#121fcb,#111aba,#1119b9,#121cc2,#1119b8,#111bbf,#121dc6,#121ec7,#121dc6,#111bc0,#111abb,#111bbf,#111bbd,#111aba,#111abc,#111aba,#111abd,#1119b8,#1119b8,#1119b8,#1119b8,#1119b8,#1119b8,#121dc5,#111bbe,#121fca,#121ec7,#121ec8,#121ec7,#111bbf,#121cc2,#111abc)"></i>
<i style="background:linear-gradient(90deg,#224df9,#1e42f5,#1d3df4,#2149f8,#1f45f6,#2149f8,#234ffa,#1f43f6,#214bf8,#1e41f5,#1a36f1,#1a35f1,#1b38f2,#1c3af3,#1b38f2,#1d3df4,#1f44f6,#1c3af3,#182eea,#172ce7,#172de8,#182eea,#1528e0,#1527e0,#1426dd,#1424da,#1528e1,#1320ce,#121fca,#121fcc,#121ec9,#121ec7,#121ec6,#121dc6,#121cc2,#121dc5,#121cc2,#121fca,#121dc4,#121ec7,#1320ce,#1425db,#121fcc,#121ec9,#1323d7,#1220cd,#111abb,#121fcc,#121cc2,#121dc6,#121ec7,#121ec8,#121cc2,#111bbd,#121cc1,#111bbf,#121cc2,#121cc1,#111bbf,#1119b9,#111abb,#1119b9,#121ec7,#111aba,#111aba,#121cc2,#1119b8,#1119b8,#1119b8,#121cc1,#121dc4,#111abc,#111aba,#1119b8,#1119b8,#111abd,#1119b8,#111abc,#111aba,#121ec7,#111bbf,#121ec8,#1119b8,#1119b8,#121cc1,#121cc0,#111bbe,#111bbf,#121ec9,#121cc2,#1119b8,#1119b9,#1119b8,#111abb,#1119b8,#111aba,#111aba,#1119b9,#1119b8,#121dc6,#1119b8,#1119b8,#1119b8,#1119b8,#1119b8,#1119b8,#111bbe,#1119b8,#111bbf,#1220cc,#121cc3,#121dc4,#111abb,#121cc1,#111abb,#121cc2,#121cc2,#121cc1,#121cc1,#111abc,#121cc0,#111bbf,#121dc4,#121dc4,#111bbf,#1119b8,#121dc4,#111abd,#111abc,#121cc2,#121cc1,#111bbf,#111abb,#111bbf,#111bbd,#111bbf,#1119b8,#111aba,#1119b8,#111aba,#1119b9,#1119b8,#111bbf,#111aba,#121cc1,#121dc6,#121cc1,#121dc6,#111bbf,#1320cf,#121dc5,#121fcb,#111abb)"></i>
<i style="background:linear-gradient(90deg,#214bf8,#1e41f5,#1c3cf3,#2048f7,#1f43f6,#1f45f6,#214bf8,#1d3ef4,#1f45f6,#1c3bf3,#1931ee,#1931ef,#1b37f2,#1c3af3,#1b39f2,#1d3ff4,#1e42f5,#1a34f1,#162ae4,#162ae4,#172ce6,#172de8,#1526de,#1426de,#1425dc,#1425db,#1529e1,#1320cf,#121fca,#121fcc,#121ec9,#121dc6,#121dc5,#121dc5,#121cc0,#121cc3,#111bbf,#121ec8,#121dc4,#121dc5,#121fcc,#1424da,#121fcb,#121ec8,#1323d5,#121fcc,#111abb,#121fcb,#121cc1,#121dc6,#121ec7,#121ec7,#121cc1,#111abd,#121cc0,#111bbf,#121cc2,#121cc0,#111bbf,#1119b9,#111abb,#1119b9,#121ec7,#111aba,#1119ba,#121cc1,#1119b8,#1119b8,#1119b8,#121cc0,#121dc4,#111abc,#1119b9,#1119b8,#1119b8,#111abd,#1119b8,#111abc,#111aba,#121ec7,#111bbf,#121ec8,#1119b8,#1119b8,#121cc0,#121cc0,#111bbe,#111bbf,#121ec9,#121cc2,#1119b8,#1119b9,#1119b8,#111abb,#1119b8,#111aba,#111aba,#1119b9,#1119b8,#121dc6,#1119b8,#1119b8,#1119b8,#1119b8,#1119b8,#1119b8,#111bbe,#1119b8,#111bbf,#1220cc,#121cc3,#121dc4,#111abb,#121cc1,#111abb,#121cc2,#121cc2,#121cc1,#121cc1,#111abc,#121cc0,#111bbf,#121dc4,#121dc4,#111bbf,#1119b8,#121dc4,#111abc,#111abc,#121cc2,#121cc1,#111bbf,#111abb,#111bbf,#111bbd,#111bbf,#1119b8,#111aba,#1119b8,#111aba,#1119b9,#1119b8,#111bbf,#111aba,#121cc1,#121dc6,#121cc1,#121dc6,#111bbf,#1320cf,#121dc5,#121fcb,#111abb)"></i>
<i style="background:linear-gradient(90deg,#1e41f5,#1e41f5,#1e41f5,#214af8,#1d3ff4,#1f45f6,#1f45f6,#1b39f2,#1a35f1,#1a35f1,#1a34f1,#1a36f1,#1b39f2,#1b39f2,#1b38f2,#1c3af3,#1a34f1,#1b39f2,#1830ed,#162be5,#172eea,#1527df,#172eea,#1423d8,#1527df,#1424d8,#1425dc,#1423d8,#1321d2,#1323d6,#1425db,#1321d1,#121dc5,#111abc,#111bbd,#121ec6,#111bbe,#111aba,#121cc2,#121cc1,#121cc3,#1321cf,#121dc3,#121cc3,#121cc3,#121cc2,#121cc3,#1320cf,#121dc4,#1119b8,#121cc2,#121dc6,#121cc2,#121cc1,#111bbf,#111bbd,#111bbd,#1119b8,#111aba,#111bbe,#121dc6,#121dc3,#111abc,#111abc,#1119b8,#111aba,#111abb,#1119b8,#121cc2,#111abb,#111aba,#111abb,#1119b8,#111abd,#1119b8,#111aba,#1119b9,#111aba,#111abb,#111bc0,#121dc5,#121dc5,#111bbe,#121cc2,#1119b9,#111bbf,#1119b8,#111abc,#111abc,#121cc2,#111bbf,#111abb,#121cc2,#111bbd,#1119b8,#1119b9,#121cc1,#121cc2,#111abb,#121ec8,#121dc5,#121cc0,#1119b8,#1119b8,#1119b8,#1119b9,#1119b8,#1119b8,#111bbd,#121dc5,#111aba,#111bbd,#121cc2,#121cc1,#1119b9,#111abd,#121ec8,#111abc,#1119b8,#121cc2,#121dc5,#121cc3,#111abb,#111abc,#111bbd,#111abb,#111bc0,#121cc2,#121cc3,#121dc4,#121cc0,#1119b8,#1119b8,#121cc2,#1119b9,#111aba,#111abb,#111abc,#1119b8,#1119b8,#1119b8,#1119b8,#1119b8,#1119b8,#121cc1,#121dc4,#121cc0,#121cc2,#1119b8,#121cc2,#121cc1,#121cc2,#121dc3)"></i>
<i style="background:linear-gradient(90deg,#1d3df4,#1d3df4,#1c3cf3,#1f44f6,#1b39f2,#1d3ef4,#1d3ef4,#1a34f1,#1931ef,#1933f0,#1933f0,#1b37f2,#1c3af3,#1c3af3,#1b39f2,#1b37f2,#172ee9,#1a35f1,#182feb,#162ae4,#172ce7,#1425dc,#172ce7,#1323d6,#1527df,#1423d8,#1425db,#1323d7,#1322d2,#1423d7,#1425dc,#1321d1,#121dc4,#111abc,#111abc,#121dc5,#111abc,#1119b9,#121cc1,#111bbf,#121cc1,#1320ce,#121cc3,#121cc2,#121cc2,#121cc1,#121cc2,#1320ce,#121dc4,#1119b8,#121cc1,#121dc6,#121cc2,#121cc0,#111bbf,#111bbd,#111bbd,#1119b8,#111aba,#111bbe,#121dc6,#121cc3,#111abc,#111abc,#1119b8,#111aba,#111abb,#1119b8,#121cc1,#111aba,#111aba,#111abb,#1119b8,#111abc,#1119b8,#111aba,#1119b9,#111aba,#111abb,#111bc0,#121dc5,#121dc5,#111bbe,#121cc2,#1119b9,#111bbf,#1119b8,#111abc,#111abc,#121cc2,#111bbf,#111abb,#121cc1,#111bbd,#1119b8,#1119b9,#121cc1,#121cc2,#111abb,#121ec8,#121dc5,#121cc0,#1119b8,#1119b8,#1119b8,#1119b9,#1119b8,#1119b8,#111bbd,#121dc5,#111aba,#111bbd,#121cc2,#121cc1,#1119b9,#111abd,#121ec8,#111abb,#1119b8,#121cc2,#121dc5,#121cc3,#111abb,#111abc,#111bbd,#111abb,#111bc0,#121cc2,#121cc3,#121dc4,#121cc0,#1119b8,#1119b8,#121cc2,#1119b9,#111aba,#111abb,#111abc,#1119b8,#1119b8,#1119b8,#1119b8,#1119b8,#1119b8,#121cc1,#121dc4,#121cc0,#121cc2,#1119b8,#121cc2,#121cc1,#121cc2,#121dc3)"></i>
<i style="background:linear-gradient(90deg,#1c3af3,#1d3ef4,#1d3ef4,#1a35f1,#1d3ef4,#1933f0,#1a35f1,#1b37f2,#1a34f1,#1830ec,#1831ee,#1830ed,#1e42f5,#1d3ef4,#1d3ef4,#1931ee,#1830ee,#1830ec,#162be5,#1424d8,#162be6,#1424d8,#1527df,#1322d3,#1424da,#1323d5,#1529e2,#1220cc,#121cc3,#121fcc,#121fcb,#1320cf,#121dc3,#121dc5,#121ec7,#121cc1,#111bbf,#111abb,#121cc1,#121ec7,#111abb,#121dc3,#111bc0,#111abc,#121cc2,#121ec9,#121ec9,#111bbe,#121dc5,#121ec7,#111bbd,#111bbe,#1119b8,#111abd,#1119b8,#111bbf,#111aba,#111abc,#111bbf,#121cc1,#111bbf,#1119b8,#121cc3,#111bc0,#111bbe,#111abc,#1119b8,#1119b9,#1119b9,#1119b8,#1119b8,#111abc,#1119b8,#111abc,#111aba,#1119b8,#111bbf,#111aba,#111bbe,#111bbe,#121cc1,#121fcc,#121cc1,#121dc5,#121dc4,#1119b8,#1119b8,#111abc,#121cc1,#1119b8,#111bc0,#121dc5,#111bbf,#111bbf,#111abb,#111aba,#1119b8,#111abc,#1119b8,#1119b9,#111bbf,#121cc3,#121dc6,#111bbf,#111bbe,#1119b9,#1119b8,#111aba,#1119b8,#111bbf,#121cc1,#121dc6,#121dc4,#111bbe,#121cc3,#1119b8,#111bbf,#121dc6,#121ec8,#111bc0,#1119b8,#111bbe,#111aba,#1119b8,#111bbd,#121cc3,#111bbd,#1119b8,#121cc1,#111aba,#1119b8,#1119b8,#1119b8,#111aba,#1119b8,#121cc3,#121cc2,#111aba,#121dc5,#1119b8,#1119b8,#1119b9,#111abd,#121cc0,#111bbe,#121cc2,#121fca,#111bbf,#1119b8,#111abb,#111bbe,#121ec8,#111bbd)"></i>
<i style="background:linear-gradient(90deg,#1b37f2,#1c3bf3,#1c3bf3,#1932f0,#1c3cf3,#1931ef,#1a35f1,#1b37f2,#1a35f1,#1830ed,#1830ed,#182feb,#1e41f5,#1d3df4,#1c3af3,#162be6,#172eea,#182feb,#162ae3,#1322d5,#1529e2,#1323d5,#1426de,#1322d3,#1424d9,#1322d3,#1528e0,#121fcc,#121dc3,#1220cc,#121fcb,#1320ce,#121dc4,#121dc5,#121ec6,#121cc1,#111bbe,#111aba,#121cc1,#121dc6,#111aba,#121cc3,#111bbf,#111abb,#121cc1,#121ec8,#121ec9,#111bbd,#121dc5,#121ec7,#111bbd,#111bbd,#1119b8,#111abc,#1119b8,#111bbf,#1119ba,#111abc,#111bbf,#121cc1,#111bbf,#1119b8,#121cc3,#111bc0,#111bbe,#111abc,#1119b8,#1119b8,#1119b9,#1119b8,#1119b8,#111abc,#1119b8,#111abc,#111aba,#1119b8,#111bbf,#111aba,#111bbe,#111bbe,#121cc1,#121fcc,#121cc1,#121dc5,#121dc4,#1119b8,#1119b8,#111abc,#121cc1,#1119b8,#111bc0,#121dc5,#111bbf,#111bbf,#111aba,#111aba,#1119b8,#111abc,#1119b8,#1119b9,#111bbf,#121cc3,#121dc6,#111bbf,#111bbe,#1119b9,#1119b8,#111aba,#1119b8,#111bbf,#121cc1,#121dc6,#121dc4,#111bbe,#121cc3,#1119b8,#111bbf,#121dc6,#121ec8,#111bc0,#1119b8,#111bbe,#111aba,#1119b8,#111bbd,#121cc3,#111bbd,#1119b8,#121cc1,#111aba,#1119b8,#1119b8,#1119b8,#111aba,#1119b8,#121cc3,#121cc2,#111aba,#121dc5,#1119b8,#1119b8,#1119b9,#111abd,#121cc0,#111bbe,#121cc2,#121fca,#111bbf,#1119b8,#111abb,#111bbe,#121ec8,#111bbd)"></i>
<i style="background:linear-gradient(90deg,#1b37f2,#1c3af3,#1b38f2,#1a34f1,#1b39f2,#1a34f1,#1933f0,#1931ee,#1c3cf3,#1933f0,#1b38f2,#1a36f1,#1933f0,#1b39f2,#1931ee,#162be6,#1528e1,#1424da,#1426dd,#1629e2,#1528e0,#1322d2,#1323d6,#1321d0,#1424da,#1323d6,#1527df,#1320ce,#1220cc,#1322d5,#121fcc,#121ec9,#121cc0,#121ec9,#121fcb,#121cc2,#121dc4,#111bbe,#121ec7,#121ec8,#121dc4,#121cc3,#1320ce,#111abd,#111abb,#121cc1,#1119b9,#121dc3,#121cc3,#111abb,#121cc3,#1119b9,#111abb,#1119b9,#1119b8,#111bbe,#111bbe,#111bbd,#1119ba,#111abc,#111abb,#111bbe,#121ec7,#121dc4,#1119b8,#111abb,#111abb,#111abb,#121cc1,#1119b9,#1119b9,#111aba,#111bbf,#111bbe,#111abb,#111aba,#1119b8,#1321d1,#1119b9,#111abb,#121dc3,#1320cd,#111bbf,#1119b8,#1119b8,#111aba,#111aba,#111aba,#111abc,#111abc,#111bbe,#121dc3,#111bbe,#1119b8,#1119b9,#1119b8,#1119b8,#1119b9,#1119b8,#1119b8,#111abd,#121ec8,#121dc5,#111bbd,#1119b8,#1119b8,#1119b8,#1119b8,#111bbe,#121cc1,#121ec8,#121dc5,#121dc4,#111abb,#121fcb,#111bbf,#1119b8,#1119b9,#111bbf,#111bbe,#111abc,#1119b8,#111abb,#111abd,#111bc0,#121cc0,#121dc3,#1119b9,#111bc0,#1119b8,#111abc,#111abd,#1119b9,#111bbf,#1119b8,#121cc2,#111abc,#121ec7,#111abc,#111abd,#121cc2,#111abb,#1119b8,#111bbd,#121cc2,#111bbe,#111aba,#1119b8,#1119b8,#111abd,#121dc3,#121cc2,#121cc0)"></i>
<i style="background:linear-gradient(90deg,#1a35f1,#1b38f2,#1a36f1,#1932f0,#1b38f2,#1933f0,#1932ef,#1830ec,#1c3af3,#182fec,#1a35f1,#1a35f1,#1933f0,#1a35f1,#172de8,#162ae3,#1527e0,#1423d8,#1424d9,#1526de,#1426de,#1321d2,#1323d6,#1320cf,#1423d7,#1322d4,#1526de,#1320ce,#121fcc,#1322d4,#121fcb,#121ec9,#121cc0,#121ec9,#121fca,#121cc2,#121dc4,#111bbe,#121ec7,#121ec7,#121dc4,#121cc2,#1320cd,#111abc,#111abb,#121cc1,#1119b9,#121cc3,#121cc3,#111abb,#121cc2,#1119b8,#111aba,#1119b9,#1119b8,#111bbe,#111bbe,#111bbd,#1119b9,#111abc,#111abb,#111bbe,#121ec7,#121dc4,#1119b8,#111abb,#111abb,#111abb,#121cc1,#1119b9,#1119b9,#111aba,#111bbf,#111bbe,#111abb,#111aba,#1119b8,#1321d1,#1119b9,#111abb,#121dc3,#1320cd,#111bbf,#1119b8,#1119b8,#111aba,#111aba,#1119ba,#111abc,#111abc,#111bbe,#121dc3,#111bbe,#1119b8,#1119b8,#1119b8,#1119b8,#1119b9,#1119b8,#1119b8,#111abd,#121ec8,#121dc5,#111bbd,#1119b8,#1119b8,#1119b8,#1119b8,#111bbe,#121cc1,#121ec8,#121dc5,#121dc4,#111abb,#121fcb,#111bbf,#1119b8,#1119b9,#111bbf,#111bbe,#111abc,#1119b8,#111abb,#111abd,#111bc0,#121cc0,#121dc3,#1119b9,#111bc0,#1119b8,#111abc,#111abd,#1119b9,#111bbf,#1119b8,#121cc2,#111abc,#121ec7,#111abc,#111abd,#121cc2,#111abb,#1119b8,#111bbd,#121cc2,#111bbe,#111aba,#1119b8,#1119b8,#111abd,#121dc3,#121cc2,#121cc0)"></i>
<i style="background:linear-gradient(90deg,#1c3bf3,#1a34f1,#1830ed,#182fec,#1b39f2,#1a35f1,#1831ee,#1932f0,#1b37f2,#1931ef,#182eea,#1a35f1,#1830ee,#182eeb,#1629e2,#1424da,#1424d8,#1527df,#1424da,#1424d9,#1321d0,#1423d7,#1424d9,#1322d4,#1321d1,#1323d6,#121dc6,#1321d1,#121ec9,#121ec8,#121fcb,#121ec9,#121dc5,#1220cd,#111bbf,#121dc5,#121cc1,#121cc1,#111abb,#121ec7,#1322d3,#111bbe,#111abb,#121dc4,#121dc4,#111bbf,#121dc6,#111abc,#111bc0,#121ec6,#1119b8,#1119b8,#1119b8,#111abb,#1119b8,#111bbe,#111bbf,#121cc0,#111aba,#1119ba,#111bbf,#1119b8,#111bbe,#121cc0,#121cc1,#111abb,#121cc3,#111abc,#1119b8,#1119b8,#111abc,#111bbd,#121cc0,#111bbe,#1119b9,#1119b8,#1119b8,#111abb,#1119b8,#1119b8,#121cc3,#121cc0,#111abb,#1119b8,#1119b8,#1119b8,#1119b8,#1119b8,#1119b8,#121cc1,#111abb,#121cc3,#111bbf,#1119b8,#1119b8,#111bbe,#1119b8,#111aba,#1119b8,#1119b8,#1119b8,#1119b8,#111bbf,#111bbd,#111abc,#111abc,#1119b8,#121cc0,#1119b8,#121cc2,#121cc0,#1119b8,#121cc2,#121ec7,#121cc2,#111bbe,#1119b8,#1119b8,#111abc,#111aba,#1119b8,#1119b8,#1119b8,#111aba,#121ec9,#121cc2,#121ec8,#121cc0,#1119b8,#121dc4,#1119b8,#1119b8,#121cc3,#1119b8,#1119b9,#1119b8,#121cc2,#121cc1,#111aba,#121dc6,#121cc2,#1119b9,#1119b9,#1119b8,#111abb,#121cc0,#1119b8,#1119b8,#111abc,#1119b8,#111bbe,#1119b8,#1119ba)"></i>
<i style="background:linear-gradient(90deg,#1b39f2,#1931ef,#172eea,#172de8,#1a36f1,#1931ef,#172eea,#182fec,#1a34f1,#182fec,#182fec,#1a36f1,#172eea,#162be5,#1528e0,#1423d8,#1322d5,#1425db,#1323d7,#1424d8,#1321d0,#1323d7,#1424d8,#1321d2,#1320cf,#1323d6,#121dc6,#1321d0,#121ec8,#121ec7,#121fcb,#121ec9,#121dc5,#1220cc,#111bbf,#121dc5,#121cc1,#121cc0,#111abb,#121ec6,#1322d2,#111bbd,#111abb,#121dc3,#121dc4,#111bbf,#121dc5,#111abc,#111bc0,#121dc6,#1119b8,#1119b8,#1119b8,#111abb,#1119b8,#111bbe,#111bbf,#121cc0,#111aba,#1119b9,#111bbf,#1119b8,#111bbe,#121cc0,#121cc0,#111abb,#121cc3,#111abb,#1119b8,#1119b8,#111abc,#111abd,#121cc0,#111bbe,#1119b9,#1119b8,#1119b8,#111abb,#1119b8,#1119b8,#121cc3,#121cc0,#111abb,#1119b8,#1119b8,#1119b8,#1119b8,#1119b8,#1119b8,#121cc1,#111abb,#121cc3,#111bbf,#1119b8,#1119b8,#111bbe,#1119b8,#111aba,#1119b8,#1119b8,#1119b8,#1119b8,#111bbf,#111bbd,#111abc,#111abc,#1119b8,#121cc0,#1119b8,#121cc2,#121cc0,#1119b8,#121cc2,#121ec7,#121cc2,#111bbe,#1119b8,#1119b8,#111abc,#111aba,#1119b8,#1119b8,#1119b8,#111aba,#121ec9,#121cc2,#121ec8,#121cc0,#1119b8,#121dc4,#1119b8,#1119b8,#121cc3,#1119b8,#1119b9,#1119b8,#121cc2,#121cc1,#111aba,#121dc6,#121cc2,#1119b9,#1119b9,#1119b8,#111abb,#121cc0,#1119b8,#1119b8,#111abc,#1119b8,#111bbe,#1119b8,#1119ba)"></i>
<i style="background:linear-gradient(90deg,#172de9,#1529e2,#172ce7,#1629e3,#182feb,#1424d8,#1528e1,#162ae4,#162ae4,#1932ef,#1830ed,#1b37f2,#182fec,#1528e0,#1527e0,#1629e3,#1424da,#1424d9,#1321d1,#1323d6,#1423d7,#1425dd,#1425dc,#1320ce,#1320ce,#121fcb,#121fcb,#121ec7,#121ec7,#121fca,#121dc5,#121dc5,#121ec8,#1320cd,#121ec9,#111abb,#121dc4,#111bbf,#121cc3,#121ec9,#111bc0,#121dc3,#121cc3,#1119b9,#1119b9,#121dc5,#121cc3,#111bc0,#121ec7,#121fca,#111abc,#1119b8,#1119b9,#1119b9,#1119b8,#111bbe,#111bbd,#111bbe,#111bbe,#111bbe,#1119b8,#1119b8,#1119b9,#111bbe,#111bbf,#1119b8,#111abc,#121cc1,#121dc5,#111abc,#111bbf,#1119b8,#121cc3,#111bbf,#121cc2,#111abc,#1119b8,#1119b8,#111abc,#111bbd,#1119b9,#121cc1,#111abc,#1119b8,#1119b8,#121cc0,#121cc3,#121dc6,#111abb,#121cc1,#1119b8,#1119b8,#111bbe,#1119b8,#111bbe,#111abd,#111aba,#1119b8,#1119b9,#1119b8,#1119b8,#1119b8,#111abb,#1119b8,#121dc4,#111bbe,#111bbe,#111bbf,#121cc0,#111abb,#121cc2,#111abb,#111bbd,#111abb,#1119b8,#111abb,#1119b8,#1119ba,#1119b8,#1119b8,#1119b8,#1119b8,#1119b8,#1119b8,#111bbd,#111aba,#111abb,#121ec7,#111abc,#111bbf,#111abd,#1119b8,#111bc0,#111abc,#111abd,#1119b8,#1119b8,#1119b8,#111abd,#1119b8,#121ec8,#111bc0,#111bbe,#121dc5,#121cc3,#1119b8,#111bbf,#111bbf,#1119b8,#1119b8,#1119b8,#1119b8,#111bbd)"></i>
<i style="background:linear-gradient(90deg,#162be5,#1527de,#162ae4,#1527e0,#172de8,#1323d6,#1527df,#1629e2,#162ae4,#1a35f1,#1932f0,#1a34f1,#162be6,#1425dc,#1425dc,#1527df,#1323d6,#1423d7,#1321d0,#1323d6,#1323d6,#1425db,#1424da,#1220cc,#1320cd,#121fca,#121fcb,#121dc6,#121dc6,#121ec9,#121dc4,#121dc5,#121ec8,#1220cd,#121ec9,#111abb,#121dc3,#111bbf,#121cc3,#121ec9,#111bc0,#121cc3,#121cc3,#1119b9,#1119b9,#121dc5,#121cc3,#111bbf,#121ec6,#121fca,#111abc,#1119b8,#1119b9,#1119b9,#1119b8,#111bbe,#111bbd,#111bbe,#111bbe,#111bbe,#1119b8,#1119b8,#1119b9,#111bbe,#111bbf,#1119b8,#111abc,#121cc1,#121dc5,#111abc,#111bbf,#1119b8,#121cc3,#111bbf,#121cc2,#111abc,#1119b8,#1119b8,#111abc,#111abd,#1119b9,#121cc1,#111abc,#1119b8,#1119b8,#121cc0,#121cc3,#121dc6,#111abb,#121cc1,#1119b8,#1119b8,#111bbe,#1119b8,#111bbe,#111abd,#111aba,#1119b8,#1119b9,#1119b8,#1119b8,#1119b8,#111abb,#1119b8,#121dc4,#111bbe,#111bbe,#111bbf,#121cc0,#111abb,#121cc2,#111abb,#111bbd,#111abb,#1119b8,#111abb,#1119b8,#1119ba,#1119b8,#1119b8,#1119b8,#1119b8,#1119b8,#1119b8,#111bbd,#111aba,#111abb,#121ec7,#111abc,#111bbf,#111abd,#1119b8,#111bc0,#111abc,#111abd,#1119b8,#1119b8,#1119b8,#111abd,#1119b8,#121ec8,#111bc0,#111bbe,#121dc5,#121cc3,#1119b8,#111bbf,#111bbf,#1119b8,#1119b8,#1119b8,#1119b8,#111bbd)"></i>
<i style="background:linear-gradient(90deg,#162be5,#162be5,#1527e0,#162ae4,#1527df,#1527df,#1526de,#1526de,#182eea,#1a34f1,#1a36f1,#1931ee,#1528e0,#1322d2,#1322d4,#162ae3,#1425dd,#1426dd,#1526de,#1527e0,#1424d9,#1322d3,#1321d0,#121fcb,#1321cf,#121dc5,#121fca,#1320ce,#121fcb,#1320ce,#1220cc,#1322d2,#121fca,#1320ce,#121dc4,#121cc1,#111abb,#121cc0,#121fcc,#111bbe,#121fcc,#121dc6,#111bbd,#1119b8,#1119b9,#121dc6,#1119b9,#111bbe,#121ec7,#121cc1,#111bbe,#111bbf,#111aba,#1119b8,#111bbf,#121dc5,#1119b8,#111abb,#121cc3,#121dc4,#111bc0,#111abb,#1119b8,#1119b8,#1119b8,#1119b8,#121cc2,#121dc4,#121cc2,#121cc2,#111abc,#1119b8,#111bbd,#111bbe,#111bbf,#121dc3,#1119b8,#1119b8,#121dc4,#121cc3,#111aba,#1119b9,#1119b8,#1119b8,#1119b9,#1119b8,#111bbf,#1119b8,#1119b8,#1119b8,#111abb,#111aba,#111bbd,#111bbf,#121cc3,#121dc4,#111bbd,#111bc0,#111bbf,#1119b8,#121cc1,#111aba,#1119b9,#121cc2,#121dc4,#121cc0,#121cc3,#121cc1,#1119b9,#111aba,#1119b8,#111bbd,#111bbe,#1119b8,#1119b8,#1119b8,#111bbf,#111abc,#1119b8,#111abd,#111aba,#121cc2,#121dc4,#1119b8,#111abb,#111bbe,#1119b8,#121dc3,#1119b9,#111abc,#111bbe,#111bbe,#111abb,#111aba,#1119b9,#1119b9,#111aba,#1119b8,#111abc,#111bbd,#111aba,#111bbd,#1119b8,#121cc3,#111bbf,#111abb,#111bbe,#1119b8,#111abb,#1119b8,#121cc1,#111bbe,#121cc0)"></i>
<i style="background:linear-gradient(90deg,#1629e3,#1629e2,#1426dd,#1529e2,#1425dd,#1425dd,#1425dd,#1527df,#1931ee,#1a35f1,#1931ee,#172ce7,#1425dc,#1321cf,#1321d1,#1529e1,#1425dc,#1425dd,#1426dd,#1527de,#1323d7,#1321d1,#1320cf,#121fca,#1320cf,#121dc4,#121ec8,#1220cd,#121fcb,#1320ce,#121fcc,#1321d2,#121fca,#1320cd,#121dc4,#121cc1,#111abb,#121cc0,#121fcc,#111bbd,#121fcc,#121dc6,#111bbd,#1119b8,#1119b8,#121dc6,#1119b9,#111bbe,#121ec7,#121cc0,#111bbe,#111bbf,#111aba,#1119b8,#111bbf,#121dc5,#1119b8,#111abb,#121cc3,#121dc4,#111bc0,#111abb,#1119b8,#1119b8,#1119b8,#1119b8,#121cc2,#121dc4,#121cc2,#121cc2,#111abc,#1119b8,#111bbd,#111bbe,#111bbf,#121dc3,#1119b8,#1119b8,#121dc4,#121cc3,#111aba,#1119b9,#1119b8,#1119b8,#1119b9,#1119b8,#111bbf,#1119b8,#1119b8,#1119b8,#111abb,#111aba,#111bbd,#111bbf,#121cc3,#121dc4,#111bbd,#111bc0,#111bbf,#1119b8,#121cc1,#111aba,#1119b9,#121cc2,#121dc4,#121cc0,#121cc3,#121cc1,#1119b9,#111aba,#1119b8,#111bbd,#111bbe,#1119b8,#1119b8,#1119b8,#111bbf,#111abc,#1119b8,#111abd,#111aba,#121cc2,#121dc4,#1119b8,#111abb,#111bbe,#1119b8,#121dc3,#1119b9,#111abc,#111bbe,#111bbe,#111abb,#111aba,#1119b9,#1119b9,#111aba,#1119b8,#111abc,#111bbd,#111aba,#111bbd,#1119b8,#121cc3,#111bbf,#111aba,#111bbe,#1119b8,#111abb,#1119b8,#121cc1,#111bbe,#121cc0)"></i>
<i style="background:linear-gradient(90deg,#1528e1,#1424db,#1528e0,#1528e1,#1424da,#1527df,#1424d8,#1527e0,#1528e1,#162be5,#1528e1,#162ae4,#1526de,#1424d9,#1528e0,#1629e3,#1322d4,#1321d1,#1528e0,#1527e0,#1527df,#121ec9,#1320cd,#1320ce,#121fcb,#121ec8,#121ec8,#121dc4,#121cc3,#1322d2,#1321cf,#1321d1,#1320cf,#121fcc,#121ec9,#121ec8,#121dc5,#1119b8,#121ec7,#121ec8,#121fca,#111bbe,#1119b9,#111aba,#1119b8,#1119b9,#111abc,#1119b8,#111bbd,#111abb,#111abb,#111bbd,#111abb,#111abb,#121dc4,#121cc2,#121cc1,#121dc4,#1119b8,#111bbe,#121cc0,#1119b9,#111abc,#111bbd,#1119b8,#111abc,#1119b8,#111aba,#121cc1,#121dc4,#1119b9,#1119b8,#1119b9,#1119b8,#1119b8,#111bbf,#1119b8,#1119b8,#111abb,#121ec6,#111bc0,#1119b8,#111abb,#1119b8,#1119b8,#111bbe,#111abb,#1119b8,#1119b8,#1119b8,#1119b8,#1119b9,#111abd,#1119b9,#1119b9,#111bbe,#1119b9,#121cc2,#111bbe,#111abc,#1119b9,#121ec7,#111bbe,#1119b8,#121dc4,#121cc0,#121cc2,#121dc4,#1119b8,#121cc0,#111abb,#121dc4,#121dc4,#111abb,#1119b8,#1119b8,#111bbe,#1119b8,#1119b8,#121cc2,#1119b8,#111aba,#121cc1,#111bbf,#1119b8,#1119b9,#111aba,#111aba,#111abb,#1119b8,#121cc0,#111abb,#111bbd,#111aba,#111abc,#111aba,#121cc1,#1119b8,#111bbe,#111bbd,#111bbe,#111aba,#111abb,#121ec7,#111bbe,#121cc1,#1119b8,#111bbd,#111bbe,#1119b8,#111bbe,#111bbe,#121cc2)"></i>
<i style="background:linear-gradient(90deg,#1528e0,#1424da,#1527df,#1528e0,#1424d8,#1527de,#1424d9,#162ae3,#1528e1,#1426de,#1424db,#1528e0,#1425dc,#1423d8,#1527df,#1529e2,#1322d3,#1321cf,#1527de,#1426de,#1526de,#121ec8,#1220cd,#1320ce,#121fca,#121ec7,#121ec7,#121dc4,#121cc2,#1321d2,#1320cf,#1321d1,#1320cf,#121fcc,#121ec9,#121ec8,#121dc5,#1119b8,#121ec7,#121ec8,#121fca,#111bbd,#1119b9,#111aba,#1119b8,#1119b9,#111abb,#1119b8,#111abd,#111abb,#111abb,#111bbd,#111abb,#111abb,#121dc4,#121cc2,#121cc1,#121dc4,#1119b8,#111bbe,#121cc0,#1119b9,#111abb,#111bbd,#1119b8,#111abc,#1119b8,#111aba,#121cc1,#121dc4,#1119b9,#1119b8,#1119b9,#1119b8,#1119b8,#111bbf,#1119b8,#1119b8,#111abb,#121ec6,#111bc0,#1119b8,#111abb,#1119b8,#1119b8,#111bbe,#111abb,#1119b8,#1119b8,#1119b8,#1119b8,#1119b9,#111abd,#1119b9,#1119b9,#111bbe,#1119b9,#121cc2,#111bbe,#111abc,#1119b9,#121ec7,#111bbe,#1119b8,#121dc4,#121cc0,#121cc2,#121dc4,#1119b8,#121cc0,#111abb,#121dc4,#121dc4,#111abb,#1119b8,#1119b8,#111bbe,#1119b8,#1119b8,#121cc2,#1119b8,#111aba,#121cc1,#111bbf,#1119b8,#1119b9,#111aba,#111aba,#111abb,#1119b8,#121cc0,#111abb,#111bbd,#111aba,#111abc,#111aba,#121cc1,#1119b8,#111bbe,#111bbd,#111bbe,#111aba,#111abb,#121ec7,#111bbe,#121cc1,#1119b8,#111bbd,#111bbe,#1119b8,#111bbe,#111bbe,#121cc2)"></i>
<i style="background:linear-gradient(90deg,#162ae3,#172ce7,#162be5,#1527df,#1426dd,#1528e1,#1424da,#1528e0,#162be6,#1425db,#1322d4,#1321d1,#1425db,#121fcc,#1426de,#1323d7,#1424d9,#1322d4,#1424d8,#1321d0,#1323d5,#1424da,#1322d3,#121fcc,#121fca,#1321d2,#121dc5,#121ec8,#121fc9,#1320ce,#121ec7,#1321d0,#121dc6,#1320ce,#121dc6,#121dc5,#111aba,#111bbe,#111abb,#121dc6,#121ec8,#111bbd,#1119b8,#121cc2,#111bbe,#1119b8,#121cc0,#1119b9,#1119b8,#111bbf,#111bbf,#121fca,#111abb,#1119b8,#1119b9,#111bbe,#111abc,#1119b9,#1119b8,#111bbe,#111bbe,#111aba,#121cc2,#111bbd,#1119b8,#121dc4,#1119b8,#121cc3,#1119b8,#121dc5,#111aba,#111abb,#111abc,#1119b8,#1119b8,#1119b8,#111abc,#1119b8,#121dc4,#111aba,#111bbe,#111bbd,#111abd,#111aba,#1119b8,#1119b8,#1119b8,#1119b8,#1119b8,#1119b8,#1119b8,#1119b8,#111abc,#1119b8,#1119b8,#111abb,#121dc4,#111bbf,#1119b8,#111abc,#111bc0,#1119b8,#1119ba,#121cc2,#121ec8,#121cc3,#111bbf,#121cc2,#121cc0,#1119b8,#111abb,#121ec9,#111aba,#111abc,#1119b8,#1119b8,#1119b8,#111abc,#1119b8,#1119b8,#111bc0,#111abb,#111aba,#111aba,#1119b9,#1119b8,#111bbf,#111aba,#111bc0,#1119b9,#111bbe,#111aba,#1119b8,#1119b8,#1119b8,#1119b8,#121cc0,#121cc1,#111abc,#121dc5,#111abc,#111bbf,#1119b8,#1119b8,#121dc4,#1119b8,#1119b8,#121fca,#111bbd,#121cc0,#1119b9,#111bbe,#1119b8)"></i>
<i style="background:linear-gradient(90deg,#1528e1,#162be5,#1629e3,#1425dd,#1425dc,#1529e2,#1526de,#1527e0,#1527df,#1323d5,#1321d1,#1321d0,#1424da,#121fcb,#1425dd,#1323d5,#1423d7,#1322d2,#1423d7,#1320cf,#1322d5,#1424da,#1322d3,#121fcb,#121ec9,#1321d1,#121dc5,#121ec7,#121ec9,#1320ce,#121ec7,#1321d0,#121dc6,#1320ce,#121dc6,#121dc5,#111aba,#111bbe,#111abb,#121dc6,#121ec8,#111bbd,#1119b8,#121cc2,#111bbd,#1119b8,#111bc0,#1119b9,#1119b8,#111bbf,#111bbf,#121fca,#111abb,#1119b8,#1119b9,#111bbe,#111abc,#1119b9,#1119b8,#111bbe,#111bbe,#111aba,#121cc2,#111bbd,#1119b8,#121dc4,#1119b8,#121cc3,#1119b8,#121dc5,#111aba,#111abb,#111abc,#1119b8,#1119b8,#1119b8,#111abc,#1119b8,#121dc4,#111aba,#111bbe,#111bbd,#111abd,#111aba,#1119b8,#1119b8,#1119b8,#1119b8,#1119b8,#1119b8,#1119b8,#1119b8,#111abc,#1119b8,#1119b8,#111abb,#121dc4,#111bbf,#1119b8,#111abc,#111bc0,#1119b8,#1119ba,#121cc2,#121ec8,#121cc3,#111bbf,#121cc2,#121cc0,#1119b8,#111abb,#121ec9,#111aba,#111abc,#1119b8,#1119b8,#1119b8,#111abc,#1119b8,#1119b8,#111bc0,#111abb,#111aba,#111aba,#1119b9,#1119b8,#111bbf,#111aba,#111bc0,#1119b9,#111bbe,#111aba,#1119b8,#1119b8,#1119b8,#1119b8,#121cc0,#121cc1,#111abc,#121dc5,#111abc,#111bbf,#1119b8,#1119b8,#121dc4,#1119b8,#1119b8,#121fca,#111bbd,#121cc0,#1119b9,#111bbe,#1119b8)"></i>
<i style="background:linear-gradient(90deg,#1424d9,#1932f0,#1528e1,#1425db,#1423d7,#1527e0,#1528e1,#1426de,#1323d5,#1527e0,#1323d7,#1323d5,#1425dc,#1322d4,#1321d0,#1528e0,#1322d5,#1321d2,#1321d1,#1321d0,#1323d7,#121ec8,#121dc4,#121ec7,#121cc0,#121dc5,#121cc2,#121dc6,#121dc5,#121ec9,#1321d0,#121fca,#121cc1,#121cc1,#121cc1,#121cc2,#1119b8,#121dc6,#121ec7,#121dc5,#121cc2,#1119b8,#111bbf,#1119b8,#111abd,#1119b8,#111bbe,#111bbf,#111bbd,#121dc4,#111bbd,#1119b8,#111bc0,#111abc,#1119b9,#111bbf,#111abb,#111aba,#1119b9,#1119b8,#121cc0,#121fca,#121ec8,#1119b9,#1119b9,#121cc2,#1119b8,#121cc0,#121dc4,#111abb,#1119b8,#111aba,#111aba,#1119b9,#1119b8,#1119b8,#121cc1,#121dc6,#111abc,#1119b8,#1119b8,#111bbe,#1119b8,#1119b9,#121cc1,#111abb,#121cc1,#1119b8,#1119b9,#1119b8,#1119b8,#1119b8,#1119b8,#111abc,#1119b8,#1119b8,#111abc,#111bbf,#111bbf,#111bbf,#1119b8,#1119b8,#111abc,#111aba,#111abb,#121dc5,#111abc,#111abb,#121cc2,#111bbe,#121cc1,#1119b8,#111abc,#111abc,#111abc,#1119b8,#1119b8,#111bbd,#1119b8,#111abc,#111abc,#111bbe,#111abc,#1119b8,#111abb,#1119b8,#111abd,#1119b8,#1119b8,#111bbe,#1119b8,#1119b9,#1119b8,#111abc,#1119b8,#1119b8,#111bbe,#121ec8,#1119b8,#1119b8,#1119b8,#1119b9,#111abc,#1119b8,#1119b8,#111bbd,#111abc,#121dc6,#111aba,#1119b8,#1119b9,#111abc,#121cc1)"></i>
<i style="background:linear-gradient(90deg,#1323d6,#1830ed,#1526de,#1424d9,#1424d8,#162ae3,#1527df,#1323d6,#1321d0,#1426de,#1323d5,#1322d4,#1424da,#1322d3,#1321cf,#1527df,#1322d4,#1321d1,#1321d1,#1321cf,#1323d6,#121ec7,#121cc3,#121dc6,#111bc0,#121dc4,#121cc1,#121dc6,#121dc4,#121ec9,#1321d0,#121ec9,#121cc0,#121cc1,#121cc1,#121cc2,#1119b8,#121dc6,#121ec7,#121dc4,#121cc2,#1119b8,#111bbf,#1119b8,#111abc,#1119b8,#111bbd,#111bbf,#111bbd,#121dc4,#111bbd,#1119b8,#111bc0,#111abb,#1119b9,#111bbf,#111abb,#111aba,#1119b9,#1119b8,#121cc0,#121fc9,#121ec8,#1119b9,#1119b9,#121cc2,#1119b8,#121cc0,#121dc4,#111abb,#1119b8,#111aba,#111aba,#1119b9,#1119b8,#1119b8,#121cc1,#121dc6,#111abc,#1119b8,#1119b8,#111bbe,#1119b8,#1119b9,#121cc1,#111abb,#121cc1,#1119b8,#1119b9,#1119b8,#1119b8,#1119b8,#1119b8,#111abc,#1119b8,#1119b8,#111abc,#111bbf,#111bbf,#111bbf,#1119b8,#1119b8,#111abc,#111aba,#111abb,#121dc5,#111abc,#111abb,#121cc2,#111bbe,#121cc1,#1119b8,#111abc,#111abc,#111abc,#1119b8,#1119b8,#111bbd,#1119b8,#111abc,#111abc,#111bbe,#111abc,#1119b8,#111abb,#1119b8,#111abd,#1119b8,#1119b8,#111bbe,#1119b8,#1119b9,#1119b8,#111abc,#1119b8,#1119b8,#111bbe,#121ec8,#1119b8,#1119b8,#1119b8,#1119b9,#111abc,#1119b8,#1119b8,#111bbd,#111abc,#121dc6,#111aba,#1119b8,#1119b9,#111abc,#121cc1)"></i>
<i style="background:linear-gradient(90deg,#1321d1,#1527df,#1424d9,#1320ce,#1322d3,#1425db,#1423d8,#1321d1,#1323d7,#1426de,#1322d4,#1322d5,#1321d2,#1424d9,#121fcb,#1322d3,#1322d2,#121dc4,#1320ce,#121fcb,#121fcc,#121fcc,#121fcc,#1220cd,#111bbe,#121dc6,#111bbd,#1320ce,#121ec9,#121cc3,#121cc1,#111bbf,#111bc0,#111abc,#121cc3,#121ec8,#121fcc,#121fcb,#121ec7,#111abc,#111bbe,#121ec9,#121cc1,#121dc6,#121dc5,#1119b9,#1119b8,#121cc1,#1119b8,#111aba,#111bc0,#111abb,#111bbe,#111bc0,#1119b8,#111bbd,#111abb,#121cc2,#1119b8,#1119b8,#1119b8,#111abc,#121fcb,#121fca,#1119b8,#111abd,#1119b8,#111bbe,#111abb,#1119b8,#111abd,#111bc0,#111bbf,#111bc0,#121cc1,#111abd,#111bbd,#111bbf,#1119b8,#1119ba,#1119b8,#111abb,#111abb,#111abb,#111bbf,#121cc0,#121ec7,#121fca,#121cc1,#1119b8,#111abc,#111abc,#1119b8,#1119b8,#111abb,#111abb,#111abb,#121cc2,#111abb,#111abb,#1119b8,#111bbf,#1119b8,#121cc1,#1119b8,#111bbe,#1119b8,#111bc0,#111abb,#1119b8,#111bbf,#111abd,#111abc,#111abd,#1119b8,#111abc,#1119b8,#1119b8,#1119b8,#1119b8,#111bc0,#111aba,#111bbf,#111abb,#1119b8,#111abb,#1119b8,#111aba,#111abd,#1119b8,#111bbe,#1119b9,#1119b9,#111bbe,#1119b8,#1119b8,#111abc,#111bbe,#121cc2,#111aba,#1119b8,#1119b8,#1119b9,#111bbd,#1119b9,#121cc1,#121dc3,#111bbd,#111bbf,#111bbf,#111bbd,#111abb,#1119b8)"></i>
<i style="background:linear-gradient(90deg,#1321d0,#1526de,#1424d9,#1321d1,#1424d8,#1424d9,#1321d1,#1320cd,#1323d5,#1426dd,#1322d3,#1322d3,#1321d1,#1424d8,#121ec9,#1322d2,#1321d1,#121dc3,#1320cd,#121fca,#121fcb,#121fcb,#121fcb,#121fcc,#111bbd,#121dc5,#111bbd,#1320cd,#121ec8,#121cc2,#121cc1,#111bbe,#111bbf,#111abc,#121cc3,#121ec8,#121fcc,#121fcb,#121dc6,#111abc,#111bbe,#121ec9,#121cc1,#121dc6,#121dc5,#1119b9,#1119b8,#121cc0,#1119b8,#111aba,#111bbf,#111aba,#111bbe,#111bc0,#1119b8,#111bbd,#111abb,#121cc2,#1119b8,#1119b8,#1119b8,#111abc,#121fcb,#121fca,#1119b8,#111abd,#1119b8,#111bbe,#111abb,#1119b8,#111abd,#111bc0,#111bbf,#111bc0,#121cc1,#111abd,#111bbd,#111bbf,#1119b8,#1119ba,#1119b8,#111abb,#111abb,#111abb,#111bbf,#121cc0,#121ec7,#121fca,#121cc1,#1119b8,#111abc,#111abc,#1119b8,#1119b8,#111abb,#111abb,#111abb,#121cc2,#111abb,#111abb,#1119b8,#111bbf,#1119b8,#121cc1,#1119b8,#111bbe,#1119b8,#111bc0,#111abb,#1119b8,#111bbf,#111abd,#111abc,#111abd,#1119b8,#111abc,#1119b8,#1119b8,#1119b8,#1119b8,#111bc0,#111aba,#111bbf,#111abb,#1119b8,#111abb,#1119b8,#111aba,#111abd,#1119b8,#111bbe,#1119b9,#1119b9,#111bbe,#1119b8,#1119b8,#111abc,#111bbe,#121cc2,#111aba,#1119b8,#1119b8,#1119b9,#111bbd,#1119b9,#121cc1,#121dc3,#111bbd,#111bbf,#111bbf,#111bbd,#111abb,#1119b8)"></i>
<i style="background:linear-gradient(90deg,#1322d3,#1323d7,#162be5,#1425dd,#162be6,#1322d4,#1320cf,#1321d0,#1323d5,#121dc5,#1322d4,#1320cd,#1321d1,#121fca,#1320ce,#1320cd,#1321cf,#121fca,#121ec9,#1321cf,#121dc5,#1321d1,#121ec7,#121cc0,#121ec9,#111bbf,#1119b8,#121cc3,#111bbe,#121dc6,#121ec9,#121fcc,#121cc2,#111bbd,#121cc2,#1220cd,#121dc4,#121dc5,#121cc2,#121cc0,#111bbf,#121cc1,#121cc2,#121dc4,#121cc2,#121dc4,#111bbf,#111abc,#1119b8,#121cc3,#121dc6,#121dc5,#111bbd,#111aba,#111abc,#121cc2,#121cc1,#1119b8,#1119b8,#1119b8,#1119b8,#111abc,#121fca,#121ec9,#121dc4,#111abb,#1119b9,#111abb,#1119b8,#111aba,#121dc3,#121dc4,#111bbe,#121dc5,#1119b9,#121fcb,#111bbd,#111abc,#111abb,#111bc0,#111bbf,#111bbe,#111bbe,#1119b8,#111bbe,#1119b8,#121cc1,#121dc4,#121dc6,#121cc1,#111bbe,#1119b8,#111abc,#111abb,#1119b8,#1119b8,#1119b8,#121cc3,#1119b8,#111abb,#1119b8,#1119b8,#111bbd,#111bbf,#121cc2,#111bbd,#111aba,#111bbe,#1119b9,#1119b8,#1119b8,#121ec8,#1119b8,#111abb,#121dc5,#1119b8,#1119b8,#1119b8,#1119b8,#1119b8,#1119b9,#1119b8,#121cc1,#1119b8,#111bbd,#1119b8,#1119b8,#111abc,#1119b8,#121cc1,#121cc1,#121cc2,#1119b8,#111abc,#1119b8,#1119b8,#111bbd,#111bbe,#1119b8,#1119b8,#121dc5,#121cc2,#111bbd,#1119b8,#121cc0,#1119b8,#111abc,#111bbe,#111bbd,#111bbf,#121dc6,#111bbe,#1119b8)"></i>
<i style="background:linear-gradient(90deg,#1322d3,#1423d7,#172de9,#1528e1,#162ae3,#1320cd,#121fcb,#1320cf,#1322d4,#121dc4,#1322d2,#121fcc,#1321d0,#121ec9,#1220cd,#1220cc,#1320cf,#121fca,#121ec8,#1320cf,#121dc5,#1321d1,#121dc6,#111bc0,#121ec8,#111bbf,#1119b8,#121cc3,#111bbd,#121dc6,#121ec9,#121fcb,#121cc2,#111bbd,#121cc2,#121fcc,#121dc4,#121dc4,#121cc2,#121cc0,#111bbf,#121cc1,#121cc1,#121dc4,#121cc2,#121dc3,#111bbf,#111abc,#1119b8,#121cc3,#121dc6,#121dc5,#111bbd,#111aba,#111abc,#121cc2,#121cc1,#1119b8,#1119b8,#1119b8,#1119b8,#111abc,#121fca,#121ec9,#121dc4,#111abb,#1119b9,#111abb,#1119b8,#111aba,#121dc3,#121dc4,#111bbe,#121dc5,#1119b9,#121fcb,#111bbd,#111abc,#111abb,#111bc0,#111bbf,#111bbe,#111bbe,#1119b8,#111bbe,#1119b8,#121cc1,#121dc4,#121dc6,#121cc1,#111bbe,#1119b8,#111abc,#111abb,#1119b8,#1119b8,#1119b8,#121cc3,#1119b8,#111abb,#1119b8,#1119b8,#111bbd,#111bbf,#121cc2,#111bbd,#111aba,#111bbe,#1119b9,#1119b8,#1119b8,#121ec8,#1119b8,#111abb,#121dc5,#1119b8,#1119b8,#1119b8,#1119b8,#1119b8,#1119b9,#1119b8,#121cc1,#1119b8,#111bbd,#1119b8,#1119b8,#111abc,#1119b8,#121cc1,#121cc1,#121cc2,#1119b8,#111abc,#1119b8,#1119b8,#111bbd,#111bbe,#1119b8,#1119b8,#121dc5,#121cc2,#111bbd,#1119b8,#121cc0,#1119b8,#111abc,#111bbe,#111bbd,#111bbf,#121dc6,#111bbe,#1119b8)"></i>
<i style="background:linear-gradient(90deg,#1322d2,#1425dc,#1526de,#1527df,#1424da,#121ec8,#121ec7,#121fca,#1320cf,#121fca,#121fcb,#121dc5,#1321d1,#1320cd,#1321d0,#121fcb,#121dc4,#121fca,#1321d0,#121ec8,#121dc5,#121ec8,#121ec8,#121fcc,#121ec8,#121dc6,#121cc2,#111bbf,#121dc4,#121dc6,#111bbe,#121dc5,#121cc1,#121dc4,#121cc2,#121ec8,#121ec7,#111abc,#111bc0,#121cc0,#1220cd,#111bc0,#111bbd,#121ec8,#121cc2,#111bbe,#121cc1,#121cc1,#121cc1,#111bbe,#121cc1,#121ec6,#121dc5,#1119b9,#111abc,#111bc0,#111abb,#1119b8,#1119b8,#1119b8,#1119b8,#111aba,#1220cd,#111bc0,#111abb,#111aba,#1119b9,#1119b8,#1119b8,#1119b8,#1119b8,#121ec8,#121cc2,#121dc6,#111bbe,#121cc0,#1119b8,#121cc1,#121dc5,#121fca,#111bbf,#1119b9,#121dc5,#111abc,#1119b8,#1119b8,#1119b9,#121dc5,#121cc3,#121dc4,#111bbf,#1119b8,#121cc1,#111abd,#111bbf,#111aba,#1119b8,#1119b8,#1119b8,#111bbd,#111abc,#1119b8,#111abb,#1119b8,#1119b8,#1119b8,#1119b8,#1119b8,#1119b8,#1119b9,#121dc4,#111abb,#1119b8,#1119b9,#121dc4,#111aba,#1119b8,#1119b8,#1119b8,#1119b8,#1119b8,#111abb,#121dc4,#121cc1,#121ec8,#111abc,#121fca,#121cc3,#121ec7,#121dc4,#121cc1,#111aba,#1119b8,#111bbf,#111aba,#1119b8,#1119b8,#1119b8,#1119b8,#111bbf,#111abc,#121cc1,#1119b8,#1119b8,#121dc4,#111abb,#1119b9,#1119b8,#111aba,#121dc4,#1119b9,#121cc2,#1119b8)"></i>
<i style="background:linear-gradient(90deg,#1322d3,#1527e0,#1528e1,#1425db,#1322d3,#121dc4,#121dc5,#121ec9,#1320cd,#121ec8,#121fca,#121dc4,#1321d0,#1220cc,#1321cf,#121fca,#121cc3,#121fca,#1320cf,#121ec8,#121dc4,#121ec7,#121ec8,#121fcb,#121ec8,#121dc6,#121cc1,#111bbe,#121dc3,#121dc5,#111bbe,#121dc5,#121cc1,#121dc3,#121cc2,#121ec8,#121ec7,#111abc,#111bc0,#121cc0,#1220cd,#111bc0,#111abd,#121ec8,#121cc2,#111bbe,#121cc1,#121cc1,#121cc1,#111bbe,#121cc1,#121dc6,#121dc5,#1119b9,#111abc,#111bc0,#111abb,#1119b8,#1119b8,#1119b8,#1119b8,#111aba,#1220cd,#111bc0,#111abb,#111aba,#1119b9,#1119b8,#1119b8,#1119b8,#1119b8,#121ec8,#121cc2,#121dc6,#111bbe,#121cc0,#1119b8,#121cc1,#121dc5,#121fca,#111bbf,#1119b9,#121dc5,#111abc,#1119b8,#1119b8,#1119b9,#121dc5,#121cc3,#121dc4,#111bbf,#1119b8,#121cc1,#111abd,#111bbf,#111aba,#1119b8,#1119b8,#1119b8,#111bbd,#111abc,#1119b8,#111abb,#1119b8,#1119b8,#1119b8,#1119b8,#1119b8,#1119b8,#1119b9,#121dc4,#111abb,#1119b8,#1119b9,#121dc4,#111aba,#1119b8,#1119b8,#1119b8,#1119b8,#1119b8,#111abb,#121dc4,#121cc1,#121ec8,#111abc,#121fca,#121cc3,#121ec7,#121dc4,#121cc1,#111aba,#1119b8,#111bbf,#111aba,#1119b8,#1119b8,#1119b8,#1119b8,#111bbf,#111abc,#121cc1,#1119b8,#1119b8,#121dc4,#111abb,#1119b9,#1119b8,#111aba,#121dc4,#1119b9,#121cc2,#1119b8)"></i>
<i style="background:linear-gradient(90deg,#1321d2,#1526de,#162ae4,#1423d7,#121ec9,#121dc4,#121ec7,#1321d0,#1321d0,#1321d1,#1322d2,#121ec9,#1320cf,#121fcc,#1320cf,#1321d0,#121cc1,#111bbf,#121ec9,#121dc5,#121dc4,#121fcb,#1320cd,#121fcc,#121fca,#111bc0,#121dc5,#121dc4,#111bbf,#1320ce,#121dc3,#121ec7,#121cc1,#111abc,#121cc0,#121ec9,#121dc5,#121cc1,#121fcb,#121cc1,#121ec9,#1119b9,#111bc0,#121fca,#121fca,#121fcb,#111abc,#111abc,#121ec9,#121ec7,#121dc4,#111abb,#1119b8,#1119b8,#121ec9,#111bbf,#121cc0,#111bbe,#1119b8,#1119b8,#1119b8,#1119b8,#111bbf,#121dc6,#121dc5,#121cc3,#121cc1,#1119b8,#1119b8,#111aba,#1119b8,#111aba,#111abd,#111aba,#111abc,#1119b8,#1119b8,#121ec9,#121dc5,#1322d3,#121dc3,#1119b8,#111abc,#111abb,#111abd,#1119b9,#111bbd,#121cc0,#111bbf,#1119b8,#121cc0,#1119b8,#1119b8,#1119b8,#111bbe,#111bbd,#1119b8,#1119b9,#1119b9,#111bbe,#121cc0,#1119b8,#121cc2,#121cc1,#1119b8,#1119b8,#121cc2,#1119b8,#111bbf,#121dc5,#121dc6,#121dc6,#1119b9,#1119b8,#111bc0,#111abb,#1119b9,#111bbe,#1119b8,#1119b8,#111aba,#111bbe,#1119b8,#121cc3,#1119b9,#111bbd,#121dc4,#121ec9,#121cc3,#121cc0,#121dc4,#121dc4,#111bbd,#1119b8,#1119b8,#111aba,#1119b8,#121cc2,#111bbe,#111abc,#111aba,#121cc2,#111bbe,#121dc3,#1119b8,#1119b8,#1119b8,#1119b9,#121dc5,#121cc0,#111abc,#111abb,#121ec8)"></i>
<i style="background:linear-gradient(90deg,#1323d6,#1528e1,#1528e0,#1321d1,#121dc6,#121cc3,#121dc6,#1320cf,#1321cf,#1321d0,#1321d2,#121ec8,#1320ce,#121fcb,#1320ce,#1320cf,#121cc0,#111bbe,#121ec8,#121dc5,#121dc4,#121fca,#1220cd,#121fcb,#121ec9,#111bbf,#121dc4,#121dc4,#111bbf,#1320ce,#121cc3,#121dc6,#121cc1,#111abc,#121cc0,#121ec9,#121dc4,#121cc1,#121fcb,#121cc1,#121ec9,#1119b9,#111bc0,#121fca,#121fca,#121fcb,#111abc,#111abc,#121ec9,#121ec6,#121dc4,#111abb,#1119b8,#1119b8,#121ec9,#111bbf,#121cc0,#111bbe,#1119b8,#1119b8,#1119b8,#1119b8,#111bbf,#121dc6,#121dc5,#121cc3,#121cc1,#1119b8,#1119b8,#111aba,#1119b8,#111aba,#111abd,#111aba,#111abc,#1119b8,#1119b8,#121ec9,#121dc5,#1322d3,#121dc3,#1119b8,#111abc,#111abb,#111abd,#1119b9,#111bbd,#121cc0,#111bbf,#1119b8,#121cc0,#1119b8,#1119b8,#1119b8,#111bbe,#111bbd,#1119b8,#1119b9,#1119b9,#111bbe,#121cc0,#1119b8,#121cc2,#121cc1,#1119b8,#1119b8,#121cc2,#1119b8,#111bbf,#121dc5,#121dc6,#121dc6,#1119b9,#1119b8,#111bc0,#111abb,#1119b9,#111bbe,#1119b8,#1119b8,#111aba,#111bbe,#1119b8,#121cc3,#1119b9,#111bbd,#121dc4,#121ec9,#121cc3,#121cc0,#121dc4,#121dc4,#111bbd,#1119b8,#1119b8,#111aba,#1119b8,#121cc2,#111bbe,#111abc,#111aba,#121cc2,#111bbe,#121dc3,#1119b8,#1119b8,#1119b8,#1119b9,#121dc5,#121cc0,#111abc,#111abb,#121ec8)"></i>
<i style="background:linear-gradient(90deg,#1527df,#1425dc,#1323d6,#1424da,#1220cc,#121dc6,#121dc4,#121dc4,#121ec9,#1322d3,#1320ce,#121ec7,#1323d5,#1322d3,#121ec8,#121ec8,#121ec8,#121dc6,#121ec7,#121ec7,#121dc6,#121dc3,#121cc2,#121dc6,#121ec7,#121dc6,#121ec9,#121dc6,#121cc1,#111bbd,#121fcb,#121cc2,#121dc6,#1119b8,#121cc1,#111bbd,#121cc1,#111abc,#111bbd,#111bbd,#111abc,#121cc1,#121cc0,#121dc6,#1119b8,#1119b8,#1119b8,#1119b8,#121dc6,#111bbe,#121cc3,#111abb,#121ec8,#1119b9,#111abd,#111bbf,#1119b8,#1119b8,#111bbe,#1119b8,#1119b8,#111bc0,#111bbe,#121dc4,#111bbe,#111abc,#1119b8,#121cc1,#1119b8,#121dc4,#111abb,#1119b9,#111bbd,#121cc1,#111bbd,#1119b9,#1119b8,#111bbe,#121cc2,#121fcb,#1320cf,#121cc3,#111aba,#121cc2,#121dc4,#111bc0,#111abd,#111bbf,#1119b8,#1119b8,#1119b9,#1119b8,#1119b8,#111aba,#111bbe,#111aba,#1119b8,#121cc3,#111bbe,#121dc4,#1119b8,#1119b8,#121dc5,#111bbf,#1119b8,#1119b8,#1119b8,#121cc2,#111bbf,#121ec8,#121ec7,#111abd,#1119b8,#1119b8,#111abc,#111abc,#1119b8,#1119b8,#1119b8,#111abc,#111abc,#111abc,#111aba,#111bbd,#111bbf,#111bbd,#1320ce,#111bbe,#121cc2,#111bbd,#111abd,#121dc4,#121ec9,#1119b8,#1119b8,#111aba,#1119b8,#111abc,#111bbf,#111abc,#111aba,#111abb,#111aba,#111bc0,#111abc,#1119b8,#1119b8,#1119b8,#111bbf,#111abb,#111bbd,#121ec7,#121dc3)"></i>
<i style="background:linear-gradient(90deg,#1529e1,#1323d7,#1321d0,#1423d8,#121fcc,#121dc6,#121dc3,#121dc3,#121ec8,#1322d3,#1320ce,#121dc6,#1322d4,#1322d2,#121ec8,#121ec8,#121ec8,#121dc5,#121ec6,#121dc6,#121dc5,#121cc3,#121cc1,#121dc6,#121ec7,#121dc5,#121ec9,#121dc6,#121cc1,#111bbd,#121fcb,#121cc2,#121dc6,#1119b8,#121cc1,#111bbd,#121cc0,#111abb,#111abd,#111abd,#111abc,#121cc1,#111bc0,#121dc6,#1119b8,#1119b8,#1119b8,#1119b8,#121dc6,#111bbd,#121cc3,#111abb,#121ec8,#1119b9,#111abd,#111bbf,#1119b8,#1119b8,#111bbe,#1119b8,#1119b8,#111bc0,#111bbe,#121dc4,#111bbe,#111abc,#1119b8,#121cc1,#1119b8,#121dc4,#111abb,#1119b9,#111bbd,#121cc1,#111bbd,#1119b9,#1119b8,#111bbe,#121cc2,#121fcb,#1320cf,#121cc3,#111aba,#121cc2,#121dc4,#111bc0,#111abd,#111bbf,#1119b8,#1119b8,#1119b9,#1119b8,#1119b8,#111aba,#111bbe,#111aba,#1119b8,#121cc3,#111bbe,#121dc4,#1119b8,#1119b8,#121dc5,#111bbf,#1119b8,#1119b8,#1119b8,#121cc2,#111bbf,#121ec8,#121ec7,#111abd,#1119b8,#1119b8,#111abc,#111abc,#1119b8,#1119b8,#1119b8,#111abc,#111abc,#111abc,#111aba,#111bbd,#111bbf,#111bbd,#1320ce,#111bbe,#121cc2,#111bbd,#111abd,#121dc4,#121ec9,#1119b8,#1119b8,#111aba,#1119b8,#111abc,#111bbf,#111abc,#111aba,#111abb,#111aba,#111bc0,#111abc,#1119b8,#1119b8,#1119b8,#111bbf,#111abb,#111bbd,#121ec7,#121dc3)"></i>
<i style="background:linear-gradient(90deg,#162ae3,#1321d2,#121ec8,#121fca,#121ec8,#1321cf,#1321cf,#1220cc,#121ec8,#121fca,#1220cd,#121ec7,#1220cd,#121dc4,#121dc5,#121ec9,#121cc1,#121cc3,#121cc2,#121cc1,#121cc0,#121ec7,#121cc1,#121ec8,#121fca,#121ec8,#121cc2,#121dc6,#121fca,#121cc3,#121dc4,#121cc1,#121cc0,#111bc0,#111aba,#121cc1,#1119b8,#111aba,#1119b8,#121cc2,#121dc4,#111bbe,#111bbf,#1119b9,#1119b9,#1119b8,#121dc3,#111bbe,#111bbe,#1119b8,#1119b8,#1119b9,#121cc1,#111bbe,#121dc6,#121cc1,#1119b8,#1119b8,#121dc5,#111abb,#111abc,#111abd,#111aba,#111abb,#121dc6,#111bc0,#1119b8,#1119b8,#121cc1,#1119b8,#111abc,#1119b8,#1119b8,#111aba,#1119b8,#1119b8,#1119b8,#121cc2,#1119b8,#1119b8,#121cc3,#111abc,#121cc0,#121cc1,#121cc3,#121dc5,#121cc2,#121cc3,#111aba,#1119b8,#111bbe,#1119b8,#1119b9,#1119b8,#111bbf,#1119b8,#1119b9,#121cc1,#121cc3,#1119b8,#1119b8,#1119b8,#111aba,#111aba,#1119b8,#1119b8,#1119b9,#111aba,#1119b8,#111aba,#1119b8,#111abc,#111abc,#1119b8,#111abc,#111abc,#1119b9,#111aba,#1119b8,#1119b8,#111bc0,#111abb,#111bbd,#1119b9,#1119b8,#111abb,#1321d2,#1119b8,#111abd,#121cc2,#111bbd,#1119b8,#111bbf,#111bbe,#121cc1,#121dc4,#121dc4,#111bbd,#121dc6,#121dc4,#121cc0,#1119b8,#1119ba,#1119b8,#1119b8,#111aba,#1119b8,#1119b8,#111bbf,#111bc0,#121ec7,#121ec7,#111abb)"></i>
<i style="background:linear-gradient(90deg,#1426de,#1220cc,#121dc6,#121ec9,#121ec8,#1320cf,#1320cf,#121fcc,#121ec7,#121fca,#121fcc,#121dc6,#121fcc,#121dc3,#121dc5,#121ec8,#121cc1,#121cc2,#121cc1,#121cc0,#111bc0,#121ec7,#121cc0,#121ec7,#121fca,#121ec8,#121cc2,#121dc5,#121fca,#121cc2,#121dc4,#121cc1,#121cc0,#111bc0,#1119b9,#121cc1,#1119b8,#111aba,#1119b8,#121cc2,#121dc3,#111bbe,#111bbf,#1119b9,#1119b9,#1119b8,#121dc3,#111bbe,#111bbe,#1119b8,#1119b8,#1119b9,#121cc0,#111bbe,#121dc6,#121cc1,#1119b8,#1119b8,#121dc5,#111abb,#111abc,#111abc,#111aba,#111abb,#121dc6,#111bc0,#1119b8,#1119b8,#121cc1,#1119b8,#111abc,#1119b8,#1119b8,#111aba,#1119b8,#1119b8,#1119b8,#121cc2,#1119b8,#1119b8,#121cc3,#111abc,#121cc0,#121cc1,#121cc3,#121dc5,#121cc2,#121cc3,#111aba,#1119b8,#111bbe,#1119b8,#1119b9,#1119b8,#111bbf,#1119b8,#1119b9,#121cc1,#121cc3,#1119b8,#1119b8,#1119b8,#111aba,#111aba,#1119b8,#1119b8,#1119b9,#111aba,#1119b8,#111aba,#1119b8,#111abc,#111abc,#1119b8,#111abc,#111abc,#1119b9,#111aba,#1119b8,#1119b8,#111bc0,#111abb,#111bbd,#1119b9,#1119b8,#111abb,#1321d2,#1119b8,#111abd,#121cc2,#111bbd,#1119b8,#111bbf,#111bbe,#121cc1,#121dc4,#121dc4,#111bbd,#121dc6,#121dc4,#121cc0,#1119b8,#1119ba,#1119b8,#1119b8,#111aba,#1119b8,#1119b8,#111bbf,#111bc0,#121ec7,#121ec7,#111abb)"></i>
<i style="background:linear-gradient(90deg,#1321d2,#121fcb,#121cc3,#121dc6,#121ec6,#121ec7,#121dc3,#1220cd,#1220cd,#121ec7,#121dc6,#121fca,#121dc4,#121cc1,#111bbd,#111bc0,#111abd,#111bbd,#121dc6,#121ec8,#121dc6,#121cc2,#121dc6,#121fca,#111bbe,#121cc3,#121cc0,#111bbd,#121fcc,#121ec6,#111bbf,#121dc4,#1119b8,#111bbe,#111bbf,#121cc0,#121ec7,#121cc1,#121cc1,#121dc3,#111abb,#111aba,#1119b8,#111abc,#1119b8,#1119b8,#1119b8,#111aba,#111aba,#121ec6,#1119b8,#111bbd,#121ec9,#111bbd,#121cc3,#111abb,#1119b9,#111bbd,#1119b8,#111bbe,#121dc4,#121ec7,#111bbf,#111aba,#121ec7,#1320cf,#1119b9,#111aba,#1119b8,#1119b8,#1119b8,#111abc,#1119b8,#1119b8,#1119b8,#111abc,#121dc3,#1119b8,#111abb,#1119b8,#111bc0,#111bbf,#1119b9,#121ec8,#121cc1,#1119b8,#121cc1,#111abb,#121cc1,#1119b8,#111abd,#1119b8,#1119b8,#1119b8,#121cc1,#121cc2,#121cc1,#121cc2,#111bbe,#121cc2,#1119b8,#1119b8,#111bbf,#111abb,#121cc2,#1119b8,#111abc,#1119b8,#1119b8,#111abd,#1119b8,#111bbf,#111abc,#121cc2,#121cc3,#111bbd,#1119b9,#111bbf,#121cc3,#121cc3,#111aba,#111bbf,#111bc0,#111abc,#121cc0,#111abc,#121cc0,#111bbf,#121dc5,#121dc4,#1119b8,#111abd,#111bbe,#111abc,#111aba,#121cc2,#121dc5,#111abb,#121fcb,#111abc,#1119b8,#1119b8,#111abc,#1119b8,#1119b8,#111bbe,#121cc0,#1119b8,#121dc4,#111aba,#121ec7,#111abc,#111bc0)"></i>
<i style="background:linear-gradient(90deg,#121ec9,#121ec9,#121cc2,#121dc5,#121dc6,#121dc6,#121cc3,#121fcc,#121fcc,#121dc6,#121dc5,#121fca,#121dc4,#121cc0,#111abd,#111bbf,#111abc,#111abd,#121dc5,#121ec8,#121dc5,#121cc1,#121dc6,#121fca,#111bbd,#121cc3,#121cc0,#111abd,#121fcb,#121dc6,#111bbe,#121dc4,#1119b8,#111bbe,#111bbe,#121cc0,#121ec7,#121cc0,#121cc1,#121cc3,#111abb,#111aba,#1119b8,#111abc,#1119b8,#1119b8,#1119b8,#1119ba,#111aba,#121ec6,#1119b8,#111bbd,#121ec9,#111bbd,#121cc3,#111abb,#1119b8,#111bbd,#1119b8,#111bbe,#121dc4,#121ec7,#111bbf,#111aba,#121ec7,#1320cf,#1119b9,#111aba,#1119b8,#1119b8,#1119b8,#111abc,#1119b8,#1119b8,#1119b8,#111abc,#121dc3,#1119b8,#111abb,#1119b8,#111bc0,#111bbf,#1119b9,#121ec8,#121cc1,#1119b8,#121cc1,#111abb,#121cc1,#1119b8,#111abd,#1119b8,#1119b8,#1119b8,#121cc1,#121cc2,#121cc1,#121cc2,#111bbe,#121cc2,#1119b8,#1119b8,#111bbf,#111abb,#121cc2,#1119b8,#111abc,#1119b8,#1119b8,#111abd,#1119b8,#111bbf,#111abc,#121cc2,#121cc3,#111bbd,#1119b9,#111bbf,#121cc3,#121cc3,#111aba,#111bbf,#111bc0,#111abc,#121cc0,#111abc,#121cc0,#111bbf,#121dc5,#121dc4,#1119b8,#111abd,#111bbe,#111abc,#111aba,#121cc2,#121dc5,#111abb,#121fcb,#111abc,#1119b8,#1119b8,#111abc,#1119b8,#1119b8,#111bbe,#121cc0,#1119b8,#121dc4,#111aba,#121ec7,#111abc,#111bc0)"></i>
<i style="background:linear-gradient(90deg,#121ec7,#121dc6,#121cc0,#111bbe,#121cc2,#121dc5,#121fcc,#1323d5,#121ec8,#121cc0,#121dc4,#121ec9,#121cc3,#121dc3,#121dc3,#1119b8,#121cc1,#121ec9,#121ec8,#121ec9,#121ec9,#121dc3,#111bbd,#121dc4,#111aba,#121cc3,#111aba,#111abd,#121ec9,#121cc1,#111bc0,#121cc3,#1119b8,#111aba,#121cc1,#111aba,#121ec9,#111bbf,#121dc4,#121dc5,#111abc,#121dc6,#1119b8,#1119b9,#1119b8,#111abb,#121cc1,#111bbe,#111bbd,#1119b8,#1119b8,#111bc0,#121cc2,#121dc4,#121ec7,#1119b8,#121dc4,#121dc5,#111abc,#1119b8,#121fcb,#111abb,#111abb,#111bc0,#111abb,#1119b8,#111abb,#1119b8,#1119b8,#111abb,#1119b8,#121cc2,#111abc,#111bc0,#1119b8,#121cc1,#121cc0,#1119b8,#1119b8,#1119b8,#1119b8,#1119b9,#111bbe,#121cc0,#111aba,#121fcb,#121cc3,#111bbf,#121dc5,#1119b8,#111bbe,#111bbe,#1119b8,#111bbe,#111bbd,#1119b9,#121cc2,#121cc1,#1119b8,#1119b8,#111aba,#121dc4,#121dc4,#111abb,#111abb,#111aba,#1119b8,#1119b8,#1119b8,#1119b8,#1119b9,#1119b9,#121dc3,#111bbd,#121dc6,#121cc1,#121dc4,#121ec9,#121dc4,#121dc4,#111abc,#1119b8,#111abb,#121cc2,#121cc2,#1119b8,#111bbd,#111abc,#1119b8,#121dc4,#111abd,#1119b9,#111abb,#1119b8,#121cc1,#111bbe,#121dc4,#121ec6,#1220cc,#121cc0,#1119b8,#1119b8,#1119b8,#1119b9,#1119b8,#1119b8,#111abb,#1119b8,#121cc3,#1119b8,#121cc2,#121cc1,#1119b9)"></i>
<i style="background:linear-gradient(90deg,#121dc6,#121dc6,#111bbf,#111bbd,#121cc1,#121dc4,#121fcb,#1322d5,#121ec7,#111bc0,#121dc3,#121ec8,#121cc3,#121cc3,#121cc3,#1119b8,#121cc0,#121ec9,#121ec8,#121ec8,#121ec9,#121cc3,#111bbd,#121dc4,#111aba,#121cc3,#111aba,#111abc,#121ec9,#121cc1,#111bc0,#121cc2,#1119b8,#1119b9,#121cc1,#111aba,#121ec9,#111bbe,#121dc4,#121dc4,#111abc,#121dc5,#1119b8,#1119b9,#1119b8,#111abb,#121cc1,#111bbe,#111bbd,#1119b8,#1119b8,#111bc0,#121cc2,#121dc4,#121ec7,#1119b8,#121dc4,#121dc5,#111abc,#1119b8,#121fcb,#111abb,#111abb,#111bc0,#111abb,#1119b8,#111abb,#1119b8,#1119b8,#111abb,#1119b8,#121cc2,#111abc,#111bc0,#1119b8,#121cc1,#121cc0,#1119b8,#1119b8,#1119b8,#1119b8,#1119b9,#111bbe,#121cc0,#111aba,#121fcb,#121cc3,#111bbf,#121dc5,#1119b8,#111bbe,#111bbe,#1119b8,#111bbe,#111bbd,#1119b9,#121cc2,#121cc1,#1119b8,#1119b8,#111aba,#121dc4,#121dc4,#111abb,#111abb,#111aba,#1119b8,#1119b8,#1119b8,#1119b8,#1119b9,#1119b9,#121dc3,#111bbd,#121dc6,#121cc1,#121dc4,#121ec9,#121dc4,#121dc4,#111abc,#1119b8,#111abb,#121cc2,#121cc2,#1119b8,#111bbd,#111abc,#1119b8,#121dc4,#111abd,#1119b9,#111abb,#1119b8,#121cc1,#111bbe,#121dc4,#121ec6,#1220cc,#121cc0,#1119b8,#1119b8,#1119b8,#1119b9,#1119b8,#1119b8,#111abb,#1119b8,#121cc3,#1119b8,#121cc2,#121cc1,#1119b9)"></i>
<i style="background:linear-gradient(90deg,#121dc3,#121ec7,#121dc6,#121cc2,#121cc2,#1320cd,#121dc6,#121dc3,#121fca,#1320ce,#121fcb,#111bbe,#121cc3,#121ec9,#111bbd,#1320cd,#121ec8,#121dc4,#121fcc,#121fca,#111bbd,#121dc3,#121cc2,#1119b8,#111abc,#111abb,#111abc,#121dc5,#1320cf,#121fca,#121cc3,#111abb,#121dc5,#111bbe,#111bbe,#1119b8,#121dc4,#121dc4,#1119b8,#1119b8,#1119b8,#1119b8,#111abb,#111abc,#121ec7,#121ec9,#121ec7,#121cc1,#1119b8,#111bbf,#1119b8,#121cc3,#111bbe,#111abc,#111bbd,#1119b8,#111abc,#121ec8,#121ec7,#121ec7,#111bbd,#111abc,#111bbe,#1119b8,#111bbf,#1119b9,#111bc0,#1119b9,#111abc,#1119ba,#1119b8,#121cc1,#111bbd,#1119b8,#111abd,#1119b8,#121cc1,#1119b8,#1119b8,#1119b8,#1119b8,#1119b8,#1119b8,#121cc2,#121fca,#121cc0,#121dc4,#121cc0,#121cc0,#111abd,#111abb,#1119b8,#1119b8,#111bbd,#1119b8,#111bbf,#111aba,#1119b9,#111abb,#111bc0,#111abb,#111aba,#121cc1,#111abb,#111bbf,#111bc0,#111bbd,#1119b8,#1119b8,#1119b8,#1119b8,#1119b8,#111aba,#111abc,#121cc1,#111aba,#111abd,#121ec8,#111bbf,#121cc2,#121fca,#121dc4,#111abc,#1119b8,#111abc,#111bc0,#1119b8,#1119b8,#1119b8,#111abb,#111bbf,#111bbe,#1119b8,#1119b8,#121fca,#121cc1,#121cc1,#121dc5,#121ec8,#121cc2,#121cc3,#1119b8,#111abd,#1119b8,#1119b8,#1119b8,#1119b8,#1119b8,#111abd,#121dc4,#121ec8,#121cc2,#111aba)"></i>
<i style="background:linear-gradient(90deg,#121cc3,#121ec7,#121dc5,#121cc1,#121cc2,#1220cd,#121dc5,#121cc3,#121fca,#1320cd,#121fca,#111bbe,#121cc3,#121ec8,#111abc,#1220cd,#121ec7,#121dc4,#121fcb,#121ec9,#111abd,#121cc3,#121cc2,#1119b8,#111abc,#111aba,#111abc,#121dc4,#1320cf,#121ec9,#121cc3,#111abb,#121dc5,#111bbe,#111bbe,#1119b8,#121dc3,#121dc4,#1119b8,#1119b8,#1119b8,#1119b8,#111abb,#111abc,#121ec7,#121ec9,#121ec6,#121cc1,#1119b8,#111bbf,#1119b8,#121cc3,#111bbe,#111abc,#111bbd,#1119b8,#111abc,#121ec8,#121ec7,#121ec7,#111bbd,#111abc,#111bbe,#1119b8,#111bbe,#1119b9,#111bc0,#1119b9,#111abc,#1119ba,#1119b8,#121cc1,#111bbd,#1119b8,#111abd,#1119b8,#121cc1,#1119b8,#1119b8,#1119b8,#1119b8,#1119b8,#1119b8,#121cc2,#121fca,#121cc0,#121dc4,#121cc0,#121cc0,#111abd,#111abb,#1119b8,#1119b8,#111bbd,#1119b8,#111bbf,#111aba,#1119b9,#111abb,#111bc0,#111abb,#111aba,#121cc1,#111abb,#111bbf,#111bc0,#111bbd,#1119b8,#1119b8,#1119b8,#1119b8,#1119b8,#111aba,#111abc,#121cc1,#111aba,#111abd,#121ec8,#111bbf,#121cc2,#121fca,#121dc4,#111abc,#1119b8,#111abc,#111bc0,#1119b8,#1119b8,#1119b8,#111abb,#111bbf,#111bbe,#1119b8,#1119b8,#121fca,#121cc1,#121cc1,#121dc5,#121ec8,#121cc2,#121cc3,#1119b8,#111abd,#1119b8,#1119b8,#1119b8,#1119b8,#1119b8,#111abd,#121dc4,#121ec8,#121cc2,#111aba)"></i>
<i style="background:linear-gradient(90deg,#121cc2,#121fca,#121cc1,#121cc2,#111bbd,#121ec8,#121ec7,#121fca,#1321d2,#121ec8,#121fcc,#121fcc,#121cc1,#121dc6,#121fca,#121dc3,#121dc6,#121dc5,#121cc2,#121cc2,#121ec9,#121fcb,#121fcc,#1119b9,#1119b8,#111bbe,#121dc4,#121cc1,#121ec9,#111bbe,#1119b8,#111abb,#111aba,#1119b9,#121cc1,#111abb,#1119b8,#121cc3,#111aba,#1119b8,#1119b8,#1119b8,#121cc1,#121ec9,#121fca,#121dc5,#121ec6,#121dc6,#111bbe,#121cc2,#111bbd,#111abc,#1119b8,#1119b8,#121dc4,#111bc0,#111abb,#121ec7,#121dc4,#1119b9,#1119b8,#1119b8,#1119b8,#1119b8,#1119b8,#111aba,#111aba,#111aba,#111bbf,#121cc1,#121cc2,#121ec8,#1119b8,#111abb,#111aba,#121dc5,#121cc0,#1119b8,#111bbd,#1119b8,#111bbf,#1119b8,#1119b8,#121dc6,#121dc6,#121ec7,#121cc3,#111bbf,#121cc0,#121cc3,#121cc3,#1119b8,#121dc4,#121cc2,#111bc0,#111aba,#111abb,#1119b8,#1119b8,#1119b8,#111bc0,#111aba,#1119b9,#1119b8,#121dc4,#111abc,#111aba,#111bc0,#111bc0,#111bbd,#111aba,#1119b8,#1119b8,#121cc2,#121cc2,#121cc0,#1119b8,#111bc0,#121dc4,#121dc5,#121dc4,#1119b9,#121dc5,#111bbe,#111aba,#1119b9,#121cc2,#121cc2,#111abb,#111aba,#111abd,#121cc1,#1119b8,#111bbd,#121dc5,#121cc2,#121dc6,#121fca,#121cc2,#121dc4,#121cc3,#1119b8,#111bbe,#111abc,#121cc1,#1119b8,#1119b8,#111abc,#111bbe,#111aba,#111bbd,#121dc3,#111bbe)"></i>
<i style="background:linear-gradient(90deg,#121cc2,#121fca,#121cc1,#121cc2,#111abc,#121ec8,#121ec7,#121fca,#1321d1,#121ec8,#121fcb,#121fcb,#121cc1,#121dc6,#121fca,#121cc3,#121dc6,#121dc5,#121cc1,#121cc2,#121ec9,#121fca,#121fcb,#1119b9,#1119b8,#111bbe,#121dc4,#121cc0,#121ec8,#111bbe,#1119b8,#111abb,#111aba,#1119b9,#121cc1,#111abb,#1119b8,#121cc3,#111aba,#1119b8,#1119b8,#1119b8,#121cc1,#121ec9,#121fc9,#121dc5,#121ec6,#121dc6,#111bbe,#121cc2,#111bbd,#111abc,#1119b8,#1119b8,#121dc4,#111bc0,#111abb,#121ec7,#121dc4,#1119b9,#1119b8,#1119b8,#1119b8,#1119b8,#1119b8,#111aba,#111aba,#111aba,#111bbf,#121cc1,#121cc2,#121ec8,#1119b8,#111abb,#111aba,#121dc5,#121cc0,#1119b8,#111bbd,#1119b8,#111bbf,#1119b8,#1119b8,#121dc6,#121dc6,#121ec7,#121cc2,#111bbf,#121cc0,#121cc3,#121cc3,#1119b8,#121dc4,#121cc2,#111bc0,#111aba,#111abb,#1119b8,#1119b8,#1119b8,#111bc0,#111aba,#1119b9,#1119b8,#121dc4,#111abc,#111aba,#111bc0,#111bc0,#111bbd,#111aba,#1119b8,#1119b8,#121cc2,#121cc2,#121cc0,#1119b8,#111bc0,#121dc4,#121dc5,#121dc4,#1119b9,#121dc5,#111bbe,#111aba,#1119b9,#121cc2,#121cc2,#111abb,#111aba,#111abd,#121cc1,#1119b8,#111bbd,#121dc5,#121cc2,#121dc6,#121fca,#121cc2,#121dc4,#121cc3,#1119b8,#111bbe,#111abc,#121cc1,#1119b8,#1119b8,#111abc,#111bbe,#111aba,#111bbd,#121dc3,#111bbe)"></i>
<i style="background:linear-gradient(90deg,#121dc5,#121ec8,#121dc5,#121cc2,#121dc6,#111bbf,#121cc2,#121dc5,#1320cf,#121fca,#121ec8,#121ec9,#1220cd,#121ec7,#121dc6,#111bbf,#121fcc,#111aba,#121ec9,#121ec7,#121dc6,#111bc0,#121cc1,#121dc5,#111bbf,#1119b9,#121cc1,#121fca,#121cc1,#121dc6,#111bbf,#1119b8,#1119b8,#111bbd,#111bbe,#121cc1,#111bbe,#111abb,#111abc,#1119b9,#1119b9,#111abd,#121fca,#121cc1,#1119b9,#121cc3,#121dc5,#111bc0,#111bbe,#111bc0,#111abb,#1119b8,#1119b8,#1119b9,#1320cd,#121cc2,#121ec9,#111bbe,#121cc1,#121cc1,#1119b8,#111abb,#1119b8,#111abb,#1119b9,#1119b8,#121dc5,#121cc0,#121ec8,#1119b8,#1119b8,#1119b8,#1119b8,#1119b8,#1119b8,#111bbe,#111aba,#111bbf,#121ec9,#121dc3,#111bbf,#111bbd,#111bbf,#121ec7,#121dc4,#121cc2,#121cc1,#121cc2,#121cc3,#111bbe,#121cc1,#1119b9,#121dc6,#111bc0,#121ec7,#121cc1,#111abd,#111abb,#1119b8,#1119b9,#1119b8,#1119b8,#1119b9,#1119b8,#111abc,#111aba,#121dc3,#121dc5,#111bbd,#111bbe,#1119b8,#1119b8,#111bbd,#121dc3,#111bc0,#121cc2,#121cc0,#121cc2,#121ec8,#111abb,#1119b8,#111aba,#121cc2,#121ec8,#1119b8,#111abc,#121cc2,#121cc3,#111abb,#111bbf,#111bc0,#1119b8,#111abc,#121cc2,#121ec7,#111bbf,#111abc,#121cc3,#111abb,#111abb,#111abc,#111abb,#1119b8,#1119b8,#1119b8,#111bbd,#1119b8,#1119b8,#1119b8,#111abc,#111bbf,#121dc5,#121cc2)"></i>
<i style="background:linear-gradient(90deg,#121dc4,#121ec7,#121dc5,#121cc2,#121dc6,#111bbf,#121cc2,#121dc4,#1320ce,#121fc9,#121ec8,#121ec9,#1220cc,#121dc6,#121dc6,#111bbf,#121fcb,#1119ba,#121ec9,#121ec6,#121dc6,#111bbf,#121cc0,#121dc5,#111bbf,#1119b9,#121cc1,#121ec9,#121cc1,#121dc6,#111bbf,#1119b8,#1119b8,#111bbd,#111bbe,#121cc1,#111bbe,#111aba,#111abc,#1119b9,#1119b9,#111abd,#121fca,#121cc1,#1119b9,#121cc3,#121dc5,#111bc0,#111bbe,#111bc0,#111abb,#1119b8,#1119b8,#1119b9,#1320cd,#121cc2,#121ec9,#111bbe,#121cc1,#121cc1,#1119b8,#111abb,#1119b8,#111abb,#1119b9,#1119b8,#121dc5,#121cc0,#121ec8,#1119b8,#1119b8,#1119b8,#1119b8,#1119b8,#1119b8,#111bbe,#111aba,#111bbf,#121ec9,#121cc3,#111bbf,#111bbd,#111bbf,#121ec7,#121dc4,#121cc2,#121cc1,#121cc2,#121cc3,#111bbe,#121cc1,#1119b9,#121dc6,#111bc0,#121ec7,#121cc1,#111abd,#111abb,#1119b8,#1119b9,#1119b8,#1119b8,#1119b9,#1119b8,#111abc,#111aba,#121dc3,#121dc5,#111bbd,#111bbe,#1119b8,#1119b8,#111bbd,#121dc3,#111bc0,#121cc2,#121cc0,#121cc2,#121ec8,#111abb,#1119b8,#111aba,#121cc2,#121ec8,#1119b8,#111abc,#121cc2,#121cc3,#111abb,#111bbf,#111bc0,#1119b8,#111abc,#121cc2,#121ec7,#111bbf,#111abc,#121cc3,#111abb,#111abb,#111abc,#111abb,#1119b8,#1119b8,#1119b8,#111bbd,#1119b8,#1119b8,#1119b8,#111abc,#111bbf,#121dc5,#121cc2)"></i>
<i style="background:linear-gradient(90deg,#121ec6,#121dc3,#121ec7,#121ec9,#111abb,#1119b9,#121dc4,#111abc,#121ec7,#121ec9,#121dc6,#121ec7,#121ec9,#111bbe,#121fcc,#121dc4,#121ec9,#121cc1,#121ec9,#121dc4,#121dc3,#121dc5,#121cc3,#121ec8,#121cc0,#121dc3,#111bbe,#121cc1,#1119b8,#121dc6,#121ec7,#121cc1,#111bbd,#111bbe,#111bbf,#121cc0,#121cc1,#1119b8,#111bbd,#111bbe,#121cc2,#121cc1,#121ec8,#121cc1,#1119b8,#121cc0,#121ec7,#111bbd,#111bbd,#1119b8,#121cc2,#1119b8,#1119b8,#111abd,#121dc4,#121cc1,#121cc0,#111bbd,#111bbe,#111bbf,#111aba,#1119b8,#111bbe,#1119b9,#1119b8,#111abb,#111bbd,#1119b9,#1119b8,#111bbe,#111abb,#1119b8,#1119b9,#1119b8,#1119b8,#1119b8,#111abc,#1119b8,#111abb,#111bc0,#1119b8,#121ec8,#121dc5,#121dc4,#111bbe,#121ec8,#111bc0,#111bbe,#121cc3,#111abc,#121cc1,#111bc0,#1119b8,#1119b8,#111bbd,#121cc1,#121dc6,#121cc3,#1119b8,#121cc3,#1119b8,#1119b8,#1119b8,#111abb,#111bbf,#111bbd,#111bbd,#121dc5,#111aba,#121cc3,#111aba,#111abc,#121dc6,#121dc4,#121cc1,#111abc,#1119b8,#111abd,#111bbe,#1119b8,#121cc0,#121dc5,#121cc1,#111abc,#111abc,#111aba,#111bbf,#111bbf,#121dc6,#121ec8,#1119b8,#111abb,#111bbd,#111aba,#111bbf,#121cc1,#121cc1,#111abc,#121dc5,#121cc1,#111bbe,#111bbe,#111abc,#1119b8,#1119b8,#1119b8,#1119b8,#121cc0,#1119b8,#111bbe,#121cc2,#111abc,#111aba)"></i>
<i style="background:linear-gradient(90deg,#121dc6,#121cc3,#121ec7,#121ec8,#111abb,#1119b9,#121cc3,#111abc,#121ec7,#121ec8,#121dc5,#121ec7,#121ec9,#111bbd,#121fcb,#121dc4,#121ec8,#121cc1,#121ec9,#121dc3,#121cc3,#121dc5,#121cc3,#121ec8,#121cc0,#121cc3,#111bbe,#121cc1,#1119b8,#121dc6,#121ec7,#121cc0,#111bbd,#111bbe,#111bbf,#121cc0,#121cc1,#1119b8,#111bbd,#111bbe,#121cc2,#121cc1,#121ec8,#121cc1,#1119b8,#121cc0,#121ec7,#111bbd,#111bbd,#1119b8,#121cc1,#1119b8,#1119b8,#111abd,#121dc4,#121cc1,#111bc0,#111bbd,#111bbe,#111bbf,#111aba,#1119b8,#111bbe,#1119b9,#1119b8,#111abb,#111bbd,#1119b9,#1119b8,#111bbe,#111abb,#1119b8,#1119b9,#1119b8,#1119b8,#1119b8,#111abc,#1119b8,#111abb,#111bc0,#1119b8,#121ec8,#121dc5,#121dc4,#111bbe,#121ec8,#111bc0,#111bbe,#121cc3,#111abc,#121cc1,#111bc0,#1119b8,#1119b8,#111bbd,#121cc1,#121dc6,#121cc3,#1119b8,#121cc3,#1119b8,#1119b8,#1119b8,#111abb,#111bbf,#111bbd,#111bbd,#121dc5,#111aba,#121cc3,#111aba,#111abc,#121dc6,#121dc4,#121cc1,#111abc,#1119b8,#111abd,#111bbe,#1119b8,#121cc0,#121dc5,#121cc1,#111abc,#111abc,#111aba,#111bbf,#111bbf,#121dc6,#121ec8,#1119b8,#111abb,#111bbd,#111aba,#111bbf,#121cc1,#121cc1,#111abc,#121dc5,#121cc1,#111bbe,#111bbe,#111abc,#1119b8,#1119b8,#1119b8,#1119b8,#121cc0,#1119b8,#111bbe,#121cc2,#111abc,#111aba)"></i>
<i style="background:linear-gradient(90deg,#121cc1,#121ec7,#121fca,#121ec7,#121fca,#121dc4,#121dc5,#1119b8,#111abb,#121dc6,#121dc6,#121cc0,#111bbf,#121cc3,#121cc2,#1119b8,#111bbd,#1119b8,#121dc4,#121dc5,#111abc,#121dc4,#121cc2,#121dc4,#111abb,#121cc0,#121cc3,#121cc2,#121dc4,#121dc3,#111abc,#121dc4,#111abc,#1119b8,#111bbf,#1119b8,#1119b8,#111bc0,#111bbe,#1119b8,#111bbf,#121cc2,#111abc,#1119b8,#121cc0,#121fca,#121cc0,#111bbf,#1119b8,#1119b8,#1119b8,#1119b8,#1119b8,#111aba,#121dc6,#121dc5,#121fcc,#111bbd,#121cc2,#111bbe,#111bbd,#1119b8,#111aba,#1119b8,#111abb,#111aba,#1119b8,#111bbd,#1119b8,#111aba,#111bbe,#1119b8,#1119b8,#1119b8,#1119b8,#1119b8,#1119b8,#1119b8,#111abc,#111bbf,#111aba,#111bc0,#121cc2,#121cc0,#111bbf,#121fca,#121cc2,#121cc2,#121dc4,#121cc1,#111bbd,#1119b8,#111abc,#1119b8,#111aba,#121cc0,#111aba,#1119b8,#111abb,#1119b8,#1119b8,#1119b8,#1119b8,#111bbf,#111bbd,#1119b8,#111abd,#111abb,#1119b8,#111bbe,#121dc3,#111bbf,#1119b8,#121cc2,#111bbf,#111bc0,#111bbf,#121cc1,#111bbf,#111bbf,#111abb,#111bbd,#111bbd,#1119b9,#111abc,#111abb,#111bc0,#111bc0,#111bbd,#111abb,#111aba,#111abc,#111bbf,#121fca,#121fca,#111bbe,#111bc0,#111aba,#111bbd,#111bbe,#111bbe,#121cc0,#111bbf,#111abc,#111bbf,#111bbe,#1119b8,#1119b8,#1119b8,#111bbe,#1119b8,#111bbe,#121cc1)"></i>
<i style="background:linear-gradient(90deg,#121cc0,#121ec7,#121ec9,#121dc6,#121fca,#121dc4,#121dc4,#1119b8,#111abb,#121dc6,#121dc6,#121cc0,#111bbf,#121cc3,#121cc1,#1119b8,#111abd,#1119b8,#121dc4,#121dc4,#111abc,#121dc4,#121cc2,#121dc4,#111abb,#111bc0,#121cc3,#121cc2,#121dc4,#121cc3,#111abc,#121dc4,#111abc,#1119b8,#111bbf,#1119b8,#1119b8,#111bbf,#111bbd,#1119b8,#111bbf,#121cc2,#111abc,#1119b8,#121cc0,#121fca,#111bc0,#111bbf,#1119b8,#1119b8,#1119b8,#1119b8,#1119b8,#111aba,#121dc5,#121dc5,#121fcc,#111bbd,#121cc2,#111bbe,#111bbd,#1119b8,#111aba,#1119b8,#111abb,#111aba,#1119b8,#111bbd,#1119b8,#111aba,#111bbe,#1119b8,#1119b8,#1119b8,#1119b8,#1119b8,#1119b8,#1119b8,#111abc,#111bbf,#111aba,#111bc0,#121cc2,#121cc0,#111bbf,#121fca,#121cc2,#121cc2,#121dc4,#121cc1,#111bbd,#1119b8,#111abc,#1119b8,#111aba,#121cc0,#111aba,#1119b8,#111abb,#1119b8,#1119b8,#1119b8,#1119b8,#111bbf,#111bbd,#1119b8,#111abd,#111abb,#1119b8,#111bbe,#121dc3,#111bbf,#1119b8,#121cc2,#111bbf,#111bc0,#111bbf,#121cc1,#111bbf,#111bbf,#111abb,#111bbd,#111bbd,#1119b9,#111abc,#111abb,#111bc0,#111bc0,#111bbd,#111abb,#111aba,#111abc,#111bbf,#121fca,#121fca,#111bbe,#111bc0,#111aba,#111bbd,#111bbe,#111bbe,#121cc0,#111bbf,#111abc,#111bbf,#111bbe,#1119b8,#1119b8,#1119b8,#111bbe,#1119b8,#111bbe,#121cc1)"></i>
<i style="background:linear-gradient(90deg,#111abd,#111bc0,#121ec7,#121cc0,#121dc4,#121cc1,#121cc1,#111abb,#111bbd,#121ec8,#111abb,#111bbf,#121cc2,#121dc5,#111aba,#1119b9,#1119b9,#111bbd,#121dc5,#121fcb,#121fcb,#121ec7,#121dc4,#121cc1,#1119b8,#111bbf,#121dc5,#111bbf,#1119b8,#121cc1,#121ec7,#121cc3,#121cc0,#111bbd,#121cc3,#1119b8,#1119ba,#121dc6,#121dc6,#111bc0,#111bbf,#111abc,#111bbf,#111bc0,#111bbf,#121cc1,#111abb,#111bbf,#1119ba,#111abb,#1119b8,#121cc0,#1119b8,#111bbd,#121cc1,#121dc5,#121dc6,#111bbe,#1119b8,#111aba,#1119b8,#1119b8,#121dc4,#1119b8,#1119b8,#121cc1,#1119b9,#1119b8,#121cc3,#111bbd,#1119b8,#111aba,#1119b8,#1119b8,#1119b8,#111aba,#1119b8,#1119b8,#1119b8,#111bbd,#121cc3,#111abc,#1119b8,#111abb,#111aba,#121cc0,#111abc,#121dc4,#111bbe,#111bbf,#1119b8,#1119b8,#1119b8,#1119b8,#111aba,#111bbd,#111abc,#1119b8,#111abc,#1119b8,#1119b8,#1119b8,#1119b8,#121ec9,#121cc2,#111aba,#1119b9,#121cc1,#1119b8,#1119b9,#121ec7,#121cc0,#111abb,#121dc4,#121ec8,#121ec8,#111bbf,#121cc0,#121cc1,#111bbf,#111bc0,#1119b9,#1119b8,#111abd,#111aba,#1119b8,#1119b8,#111aba,#1119b8,#111abc,#1119b8,#1119b8,#1119b8,#111bbd,#121cc2,#121cc3,#1119b8,#111abd,#1119b8,#1119b8,#1119b9,#111abb,#121dc4,#111abd,#111abb,#121dc6,#1119b8,#1119b9,#1119b8,#121cc3,#1119b8,#1119b8,#111aba)"></i>
<i style="background:linear-gradient(90deg,#111abc,#111bc0,#121dc6,#121cc0,#121dc4,#121cc1,#121cc1,#111aba,#111bbd,#121ec7,#111aba,#111bbf,#121cc2,#121dc5,#111aba,#1119b9,#1119b9,#111abd,#121dc5,#121fcb,#121fcb,#121dc6,#121dc4,#121cc1,#1119b8,#111bbe,#121dc5,#111bbf,#1119b8,#121cc1,#121ec7,#121cc3,#121cc0,#111bbd,#121cc3,#1119b8,#1119b9,#121dc6,#121dc6,#111bc0,#111bbf,#111abc,#111bbf,#111bbf,#111bbf,#121cc1,#111abb,#111bbf,#1119ba,#111abb,#1119b8,#121cc0,#1119b8,#111bbd,#121cc1,#121dc5,#121dc6,#111bbe,#1119b8,#111aba,#1119b8,#1119b8,#121dc4,#1119b8,#1119b8,#121cc1,#1119b9,#1119b8,#121cc3,#111bbd,#1119b8,#111aba,#1119b8,#1119b8,#1119b8,#111aba,#1119b8,#1119b8,#1119b8,#111bbd,#121cc3,#111abc,#1119b8,#111abb,#111aba,#121cc0,#111abc,#121dc4,#111bbe,#111bbf,#1119b8,#1119b8,#1119b8,#1119b8,#111aba,#111bbd,#111abc,#1119b8,#111abc,#1119b8,#1119b8,#1119b8,#1119b8,#121ec9,#121cc2,#111aba,#1119b9,#121cc1,#1119b8,#1119b9,#121ec7,#121cc0,#111abb,#121dc4,#121ec8,#121ec8,#111bbf,#121cc0,#121cc1,#111bbf,#111bc0,#1119b9,#1119b8,#111abd,#111aba,#1119b8,#1119b8,#111aba,#1119b8,#111abc,#1119b8,#1119b8,#1119b8,#111bbd,#121cc2,#121cc3,#1119b8,#111abd,#1119b8,#1119b8,#1119b9,#111abb,#121dc4,#111abd,#111abb,#121dc6,#1119b8,#1119b9,#1119b8,#121cc3,#1119b8,#1119b8,#111aba)"></i>
<i style="background:linear-gradient(90deg,#121cc1,#121ec9,#111bc0,#121dc4,#1119b9,#121dc4,#121dc4,#121ec9,#121fcb,#121fca,#121dc4,#1119b8,#1119b8,#111abc,#111bc0,#111abb,#121ec8,#121ec7,#111bbe,#121fcc,#111bbf,#111bbf,#111abc,#121cc3,#111abc,#111bbe,#121dc5,#111bc0,#111abc,#111bbf,#121ec8,#121fca,#111bbe,#121fcb,#121dc6,#111aba,#121cc2,#121ec8,#111bbe,#121cc3,#121cc1,#111bbd,#121cc3,#111abc,#111abc,#1119b8,#111bbe,#121dc4,#121dc5,#121ec7,#121cc1,#121cc2,#121cc2,#111bbf,#1119b8,#121cc0,#111abd,#121cc2,#121cc0,#111abb,#111bbe,#1119b9,#121cc0,#1119b8,#121cc2,#1119b8,#111bbe,#111bbf,#111abb,#1119b8,#111bbd,#111bbf,#111bbe,#1119b8,#1119b8,#111bbe,#121dc5,#1119b8,#1119b8,#111bbe,#111aba,#111bbe,#121cc0,#121cc2,#111abc,#1119b9,#111abb,#1119b8,#1119b8,#111bbf,#1119b8,#1119b8,#1119b8,#111bc0,#111abb,#1119b8,#1119b9,#111abc,#111abb,#1119b9,#1119b8,#1119b8,#121ec9,#121cc3,#111bbf,#111bbf,#111abb,#111bbd,#121dc5,#111bbf,#121dc5,#111abc,#111bbe,#121cc2,#121fcb,#121ec8,#1119b9,#111abb,#111bbd,#1119b8,#1119b8,#1119b8,#1119b8,#111abb,#111bbe,#1119b8,#111bbf,#111abc,#121fcb,#121dc5,#111aba,#111bbe,#111bc0,#111bbf,#1119b9,#111abd,#111bbe,#111aba,#111bbf,#1119b9,#1119b9,#1119b8,#121cc1,#121cc0,#111bc0,#121cc1,#121dc4,#1119b8,#121cc2,#111bbe,#1119b8,#1119b8,#1119b8)"></i>
<i style="background:linear-gradient(90deg,#121cc1,#121ec9,#111bbf,#121dc4,#1119b9,#121dc3,#121dc4,#121ec8,#121fcb,#121fca,#121dc4,#1119b8,#1119b8,#111abc,#111bc0,#111aba,#121ec8,#121ec7,#111bbe,#121fcc,#111bbf,#111bbf,#111abc,#121cc3,#111abc,#111bbe,#121dc5,#111bc0,#111abc,#111bbf,#121ec8,#121fca,#111bbe,#121fca,#121dc6,#111aba,#121cc2,#121ec8,#111bbe,#121cc3,#121cc1,#111abd,#121cc3,#111abc,#111abc,#1119b8,#111bbe,#121dc4,#121dc5,#121ec7,#121cc1,#121cc2,#121cc2,#111bbf,#1119b8,#121cc0,#111abd,#121cc2,#121cc0,#111abb,#111bbe,#1119b9,#121cc0,#1119b8,#121cc2,#1119b8,#111bbe,#111bbf,#111abb,#1119b8,#111bbd,#111bbf,#111bbe,#1119b8,#1119b8,#111bbe,#121dc5,#1119b8,#1119b8,#111bbe,#111aba,#111bbe,#121cc0,#121cc2,#111abc,#1119b9,#111abb,#1119b8,#1119b8,#111bbf,#1119b8,#1119b8,#1119b8,#111bc0,#111abb,#1119b8,#1119b9,#111abc,#111abb,#1119b9,#1119b8,#1119b8,#121ec9,#121cc3,#111bbf,#111bbf,#111abb,#111bbd,#121dc5,#111bbf,#121dc5,#111abc,#111bbe,#121cc2,#121fcb,#121ec8,#1119b9,#111abb,#111bbd,#1119b8,#1119b8,#1119b8,#1119b8,#111abb,#111bbe,#1119b8,#111bbf,#111abc,#121fcb,#121dc5,#111aba,#111bbe,#111bc0,#111bbf,#1119b9,#111abd,#111bbe,#111aba,#111bbf,#1119b9,#1119b9,#1119b8,#121cc1,#121cc0,#111bc0,#121cc1,#121dc4,#1119b8,#121cc2,#111bbe,#1119b8,#1119b8,#1119b8)"></i>
<i style="background:linear-gradient(90deg,#111abc,#111bbd,#121dc6,#121dc5,#111bbd,#1119b8,#121cc3,#121dc3,#121fca,#111bbe,#111bc0,#1119b8,#111abb,#121dc5,#121fcb,#121cc3,#121dc4,#121cc1,#111bbf,#111bbd,#111bbf,#111bbd,#1119b8,#1119b8,#1119b8,#111abb,#121cc3,#111bbf,#121cc3,#121ec8,#111aba,#121cc3,#121cc2,#121fca,#121dc5,#111aba,#121dc3,#121ec8,#111bbf,#1119b8,#121cc2,#111abc,#111abb,#121cc3,#121dc4,#111bc0,#121ec7,#111abd,#111bbf,#111bbe,#121dc6,#121ec8,#121dc3,#121dc5,#121cc0,#1119b8,#111bc0,#111bc0,#121fca,#111abc,#1119b8,#1119b8,#1119b8,#1119b8,#111abc,#1119b8,#111bc0,#121fcc,#111bbe,#1119b8,#111bbe,#121cc1,#111bbf,#1119b8,#1119b9,#1119b9,#121dc5,#1320cd,#121cc0,#111bbf,#1119b8,#1119b9,#121cc0,#1119b8,#1119b8,#1119b8,#1119b8,#111abb,#111abd,#111abb,#111abc,#1119b8,#1119b8,#121cc3,#121dc4,#121cc2,#121ec8,#121cc1,#1119b9,#121cc1,#111abb,#1119b8,#111bc0,#111abd,#111bbf,#1119b8,#1119b8,#1119b8,#111bbe,#121ec8,#111bbd,#111bbf,#121cc0,#121dc5,#111bbe,#111abc,#111aba,#111bbd,#111abc,#121cc1,#121cc2,#1119b8,#111bbe,#111abb,#121cc0,#1119b8,#111abc,#1119b8,#111abb,#111bbe,#111abc,#111abc,#121cc1,#111abc,#121dc4,#111abd,#111aba,#111bbd,#1119b8,#111abb,#121cc2,#111abb,#111bbf,#121cc3,#121cc3,#121dc5,#121cc2,#1119b8,#121dc4,#111bbf,#121cc0,#111bbf,#121cc2)"></i>
<i style="background:linear-gradient(90deg,#111abb,#111bbd,#121dc6,#121dc5,#111bbd,#1119b8,#121cc2,#121cc3,#121ec9,#111bbe,#111bbf,#1119b8,#111abb,#121dc4,#121fcb,#121cc3,#121dc3,#121cc1,#111bbf,#111bbd,#111bbf,#111bbd,#1119b8,#1119b8,#1119b8,#111aba,#121cc2,#111bbf,#121cc3,#121ec8,#111aba,#121cc3,#121cc2,#121fca,#121dc5,#111aba,#121cc3,#121ec8,#111bbf,#1119b8,#121cc2,#111abc,#111aba,#121cc3,#121dc4,#111bc0,#121ec7,#111abd,#111bbf,#111bbd,#121dc6,#121ec8,#121dc3,#121dc5,#121cc0,#1119b8,#111bc0,#111bc0,#121fca,#111abc,#1119b8,#1119b8,#1119b8,#1119b8,#111abc,#1119b8,#111bc0,#121fcc,#111bbe,#1119b8,#111bbe,#121cc1,#111bbf,#1119b8,#1119b9,#1119b9,#121dc5,#1320cd,#121cc0,#111bbf,#1119b8,#1119b9,#121cc0,#1119b8,#1119b8,#1119b8,#1119b8,#111abb,#111abd,#111abb,#111abc,#1119b8,#1119b8,#121cc3,#121dc4,#121cc2,#121ec8,#121cc1,#1119b9,#121cc1,#111abb,#1119b8,#111bc0,#111abd,#111bbf,#1119b8,#1119b8,#1119b8,#111bbe,#121ec8,#111bbd,#111bbf,#121cc0,#121dc5,#111bbe,#111abc,#111aba,#111bbd,#111abc,#121cc1,#121cc2,#1119b8,#111bbe,#111abb,#121cc0,#1119b8,#111abc,#1119b8,#111abb,#111bbe,#111abc,#111abc,#121cc1,#111abc,#121dc4,#111abd,#111aba,#111bbd,#1119b8,#111abb,#121cc2,#111abb,#111bbf,#121cc3,#121cc3,#121dc5,#121cc2,#1119b8,#121dc4,#111bbf,#121cc0,#111bbf,#121cc2)"></i>
<i style="background:linear-gradient(90deg,#121cc1,#121cc2,#121ec9,#1423d7,#121dc4,#111bbe,#111abc,#1119b8,#111abd,#111bbe,#121cc0,#1119b8,#121cc3,#121dc4,#111bbe,#111abc,#111abc,#111bbe,#121dc5,#1119b8,#111abc,#1119b8,#1119b8,#1119b8,#1119b9,#121cc2,#121cc3,#111aba,#121ec8,#121dc6,#121fca,#121dc5,#111bbe,#111abb,#121cc0,#111bbd,#111abb,#111bbf,#1119b8,#1119b8,#111bbd,#121cc1,#121cc2,#111abc,#121dc5,#121dc5,#121cc1,#111bbf,#121cc2,#121dc5,#121cc1,#121cc3,#111bbf,#111bbe,#121cc3,#121dc4,#121cc0,#1119b9,#121cc1,#111bbe,#1119b9,#1119b8,#1119b8,#1119b9,#111abb,#111bbe,#1119b8,#111abb,#111bbe,#121cc1,#111abb,#111abc,#111abc,#111bbd,#121cc0,#121cc1,#121dc5,#121ec8,#111bbe,#121dc5,#1119b8,#1119b8,#111aba,#111bbe,#111bbd,#1119ba,#111bbf,#121ec7,#111bbf,#111abd,#111bc0,#1119b8,#1119b8,#111bbe,#121cc2,#121cc2,#121ec8,#121dc4,#121cc1,#111aba,#1119b8,#1119b9,#111abc,#121cc1,#111abc,#1119b8,#1119b8,#1119b8,#121ec9,#121cc1,#111abb,#111bc0,#111abc,#111abc,#121cc1,#111aba,#111abc,#111bbe,#1119b8,#111bc0,#121dc6,#121dc5,#111abd,#111bbf,#111bbd,#111aba,#1119b9,#1119b8,#1119b8,#121cc1,#111bc0,#121dc4,#111bbe,#121dc6,#121cc0,#121cc3,#111bbe,#111bbf,#121cc3,#1119b8,#121cc3,#121dc6,#121cc2,#121dc6,#111abd,#121cc3,#1119b9,#1119b8,#121cc2,#121fca,#111bbf,#121cc1,#111abc)"></i>
<i style="background:linear-gradient(90deg,#121cc0,#121cc2,#121ec9,#1323d7,#121dc4,#111bbe,#111abc,#1119b8,#111abc,#111bbe,#121cc0,#1119b8,#121cc2,#121dc4,#111bbd,#111abb,#111abc,#111bbe,#121dc5,#1119b8,#111abc,#1119b8,#1119b8,#1119b8,#1119b9,#121cc2,#121cc3,#111aba,#121ec8,#121dc6,#121ec9,#121dc4,#111bbe,#111abb,#121cc0,#111bbd,#111abb,#111bbf,#1119b8,#1119b8,#111abd,#121cc1,#121cc2,#111abc,#121dc5,#121dc5,#121cc1,#111bbf,#121cc2,#121dc5,#121cc1,#121cc3,#111bbf,#111bbe,#121cc3,#121dc4,#121cc0,#1119b9,#121cc1,#111bbd,#1119b9,#1119b8,#1119b8,#1119b9,#111abb,#111bbe,#1119b8,#111abb,#111bbe,#121cc1,#111abb,#111abc,#111abc,#111bbd,#121cc0,#121cc1,#121dc5,#121ec8,#111bbe,#121dc5,#1119b8,#1119b8,#111aba,#111bbe,#111bbd,#1119ba,#111bbf,#121ec7,#111bbf,#111abd,#111bc0,#1119b8,#1119b8,#111bbe,#121cc2,#121cc2,#121ec8,#121dc4,#121cc1,#111aba,#1119b8,#1119b9,#111abc,#121cc1,#111abc,#1119b8,#1119b8,#1119b8,#121ec9,#121cc1,#111abb,#111bc0,#111abc,#111abc,#121cc1,#111aba,#111abc,#111bbe,#1119b8,#111bc0,#121dc6,#121dc5,#111abd,#111bbf,#111bbd,#111aba,#1119b9,#1119b8,#1119b8,#121cc1,#111bc0,#121dc4,#111bbe,#121dc6,#121cc0,#121cc3,#111bbe,#111bbf,#121cc3,#1119b8,#121cc3,#121dc6,#121cc2,#121dc6,#111abd,#121cc3,#1119b9,#1119b8,#121cc2,#121fca,#111bbf,#121cc1,#111abc)"></i>
<i style="background:linear-gradient(90deg,#1119b8,#111bbe,#111bbe,#121dc6,#1119b8,#111abd,#1119ba,#111abc,#111bbf,#1119b8,#111abb,#1119b8,#111bbf,#121cc1,#111bbe,#1119b8,#121dc4,#111bbf,#111bbf,#111abb,#111abc,#1119b8,#111abc,#121cc3,#121dc6,#111abc,#121dc5,#121cc3,#121dc4,#121dc4,#121dc6,#121cc1,#111abc,#1119b8,#1119b8,#1119b8,#1119b9,#1119b8,#1119b8,#111abb,#111bbe,#111aba,#121ec8,#111abc,#121cc2,#1119b9,#111abb,#111bbd,#1119b8,#111bbf,#111abc,#121cc2,#111bbd,#121cc0,#1119b8,#111abb,#111aba,#121cc1,#121cc3,#111abc,#1119b8,#1119b8,#1119b8,#111abb,#111abd,#1119b8,#1119b8,#111aba,#1119b8,#111abb,#121cc0,#121dc6,#121cc1,#1119b8,#121dc5,#121dc5,#121cc1,#121dc5,#121cc1,#121cc2,#111abd,#121cc1,#121cc0,#111bbe,#121dc5,#111abc,#1119b8,#121dc4,#121cc2,#121ec7,#111abc,#1119b8,#111bbf,#111abc,#111aba,#121cc1,#111bbe,#111abc,#111aba,#111aba,#121cc0,#1119b8,#1119b8,#1119b8,#1119b8,#1119b8,#111bbf,#1119b9,#121dc3,#121dc5,#111abb,#1119b8,#121cc2,#1119b8,#121cc2,#121cc3,#111abb,#111bbd,#1119b8,#1119b8,#111bbe,#111bc0,#1119b8,#121ec6,#121cc2,#111bbe,#111aba,#111abc,#111abb,#111aba,#111abd,#1119b9,#121cc3,#121cc1,#1119b8,#1320ce,#1119b9,#1119b8,#121cc3,#111bc0,#121dc6,#1119b8,#111abc,#121cc1,#1119b9,#111abc,#111bbf,#1119b8,#1119b8,#111bbe,#1119b9,#111aba,#121dc5)"></i>
<i style="background:linear-gradient(90deg,#1119b8,#111bbe,#111bbd,#121dc6,#1119b8,#111abc,#1119b9,#111abc,#111bbf,#1119b8,#111abb,#1119b8,#111bbf,#121cc1,#111bbe,#1119b8,#121dc4,#111bbf,#111bbf,#111aba,#111abc,#1119b8,#111abc,#121cc3,#121dc6,#111abc,#121dc5,#121cc3,#121dc4,#121dc3,#121dc6,#121cc1,#111abc,#1119b8,#1119b8,#1119b8,#1119b9,#1119b8,#1119b8,#111abb,#111bbe,#111aba,#121ec8,#111abc,#121cc2,#1119b9,#111abb,#111bbd,#1119b8,#111bbf,#111abc,#121cc2,#111bbd,#121cc0,#1119b8,#111abb,#111aba,#121cc1,#121cc3,#111abc,#1119b8,#1119b8,#1119b8,#111abb,#111abd,#1119b8,#1119b8,#111aba,#1119b8,#111abb,#121cc0,#121dc6,#121cc1,#1119b8,#121dc5,#121dc5,#121cc1,#121dc5,#121cc1,#121cc2,#111abd,#121cc1,#121cc0,#111bbe,#121dc5,#111abc,#1119b8,#121dc4,#121cc2,#121ec7,#111abc,#1119b8,#111bbf,#111abc,#111aba,#121cc1,#111bbe,#111abc,#111aba,#111aba,#121cc0,#1119b8,#1119b8,#1119b8,#1119b8,#1119b8,#111bbf,#1119b9,#121dc3,#121dc5,#111abb,#1119b8,#121cc2,#1119b8,#121cc2,#121cc3,#111abb,#111bbd,#1119b8,#1119b8,#111bbe,#111bc0,#1119b8,#121ec6,#121cc2,#111bbe,#111aba,#111abc,#111abb,#111aba,#111abd,#1119b9,#121cc3,#121cc1,#1119b8,#1320ce,#1119b9,#1119b8,#121cc3,#111bc0,#121dc6,#1119b8,#111abc,#121cc1,#1119b9,#111abc,#111bbf,#1119b8,#1119b8,#111bbe,#1119b9,#111aba,#121dc5)"></i>
</div>
<div id="hb"></div>
<svg width="394" height="525" viewBox="0 0 394 525">
<defs><linearGradient id="cg" x1="0" y1="0" x2="0" y2="1"><stop offset="0.0000" stop-color="#a82d0f"/><stop offset="0.0250" stop-color="#ba300f"/><stop offset="0.0500" stop-color="#c9330f"/><stop offset="0.0750" stop-color="#d6370f"/><stop offset="0.1000" stop-color="#e03c0f"/><stop offset="0.1250" stop-color="#e74411"/><stop offset="0.1500" stop-color="#ed4e13"/><stop offset="0.1750" stop-color="#ef5a15"/><stop offset="0.2000" stop-color="#f06718"/><stop offset="0.2250" stop-color="#ef7620"/><stop offset="0.2500" stop-color="#ef8627"/><stop offset="0.2750" stop-color="#f2972a"/><stop offset="0.3000" stop-color="#f5a82d"/><stop offset="0.3250" stop-color="#f8b930"/><stop offset="0.3500" stop-color="#facb33"/><stop offset="0.3750" stop-color="#f7de38"/><stop offset="0.4000" stop-color="#f5f03d"/><stop offset="0.4250" stop-color="#f0f346"/><stop offset="0.4500" stop-color="#ebf550"/><stop offset="0.4750" stop-color="#daf35f"/><stop offset="0.5000" stop-color="#c9f06d"/><stop offset="0.5250" stop-color="#b1f085"/><stop offset="0.5500" stop-color="#99f09d"/><stop offset="0.5750" stop-color="#84f0b6"/><stop offset="0.6000" stop-color="#70f0d0"/><stop offset="0.6250" stop-color="#65e9e2"/><stop offset="0.6500" stop-color="#5be2f3"/><stop offset="0.6750" stop-color="#54cef7"/><stop offset="0.7000" stop-color="#4cb7fa"/><stop offset="0.7250" stop-color="#419cfa"/><stop offset="0.7500" stop-color="#3580fa"/><stop offset="0.7750" stop-color="#2d69fa"/><stop offset="0.8000" stop-color="#2555fa"/><stop offset="0.8250" stop-color="#1f45f6"/><stop offset="0.8500" stop-color="#1a36f1"/><stop offset="0.8750" stop-color="#172de9"/><stop offset="0.9000" stop-color="#1527df"/><stop offset="0.9250" stop-color="#1323d5"/><stop offset="0.9500" stop-color="#121fcb"/><stop offset="0.9750" stop-color="#121cc2"/><stop offset="1.0000" stop-color="#1119b8"/></linearGradient></defs>
<rect x="364.5" y="1.6" width="17.9" height="197.8" fill="url(#cg)"/>
<path d="M382.1 1.6v197.8" stroke="#281a30" stroke-opacity=".45" stroke-width=".8"/><path d="M364.8 1.6v197.8" stroke="#281a30" stroke-opacity=".2" stroke-width=".6"/>
<rect x="70.5" y="281.5" width="305.5" height="210.0" fill="none" stroke="#606060" stroke-width="1"/>
<path d="M77.4 491.5 v-2.2 M77.4 281.5 v2.2 M126.1 491.5 v-2.2 M126.1 281.5 v2.2 M174.8 491.5 v-2.2 M174.8 281.5 v2.2 M223.5 491.5 v-2.2 M223.5 281.5 v2.2 M272.2 491.5 v-2.2 M272.2 281.5 v2.2 M320.9 491.5 v-2.2 M320.9 281.5 v2.2 M369.6 491.5 v-2.2 M369.6 281.5 v2.2 M70.5 421.6 h2.2 M376.0 421.6 h-2.2 M70.5 351.6 h2.2 M376.0 351.6 h-2.2 " stroke="#7a7a7a" stroke-width="0.7" fill="none"/>
<path d="M70.6 482.5C71.3 481.9 73.4 480.4 75.0 479.0C76.6 477.6 78.6 475.6 80.3 473.8C82.0 472.1 83.3 470.4 85.0 468.5C86.7 466.6 88.3 464.4 90.5 462.4C92.7 460.4 95.5 458.0 98.0 456.3C100.5 454.6 103.4 453.0 105.7 452.2C108.0 451.4 109.6 451.3 112.0 451.3C114.4 451.3 117.5 452.0 120.0 452.3C122.5 452.6 124.7 453.2 127.0 453.2C129.3 453.1 131.3 453.0 133.6 452.0C135.9 451.0 138.4 449.5 141.0 447.3C143.6 445.1 145.8 442.4 149.0 439.0C152.2 435.6 156.7 430.6 160.5 427.0C164.3 423.4 169.1 420.0 172.0 417.6C174.9 415.2 176.2 414.5 178.0 412.6C179.8 410.8 181.3 409.4 183.0 406.5C184.7 403.6 186.5 399.7 188.3 395.0C190.1 390.3 191.8 384.8 193.8 378.5C195.9 372.2 198.3 364.4 200.6 357.0C202.8 349.6 205.3 340.6 207.3 334.0C209.3 327.4 210.7 322.0 212.4 317.5C214.1 313.0 215.8 309.3 217.5 306.8C219.2 304.3 221.2 302.8 222.9 302.5C224.7 302.2 226.3 303.1 228.0 305.3C229.7 307.6 231.5 311.8 233.3 316.0C235.1 320.2 236.9 325.4 238.7 330.7C240.5 336.0 242.2 341.8 244.0 348.0C245.8 354.2 247.5 361.6 249.3 368.0C251.1 374.4 253.3 381.6 255.0 386.5C256.7 391.4 258.2 394.6 259.5 397.6C260.8 400.6 261.7 402.4 263.0 404.5C264.3 406.6 265.9 408.8 267.4 410.5C268.9 412.2 270.1 413.2 272.0 415.0C273.9 416.8 275.9 418.0 279.0 421.0C282.1 424.0 286.9 428.9 290.8 432.8C294.7 436.7 298.9 441.6 302.5 444.5C306.1 447.4 309.4 449.0 312.3 450.2C315.2 451.4 317.5 451.4 320.1 451.5C322.7 451.6 325.4 450.8 328.0 450.6C330.6 450.5 333.2 450.0 335.8 450.6C338.4 451.2 340.7 452.1 343.6 454.3C346.5 456.5 350.1 460.4 353.4 464.0C356.6 467.6 360.2 472.9 363.1 475.8C366.0 478.7 368.9 480.4 371.0 481.6C373.1 482.8 375.0 482.6 375.8 482.8" fill="none" stroke="#f4877a" stroke-width="0.9"/>
<path d="M70.6 483.5C71.3 483.1 73.4 482.0 75.0 481.0C76.6 480.0 77.7 479.3 80.3 477.4C82.9 475.5 87.5 471.8 90.5 469.8C93.5 467.8 95.5 466.6 98.0 465.5C100.5 464.4 102.7 463.7 105.7 463.0C108.7 462.3 112.4 461.6 115.8 461.2C119.2 460.8 122.6 460.8 126.0 460.7C129.4 460.6 132.7 460.5 136.0 460.4C139.3 460.2 143.2 460.1 146.0 459.8C148.8 459.5 150.9 459.1 153.0 458.3C155.1 457.5 156.4 457.1 158.7 455.2C161.0 453.3 164.0 450.3 166.7 446.7C169.4 443.1 172.5 437.3 174.7 433.3C176.9 429.3 177.8 427.2 180.0 422.7C182.2 418.1 185.6 410.7 187.6 406.0C189.6 401.3 190.3 398.1 192.0 394.5C193.7 390.9 195.9 387.0 198.0 384.5C200.1 382.0 202.3 380.7 204.3 379.7C206.3 378.7 207.8 378.3 210.0 378.5C212.2 378.7 215.0 379.7 217.3 380.8C219.6 381.9 221.3 383.2 224.0 385.3C226.7 387.4 230.0 390.8 233.3 393.3C236.6 395.8 240.9 398.5 244.0 400.5C247.1 402.5 248.8 403.1 251.7 405.4C254.6 407.7 258.2 410.5 261.5 414.4C264.8 418.3 268.1 424.2 271.3 428.9C274.6 433.6 277.8 438.6 281.0 442.5C284.2 446.4 287.2 449.4 290.8 452.3C294.4 455.2 298.9 458.5 302.5 460.1C306.1 461.7 308.7 461.8 312.3 462.1C315.9 462.4 320.1 462.0 324.0 462.1C327.9 462.2 332.2 461.9 335.8 462.9C339.4 463.9 341.9 465.6 345.5 468.0C349.1 470.4 353.7 474.6 357.3 477.0C360.9 479.4 363.9 481.1 367.0 482.4C370.1 483.7 374.3 484.4 375.8 484.8" fill="none" stroke="#8a8ff0" stroke-width="0.9"/>
<path d="M70.6 484.3C71.3 484.0 73.4 483.2 75.0 482.5C76.6 481.8 77.7 481.7 80.3 480.0C82.9 478.3 87.5 474.4 90.5 472.3C93.5 470.2 95.5 468.5 98.0 467.3C100.5 466.1 103.2 465.5 105.7 465.0C108.2 464.5 110.3 464.2 113.3 464.2C116.3 464.2 120.3 465.0 123.5 465.2C126.7 465.4 129.4 465.6 132.3 465.2C135.2 464.8 138.4 463.9 141.2 463.0C144.0 462.1 146.7 461.0 149.0 459.6C151.3 458.2 153.2 456.4 155.0 454.5C156.8 452.6 158.1 450.9 160.0 448.5C161.9 446.1 164.2 443.2 166.7 440.0C169.1 436.8 172.5 432.1 174.7 429.3C176.9 426.5 177.8 425.6 180.0 423.2C182.2 420.8 184.9 417.7 188.0 414.7C191.1 411.7 195.1 408.4 198.7 405.3C202.2 402.2 205.8 399.0 209.3 396.0C212.9 393.0 216.9 389.9 220.0 387.5C223.1 385.1 225.8 382.7 228.0 381.3C230.2 379.9 231.5 379.6 233.3 379.2C235.1 378.8 236.9 378.6 238.7 379.2C240.5 379.8 242.2 381.1 244.0 382.7C245.8 384.2 247.7 385.8 249.5 388.5C251.3 391.2 253.1 395.4 254.7 398.7C256.3 402.0 257.5 405.5 259.0 408.5C260.5 411.5 261.4 412.1 263.5 416.5C265.6 420.9 268.7 429.4 271.3 434.7C273.9 440.0 276.4 444.6 279.0 448.4C281.6 452.2 284.3 455.2 286.9 457.4C289.5 459.5 291.4 460.4 294.7 461.3C298.0 462.2 302.6 462.4 306.5 462.5C310.4 462.6 314.3 462.3 318.2 462.1C322.1 461.9 326.8 461.2 330.0 461.3C333.2 461.4 334.8 461.6 337.7 462.9C340.6 464.2 344.2 466.6 347.5 469.1C350.8 471.6 354.1 475.4 357.3 477.7C360.6 480.0 363.9 482.0 367.0 483.2C370.1 484.4 374.3 484.4 375.8 484.6" fill="none" stroke="#84b07e" stroke-width="0.8"/>
<text x="45.3" y="33.2" font-size="15.5" text-anchor="end" fill="#000">−10</text>
<text x="45.3" y="70.4" font-size="15.5" text-anchor="end" fill="#000">−5</text>
<text x="45.3" y="107.6" font-size="15.5" text-anchor="end" fill="#000">0</text>
<text x="45.3" y="144.7" font-size="15.5" text-anchor="end" fill="#000">5</text>
<text x="45.3" y="181.9" font-size="15.5" text-anchor="end" fill="#000">10</text>
<text x="48.5" y="218.2" font-size="15.5" text-anchor="middle" fill="#000">0</text>
<text x="124.2" y="218.2" font-size="15.5" text-anchor="middle" fill="#000">10</text>
<text x="199.8" y="218.2" font-size="15.5" text-anchor="middle" fill="#000">20</text>
<text x="275.5" y="218.2" font-size="15.5" text-anchor="middle" fill="#000">30</text>
<text x="351.1" y="218.2" font-size="15.5" text-anchor="middle" fill="#000">40</text>
<text x="180.2" y="230.2" font-size="17" text-anchor="start" fill="#000">k</text>
<text x="188.3" y="238.0" font-size="11.5" text-anchor="start" fill="#000">x</text>
<text x="197.6" y="230.2" font-size="17" text-anchor="start" fill="#000">/</text>
<text x="206.3" y="230.2" font-size="17" text-anchor="start" fill="#000">k</text>
<text x="214.2" y="238.0" font-size="11.5" text-anchor="start" fill="#000">0</text>
<g transform="translate(12.8,119.7) rotate(-90)"><text x="0.0" y="0.0" font-size="17" text-anchor="start" fill="#000">k</text><text x="8.1" y="7.6" font-size="11.5" text-anchor="start" fill="#000">y</text><text x="17.5" y="0.0" font-size="17" text-anchor="start" fill="#000">/</text><text x="26.2" y="0.0" font-size="17" text-anchor="start" fill="#000">k</text><text x="34.6" y="7.6" font-size="11.5" text-anchor="start" fill="#000">0</text></g>
<text x="385.0" y="186.2" font-size="15.5" text-anchor="start" fill="#000">0</text>
<text x="385.0" y="148.1" font-size="15.5" text-anchor="start" fill="#000">2</text>
<text x="385.0" y="110.0" font-size="15.5" text-anchor="start" fill="#000">4</text>
<text x="385.0" y="71.9" font-size="15.5" text-anchor="start" fill="#000">6</text>
<text x="385.0" y="33.8" font-size="15.5" text-anchor="start" fill="#000">8</text>
<text x="323.5" y="34.0" font-size="30" text-anchor="start" fill="#fff" class="w">a</text>
<text x="70.8" y="277.8" font-size="13" text-anchor="start" fill="#000">x</text>
<text x="82.3" y="277.8" font-size="13" text-anchor="start" fill="#000">10</text>
<text x="94.3" y="271.7" font-size="10.5" text-anchor="start" fill="#000">4</text>
<text x="68.0" y="497.0" font-size="14.8" text-anchor="end" fill="#000">0</text>
<text x="68.0" y="427.1" font-size="14.8" text-anchor="end" fill="#000">5</text>
<text x="68.0" y="357.1" font-size="14.8" text-anchor="end" fill="#000">10</text>
<text x="68.0" y="287.1" font-size="14.8" text-anchor="end" fill="#000">15</text>
<text x="73.8" y="506.8" font-size="14.5" text-anchor="middle" fill="#000">−1.5</text>
<text x="122.5" y="506.8" font-size="14.5" text-anchor="middle" fill="#000">−1</text>
<text x="171.2" y="506.8" font-size="14.5" text-anchor="middle" fill="#000">−0.5</text>
<text x="223.5" y="506.8" font-size="14.5" text-anchor="middle" fill="#000">0</text>
<text x="272.2" y="506.8" font-size="14.5" text-anchor="middle" fill="#000">0.5</text>
<text x="320.9" y="506.8" font-size="14.5" text-anchor="middle" fill="#000">1</text>
<text x="369.6" y="506.8" font-size="14.5" text-anchor="middle" fill="#000">1.5</text>
<text x="223.0" y="520.6" font-size="15" text-anchor="middle" fill="#000">ϕ</text>
<g transform="translate(47.8,387.2) rotate(-90)"><text x="0.0" y="0.0" font-size="13.2" text-anchor="middle" fill="#000" textLength="168" lengthAdjust="spacing">3rd harmonic (arbitrary units)</text></g>
<text x="343.6" y="312.2" font-size="30" text-anchor="start" fill="#000">b</text>
</svg>
</body></html>
